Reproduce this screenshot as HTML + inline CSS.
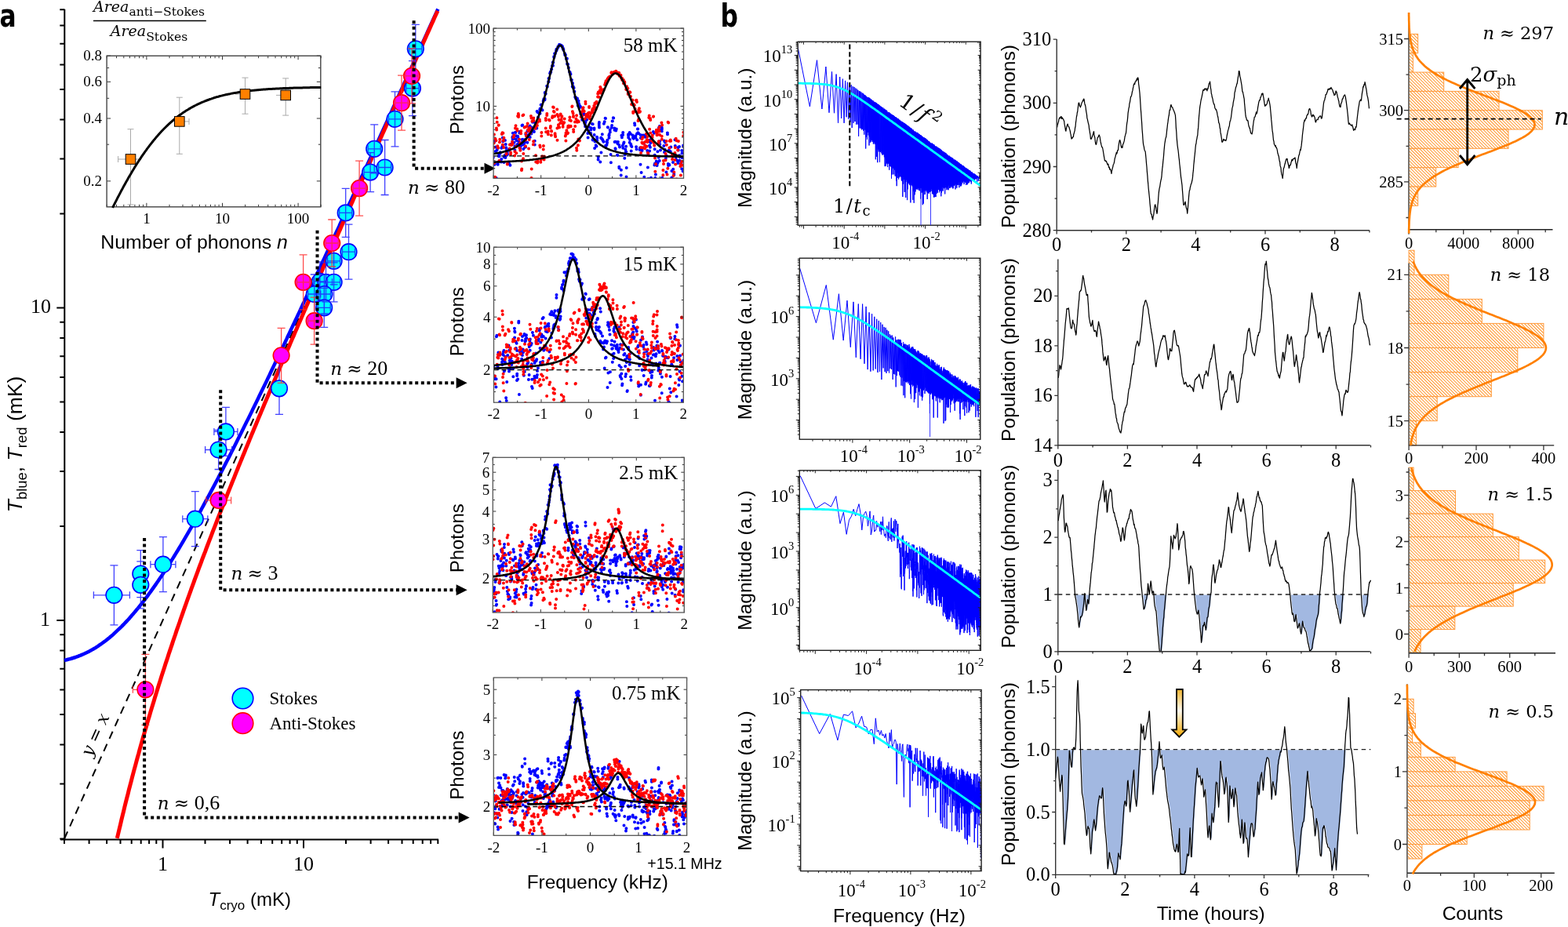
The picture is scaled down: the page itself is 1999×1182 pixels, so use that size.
<!DOCTYPE html><html><head><meta charset="utf-8"><style>html,body{margin:0;padding:0;background:#fff;overflow:hidden}svg{display:block}</style></head><body>
<svg width="1999" height="1182" viewBox="0 0 1999 1182">
<defs>
<pattern id="hatch" patternUnits="userSpaceOnUse" width="2.87" height="10" patternTransform="rotate(-45)"><rect width="2.87" height="10" fill="#fff"/><line x1="0.5" y1="0" x2="0.5" y2="10" stroke="#ff8c1a" stroke-width="0.95"/></pattern>
<linearGradient id="gold" x1="0" y1="0" x2="0" y2="1"><stop offset="0" stop-color="#f2b630"/><stop offset="0.45" stop-color="#fffaf0"/><stop offset="1" stop-color="#f2a800"/></linearGradient>
</defs>
<rect width="1999" height="1182" fill="#fff"/>
<line x1="82.3" y1="11.7" x2="82.3" y2="1071.4" stroke="#000" stroke-width="2" />
<line x1="77" y1="1070.4" x2="559" y2="1070.4" stroke="#000" stroke-width="2" />
<path d="M82 1070.4V1075.9M82.3 1069.5H76.3M113.6 1070.4V1075.9M82.3 999.4H76.3M136.1 1070.4V1075.9M82.3 949.6H76.3M153.5 1070.4V1075.9M82.3 911H76.3M167.7 1070.4V1075.9M82.3 879.4H76.3M179.7 1070.4V1075.9M82.3 852.7H76.3M190.1 1070.4V1075.9M82.3 829.6H76.3M199.3 1070.4V1075.9M82.3 809.2H76.3M207.5 1070.4V1081.4M82.3 791H72.3M261.5 1070.4V1075.9M82.3 671H76.3M293.1 1070.4V1075.9M82.3 600.9H76.3M315.6 1070.4V1075.9M82.3 551.1H76.3M333 1070.4V1075.9M82.3 512.5H76.3M347.2 1070.4V1075.9M82.3 480.9H76.3M359.2 1070.4V1075.9M82.3 454.2H76.3M369.6 1070.4V1075.9M82.3 431.1H76.3M378.8 1070.4V1075.9M82.3 410.7H76.3M387 1070.4V1081.4M82.3 392.5H72.3M441 1070.4V1075.9M82.3 272.5H76.3M472.6 1070.4V1075.9M82.3 202.4H76.3M495.1 1070.4V1075.9M82.3 152.6H76.3M512.5 1070.4V1075.9M82.3 114H76.3M526.7 1070.4V1075.9M82.3 82.4H76.3M538.7 1070.4V1075.9M82.3 55.7H76.3M549.1 1070.4V1075.9M82.3 32.6H76.3M558.3 1070.4V1075.9M82.3 12.2H76.3" stroke="#000" stroke-width="2" fill="none"/>
<text x="207.5" y="1109.7" style="font-family:'Liberation Serif',serif;font-size:26px;" text-anchor="middle" >1</text>
<text x="387" y="1109.7" style="font-family:'Liberation Serif',serif;font-size:26px;" text-anchor="middle" >10</text>
<text x="65" y="398.6" style="font-family:'Liberation Serif',serif;font-size:26px;" text-anchor="end" >10</text>
<text x="64" y="797.5" style="font-family:'Liberation Serif',serif;font-size:26px;" text-anchor="end" >1</text>
<polyline points="82,1069.5 526.7,82.4" fill="none" stroke="#000" stroke-width="2" stroke-linejoin="round" stroke-dasharray="10 7.5"/>
<polyline points="82,842 83.6,841.6 85.2,841.2 86.8,840.8 88.4,840.4 90,840 91.6,839.5 93.2,839 94.8,838.5 96.4,838 98,837.4 99.6,836.8 101.1,836.2 102.7,835.6 104.3,834.9 105.9,834.2 107.5,833.5 109.1,832.7 110.7,832 112.3,831.2 113.9,830.4 115.5,829.5 117.1,828.6 118.7,827.7 120.3,826.8 121.9,825.8 123.4,824.8 125,823.8 126.6,822.7 128.2,821.6 129.8,820.5 131.4,819.3 133,818.2 134.6,817 136.2,815.7 137.8,814.4 139.4,813.2 141,811.8 142.6,810.5 144.2,809.1 145.7,807.7 147.3,806.2 148.9,804.7 150.5,803.2 152.1,801.7 153.7,800.1 155.3,798.6 156.9,796.9 158.5,795.3 160.1,793.6 161.7,791.9 163.3,790.2 164.9,788.4 166.5,786.6 168,784.8 169.6,783 171.2,781.1 172.8,779.2 174.4,777.3 176,775.4 177.6,773.4 179.2,771.4 180.8,769.4 182.4,767.3 184,765.3 185.6,763.2 187.2,761.1 188.8,758.9 190.3,756.8 191.9,754.6 193.5,752.4 195.1,750.1 196.7,747.9 198.3,745.6 199.9,743.3 201.5,741 203.1,738.6 204.7,736.3 206.3,733.9 207.9,731.5 209.5,729.1 211.1,726.6 212.6,724.2 214.2,721.7 215.8,719.2 217.4,716.7 219,714.1 220.6,711.6 222.2,709 223.8,706.4 225.4,703.8 227,701.2 228.6,698.5 230.2,695.9 231.8,693.2 233.4,690.5 234.9,687.8 236.5,685.1 238.1,682.4 239.7,679.6 241.3,676.9 242.9,674.1 244.5,671.3 246.1,668.5 247.7,665.7 249.3,662.8 250.9,660 252.5,657.1 254.1,654.3 255.7,651.4 257.2,648.5 258.8,645.6 260.4,642.6 262,639.7 263.6,636.8 265.2,633.8 266.8,630.9 268.4,627.9 270,624.9 271.6,621.9 273.2,618.9 274.8,615.9 276.4,612.8 278,609.8 279.5,606.8 281.1,603.7 282.7,600.6 284.3,597.6 285.9,594.5 287.5,591.4 289.1,588.3 290.7,585.2 292.3,582.1 293.9,578.9 295.5,575.8 297.1,572.7 298.7,569.5 300.3,566.3 301.8,563.2 303.4,560 305,556.8 306.6,553.7 308.2,550.5 309.8,547.3 311.4,544.1 313,540.8 314.6,537.6 316.2,534.4 317.8,531.2 319.4,527.9 321,524.7 322.5,521.4 324.1,518.2 325.7,514.9 327.3,511.7 328.9,508.4 330.5,505.1 332.1,501.8 333.7,498.5 335.3,495.3 336.9,492 338.5,488.7 340.1,485.4 341.7,482 343.3,478.7 344.8,475.4 346.4,472.1 348,468.8 349.6,465.4 351.2,462.1 352.8,458.8 354.4,455.4 356,452.1 357.6,448.7 359.2,445.4 360.8,442 362.4,438.6 364,435.3 365.6,431.9 367.1,428.5 368.7,425.2 370.3,421.8 371.9,418.4 373.5,415 375.1,411.6 376.7,408.2 378.3,404.9 379.9,401.5 381.5,398.1 383.1,394.7 384.7,391.2 386.3,387.8 387.9,384.4 389.4,381 391,377.6 392.6,374.2 394.2,370.8 395.8,367.3 397.4,363.9 399,360.5 400.6,357.1 402.2,353.6 403.8,350.2 405.4,346.8 407,343.3 408.6,339.9 410.2,336.5 411.7,333 413.3,329.6 414.9,326.1 416.5,322.7 418.1,319.2 419.7,315.8 421.3,312.3 422.9,308.9 424.5,305.4 426.1,301.9 427.7,298.5 429.3,295 430.9,291.6 432.5,288.1 434,284.6 435.6,281.2 437.2,277.7 438.8,274.2 440.4,270.8 442,267.3 443.6,263.8 445.2,260.3 446.8,256.9 448.4,253.4 450,249.9 451.6,246.4 453.2,242.9 454.8,239.5 456.3,236 457.9,232.5 459.5,229 461.1,225.5 462.7,222 464.3,218.5 465.9,215.1 467.5,211.6 469.1,208.1 470.7,204.6 472.3,201.1 473.9,197.6 475.5,194.1 477.1,190.6 478.6,187.1 480.2,183.6 481.8,180.1 483.4,176.6 485,173.1 486.6,169.6 488.2,166.1 489.8,162.6 491.4,159.1 493,155.6 494.6,152.1 496.2,148.6 497.8,145.1 499.4,141.6 500.9,138.1 502.5,134.6 504.1,131.1 505.7,127.6 507.3,124.1 508.9,120.5 510.5,117 512.1,113.5 513.7,110 515.3,106.5 516.9,103 518.5,99.5 520.1,96 521.7,92.5 523.2,88.9 524.8,85.4 526.4,81.9 528,78.4 529.6,74.9 531.2,71.4 532.8,67.8 534.4,64.3 536,60.8 537.6,57.3 539.2,53.8 540.8,50.3 542.4,46.7 544,43.2 545.5,39.7 547.1,36.2 548.7,32.7 550.3,29.1 551.9,25.6 553.5,22.1 555.1,18.6 556.7,15.1 558.3,11.5" fill="none" stroke="#0000ff" stroke-width="4.5" stroke-linejoin="round" />
<polyline points="149.3,1068.9 150.7,1063 152.1,1057.2 153.5,1051.4 154.8,1045.6 156.2,1039.9 157.6,1034.3 158.9,1028.7 160.3,1023.2 161.7,1017.7 163.1,1012.3 164.4,1006.9 165.8,1001.6 167.2,996.3 168.5,991.1 169.9,985.9 171.3,980.7 172.7,975.6 174,970.6 175.4,965.5 176.8,960.6 178.1,955.6 179.5,950.7 180.9,945.8 182.2,941 183.6,936.2 185,931.4 186.4,926.7 187.7,922 189.1,917.3 190.5,912.7 191.8,908.1 193.2,903.5 194.6,899 196,894.5 197.3,890 198.7,885.5 200.1,881.1 201.4,876.7 202.8,872.3 204.2,867.9 205.5,863.6 206.9,859.3 208.3,855 209.7,850.8 211,846.6 212.4,842.4 213.8,838.2 215.1,834 216.5,829.9 217.9,825.7 219.3,821.6 220.6,817.6 222,813.5 223.4,809.5 224.7,805.4 226.1,801.4 227.5,797.5 228.9,793.5 230.2,789.5 231.6,785.6 233,781.7 234.3,777.8 235.7,773.9 237.1,770 238.4,766.2 239.8,762.3 241.2,758.5 242.6,754.7 243.9,750.9 245.3,747.1 246.7,743.4 248,739.6 249.4,735.9 250.8,732.2 252.2,728.4 253.5,724.7 254.9,721 256.3,717.4 257.6,713.7 259,710 260.4,706.4 261.8,702.8 263.1,699.2 264.5,695.5 265.9,691.9 267.2,688.4 268.6,684.8 270,681.2 271.3,677.6 272.7,674.1 274.1,670.6 275.5,667 276.8,663.5 278.2,660 279.6,656.5 280.9,653 282.3,649.5 283.7,646 285.1,642.5 286.4,639.1 287.8,635.6 289.2,632.2 290.5,628.7 291.9,625.3 293.3,621.9 294.7,618.4 296,615 297.4,611.6 298.8,608.2 300.1,604.8 301.5,601.4 302.9,598 304.2,594.7 305.6,591.3 307,587.9 308.4,584.6 309.7,581.2 311.1,577.9 312.5,574.5 313.8,571.2 315.2,567.9 316.6,564.5 318,561.2 319.3,557.9 320.7,554.6 322.1,551.3 323.4,548 324.8,544.7 326.2,541.4 327.6,538.1 328.9,534.8 330.3,531.5 331.7,528.3 333,525 334.4,521.7 335.8,518.5 337.1,515.2 338.5,511.9 339.9,508.7 341.3,505.4 342.6,502.2 344,499 345.4,495.7 346.7,492.5 348.1,489.3 349.5,486 350.9,482.8 352.2,479.6 353.6,476.4 355,473.2 356.3,469.9 357.7,466.7 359.1,463.5 360.5,460.3 361.8,457.1 363.2,453.9 364.6,450.7 365.9,447.5 367.3,444.4 368.7,441.2 370,438 371.4,434.8 372.8,431.6 374.2,428.5 375.5,425.3 376.9,422.1 378.3,418.9 379.6,415.8 381,412.6 382.4,409.4 383.8,406.3 385.1,403.1 386.5,400 387.9,396.8 389.2,393.7 390.6,390.5 392,387.4 393.4,384.2 394.7,381.1 396.1,377.9 397.5,374.8 398.8,371.6 400.2,368.5 401.6,365.4 402.9,362.2 404.3,359.1 405.7,356 407.1,352.8 408.4,349.7 409.8,346.6 411.2,343.5 412.5,340.3 413.9,337.2 415.3,334.1 416.7,331 418,327.8 419.4,324.7 420.8,321.6 422.1,318.5 423.5,315.4 424.9,312.3 426.3,309.2 427.6,306.1 429,302.9 430.4,299.8 431.7,296.7 433.1,293.6 434.5,290.5 435.8,287.4 437.2,284.3 438.6,281.2 440,278.1 441.3,275 442.7,271.9 444.1,268.8 445.4,265.7 446.8,262.6 448.2,259.5 449.6,256.4 450.9,253.3 452.3,250.3 453.7,247.2 455,244.1 456.4,241 457.8,237.9 459.2,234.8 460.5,231.7 461.9,228.6 463.3,225.6 464.6,222.5 466,219.4 467.4,216.3 468.7,213.2 470.1,210.1 471.5,207.1 472.9,204 474.2,200.9 475.6,197.8 477,194.7 478.3,191.7 479.7,188.6 481.1,185.5 482.5,182.4 483.8,179.4 485.2,176.3 486.6,173.2 487.9,170.1 489.3,167.1 490.7,164 492.1,160.9 493.4,157.8 494.8,154.8 496.2,151.7 497.5,148.6 498.9,145.6 500.3,142.5 501.6,139.4 503,136.3 504.4,133.3 505.8,130.2 507.1,127.1 508.5,124.1 509.9,121 511.2,117.9 512.6,114.9 514,111.8 515.4,108.8 516.7,105.7 518.1,102.6 519.5,99.6 520.8,96.5 522.2,93.4 523.6,90.4 525,87.3 526.3,84.2 527.7,81.2 529.1,78.1 530.4,75.1 531.8,72 533.2,68.9 534.5,65.9 535.9,62.8 537.3,59.8 538.7,56.7 540,53.6 541.4,50.6 542.8,47.5 544.1,44.5 545.5,41.4 546.9,38.4 548.3,35.3 549.6,32.2 551,29.2 552.4,26.1 553.7,23.1 555.1,20 556.5,17 557.9,13.9" fill="none" stroke="#ff0000" stroke-width="5" stroke-linejoin="round" />
<path d="M356 462.3V528.3M351 462.3H361M351 528.3H361M348 495.3H364M348 490.8V499.8M364 490.8V499.8M287.9 519.4V581.4M282.9 519.4H292.9M282.9 581.4H292.9M272.9 550.4H302.9M272.9 545.9V554.9M302.9 545.9V554.9M278.6 548.5V598.5M273.6 548.5H283.6M273.6 598.5H283.6M261.6 573.5H295.6M261.6 569V578M295.6 569V578M248.8 626.7V696.7M243.8 626.7H253.8M243.8 696.7H253.8M232.8 661.7H264.8M232.8 657.2V666.2M264.8 657.2V666.2M207.9 684.7V754.7M202.9 684.7H212.9M202.9 754.7H212.9M191.9 719.7H223.9M191.9 715.2V724.2M223.9 715.2V724.2M179.3 701.6V761.6M174.3 701.6H184.3M174.3 761.6H184.3M171.3 731.6H187.3M171.3 727.1V736.1M187.3 727.1V736.1M179.3 715.8V775.8M174.3 715.8H184.3M174.3 775.8H184.3M171.3 745.8H187.3M171.3 741.3V750.3M187.3 741.3V750.3M145.4 720.8V796.8M140.4 720.8H150.4M140.4 796.8H150.4M119.4 758.8H165.4M119.4 754.3V763.3M165.4 754.3V763.3" stroke="#2020ff" stroke-width="1.3" fill="none" opacity="0.85"/>
<circle cx="356" cy="495.3" r="10.3" fill="#00ffff" stroke="#0000ff" stroke-width="1.6"/>
<circle cx="287.9" cy="550.4" r="10.3" fill="#00ffff" stroke="#0000ff" stroke-width="1.6"/>
<circle cx="278.6" cy="573.5" r="10.3" fill="#00ffff" stroke="#0000ff" stroke-width="1.6"/>
<circle cx="248.8" cy="661.7" r="10.3" fill="#00ffff" stroke="#0000ff" stroke-width="1.6"/>
<circle cx="207.9" cy="719.7" r="10.3" fill="#00ffff" stroke="#0000ff" stroke-width="1.6"/>
<circle cx="179.3" cy="731.6" r="10.3" fill="#00ffff" stroke="#0000ff" stroke-width="1.6"/>
<circle cx="179.3" cy="745.8" r="10.3" fill="#00ffff" stroke="#0000ff" stroke-width="1.6"/>
<circle cx="145.4" cy="758.8" r="10.3" fill="#00ffff" stroke="#0000ff" stroke-width="1.6"/>
<path d="M358.6 418.3V488.3M353.6 418.3H363.6M353.6 488.3H363.6M350.6 453.3H366.6M350.6 448.8V457.8M366.6 448.8V457.8M278.6 629.9V645.9M273.6 629.9H283.6M273.6 645.9H283.6M262.6 637.9H294.6M262.6 633.4V642.4M294.6 633.4V642.4M185.4 834.3V924.3M180.4 834.3H190.4M180.4 924.3H190.4M169.4 879.3H188.4M169.4 874.8V883.8M188.4 874.8V883.8" stroke="#ff3030" stroke-width="1.3" fill="none" opacity="0.85"/>
<circle cx="358.6" cy="453.3" r="10.3" fill="#ff00ff" stroke="#ff0000" stroke-width="1.6"/>
<circle cx="278.6" cy="637.9" r="10.3" fill="#ff00ff" stroke="#ff0000" stroke-width="1.6"/>
<circle cx="185.4" cy="879.3" r="10.3" fill="#ff00ff" stroke="#ff0000" stroke-width="1.6"/>
<circle cx="529.8" cy="62.3" r="10.3" fill="#00ffff" stroke="#0000ff" stroke-width="1.6"/>
<circle cx="525.9" cy="112.6" r="10.3" fill="#00ffff" stroke="#0000ff" stroke-width="1.6"/>
<circle cx="503.5" cy="151.8" r="10.3" fill="#00ffff" stroke="#0000ff" stroke-width="1.6"/>
<circle cx="477.2" cy="189.8" r="10.3" fill="#00ffff" stroke="#0000ff" stroke-width="1.6"/>
<circle cx="472.1" cy="219.6" r="10.3" fill="#00ffff" stroke="#0000ff" stroke-width="1.6"/>
<circle cx="490.6" cy="213.5" r="10.3" fill="#00ffff" stroke="#0000ff" stroke-width="1.6"/>
<circle cx="440.7" cy="271.4" r="10.3" fill="#00ffff" stroke="#0000ff" stroke-width="1.6"/>
<circle cx="444.5" cy="321.2" r="10.3" fill="#00ffff" stroke="#0000ff" stroke-width="1.6"/>
<circle cx="425.6" cy="332.8" r="10.3" fill="#00ffff" stroke="#0000ff" stroke-width="1.6"/>
<circle cx="407.9" cy="358.8" r="10.3" fill="#00ffff" stroke="#0000ff" stroke-width="1.6"/>
<circle cx="415.5" cy="359.8" r="10.3" fill="#00ffff" stroke="#0000ff" stroke-width="1.6"/>
<circle cx="425.6" cy="359.8" r="10.3" fill="#00ffff" stroke="#0000ff" stroke-width="1.6"/>
<circle cx="400.8" cy="375" r="10.3" fill="#00ffff" stroke="#0000ff" stroke-width="1.6"/>
<circle cx="413.4" cy="375" r="10.3" fill="#00ffff" stroke="#0000ff" stroke-width="1.6"/>
<circle cx="413.2" cy="392.3" r="10.3" fill="#00ffff" stroke="#0000ff" stroke-width="1.6"/>
<path d="M529.8 31.3V93.3M524.8 31.3H534.8M524.8 93.3H534.8M521.8 62.3H537.8M521.8 57.8V66.8M537.8 57.8V66.8M525.9 77.6V147.6M520.9 77.6H530.9M520.9 147.6H530.9M517.9 112.6H533.9M517.9 108.1V117.1M533.9 108.1V117.1M503.5 116.8V186.8M498.5 116.8H508.5M498.5 186.8H508.5M495.5 151.8H511.5M495.5 147.3V156.3M511.5 147.3V156.3M477.2 158.8V220.8M472.2 158.8H482.2M472.2 220.8H482.2M469.2 189.8H485.2M469.2 185.3V194.3M485.2 185.3V194.3M472.1 194.6V244.6M467.1 194.6H477.1M467.1 244.6H477.1M464.1 219.6H480.1M464.1 215.1V224.1M480.1 215.1V224.1M490.6 178.5V248.5M485.6 178.5H495.6M485.6 248.5H495.6M482.6 213.5H498.6M482.6 209V218M498.6 209V218M440.7 240.4V302.4M435.7 240.4H445.7M435.7 302.4H445.7M432.7 271.4H448.7M432.7 266.9V275.9M448.7 266.9V275.9M444.5 286.2V356.2M439.5 286.2H449.5M439.5 356.2H449.5M436.5 321.2H452.5M436.5 316.7V325.7M452.5 316.7V325.7M425.6 302.8V362.8M420.6 302.8H430.6M420.6 362.8H430.6M417.6 332.8H433.6M417.6 328.3V337.3M433.6 328.3V337.3M407.9 333.8V383.8M402.9 333.8H412.9M402.9 383.8H412.9M399.9 358.8H415.9M399.9 354.3V363.3M415.9 354.3V363.3M415.5 334.8V384.8M410.5 334.8H420.5M410.5 384.8H420.5M407.5 359.8H423.5M407.5 355.3V364.3M423.5 355.3V364.3M425.6 334.8V384.8M420.6 334.8H430.6M420.6 384.8H430.6M417.6 359.8H433.6M417.6 355.3V364.3M433.6 355.3V364.3M400.8 350V400M395.8 350H405.8M395.8 400H405.8M392.8 375H408.8M392.8 370.5V379.5M408.8 370.5V379.5M413.4 350V400M408.4 350H418.4M408.4 400H418.4M405.4 375H421.4M405.4 370.5V379.5M421.4 370.5V379.5M413.2 367.3V417.3M408.2 367.3H418.2M408.2 417.3H418.2M405.2 392.3H421.2M405.2 387.8V396.8M421.2 387.8V396.8" stroke="#2020ff" stroke-width="1.3" fill="none" opacity="0.85"/>
<circle cx="525" cy="96.8" r="10.3" fill="#ff00ff" stroke="#ff0000" stroke-width="1.6"/>
<circle cx="512" cy="131.2" r="10.3" fill="#ff00ff" stroke="#ff0000" stroke-width="1.6"/>
<circle cx="458.1" cy="240.1" r="10.3" fill="#ff00ff" stroke="#ff0000" stroke-width="1.6"/>
<circle cx="423.2" cy="310" r="10.3" fill="#ff00ff" stroke="#ff0000" stroke-width="1.6"/>
<circle cx="386.6" cy="359.8" r="10.3" fill="#ff00ff" stroke="#ff0000" stroke-width="1.6"/>
<circle cx="400.6" cy="409.2" r="10.3" fill="#ff00ff" stroke="#ff0000" stroke-width="1.6"/>
<path d="M525 61.8V131.8M520 61.8H530M520 131.8H530M517 96.8H533M517 92.3V101.3M533 92.3V101.3M512 96.2V166.2M507 96.2H517M507 166.2H517M504 131.2H520M504 126.7V135.7M520 126.7V135.7M458.1 205.1V275.1M453.1 205.1H463.1M453.1 275.1H463.1M450.1 240.1H466.1M450.1 235.6V244.6M466.1 235.6V244.6M423.2 280V340M418.2 280H428.2M418.2 340H428.2M415.2 310H431.2M415.2 305.5V314.5M431.2 305.5V314.5M386.6 324.8V394.8M381.6 324.8H391.6M381.6 394.8H391.6M378.6 359.8H394.6M378.6 355.3V364.3M394.6 355.3V364.3M400.6 379.2V439.2M395.6 379.2H405.6M395.6 439.2H405.6M392.6 409.2H408.6M392.6 404.7V413.7M408.6 404.7V413.7" stroke="#ff3030" stroke-width="1.3" fill="none" opacity="0.85"/>
<polyline points="527.6,26.2 527.6,214.7 618.5,214.7" fill="none" stroke="#000" stroke-width="4" stroke-linejoin="round" stroke-dasharray="4 3.6" stroke-linejoin="miter"/>
<polygon points="617.5,207.7 631.5,214.7 617.5,221.7" fill="#000"/>
<polyline points="404.5,293.8 404.5,488.3 582.6,488.3" fill="none" stroke="#000" stroke-width="4" stroke-linejoin="round" stroke-dasharray="4 3.6" stroke-linejoin="miter"/>
<polygon points="581.6,481.3 595.6,488.3 581.6,495.3" fill="#000"/>
<polyline points="281.2,497.2 281.2,752.2 582.6,752.2" fill="none" stroke="#000" stroke-width="4" stroke-linejoin="round" stroke-dasharray="4 3.6" stroke-linejoin="miter"/>
<polygon points="581.6,745.2 595.6,752.2 581.6,759.2" fill="#000"/>
<polyline points="184.1,685.9 184.1,1042.6 585.6,1042.6" fill="none" stroke="#000" stroke-width="4" stroke-linejoin="round" stroke-dasharray="4 3.6" stroke-linejoin="miter"/>
<polygon points="584.6,1035.6 598.6,1042.6 584.6,1049.6" fill="#000"/>
<circle cx="309.5" cy="890.5" r="13.3" fill="#00ffff" stroke="#0000ff" stroke-width="1.6"/>
<circle cx="309.5" cy="922.2" r="13.3" fill="#ff00ff" stroke="#ff0000" stroke-width="1.6"/>
<text x="343.5" y="898.4" style="font-family:'Liberation Serif',serif;font-size:23px;" text-anchor="start" >Stokes</text>
<text x="343.5" y="929.7" style="font-family:'Liberation Serif',serif;font-size:23px;" text-anchor="start" >Anti-Stokes</text>
<text x="520" y="247.4" style="font-family:'DejaVu Serif',serif;font-size:23px;font-style:italic">n</text>
<text x="541" y="247.4" style="font-family:'DejaVu Serif',serif;font-size:23px">≈</text>
<text x="567" y="247.4" style="font-family:'Liberation Serif',serif;font-size:26px">80</text>
<text x="421.3" y="478" style="font-family:'DejaVu Serif',serif;font-size:23px;font-style:italic">n</text>
<text x="442.3" y="478" style="font-family:'DejaVu Serif',serif;font-size:23px">≈</text>
<text x="468.3" y="478" style="font-family:'Liberation Serif',serif;font-size:26px">20</text>
<text x="294.4" y="738.7" style="font-family:'DejaVu Serif',serif;font-size:23px;font-style:italic">n</text>
<text x="315.4" y="738.7" style="font-family:'DejaVu Serif',serif;font-size:23px">≈</text>
<text x="341.4" y="738.7" style="font-family:'Liberation Serif',serif;font-size:26px">3</text>
<text x="200.7" y="1031.7" style="font-family:'DejaVu Serif',serif;font-size:23px;font-style:italic">n</text>
<text x="221.7" y="1031.7" style="font-family:'DejaVu Serif',serif;font-size:23px">≈</text>
<text x="247.7" y="1031.7" style="font-family:'Liberation Serif',serif;font-size:26px">0,6</text>
<text transform="translate(128,940) rotate(-65.8)" style="font-family:'DejaVu Serif',serif;font-size:22px;font-style:italic" text-anchor="middle">y = x</text>
<text transform="translate(-0.5,33.8) scale(0.87,1)" style="font-family:'DejaVu Sans Condensed','DejaVu Sans',sans-serif;font-size:40px;font-weight:bold">a</text>
<text transform="translate(28,566.5) rotate(-90)" style="font-family:'Liberation Sans',sans-serif;font-size:26.5px" text-anchor="middle"><tspan font-style="italic">T</tspan><tspan font-size="18.5" dy="6">blue</tspan><tspan dy="-6">, </tspan><tspan font-style="italic">T</tspan><tspan font-size="18.5" dy="6">red</tspan><tspan dy="-6"> (mK)</tspan></text>
<text x="265.5" y="1154.5" style="font-family:'Liberation Sans',sans-serif;font-size:24px"><tspan font-style="italic">T</tspan><tspan font-size="17" dy="5">cryo</tspan><tspan dy="-5"> (mK)</tspan></text>
<path d="M136.4 263.8V260.8M136.4 71.2V74.2M148.5 263.8V260.8M148.5 71.2V74.2M157.8 263.8V260.8M157.8 71.2V74.2M165.5 263.8V260.8M165.5 71.2V74.2M171.9 263.8V260.8M171.9 71.2V74.2M177.5 263.8V260.8M177.5 71.2V74.2M182.5 263.8V260.8M182.5 71.2V74.2M186.9 263.8V258.8M186.9 71.2V76.2M216 263.8V260.8M216 71.2V74.2M233 263.8V260.8M233 71.2V74.2M245.1 263.8V260.8M245.1 71.2V74.2M254.4 263.8V260.8M254.4 71.2V74.2M262.1 263.8V260.8M262.1 71.2V74.2M268.5 263.8V260.8M268.5 71.2V74.2M274.1 263.8V260.8M274.1 71.2V74.2M279.1 263.8V260.8M279.1 71.2V74.2M283.5 263.8V258.8M283.5 71.2V76.2M312.6 263.8V260.8M312.6 71.2V74.2M329.6 263.8V260.8M329.6 71.2V74.2M341.7 263.8V260.8M341.7 71.2V74.2M351 263.8V260.8M351 71.2V74.2M358.7 263.8V260.8M358.7 71.2V74.2M365.1 263.8V260.8M365.1 71.2V74.2M370.7 263.8V260.8M370.7 71.2V74.2M375.7 263.8V260.8M375.7 71.2V74.2M380.1 263.8V258.8M380.1 71.2V76.2M409.2 263.8V260.8M409.2 71.2V74.2M136.1 230.9H141.1M408.8 230.9H403.8M136.1 184.2H139.1M408.8 184.2H405.8M136.1 151H141.1M408.8 151H403.8M136.1 125.3H139.1M408.8 125.3H405.8M136.1 104.3H141.1M408.8 104.3H403.8M136.1 86.6H139.1M408.8 86.6H405.8M136.1 71.2H141.1M408.8 71.2H403.8" stroke="#333" stroke-width="1" fill="none"/>
<rect x="136.1" y="71.2" width="272.7" height="192.6" fill="none" stroke="#444" stroke-width="1.4"/>
<text x="130" y="77.2" style="font-family:'Liberation Serif',serif;font-size:19px;" text-anchor="end" >0.8</text>
<text x="130" y="110.3" style="font-family:'Liberation Serif',serif;font-size:19px;" text-anchor="end" >0.6</text>
<text x="130" y="157" style="font-family:'Liberation Serif',serif;font-size:19px;" text-anchor="end" >0.4</text>
<text x="130" y="236.9" style="font-family:'Liberation Serif',serif;font-size:19px;" text-anchor="end" >0.2</text>
<text x="186.9" y="284.8" style="font-family:'Liberation Serif',serif;font-size:19px;" text-anchor="middle" >1</text>
<text x="283.5" y="284.8" style="font-family:'Liberation Serif',serif;font-size:19px;" text-anchor="middle" >10</text>
<text x="380.1" y="284.8" style="font-family:'Liberation Serif',serif;font-size:19px;" text-anchor="middle" >100</text>
<path d="M166.5 164.7V261M162.5 164.7H170.5M162.5 261H170.5M228.8 124.2V196.3M224.8 124.2H232.8M224.8 196.3H232.8M312.5 99.1V145.2M308.5 99.1H316.5M308.5 145.2H316.5M364.2 99.9V147.1M360.2 99.9H368.2M360.2 147.1H368.2M150.6 203H180M150.6 199V207M232 154.9H241M241 151V159M300 120H306M352 121.4H358" stroke="#aaa" stroke-width="1" fill="none"/>
<polyline points="143.6,264.9 144.9,262.2 146.2,259.6 147.6,256.9 148.9,254.3 150.2,251.7 151.6,249.1 152.9,246.6 154.2,244.1 155.6,241.6 156.9,239.1 158.3,236.6 159.6,234.2 160.9,231.8 162.3,229.4 163.6,227.1 164.9,224.8 166.3,222.5 167.6,220.2 168.9,218 170.3,215.8 171.6,213.6 172.9,211.5 174.3,209.3 175.6,207.3 176.9,205.2 178.3,203.2 179.6,201.1 180.9,199.2 182.3,197.2 183.6,195.3 184.9,193.4 186.3,191.6 187.6,189.7 189,187.9 190.3,186.1 191.6,184.4 193,182.7 194.3,181 195.6,179.3 197,177.7 198.3,176.1 199.6,174.5 201,173 202.3,171.5 203.6,170 205,168.5 206.3,167.1 207.6,165.7 209,164.3 210.3,163 211.6,161.7 213,160.4 214.3,159.1 215.6,157.9 217,156.6 218.3,155.5 219.6,154.3 221,153.2 222.3,152 223.7,150.9 225,149.9 226.3,148.8 227.7,147.8 229,146.8 230.3,145.9 231.7,144.9 233,144 234.3,143.1 235.7,142.2 237,141.3 238.3,140.5 239.7,139.7 241,138.9 242.3,138.1 243.7,137.3 245,136.6 246.3,135.9 247.7,135.1 249,134.5 250.3,133.8 251.7,133.1 253,132.5 254.4,131.9 255.7,131.3 257,130.7 258.4,130.1 259.7,129.6 261,129 262.4,128.5 263.7,128 265,127.5 266.4,127 267.7,126.5 269,126.1 270.4,125.6 271.7,125.2 273,124.7 274.4,124.3 275.7,123.9 277,123.5 278.4,123.2 279.7,122.8 281,122.4 282.4,122.1 283.7,121.8 285.1,121.4 286.4,121.1 287.7,120.8 289.1,120.5 290.4,120.2 291.7,119.9 293.1,119.7 294.4,119.4 295.7,119.1 297.1,118.9 298.4,118.6 299.7,118.4 301.1,118.2 302.4,118 303.7,117.7 305.1,117.5 306.4,117.3 307.7,117.1 309.1,116.9 310.4,116.7 311.7,116.6 313.1,116.4 314.4,116.2 315.7,116.1 317.1,115.9 318.4,115.7 319.8,115.6 321.1,115.4 322.4,115.3 323.8,115.2 325.1,115 326.4,114.9 327.8,114.8 329.1,114.7 330.4,114.5 331.8,114.4 333.1,114.3 334.4,114.2 335.8,114.1 337.1,114 338.4,113.9 339.8,113.8 341.1,113.7 342.4,113.6 343.8,113.5 345.1,113.5 346.4,113.4 347.8,113.3 349.1,113.2 350.5,113.2 351.8,113.1 353.1,113 354.5,112.9 355.8,112.9 357.1,112.8 358.5,112.8 359.8,112.7 361.1,112.6 362.5,112.6 363.8,112.5 365.1,112.5 366.5,112.4 367.8,112.4 369.1,112.3 370.5,112.3 371.8,112.2 373.1,112.2 374.5,112.1 375.8,112.1 377.1,112.1 378.5,112 379.8,112 381.2,112 382.5,111.9 383.8,111.9 385.2,111.9 386.5,111.8 387.8,111.8 389.2,111.8 390.5,111.7 391.8,111.7 393.2,111.7 394.5,111.7 395.8,111.6 397.2,111.6 398.5,111.6 399.8,111.6 401.2,111.5 402.5,111.5 403.8,111.5 405.2,111.5 406.5,111.4 407.8,111.4 409.2,111.4" fill="none" stroke="#000" stroke-width="3" stroke-linejoin="round" />
<rect x="160.2" y="196.7" width="12.6" height="12.6" fill="#ff8000" stroke="#000" stroke-width="1"/>
<rect x="222.5" y="148.6" width="12.6" height="12.6" fill="#ff8000" stroke="#000" stroke-width="1"/>
<rect x="306.2" y="113.7" width="12.6" height="12.6" fill="#ff8000" stroke="#000" stroke-width="1"/>
<rect x="357.9" y="115.1" width="12.6" height="12.6" fill="#ff8000" stroke="#000" stroke-width="1"/>
<text x="119" y="14.5" style="font-family:'DejaVu Serif',serif;font-size:19px"><tspan font-style="italic">Area</tspan><tspan font-size="15.6" dy="5.5">anti−Stokes</tspan></text>
<line x1="119" y1="26.5" x2="262.8" y2="26.5" stroke="#000" stroke-width="1.4" />
<text x="140.8" y="46" style="font-family:'DejaVu Serif',serif;font-size:19px"><tspan font-style="italic">Area</tspan><tspan font-size="15.6" dy="5.5">Stokes</tspan></text>
<text x="128.3" y="316.9" style="font-family:'Liberation Sans',sans-serif;font-size:24.8px">Number of phonons <tspan font-style="italic">n</tspan></text>
<clipPath id="spc0"><rect x="629.1" y="36.1" width="242.4" height="191.2"/></clipPath>
<path d="M628.8 200.7h0M628.7 201h0M630.1 180.9h0M630.1 180.1h0M630.6 208.2h0M630.7 209.7h0M631.7 187.5h0M631.7 193h0M632.6 227.1h0M633.7 191h0M633.4 191.7h0M634.6 208.1h0M634.7 209.7h0M635.9 199.3h0M636.5 198.2h0M636.5 199.2h0M636 196.6h0M637.7 195.6h0M637.8 194.3h0M638.9 206.6h0M639.2 203.1h0M639.3 188.7h0M640.4 186.7h0M640.9 175.5h0M641.2 180.2h0M640.4 187.7h0M640.8 186.3h0M642.5 207.1h0M642.6 200.2h0M644.7 184.1h0M643.9 178.9h0M643.7 197.7h0M644.4 201.1h0M645.5 192.1h0M645.2 188.2h0M646.2 197.8h0M646.4 195.1h0M647 196.7h0M646.7 195.1h0M648.8 190.3h0M649.2 191.8h0M649.2 208.7h0M650.4 210.8h0M651.3 183.9h0M651.9 184h0M653.6 174.2h0M653.8 169.8h0M653.6 177.6h0M653.3 175.3h0M655.6 181.8h0M655.1 175.9h0M656.4 191.4h0M656.3 186.2h0M657 168.7h0M657.3 169.1h0M658.2 173.2h0M657.4 177.4h0M658.8 179.2h0M659.5 184.2h0M660.1 173.8h0M660.3 175.1h0M661.4 180.4h0M660.6 183.4h0M662.3 169.4h0M662.7 167.8h0M662.9 187.6h0M663.2 188.9h0M664 186.1h0M665 182h0M665.5 160h0M666.1 159.6h0M665.5 178.1h0M666.1 177.7h0M666.4 184.6h0M667.3 189.9h0M668 183.4h0M668.3 182.7h0M669.2 177.9h0M668.9 180.6h0M670 187.6h0M669.2 187.7h0M670.9 173.1h0M670.3 171.3h0M672.3 181.8h0M672.8 174.4h0M672.6 172.6h0M672.3 167.6h0M674.7 173.4h0M674.5 172.1h0M675.7 175.1h0M675.1 170.7h0M674.8 161.9h0M675.5 160.6h0M677.8 162.5h0M676.9 163.2h0M677.8 163.9h0M677.8 164.6h0M677.4 170.4h0M678.4 167.5h0M680.5 155.8h0M679 155.8h0M680.4 167h0M680.9 168.1h0M681.7 179.8h0M681.7 184.5h0M682.8 160.7h0M682.7 160.8h0M682.9 163.5h0M684.3 163.6h0M685.4 142.9h0M684.6 142h0M686.1 143.5h0M686 143.6h0M686.1 149.6h0M685.9 149.7h0M688.5 144.7h0M687.5 144.8h0M688.6 138.6h0M688.2 139.8h0M689.6 133.7h0M690.1 133.6h0M690 139.4h0M690.6 139.9h0M690.9 139.9h0M691.5 140.4h0M692.9 127.8h0M692.6 129.1h0M693.4 126.6h0M693.3 126.2h0M694.6 126.1h0M694.5 127.2h0M694.9 119h0M694.7 118h0M695.7 119.4h0M695.5 120h0M697.2 109.7h0M697.8 110.6h0M697.6 110.1h0M697.7 110h0M699.5 104.3h0M699.2 104.1h0M699.5 100.1h0M700 100.1h0M701.1 93.6h0M701.6 93.2h0M701.7 91.7h0M702.3 91.8h0M703 88.2h0M703.2 88.3h0M703.9 83.9h0M705 83.7h0M704.8 79.6h0M705.3 79.7h0M706.4 73.1h0M706.2 73.1h0M706.6 72h0M706.2 72.2h0M707.9 68.3h0M707.1 68.3h0M709.4 64.7h0M709 64.6h0M710.1 62.8h0M709.4 62.8h0M711.4 60.6h0M711.3 60.6h0M711.8 59.4h0M711.4 59.4h0M713.1 57.3h0M712.8 57.3h0M714.1 57.3h0M712.9 57.3h0M715.2 57.9h0M715.7 57.9h0M716.3 58.6h0M716.3 58.6h0M717 59.3h0M716.8 59.3h0M717.6 62h0M718.1 62h0M718.4 63.8h0M718.4 63.7h0M720 68.3h0M720 68.3h0M720.2 70h0M720.9 70h0M721.9 75h0M722.2 75.1h0M722.9 74.7h0M722.4 74.7h0M723.7 81.8h0M723.1 81.5h0M723.9 82.1h0M724 81.9h0M724.8 86.5h0M724.8 86.3h0M726.1 91.8h0M726.7 92.3h0M727.2 94.5h0M727.5 94.5h0M728.2 101.9h0M728.9 102h0M730.7 110.3h0M729.7 110.6h0M730 106.1h0M729.9 106.7h0M731.6 112h0M731.3 112.2h0M732.1 117h0M732.4 116.8h0M733.2 123.8h0M733.5 123.7h0M734 125.6h0M734.3 124.7h0M735.6 125.9h0M736 125.5h0M736.8 134.8h0M737.2 135.1h0M736.6 127.9h0M737.6 128.7h0M738.1 132.2h0M737.9 132.3h0M739 134.8h0M738.2 133.7h0M739.7 136.8h0M740 135.9h0M740.8 144.2h0M740.3 145.3h0M742.1 152.8h0M742.5 152h0M743.1 145.2h0M742.6 145.2h0M744.7 145.5h0M744.2 146h0M745 155.8h0M745.4 157.4h0M746.1 159.6h0M746.1 161.2h0M746.5 156h0M746.8 152.7h0M748.2 146h0M747.7 146.9h0M748.1 152.7h0M748 152.7h0M749.3 169.9h0M749.6 175.5h0M750.6 161.5h0M751 161.9h0M750.3 166.7h0M750.2 169.2h0M753.7 163.3h0M753.3 165.5h0M753.2 170h0M753 170.8h0M755.7 158.3h0M755 157.9h0M755.6 177.9h0M755.7 178.6h0M757.6 171.9h0M756.8 177.2h0M757.5 163.4h0M757.5 165.1h0M758.1 188.9h0M758.5 180.6h0M759.7 185.2h0M760.4 186.6h0M760.8 178.4h0M761.4 175.9h0M761 174.8h0M761.2 179.2h0M762.7 200.3h0M762.6 203.5h0M763.9 156h0M763.7 158.1h0M763.8 160.6h0M764 162.5h0M766.4 194.5h0M765.3 206.5h0M766.1 176.1h0M766.3 175.6h0M767.8 171.2h0M767.3 177h0M768.1 178h0M767.7 177.4h0M769.4 180.7h0M768.8 179.6h0M770.7 155.2h0M769.9 157.8h0M772 151.1h0M771.6 150.8h0M772.1 185.8h0M772.4 187.8h0M773.4 180.8h0M773.5 184.8h0M774.1 182.1h0M774.3 178.8h0M775 162.4h0M774.8 162.3h0M776.3 172.8h0M776.5 175.7h0M776.6 171.2h0M776.6 172.5h0M777.8 168.5h0M777.7 165.8h0M778.6 196.9h0M778.9 207.3h0M780.1 160.1h0M779.6 162.8h0M780.6 154.5h0M780.9 154.5h0M782.2 150.5h0M781.8 150.3h0M783.3 163.4h0M783.5 165.7h0M783.6 181h0M784.6 180.7h0M784.4 189.3h0M784.7 189.9h0M785.8 164.6h0M785.3 166.4h0M787.5 197.9h0M786.9 197.7h0M787.3 182.9h0M787 181.2h0M787.9 181h0M789.3 184.9h0M789.4 214.3h0M789.3 212.8h0M790 187.4h0M790 187.4h0M791.9 216.7h0M791.7 223.5h0M792.9 175.2h0M792.4 172.8h0M794.1 171.9h0M794.2 169h0M794.3 188.8h0M793.8 185.7h0M795.5 181.6h0M795 182.9h0M796.3 201.7h0M796.7 197.3h0M797.4 190.7h0M797.6 194.2h0M798.3 193.6h0M798.1 186.7h0M798.7 213.9h0M798.5 225.4h0M801 171.5h0M801.2 175.6h0M801.1 171.3h0M801.1 173.1h0M802.7 181.8h0M803 178.1h0M803.9 170.8h0M802.7 169.1h0M804.3 184h0M804.5 185.4h0M804.7 192.6h0M805.4 186.9h0M806.9 175.4h0M806.6 172.5h0M808.6 175.3h0M807.7 176.7h0M809 157.3h0M809.3 159.6h0M810.3 175.4h0M810.4 173.2h0M811.5 190.2h0M811.1 187.3h0M812.2 178.3h0M812 170.5h0M812.9 164.4h0M813.2 164.6h0M814.1 170h0M813.3 169.2h0M815.6 190.9h0M815.9 188.6h0M816.8 176.1h0M816.4 171.9h0M816.5 209.8h0M817.6 220h0M818.6 192.1h0M818.8 189.7h0M819.2 172.5h0M819.2 173.1h0M820 182.5h0M820.9 182.7h0M821.3 225.7h0M821.7 174.5h0M821.1 172.4h0M823.1 174.7h0M823.4 173h0M825.7 193.3h0M825.2 192.1h0M826.5 227.9h0M825.9 213.4h0M826.4 196.3h0M828.1 192.4h0M828.9 187.8h0M828 185.8h0M828.7 178.5h0M829.3 179.2h0M829.4 182.3h0M828.9 181.1h0M830 226.8h0M832.9 168h0M833.9 169.7h0M834.7 197.7h0M834.7 190.3h0M834.4 210.5h0M835 208.4h0M835.3 227.1h0M835.9 222.4h0M837.8 208.9h0M836.8 205.5h0M838.6 207.5h0M837.6 211h0M839.6 200.7h0M838.4 193.3h0M839.9 162.9h0M840.9 160.9h0M841.1 180.2h0M841.3 184h0M840.7 205.1h0M842 191.5h0M842.8 166h0M843.8 162.8h0M843.9 164.6h0M843.8 167.3h0M843.9 227.6h0M844.2 226.7h0M846.3 186h0M846.9 179.5h0M847.6 190.7h0M847 193.9h0M847.8 180.5h0M847.8 181.4h0M849.4 198.3h0M848.8 202.1h0M849.4 219.6h0M850.9 169.5h0M851 171.3h0M852 211h0M851.8 209.1h0M852.8 191.4h0M852.4 193.1h0M853.1 209.7h0M853.3 210.6h0M855.3 187.6h0M854.8 193.3h0M856.4 218.1h0M858.2 215.8h0M858.2 228.4h0M856.3 226.6h0M858 207.1h0M859.2 221.1h0M859.2 222.9h0M860.8 186h0M860.5 178.2h0M860.5 196.5h0M861.8 202.8h0M863.8 205.2h0M864.3 208.1h0M864.4 187.9h0M864.8 191.5h0M866.1 198.3h0M866 187.1h0M866.5 199.9h0M866.2 204.4h0M868.5 207.4h0M869.2 215.3h0M869.5 195.4h0M869.3 192h0M870.6 218.2h0M869.8 201.3h0M871.5 187.1h0M871.1 185.6h0" stroke="#0000ff" stroke-width="4" stroke-linecap="round" fill="none" clip-path="url(#spc0)"/>
<path d="M629.3 188h0M629.9 207.9h0M629.6 182.4h0M629.9 171.5h0M631.2 225.8h0M631.5 176.9h0M632.4 179.3h0M633.1 165.6h0M632.9 163.5h0M633.7 155.8h0M633.4 150.3h0M634.3 186.3h0M635.1 188.6h0M635.7 159.7h0M635.8 159.6h0M636.6 205.5h0M636.4 204.9h0M637.3 177.7h0M636.9 181.3h0M640.5 169.3h0M639.8 170.9h0M641.7 179.1h0M640.9 184.5h0M641.8 179.6h0M641.4 169.7h0M642.2 187.9h0M642.4 175.8h0M645.7 196h0M645.4 196.5h0M646.8 209.6h0M646.9 208.8h0M649.9 184.4h0M649.8 189.4h0M651 196.8h0M651.1 194.5h0M653 180.8h0M653.4 183.2h0M651.9 184.9h0M652.4 184.7h0M655.5 172.5h0M654.5 175h0M656.1 198.4h0M656.4 193.2h0M657.5 160.2h0M656.9 163.6h0M658.3 195.2h0M657.8 186.9h0M659.4 166.6h0M659.3 164.4h0M661 149h0M661.1 146.8h0M660.1 148.1h0M660.8 144.9h0M662.1 177.7h0M662.4 188.8h0M662.9 182.2h0M663.3 191.7h0M664.3 167.1h0M664.1 170.2h0M664.9 217.1h0M665 217h0M665 205.4h0M665.2 215.4h0M667.3 146.4h0M666.4 147.2h0M667 202.2h0M667.3 195.9h0M668.6 162.5h0M669.4 162.1h0M670.4 169.8h0M670.9 173.5h0M670.1 178.4h0M670 186.5h0M672.6 157.6h0M671.9 161.1h0M673 165.3h0M673.4 166.4h0M674.7 178h0M674.1 189.4h0M675.2 163.5h0M675.8 163h0M676.1 169.7h0M675.1 166.8h0M677.4 150.6h0M676.9 148h0M677.7 215.4h0M677.5 227h0M678.9 154.3h0M678.4 154.7h0M680.1 180.2h0M679.8 184.3h0M680.2 150.6h0M680.4 153.7h0M682.5 163.7h0M681.4 162.5h0M683 198.2h0M683.2 206.6h0M683.4 161.4h0M683.7 159.1h0M684.9 159.9h0M685.2 156h0M685.6 205.2h0M685.2 207.4h0M688.1 154.4h0M687.8 152.5h0M688.7 187.4h0M688.3 185.6h0M689.7 203.6h0M689.3 206.7h0M690.3 173.6h0M690.4 169h0M691.2 199.2h0M690.9 200.7h0M692.7 190.4h0M692.9 186.1h0M693.9 199.4h0M693.6 203.5h0M695.7 163.6h0M696.1 168.2h0M695.9 153.3h0M695.8 150.9h0M697.3 144.9h0M697.2 146.9h0M698.8 171.3h0M698.7 170.5h0M698 168h0M698.7 167.6h0M700.6 153.5h0M700 152.7h0M701.9 161h0M701.7 162.9h0M702.8 172.5h0M702.7 172.6h0M703 166.9h0M703.1 167.5h0M704.4 148.3h0M704 150.1h0M705.1 136.5h0M705.8 137.1h0M705.9 141.9h0M706.6 142.8h0M707.2 148.1h0M706.4 148.5h0M708.1 174.3h0M707.8 172.4h0M707.6 170.3h0M707.6 171.7h0M710.3 146h0M710.2 139.5h0M710.4 163.5h0M710.5 178.7h0M712.1 161.3h0M711.9 159.2h0M712.5 152.7h0M711.8 148.7h0M713.1 162.6h0M714.2 157.1h0M714.3 146h0M714.7 145.5h0M715.7 153.8h0M715.6 152.3h0M716.4 148.3h0M716.2 149.1h0M718.2 156.2h0M718 157h0M717.6 161.7h0M717.8 158.6h0M719.7 151.4h0M719.2 156.3h0M720.8 173.6h0M721.4 179.5h0M721.5 169.6h0M721.4 171.4h0M722.4 168.6h0M722.4 166.3h0M723.5 170.2h0M724.1 169.5h0M724.1 162.5h0M725.4 160.6h0M725.5 162h0M724.3 160.7h0M726.2 153.2h0M726.4 149.4h0M727.7 161.3h0M727.6 160.7h0M727 153.3h0M727.9 153.9h0M729.3 136.1h0M729.5 135.6h0M730.6 144.6h0M729.9 142.2h0M731 148.9h0M731 148.1h0M731.1 165.3h0M731.2 167.9h0M733 155.6h0M733.2 161h0M734.4 151.4h0M735.1 147.2h0M735.3 191.7h0M735 188.8h0M735.9 154.1h0M735.9 155.8h0M737.3 177.5h0M736.9 185.3h0M737.8 155.3h0M737.1 154.2h0M738.9 179.5h0M738.9 179.3h0M740.7 148.9h0M740.7 148.9h0M741 145.1h0M741.4 142.7h0M741.8 149.2h0M742.2 147.9h0M743.1 139.8h0M743 138.1h0M743.6 137.2h0M744.2 141.3h0M744.6 141.5h0M744.7 142h0M746.4 129.7h0M746.5 132.2h0M747.4 149h0M745.7 151.6h0M747.6 146h0M746.9 146.9h0M749.9 144.3h0M749.7 148.5h0M750.6 149.4h0M749.6 148.4h0M751.1 136.1h0M751.1 137.1h0M750.7 147.9h0M751.2 143.6h0M752.6 147.7h0M751.9 151.2h0M753.3 144.4h0M754 144.2h0M755.7 142.7h0M755 141.6h0M755.1 140.2h0M755.7 138.4h0M755.9 140.5h0M756.1 140.3h0M757.3 135.1h0M757.8 136.3h0M758.3 133h0M758.4 131.4h0M759.8 137.8h0M759.6 139h0M761.2 131.7h0M760.5 129.8h0M762.2 119.5h0M762.6 119.2h0M763.5 123.7h0M762.1 123.4h0M763.8 117.4h0M762.8 117.6h0M764.8 115.8h0M764.9 115.2h0M765.6 111.8h0M765.3 111.1h0M766.3 118.7h0M765.3 118.4h0M767.2 114.6h0M767.5 115.1h0M767.7 114.6h0M769 115.3h0M769.3 114.5h0M769.5 114.2h0M769.3 114.4h0M769.8 114.3h0M771.1 108h0M772 107.6h0M771.8 105.7h0M772.1 105.6h0M772.5 103.3h0M773 103.3h0M774.1 104.1h0M773.9 104h0M774.5 100.6h0M775.2 100.7h0M776.7 98.8h0M775.6 99h0M776.8 98.6h0M776.9 98.2h0M778 97.5h0M777.1 97.7h0M779.3 92.9h0M779.3 92.7h0M780.2 92.5h0M779.6 92.3h0M781.4 94.5h0M781 94.3h0M781.8 92.8h0M782.3 92.9h0M782.8 91.9h0M783 91.9h0M784.2 91.8h0M784.1 92h0M785.1 90.8h0M785.6 90.9h0M785.7 91.7h0M785.6 92h0M787 94.1h0M787.2 94h0M789.3 93h0M788.4 92.8h0M788.3 94.6h0M788.4 94.8h0M789.7 96h0M789.6 96.1h0M789.6 96.8h0M790.2 96.7h0M791.5 95.9h0M791.3 96h0M793.1 99.7h0M792.1 99.4h0M793.6 101.4h0M793.2 101.9h0M794.5 101.9h0M794.9 102h0M795.5 106h0M795 106.2h0M796.2 106.7h0M796.3 106h0M796.3 104.7h0M796.3 104.5h0M798.7 114.2h0M798.2 113.9h0M798.6 110.4h0M799.1 110.3h0M799.5 113.7h0M800.4 112.8h0M800.8 118.7h0M800.7 119.9h0M801.8 118.1h0M801.8 118.9h0M802.7 117.3h0M803.4 117.7h0M804 123h0M803.3 123.5h0M805.1 133h0M805.4 133.2h0M806.6 127.8h0M806.1 127.5h0M807.2 142.6h0M807.2 144.1h0M807.4 132.6h0M807.8 134h0M808.6 134.6h0M808.8 133.9h0M809.9 141.9h0M809.6 138.8h0M811.9 129.9h0M811 128h0M811.4 127.7h0M811.3 128h0M813.6 142.9h0M814.1 143.2h0M813.5 153.9h0M814.2 152h0M814.3 140.2h0M814.9 138.3h0M815.6 142.7h0M816 142.3h0M817.1 194.9h0M817.2 188.1h0M818.4 181.7h0M818.5 177.2h0M819.3 188.3h0M819.1 182.7h0M820.3 182.2h0M819.5 175h0M822.2 189.2h0M822.2 185.6h0M822.9 180.8h0M822.8 185.9h0M825.4 174.2h0M824 170.8h0M824.7 178.1h0M824.5 186.7h0M826.1 178.8h0M825.5 181h0M825.9 195.1h0M826.3 195.6h0M827.3 150h0M827.7 147.4h0M828.1 164.7h0M829.2 169.6h0M829.2 153h0M829 150.9h0M830.6 179.4h0M831 174.7h0M831.6 174.9h0M831.8 172.4h0M833.3 182h0M832.7 180.6h0M833.1 148.6h0M832.9 148.8h0M834.2 185.5h0M835 201.6h0M836 209.2h0M835.3 218.7h0M836.3 168.2h0M836.9 165.8h0M837.8 167.5h0M837.7 170h0M837.4 171.9h0M837.5 172.3h0M839.8 180.2h0M839.3 183h0M839.4 165.1h0M840.7 167.5h0M841 172.1h0M840.6 161.9h0M844.1 159.4h0M843.4 156.4h0M843.8 177.7h0M843.7 173.8h0M845.9 204.9h0M845.4 217.1h0M845.3 223.3h0M846 208.9h0M848.5 204.3h0M848.5 196h0M849.8 184.7h0M849.6 179.9h0M850.5 222.4h0M851.3 214.8h0M852.2 156.6h0M851.6 155.8h0M853.4 188.5h0M853.8 179.8h0M854.8 178.6h0M855.2 179.8h0M855.2 228.9h0M856.8 198h0M857 203h0M858.2 199.4h0M857.6 199.3h0M858.6 224h0M859.3 219.6h0M861.1 209.5h0M860.5 204.1h0M860.4 195.1h0M860.9 188.2h0M862.6 179.3h0M861.7 176.8h0M862.6 228.6h0M864.9 180.1h0M864.1 191.6h0M867.4 212.1h0M867.7 209h0M867.9 223.4h0M869.3 205.7h0M870.6 210.8h0M871.2 173.3h0M871.4 168.8h0" stroke="#ff0000" stroke-width="4" stroke-linecap="round" fill="none" clip-path="url(#spc0)"/>
<polyline points="629.1,196.1 630.2,196 631.3,195.8 632.4,195.6 633.5,195.4 634.6,195.2 635.7,195 636.8,194.8 638,194.6 639.1,194.3 640.2,194.1 641.3,193.8 642.4,193.5 643.5,193.2 644.6,192.9 645.7,192.6 646.8,192.2 647.9,191.9 649,191.5 650.1,191.1 651.2,190.6 652.3,190.2 653.5,189.7 654.6,189.2 655.7,188.6 656.8,188.1 657.9,187.5 659,186.8 660.1,186.1 661.2,185.4 662.3,184.6 663.4,183.8 664.5,182.9 665.6,182 666.7,181 667.8,180 668.9,178.8 670.1,177.7 671.2,176.4 672.3,175.1 673.4,173.6 674.5,172.1 675.6,170.5 676.7,168.8 677.8,167 678.9,165 680,163 681.1,160.8 682.2,158.5 683.3,156.1 684.4,153.5 685.5,150.8 686.7,147.9 687.8,144.9 688.9,141.7 690,138.3 691.1,134.8 692.2,131.1 693.3,127.3 694.4,123.2 695.5,119.1 696.6,114.7 697.7,110.3 698.8,105.7 699.9,101.1 701,96.3 702.2,91.6 703.3,86.8 704.4,82.2 705.5,77.7 706.6,73.4 707.7,69.4 708.8,65.9 709.9,62.9 711,60.5 712.1,58.8 713.2,57.9 714.3,57.7 715.4,58.4 716.5,59.9 717.6,62.1 718.8,64.9 719.9,68.3 721,72.2 722.1,76.4 723.2,80.8 724.3,85.4 725.4,90.1 726.5,94.9 727.6,99.6 728.7,104.3 729.8,108.9 730.9,113.4 732,117.8 733.1,122 734.3,126.1 735.4,130 736.5,133.7 737.6,137.3 738.7,140.7 739.8,143.9 740.9,147 742,149.9 743.1,152.7 744.2,155.3 745.3,157.8 746.4,160.1 747.5,162.4 748.6,164.4 749.7,166.4 750.9,168.3 752,170 753.1,171.6 754.2,173.2 755.3,174.6 756.4,176 757.5,177.3 758.6,178.5 759.7,179.6 760.8,180.7 761.9,181.7 763,182.6 764.1,183.5 765.2,184.4 766.3,185.2 767.5,185.9 768.6,186.6 769.7,187.3 770.8,187.9 771.9,188.5 773,189 774.1,189.6 775.2,190 776.3,190.5 777.4,191 778.5,191.4 779.6,191.8 780.7,192.1 781.8,192.5 783,192.8 784.1,193.1 785.2,193.4 786.3,193.7 787.4,194 788.5,194.3 789.6,194.5 790.7,194.7 791.8,195 792.9,195.2 794,195.4 795.1,195.6 796.2,195.7 797.3,195.9 798.4,196.1 799.6,196.2 800.7,196.4 801.8,196.5 802.9,196.7 804,196.8 805.1,196.9 806.2,197 807.3,197.2 808.4,197.3 809.5,197.4 810.6,197.5 811.7,197.6 812.8,197.7 813.9,197.7 815.1,197.8 816.2,197.9 817.3,198 818.4,198.1 819.5,198.1 820.6,198.2 821.7,198.3 822.8,198.3 823.9,198.4 825,198.5 826.1,198.5 827.2,198.6 828.3,198.6 829.4,198.7 830.5,198.7 831.7,198.8 832.8,198.8 833.9,198.9 835,198.9 836.1,199 837.2,199 838.3,199 839.4,199.1 840.5,199.1 841.6,199.1 842.7,199.2 843.8,199.2 844.9,199.2 846,199.3 847.1,199.3 848.3,199.3 849.4,199.4 850.5,199.4 851.6,199.4 852.7,199.4 853.8,199.5 854.9,199.5 856,199.5 857.1,199.5 858.2,199.6 859.3,199.6 860.4,199.6 861.5,199.6 862.6,199.6 863.8,199.7 864.9,199.7 866,199.7 867.1,199.7 868.2,199.7 869.3,199.7 870.4,199.8 871.5,199.8" fill="none" stroke="#000" stroke-width="2.6" stroke-linejoin="round" clip-path="url(#spc0)"/>
<polyline points="629.1,206.6 630.2,206.6 631.3,206.6 632.4,206.5 633.5,206.5 634.6,206.4 635.7,206.4 636.8,206.4 638,206.3 639.1,206.3 640.2,206.2 641.3,206.2 642.4,206.2 643.5,206.1 644.6,206.1 645.7,206 646.8,206 647.9,205.9 649,205.9 650.1,205.8 651.2,205.8 652.3,205.7 653.5,205.6 654.6,205.6 655.7,205.5 656.8,205.5 657.9,205.4 659,205.3 660.1,205.2 661.2,205.2 662.3,205.1 663.4,205 664.5,204.9 665.6,204.8 666.7,204.8 667.8,204.7 668.9,204.6 670.1,204.5 671.2,204.4 672.3,204.3 673.4,204.2 674.5,204.1 675.6,203.9 676.7,203.8 677.8,203.7 678.9,203.6 680,203.4 681.1,203.3 682.2,203.2 683.3,203 684.4,202.8 685.5,202.7 686.7,202.5 687.8,202.3 688.9,202.2 690,202 691.1,201.8 692.2,201.6 693.3,201.4 694.4,201.1 695.5,200.9 696.6,200.7 697.7,200.4 698.8,200.2 699.9,199.9 701,199.6 702.2,199.3 703.3,199 704.4,198.7 705.5,198.4 706.6,198 707.7,197.7 708.8,197.3 709.9,196.9 711,196.5 712.1,196 713.2,195.6 714.3,195.1 715.4,194.6 716.5,194.1 717.6,193.6 718.8,193 719.9,192.4 721,191.8 722.1,191.1 723.2,190.4 724.3,189.7 725.4,189 726.5,188.2 727.6,187.4 728.7,186.6 729.8,185.7 730.9,184.7 732,183.8 733.1,182.7 734.3,181.7 735.4,180.5 736.5,179.4 737.6,178.2 738.7,176.9 739.8,175.6 740.9,174.2 742,172.7 743.1,171.2 744.2,169.6 745.3,168 746.4,166.3 747.5,164.5 748.6,162.7 749.7,160.7 750.9,158.8 752,156.7 753.1,154.6 754.2,152.4 755.3,150.1 756.4,147.8 757.5,145.4 758.6,142.9 759.7,140.4 760.8,137.8 761.9,135.2 763,132.5 764.1,129.8 765.2,127.1 766.3,124.3 767.5,121.6 768.6,118.9 769.7,116.2 770.8,113.6 771.9,111 773,108.5 774.1,106.1 775.2,103.9 776.3,101.8 777.4,99.9 778.5,98.2 779.6,96.7 780.7,95.5 781.8,94.6 783,93.9 784.1,93.5 785.2,93.5 786.3,93.7 787.4,94.2 788.5,95.1 789.6,96.2 790.7,97.5 791.8,99.1 792.9,101 794,103 795.1,105.2 796.2,107.5 797.3,109.9 798.4,112.5 799.6,115.1 800.7,117.8 801.8,120.5 802.9,123.2 804,126 805.1,128.7 806.2,131.4 807.3,134.1 808.4,136.7 809.5,139.3 810.6,141.9 811.7,144.3 812.8,146.8 813.9,149.1 815.1,151.4 816.2,153.7 817.3,155.8 818.4,157.9 819.5,159.9 820.6,161.9 821.7,163.7 822.8,165.5 823.9,167.3 825,169 826.1,170.6 827.2,172.1 828.3,173.6 829.4,175 830.5,176.3 831.7,177.6 832.8,178.9 833.9,180.1 835,181.2 836.1,182.3 837.2,183.3 838.3,184.3 839.4,185.3 840.5,186.2 841.6,187.1 842.7,187.9 843.8,188.7 844.9,189.4 846,190.2 847.1,190.8 848.3,191.5 849.4,192.1 850.5,192.7 851.6,193.3 852.7,193.9 853.8,194.4 854.9,194.9 856,195.4 857.1,195.8 858.2,196.3 859.3,196.7 860.4,197.1 861.5,197.5 862.6,197.9 863.8,198.2 864.9,198.6 866,198.9 867.1,199.2 868.2,199.5 869.3,199.8 870.4,200.1 871.5,200.3" fill="none" stroke="#000" stroke-width="2.6" stroke-linejoin="round" clip-path="url(#spc0)"/>
<line x1="629.1" y1="198.8" x2="871.5" y2="198.8" stroke="#000" stroke-width="1.3" stroke-dasharray="6 4"/>
<path d="M629.1 227.3V223.3M629.1 36.1V40.1M659.4 227.3V224.8M659.4 36.1V38.6M689.7 227.3V223.3M689.7 36.1V40.1M720 227.3V224.8M720 36.1V38.6M750.3 227.3V223.3M750.3 36.1V40.1M780.6 227.3V224.8M780.6 36.1V38.6M810.9 227.3V223.3M810.9 36.1V40.1M841.2 227.3V224.8M841.2 36.1V38.6M871.5 227.3V223.3M871.5 36.1V40.1M629.1 36.1H633.1M871.5 36.1H867.5M629.1 135.4H633.1M871.5 135.4H867.5M629.1 204.8H631.6M871.5 204.8H869M629.1 187.3H631.6M871.5 187.3H869M629.1 174.9H631.6M871.5 174.9H869M629.1 165.3H631.6M871.5 165.3H869M629.1 157.4H631.6M871.5 157.4H869M629.1 150.8H631.6M871.5 150.8H869M629.1 145H631.6M871.5 145H869M629.1 139.9H631.6M871.5 139.9H869M629.1 105.5H631.6M871.5 105.5H869M629.1 88H631.6M871.5 88H869M629.1 75.6H631.6M871.5 75.6H869M629.1 66H631.6M871.5 66H869M629.1 58.1H631.6M871.5 58.1H869M629.1 51.5H631.6M871.5 51.5H869M629.1 45.7H631.6M871.5 45.7H869M629.1 40.6H631.6M871.5 40.6H869" stroke="#333" stroke-width="1" fill="none"/>
<rect x="629.1" y="36.1" width="242.4" height="191.2" fill="none" stroke="#555" stroke-width="1.3"/>
<text x="625.1" y="42.6" style="font-family:'Liberation Serif',serif;font-size:19px;" text-anchor="end" >100</text>
<text x="625.1" y="141.9" style="font-family:'Liberation Serif',serif;font-size:19px;" text-anchor="end" >10</text>
<text x="629.1" y="248.5" style="font-family:'Liberation Serif',serif;font-size:19px;" text-anchor="middle" >-2</text>
<text x="689.7" y="248.5" style="font-family:'Liberation Serif',serif;font-size:19px;" text-anchor="middle" >-1</text>
<text x="750.3" y="248.5" style="font-family:'Liberation Serif',serif;font-size:19px;" text-anchor="middle" >0</text>
<text x="810.9" y="248.5" style="font-family:'Liberation Serif',serif;font-size:19px;" text-anchor="middle" >1</text>
<text x="871.5" y="248.5" style="font-family:'Liberation Serif',serif;font-size:19px;" text-anchor="middle" >2</text>
<text x="863.5" y="66.2" style="font-family:'Liberation Serif',serif;font-size:25px;" text-anchor="end" >58 mK</text>
<text transform="translate(590.5,127.2) rotate(-90)" style="font-family:'Liberation Sans',sans-serif;font-size:24px" text-anchor="middle">Photons</text>
<clipPath id="spc1"><rect x="629.5" y="315.2" width="241.8" height="198"/></clipPath>
<path d="M629.2 466.9h0M628.9 468.7h0M630.5 479.6h0M630.3 480h0M631.1 483.2h0M630.9 481.9h0M632.4 493.6h0M632.6 483.3h0M633.4 427.8h0M632.9 429.2h0M634.7 470.1h0M634.5 467.8h0M635.4 449.5h0M635.5 450.7h0M636.2 452.8h0M636.1 449.9h0M637.2 512.4h0M640.1 457.7h0M641.3 460.1h0M640 461.7h0M640.4 464.9h0M641.8 452.7h0M641 451.8h0M642.4 447.1h0M641.9 448.7h0M643 473.1h0M642.7 473.4h0M644.3 454.9h0M644 461.9h0M646.2 487h0M645.7 510.9h0M645.1 507.3h0M647.2 453.1h0M647.9 442.3h0M648.5 440.6h0M649.4 446.5h0M649 473.5h0M648.6 471.1h0M650 462.8h0M649.8 459.8h0M651 469.2h0M651.7 462.8h0M652.8 460.7h0M651.5 456.7h0M652.3 465.1h0M652.3 464.5h0M654.3 480.3h0M654.3 469.6h0M655.9 418.8h0M656.2 422.6h0M656.1 430.6h0M656.5 423.6h0M657.6 435.8h0M657.9 443.9h0M659.1 446.9h0M658.6 437.8h0M659.2 476.7h0M659.1 478.9h0M659 485h0M660.1 483.5h0M661.3 409.8h0M661.2 411.6h0M661.9 503h0M662.6 448h0M663.4 448.4h0M663.8 446.3h0M663.4 451.1h0M665.9 452.9h0M665.1 457.8h0M665.5 434h0M666 429h0M667 449.2h0M666.7 445.4h0M667.9 478.7h0M668.8 473.9h0M669.4 427.5h0M668.5 426.1h0M669.8 435h0M669.4 435.3h0M670.1 434.6h0M670 432.2h0M671.2 431h0M671 427.2h0M673 463.3h0M672.5 468.7h0M672.2 464h0M673.3 462h0M674.6 477.9h0M673.9 484h0M675.7 446.7h0M675.4 435h0M675.8 432.5h0M674.7 442.3h0M676.9 440.1h0M677.6 438.1h0M677.8 464.2h0M678.3 483.8h0M678.7 495h0M678 492.9h0M679.9 427.8h0M678.9 424.1h0M681.4 479.8h0M681.2 483h0M681.7 462.8h0M681.4 460.5h0M683.5 436.2h0M683.2 450.4h0M684.2 458.3h0M683.7 460.1h0M684.9 478h0M684.4 481.3h0M685.9 469.2h0M685 472.9h0M686.4 434h0M686.8 432.3h0M688.2 419.3h0M687.7 421.6h0M689.1 464.9h0M689 462.1h0M688.5 444.1h0M689.3 436.5h0M690.3 429.5h0M690.5 426.6h0M692 461.1h0M691.4 464.3h0M692.7 405.1h0M691.6 406.3h0M692.8 429h0M692.1 429.3h0M693.2 446.8h0M694 445.7h0M694.7 417.5h0M695.2 416.6h0M695.5 441.3h0M695.6 431.4h0M696.4 422.5h0M695.9 422.4h0M697.8 423.3h0M697.8 415.2h0M698.5 413.7h0M698.4 415.8h0M699.4 416.1h0M699.3 412.7h0M700.4 448.4h0M700.3 457.3h0M701.3 400.7h0M701.9 400h0M702.9 401.2h0M703.2 397.2h0M703.4 424.7h0M702.9 430.5h0M705.6 417.9h0M705.3 419.2h0M706 401.9h0M706 399.6h0M706.1 416.6h0M706.1 415.5h0M707.5 413.6h0M706.4 414.3h0M707.6 396.5h0M707.4 396.3h0M708.6 402.9h0M708.7 404.9h0M709.4 379.7h0M709.5 376.1h0M711.8 397.1h0M711.5 395.5h0M711.3 417.2h0M712.2 420.6h0M713.4 395.5h0M713.1 398.4h0M713.8 407h0M713.7 407.7h0M714.5 397h0M714.3 394h0M714.6 403.5h0M714.3 406.5h0M716 368h0M716.1 366.5h0M717.7 362.5h0M717 363.3h0M718.5 370.8h0M717.9 369h0M718.6 357.8h0M718.4 359h0M719.7 347.6h0M719.4 347.3h0M720.5 347.5h0M722.2 347.4h0M722.2 352.1h0M721.9 351.4h0M723.5 346.2h0M723.2 346h0M724.3 343h0M724.7 343h0M725 336.1h0M725.4 338.1h0M725.3 334.5h0M725.2 336.1h0M725.7 333.2h0M726.2 333.6h0M727 329.2h0M726.8 329.2h0M729.4 323.8h0M728.4 323.8h0M729.9 329.5h0M730 330.1h0M730.5 325.1h0M730.6 324.7h0M731 328.6h0M730.6 326.9h0M732.6 328.8h0M731.9 328.9h0M733.4 333.1h0M733.7 332.3h0M734.4 331h0M734 331.8h0M734.8 336.4h0M735.2 335.8h0M737.2 345h0M736.3 345.4h0M736.4 343.2h0M737.1 343.2h0M737.8 346.9h0M737.6 347.2h0M738.3 355.4h0M738.1 356.3h0M739.5 356.6h0M738.8 358.5h0M741 363.7h0M741.2 363.2h0M742 361.6h0M741.4 361.7h0M742.2 381.7h0M742.5 381.2h0M743.4 379.8h0M743.5 378.6h0M744.3 379.1h0M743.8 380.2h0M745 380.1h0M744.7 380.5h0M746.4 374.5h0M746.8 374.9h0M747.3 405.4h0M747.6 400.6h0M749.2 395.3h0M749.3 395h0M748.6 399.4h0M749.1 399.2h0M750.2 400.7h0M750.4 406.4h0M751.7 381.2h0M750.8 381.9h0M751.3 401.8h0M751.5 399.7h0M752.8 395h0M752.3 400.7h0M752.8 412.6h0M753.2 414.7h0M754 394.7h0M755.4 391.8h0M755.9 402.5h0M755.2 402.5h0M756.6 398.8h0M757.5 396.7h0M757.9 400.2h0M757.2 395.5h0M758.5 426.1h0M759 428.7h0M760.1 416.8h0M759.7 411.4h0M760.5 420.5h0M759.8 417.4h0M761.3 407.4h0M761.7 406.7h0M761.9 406.5h0M761.9 406.1h0M763 421.2h0M763.5 417.6h0M763.9 416.9h0M764.7 422.6h0M765.6 436.7h0M765.3 434.7h0M765.8 397.6h0M765.1 393.3h0M766.1 424.3h0M766.2 424.9h0M768 428.6h0M767.3 437h0M769.3 443.2h0M769.1 445.4h0M770 442.4h0M769.5 437.5h0M770.5 436h0M771.4 434.6h0M771.9 456.5h0M770.7 469.4h0M772.5 455.8h0M772.6 455.7h0M774 435.3h0M773.2 437.5h0M775.4 475.5h0M774.5 494h0M775.1 411.3h0M774.9 414.4h0M776.5 413.3h0M776.3 416.7h0M777.5 426.6h0M776.9 420.7h0M777.7 487.9h0M777.9 474.3h0M780 434.3h0M779.4 439.4h0M780.2 444.7h0M780.8 444.2h0M780.4 452.2h0M780.8 461.8h0M782.6 450.7h0M782.2 457h0M782.4 421.9h0M782.7 419.3h0M782.8 440.6h0M783.5 435.7h0M783.6 416.9h0M783.5 423.7h0M785.6 444.5h0M785.1 441.5h0M786.8 439.7h0M786.7 441.3h0M786.4 444.2h0M787.8 446.2h0M788.8 445.8h0M788.6 449.1h0M789.3 417.3h0M788.1 421.5h0M789.5 465.9h0M790.6 478.9h0M790.2 443.6h0M791.1 439.2h0M791.7 468.6h0M791 480.4h0M792.4 483.1h0M792.3 476.4h0M793.1 491.2h0M793.4 489.5h0M794.8 438.9h0M794.9 445.7h0M795.3 452.6h0M796.4 451h0M797.2 467.1h0M797 458.4h0M797.4 479.9h0M798 477h0M798.8 462h0M799.1 454.3h0M799.5 499.1h0M799.8 498.3h0M800.2 453.7h0M799.7 456.6h0M801.3 445.4h0M801.1 443h0M802.1 457.7h0M802.8 464.8h0M803.1 451.2h0M802.9 458.2h0M804.1 480.4h0M804.5 484.8h0M805.9 429.8h0M806 426.2h0M806.2 426.7h0M805.8 427.2h0M806.6 424.9h0M807.2 423.4h0M807.4 410.9h0M807.5 416.1h0M808.6 429.8h0M808.1 431.8h0M809.9 418.5h0M810.8 419.4h0M810.9 407.6h0M810.2 406.8h0M811.7 422.6h0M811.4 421.9h0M813.1 442.2h0M813.7 440.8h0M813.6 448.6h0M813.7 454.5h0M814.2 492.5h0M813.8 489.4h0M815.3 456.9h0M815.1 466.3h0M817 490.7h0M816.9 503.7h0M817.2 433.4h0M817 433.8h0M818.5 471.8h0M818.6 472.1h0M819.1 430.7h0M819 429.4h0M820.1 441.9h0M820.6 440h0M821.9 471.5h0M820.7 479.1h0M821.2 445.3h0M821.3 450h0M823.1 489.8h0M823.6 487.6h0M824.5 439.1h0M823.8 436.4h0M824.6 448.1h0M825.4 451.9h0M825.7 458.2h0M826 453.9h0M827.8 492h0M828.5 492.1h0M828.2 472.2h0M829.2 475h0M830.5 456.5h0M830.3 465.1h0M830.8 481.6h0M831 478.9h0M832.2 465.4h0M831.5 474.1h0M833.1 443h0M832.8 452.5h0M833.8 452.3h0M833.5 446.6h0M835 510.7h0M835.9 454.2h0M836.6 444.5h0M836.4 463.6h0M836.6 451.2h0M838.1 435.7h0M837.4 440.8h0M839.3 472.6h0M839.8 470.7h0M839.3 447.1h0M839.2 441.3h0M840.9 462.7h0M839.8 468.6h0M840.6 449.3h0M841.4 462.7h0M842.1 473.2h0M841.9 476.4h0M843.7 501.3h0M843.9 480.7h0M844 447h0M844.2 447.5h0M845.1 453.7h0M845.2 453.8h0M847.7 461.3h0M847.6 460.4h0M848.1 456.6h0M848.4 454.7h0M849.8 455.4h0M851.6 456.2h0M852.5 445.4h0M851.3 445.1h0M852.3 512.2h0M853.8 495.5h0M853.6 513.8h0M855 430.5h0M854.9 431.3h0M854.6 480.1h0M855.3 500.2h0M857 466.3h0M856.2 464.4h0M859.1 456.3h0M859 450.8h0M860.4 429.1h0M860.3 432.3h0M862.6 505.6h0M863.3 453.9h0M863.4 459h0M863.5 417h0M863 414.2h0M865.3 491h0M866.1 484.5h0M865.6 483.3h0M866.5 473.8h0M867.1 453.6h0M867 440.8h0M867.8 461.6h0M868.3 465.9h0M869.5 479.8h0M870.1 486.3h0M870.1 512.4h0M869.8 510.4h0M871.4 459.6h0M871.9 461.9h0" stroke="#0000ff" stroke-width="4" stroke-linecap="round" fill="none" clip-path="url(#spc1)"/>
<path d="M631 479.6h0M631.2 489.5h0M634.3 455.8h0M633.8 464.7h0M634.8 452.2h0M635.2 456.6h0M636.6 426.4h0M637.1 427.3h0M635.9 406.4h0M636.6 406.8h0M637.6 451.5h0M637.2 451.1h0M637.5 449.4h0M637.4 452.7h0M640.8 400.9h0M640.4 396.4h0M641 421h0M640.8 416.4h0M641.6 476.7h0M641 481.1h0M642.3 498.4h0M641.6 488.2h0M644.4 425.7h0M643.6 427.5h0M644.7 455.7h0M643.8 458.2h0M644.6 449h0M645.9 448.1h0M645.9 442.4h0M645.8 439.6h0M647.3 440.7h0M647.6 441.9h0M648.9 422.2h0M648 420.3h0M649.2 465.6h0M649.4 456h0M650.2 448.7h0M650.6 443.4h0M650.9 455.3h0M650.8 444.9h0M652.3 411.4h0M652.2 411.1h0M652.8 451.5h0M652.7 453.2h0M653.9 435.6h0M654.2 432.7h0M655.7 462.3h0M655 453.2h0M656.3 434.4h0M656.6 444.8h0M657.5 454.4h0M659 459.2h0M658 461.5h0M658.6 468.1h0M659.3 452.4h0M659.6 459.3h0M660.4 456.9h0M660.8 462.4h0M660.9 431.8h0M660.7 433.5h0M662.9 442.8h0M662.3 446.4h0M663.3 426.6h0M663.8 425.7h0M664.1 450.9h0M664.3 444.7h0M664.5 467.5h0M663.9 451.6h0M666.8 465.9h0M666.7 464.8h0M667.3 470.3h0M666.9 461.1h0M667.3 474.1h0M667.3 477.4h0M669.7 513.7h0M668.9 447.3h0M669 438.7h0M670.8 459.2h0M670.4 466.7h0M671.4 446h0M671.6 451.3h0M672.7 459.9h0M671.7 451.9h0M672.8 449h0M672.5 456.5h0M674.1 439.2h0M673.9 448.7h0M674.4 433h0M675.5 437.8h0M675.5 413.8h0M676.3 419.7h0M677 465.7h0M677.3 469h0M678.1 458.3h0M679.1 455.1h0M679.3 459.2h0M679.9 456.3h0M680.6 451.1h0M680.2 451.4h0M681.8 485.2h0M681.6 487.9h0M683.5 434.7h0M682.6 430.3h0M683.7 433.8h0M683.6 438h0M684.7 419h0M683.9 422.2h0M685.7 438.2h0M685.3 429.7h0M685.9 487.3h0M686.1 487.2h0M688.6 425.3h0M687.5 426.9h0M688.3 491.7h0M688.1 484h0M689.5 418.4h0M689.6 411.9h0M690.1 477.6h0M689.7 490.8h0M691.3 444.2h0M691 433.7h0M691.7 462.5h0M692.3 455.9h0M692.9 484.3h0M691.8 479.6h0M693.9 440.7h0M693.7 442.9h0M695.8 420.1h0M694.8 412.3h0M697.6 472.1h0M697 481.7h0M697.1 505.1h0M697.5 444.3h0M697.9 446.5h0M698.7 459.7h0M697.9 463h0M699.8 421.7h0M699.7 419.2h0M700.3 490.2h0M701.2 487.4h0M701.9 445.8h0M701.8 440.8h0M702.5 453.8h0M703.1 456.1h0M705 469.5h0M704 464.5h0M705.3 495.3h0M705.6 501.1h0M706.1 509.4h0M705.8 501.6h0M706.8 496.4h0M707 501.7h0M707.7 455.7h0M708 458.5h0M709.4 435.1h0M709.6 434.6h0M711 455.3h0M710.8 456h0M711.8 417.1h0M712.1 421.3h0M713.2 443.8h0M712.3 434.4h0M713.8 438.3h0M713.4 438.3h0M715 464.1h0M715.5 460.3h0M716.3 512.6h0M715.8 503.5h0M718.5 435.6h0M718 429.2h0M718.6 510.1h0M718.5 506h0M720.2 443.1h0M718.6 444.2h0M719.8 450.7h0M719.9 452.5h0M721.6 435.2h0M721.4 441.4h0M722.4 437.2h0M722.9 431.5h0M722.4 489h0M722.9 473.3h0M724 461.2h0M723 465.6h0M724.9 441.1h0M724.8 438.5h0M725.9 428.2h0M726.4 426h0M726.6 442.9h0M726 452.7h0M728.4 408.2h0M727.7 407.3h0M728.5 456.5h0M727.7 451.9h0M730.4 425.4h0M729.8 423.5h0M729.9 418.1h0M730.5 412.3h0M731.7 458.8h0M730.9 452h0M731.7 399.5h0M732.5 398.5h0M733.9 488.9h0M733.5 489.5h0M734.4 455.4h0M733.9 462h0M734.1 426.7h0M734.1 420.2h0M735.9 434.3h0M736.3 434.3h0M736.2 410.1h0M736.4 411.4h0M737.8 406.9h0M736.7 408.7h0M738.6 395.9h0M738.4 395.1h0M738.8 428h0M739.1 429.4h0M739.7 429h0M740.6 430.3h0M741.2 425.6h0M741.1 434.2h0M742.1 413.5h0M742.8 419.7h0M743.9 421.8h0M743.9 423.4h0M743.6 413.3h0M744.1 413.6h0M744.7 401h0M745.2 402.2h0M746.8 396.5h0M746.7 393.8h0M746.7 399.6h0M746.4 398.5h0M748.3 409.9h0M747.3 409.8h0M749.2 413.8h0M748.8 413h0M750.3 430.5h0M750.3 436.4h0M751.7 406.2h0M751.4 401.8h0M751.2 413.1h0M751.7 415.4h0M752.3 433.4h0M752.5 433.4h0M753.5 404.7h0M753.3 406.5h0M754.8 416.8h0M754.9 412.8h0M754.8 395.3h0M754.9 392.4h0M756.2 385.7h0M756.6 387.4h0M756.9 388.5h0M756.9 387.7h0M758.1 390.3h0M757.9 391h0M759 388.3h0M759.4 389.3h0M760.8 380h0M760.4 382.3h0M760.3 393h0M759.8 393.8h0M761.7 388.9h0M761.6 388.8h0M763.6 379.9h0M762.4 380.1h0M764.4 362.7h0M764.6 363.2h0M764.7 369.9h0M764 369.6h0M765.8 366h0M765.4 367.2h0M765.8 365.8h0M766.2 365.8h0M766.6 370h0M767.6 369.2h0M769.4 366.3h0M769.1 365.9h0M769.7 363.4h0M770.5 361.4h0M770.8 367.3h0M769.7 366.3h0M771.2 366h0M771.2 365.6h0M772.8 366.4h0M772.8 367.3h0M772.8 372.3h0M773 372.8h0M774.1 382.8h0M774.8 381.4h0M775.7 377.7h0M775.8 376.2h0M776.4 388.6h0M776.1 388.1h0M777.2 393.5h0M776.9 393.9h0M778.2 390.9h0M778.3 390.7h0M778.4 389.7h0M778 389.9h0M779 414.1h0M779 410.7h0M781.3 393.2h0M781.4 394.1h0M781.5 386.5h0M781.4 382.2h0M782.4 410.9h0M781.7 412h0M784.8 425.6h0M783.9 427.2h0M783.9 411.8h0M783.7 412.4h0M785.2 427.8h0M785.9 430.3h0M786.9 394.1h0M786.6 389.7h0M786.7 414.8h0M786.4 414.7h0M789 421.1h0M788.8 419.9h0M788.8 421h0M789.2 422.6h0M791.3 403.6h0M790.4 405.7h0M790.7 419.4h0M790.9 423.7h0M792 410.5h0M791.8 414.4h0M793.1 440.3h0M792.7 444.8h0M794.3 425.2h0M793.8 429.3h0M795.2 391.9h0M795.9 391.1h0M795.6 418h0M795.8 417.8h0M796.6 408.5h0M796.6 409.3h0M796.5 405.6h0M797.1 406h0M797.7 429.9h0M798.1 426.7h0M799.3 424.5h0M799.3 431.5h0M800.8 471.1h0M801.2 473h0M800.6 423.4h0M800.8 415h0M802.3 451.7h0M802.5 455.2h0M803 436.9h0M803.3 429.1h0M803.7 435.1h0M804.4 435.9h0M805.4 419.8h0M805.1 433.1h0M806.6 405.7h0M805.1 405.5h0M806.7 419.4h0M806.7 426.8h0M808.7 410.4h0M807.8 407.6h0M807.7 386h0M807.6 386.1h0M810.3 406.5h0M810.2 403.2h0M810.6 435.2h0M810.9 444.7h0M811.9 426.7h0M812.2 426.5h0M812.8 417.5h0M812.4 417.2h0M813.6 488.3h0M813.8 487.3h0M814.9 450.1h0M814.7 447.3h0M815.8 437.2h0M815.9 437.2h0M816.7 503h0M817.3 440.8h0M816.5 440.4h0M818.4 423.7h0M818.4 423h0M819.6 432h0M818.7 430.6h0M820.8 467.1h0M820.9 455h0M820.6 463h0M820.2 463.4h0M821.2 451.4h0M821.9 445.5h0M822.7 467.6h0M823.7 465.7h0M822.8 470.6h0M822.6 467.2h0M826.5 483.7h0M826.1 485.1h0M827.3 472.2h0M827.4 464.9h0M825.8 445.5h0M827 451h0M828.2 459.6h0M829 450.4h0M829.8 488.1h0M829.4 490.7h0M830.3 440.3h0M830.3 447.9h0M830.9 443.7h0M830.9 436.6h0M832.5 409.5h0M832.2 413h0M832.6 422.7h0M832.8 428h0M833.2 403.5h0M833.8 401.3h0M835 443.8h0M835.6 445.3h0M835.5 430.9h0M835.4 423.2h0M837.5 428.6h0M837.6 422.7h0M837.6 420.6h0M837.7 416h0M837.5 401.6h0M838 397.1h0M839.2 444.2h0M838.9 441.3h0M840.9 492.7h0M841.2 507.6h0M841.7 474.2h0M841.8 473h0M842.3 490h0M842.8 490.5h0M843.5 441.5h0M842.9 439.1h0M845.5 451.9h0M845.4 450.9h0M845.7 462.8h0M846.2 465.6h0M846.6 459.4h0M846.6 461.8h0M847.6 463.1h0M847.9 456.1h0M849.5 479.6h0M849.5 478.1h0M847.9 443.3h0M849.1 443.8h0M850 449.1h0M850.8 446.6h0M851.1 506.4h0M851.4 509.5h0M852.2 455.4h0M852.6 444.2h0M853.7 505.3h0M854.4 430.3h0M854.1 425.4h0M856.2 452.2h0M855.8 460.9h0M856.4 441.1h0M856.8 449h0M857.1 436.1h0M857.5 436.6h0M858.3 459.2h0M858.6 460.9h0M859.5 495.8h0M858.5 498.4h0M860 440h0M859.9 451.1h0M861 496.4h0M860.9 488.3h0M862 433.2h0M862.2 423.4h0M862.5 470.4h0M863 476.9h0M864 447.1h0M863.6 445.7h0M865 439.6h0M865.3 437.7h0M864.9 434.1h0M864.8 443.4h0M865.5 456.2h0M866.7 458.9h0M867 481.4h0M868 467.2h0M868.7 475.8h0M867.8 465.5h0M869.1 404.6h0M869.1 405.3h0M869.6 463.3h0M870.6 462.9h0M870.9 462.3h0M870.7 451.7h0" stroke="#ff0000" stroke-width="4" stroke-linecap="round" fill="none" clip-path="url(#spc1)"/>
<polyline points="629.5,465.9 630.5,465.8 631.4,465.7 632.4,465.6 633.4,465.5 634.3,465.4 635.3,465.3 636.3,465.2 637.2,465.1 638.2,465 639.2,464.9 640.1,464.8 641.1,464.6 642.1,464.5 643,464.4 644,464.2 645,464.1 645.9,464 646.9,463.8 647.9,463.7 648.8,463.5 649.8,463.4 650.8,463.2 651.7,463 652.7,462.8 653.7,462.7 654.6,462.5 655.6,462.3 656.6,462.1 657.5,461.8 658.5,461.6 659.4,461.4 660.4,461.2 661.4,460.9 662.3,460.7 663.3,460.4 664.3,460.1 665.2,459.8 666.2,459.5 667.2,459.2 668.1,458.9 669.1,458.6 670.1,458.2 671,457.9 672,457.5 673,457.1 673.9,456.7 674.9,456.2 675.9,455.8 676.8,455.3 677.8,454.8 678.8,454.3 679.7,453.7 680.7,453.2 681.7,452.6 682.6,452 683.6,451.3 684.6,450.6 685.5,449.9 686.5,449.1 687.5,448.3 688.4,447.5 689.4,446.6 690.4,445.6 691.3,444.6 692.3,443.6 693.3,442.5 694.2,441.3 695.2,440.1 696.2,438.8 697.1,437.4 698.1,435.9 699.1,434.4 700,432.7 701,431 702,429.1 702.9,427.1 703.9,425.1 704.9,422.8 705.8,420.5 706.8,418 707.8,415.3 708.7,412.5 709.7,409.5 710.7,406.4 711.6,403 712.6,399.5 713.6,395.8 714.5,391.8 715.5,387.7 716.4,383.5 717.4,379 718.4,374.5 719.3,369.8 720.3,365 721.3,360.2 722.2,355.5 723.2,350.9 724.2,346.5 725.1,342.5 726.1,338.8 727.1,335.8 728,333.4 729,331.7 730,330.8 730.9,330.8 731.9,331.7 732.9,333.4 733.8,335.8 734.8,338.9 735.8,342.5 736.7,346.6 737.7,350.9 738.7,355.5 739.6,360.3 740.6,365.1 741.6,369.8 742.5,374.5 743.5,379.1 744.5,383.5 745.4,387.8 746.4,391.9 747.4,395.8 748.3,399.5 749.3,403 750.3,406.4 751.2,409.5 752.2,412.5 753.2,415.3 754.1,418 755.1,420.5 756.1,422.9 757,425.1 758,427.2 759,429.1 759.9,431 760.9,432.7 761.9,434.4 762.8,435.9 763.8,437.4 764.8,438.8 765.7,440.1 766.7,441.3 767.7,442.5 768.6,443.6 769.6,444.7 770.5,445.6 771.5,446.6 772.5,447.5 773.4,448.3 774.4,449.1 775.4,449.9 776.3,450.6 777.3,451.3 778.3,452 779.2,452.6 780.2,453.2 781.2,453.8 782.1,454.3 783.1,454.8 784.1,455.3 785,455.8 786,456.2 787,456.7 787.9,457.1 788.9,457.5 789.9,457.9 790.8,458.2 791.8,458.6 792.8,458.9 793.7,459.2 794.7,459.5 795.7,459.8 796.6,460.1 797.6,460.4 798.6,460.7 799.5,460.9 800.5,461.2 801.5,461.4 802.4,461.6 803.4,461.8 804.4,462.1 805.3,462.3 806.3,462.5 807.3,462.7 808.2,462.8 809.2,463 810.2,463.2 811.1,463.4 812.1,463.5 813.1,463.7 814,463.8 815,464 816,464.1 816.9,464.2 817.9,464.4 818.9,464.5 819.8,464.6 820.8,464.8 821.8,464.9 822.7,465 823.7,465.1 824.7,465.2 825.6,465.3 826.6,465.4 827.5,465.5 828.5,465.6 829.5,465.7 830.4,465.8 831.4,465.9 832.4,466 833.3,466.1 834.3,466.1 835.3,466.2 836.2,466.3 837.2,466.4 838.2,466.4 839.1,466.5 840.1,466.6 841.1,466.7" fill="none" stroke="#000" stroke-width="2.6" stroke-linejoin="round" clip-path="url(#spc1)"/>
<polyline points="629.5,469.6 630.6,469.6 631.7,469.5 632.8,469.5 633.9,469.5 635,469.4 636.1,469.4 637.2,469.4 638.3,469.3 639.4,469.3 640.5,469.3 641.6,469.2 642.7,469.2 643.9,469.1 645,469.1 646.1,469.1 647.2,469 648.3,469 649.4,468.9 650.5,468.9 651.6,468.8 652.7,468.8 653.8,468.7 654.9,468.7 656,468.6 657.1,468.5 658.2,468.5 659.3,468.4 660.4,468.4 661.5,468.3 662.6,468.2 663.7,468.2 664.8,468.1 665.9,468 667,467.9 668.1,467.9 669.2,467.8 670.4,467.7 671.5,467.6 672.6,467.5 673.7,467.4 674.8,467.3 675.9,467.2 677,467.1 678.1,467 679.2,466.9 680.3,466.8 681.4,466.7 682.5,466.6 683.6,466.5 684.7,466.3 685.8,466.2 686.9,466.1 688,465.9 689.1,465.8 690.2,465.6 691.3,465.5 692.4,465.3 693.5,465.1 694.6,464.9 695.7,464.7 696.9,464.6 698,464.3 699.1,464.1 700.2,463.9 701.3,463.7 702.4,463.4 703.5,463.2 704.6,462.9 705.7,462.6 706.8,462.4 707.9,462.1 709,461.7 710.1,461.4 711.2,461.1 712.3,460.7 713.4,460.3 714.5,459.9 715.6,459.5 716.7,459 717.8,458.5 718.9,458 720,457.5 721.1,457 722.2,456.4 723.3,455.8 724.5,455.1 725.6,454.4 726.7,453.7 727.8,452.9 728.9,452.1 730,451.2 731.1,450.3 732.2,449.3 733.3,448.2 734.4,447.1 735.5,445.9 736.6,444.6 737.7,443.3 738.8,441.8 739.9,440.3 741,438.7 742.1,436.9 743.2,435.1 744.3,433.1 745.4,431 746.5,428.7 747.6,426.4 748.7,423.9 749.8,421.2 751,418.4 752.1,415.5 753.2,412.4 754.3,409.3 755.4,406 756.5,402.7 757.6,399.3 758.7,396 759.8,392.7 760.9,389.5 762,386.6 763.1,383.9 764.2,381.6 765.3,379.7 766.4,378.3 767.5,377.5 768.6,377.2 769.7,377.6 770.8,378.5 771.9,380 773,381.9 774.1,384.3 775.2,387 776.3,390 777.5,393.2 778.6,396.5 779.7,399.8 780.8,403.2 781.9,406.5 783,409.8 784.1,412.9 785.2,415.9 786.3,418.8 787.4,421.6 788.5,424.2 789.6,426.7 790.7,429.1 791.8,431.3 792.9,433.4 794,435.3 795.1,437.2 796.2,438.9 797.3,440.5 798.4,442.1 799.5,443.5 800.6,444.8 801.7,446.1 802.8,447.3 803.9,448.4 805.1,449.4 806.2,450.4 807.3,451.3 808.4,452.2 809.5,453 810.6,453.8 811.7,454.5 812.8,455.2 813.9,455.9 815,456.5 816.1,457.1 817.2,457.6 818.3,458.1 819.4,458.6 820.5,459.1 821.6,459.5 822.7,460 823.8,460.4 824.9,460.7 826,461.1 827.1,461.5 828.2,461.8 829.3,462.1 830.4,462.4 831.6,462.7 832.7,463 833.8,463.2 834.9,463.5 836,463.7 837.1,463.9 838.2,464.2 839.3,464.4 840.4,464.6 841.5,464.8 842.6,465 843.7,465.1 844.8,465.3 845.9,465.5 847,465.6 848.1,465.8 849.2,465.9 850.3,466.1 851.4,466.2 852.5,466.4 853.6,466.5 854.7,466.6 855.8,466.7 856.9,466.8 858.1,466.9 859.2,467.1 860.3,467.2 861.4,467.3 862.5,467.4 863.6,467.4 864.7,467.5 865.8,467.6 866.9,467.7 868,467.8 869.1,467.9 870.2,467.9 871.3,468" fill="none" stroke="#000" stroke-width="2.6" stroke-linejoin="round" clip-path="url(#spc1)"/>
<line x1="629.5" y1="471.6" x2="871.3" y2="471.6" stroke="#000" stroke-width="1.3" stroke-dasharray="6 4"/>
<path d="M629.5 513.2V509.2M629.5 315.2V319.2M659.7 513.2V510.7M659.7 315.2V317.7M690 513.2V509.2M690 315.2V319.2M720.2 513.2V510.7M720.2 315.2V317.7M750.4 513.2V509.2M750.4 315.2V319.2M780.6 513.2V510.7M780.6 315.2V317.7M810.8 513.2V509.2M810.8 315.2V319.2M841.1 513.2V510.7M841.1 315.2V317.7M871.3 513.2V509.2M871.3 315.2V319.2M629.5 315.2H633.5M871.3 315.2H867.3M629.5 336.9H633.5M871.3 336.9H867.3M629.5 364.8H633.5M871.3 364.8H867.3M629.5 404.2H633.5M871.3 404.2H867.3M629.5 471.6H633.5M871.3 471.6H867.3M629.5 499.6H632M871.3 499.6H868.8M629.5 432.2H632M871.3 432.2H868.8M629.5 382.5H632M871.3 382.5H868.8M629.5 349.8H632M871.3 349.8H868.8M629.5 325.4H632M871.3 325.4H868.8" stroke="#333" stroke-width="1" fill="none"/>
<rect x="629.5" y="315.2" width="241.8" height="198" fill="none" stroke="#555" stroke-width="1.3"/>
<text x="625.5" y="321.7" style="font-family:'Liberation Serif',serif;font-size:19px;" text-anchor="end" >10</text>
<text x="625.5" y="343.4" style="font-family:'Liberation Serif',serif;font-size:19px;" text-anchor="end" >8</text>
<text x="625.5" y="371.3" style="font-family:'Liberation Serif',serif;font-size:19px;" text-anchor="end" >6</text>
<text x="625.5" y="410.7" style="font-family:'Liberation Serif',serif;font-size:19px;" text-anchor="end" >4</text>
<text x="625.5" y="478.1" style="font-family:'Liberation Serif',serif;font-size:19px;" text-anchor="end" >2</text>
<text x="629.5" y="534.4" style="font-family:'Liberation Serif',serif;font-size:19px;" text-anchor="middle" >-2</text>
<text x="690" y="534.4" style="font-family:'Liberation Serif',serif;font-size:19px;" text-anchor="middle" >-1</text>
<text x="750.4" y="534.4" style="font-family:'Liberation Serif',serif;font-size:19px;" text-anchor="middle" >0</text>
<text x="810.8" y="534.4" style="font-family:'Liberation Serif',serif;font-size:19px;" text-anchor="middle" >1</text>
<text x="871.3" y="534.4" style="font-family:'Liberation Serif',serif;font-size:19px;" text-anchor="middle" >2</text>
<text x="863.3" y="345.1" style="font-family:'Liberation Serif',serif;font-size:25px;" text-anchor="end" >15 mK</text>
<text transform="translate(590.5,410.2) rotate(-90)" style="font-family:'Liberation Sans',sans-serif;font-size:24px" text-anchor="middle">Photons</text>
<clipPath id="spc2"><rect x="628.3" y="583.3" width="244" height="197.7"/></clipPath>
<path d="M629.2 753.2h0M628.6 762.4h0M629.9 751.2h0M629.6 753.2h0M629.8 754.9h0M630.3 748.9h0M630.6 780.3h0M631.8 739h0M631.5 741.9h0M632.4 757.1h0M632.5 766.1h0M633.1 770.8h0M632.7 771.7h0M634.8 712.5h0M633.5 706.9h0M635.3 709.3h0M635 709.7h0M636.4 724.2h0M635.7 721.7h0M636.2 730.9h0M637.1 728.1h0M637.3 741.4h0M637 743.8h0M638.4 715h0M637.8 721.7h0M639.4 703.2h0M639.1 701.2h0M640.4 720.1h0M639.7 722.6h0M641.4 722.1h0M641.4 727.3h0M641.2 710h0M641.6 710.1h0M642.9 711.4h0M642.1 717.4h0M643 707.3h0M643.1 705.7h0M642.8 697.9h0M643 693.9h0M645.7 714.8h0M645.3 721.4h0M645.3 734.1h0M645 734.1h0M646.8 754.1h0M646.3 749.1h0M648.2 764.3h0M647.4 757.4h0M648.6 759.9h0M648.4 758.6h0M649 706.9h0M648.6 705.4h0M650 763.2h0M650.2 761.6h0M651 741.5h0M651.5 740.4h0M651.1 736.2h0M652.1 736.5h0M652.2 735.8h0M652.4 737.9h0M653.5 713.4h0M654.2 714.5h0M655 703.8h0M654.5 700.5h0M656 721.6h0M655.6 727.4h0M656.7 756.5h0M656.4 761.2h0M656.8 710.6h0M657 712.3h0M658.5 751.5h0M658 754.7h0M658.5 759.2h0M658.5 761.5h0M659.6 738.6h0M659.5 730.7h0M660.1 735.1h0M660.9 722.7h0M661.2 718.3h0M660.8 721.7h0M662.8 722.2h0M662.5 726.4h0M662.4 714.4h0M662.3 724.2h0M663.6 708.2h0M663.3 707.4h0M664.3 714.7h0M664.6 720.4h0M665.3 691.3h0M665.7 696h0M666.6 720.2h0M665.3 726.2h0M667.2 732.7h0M667.5 731.1h0M667.5 756.7h0M668.1 757.7h0M668.3 716.6h0M668.8 721.4h0M670.7 704.3h0M670.3 705.1h0M670.1 751h0M670.2 755.1h0M670.9 747.1h0M671 747.6h0M672.4 707.2h0M673 707.3h0M672.7 711.3h0M672.7 711.5h0M673.7 699.7h0M674.7 695.6h0M674.3 702.9h0M674.3 709.4h0M676.1 714.8h0M675.6 715.7h0M676.2 701.2h0M676.8 697.3h0M677.5 760h0M677 763.6h0M677.1 771.6h0M677.6 769h0M678.2 729.9h0M678.6 731.5h0M678.8 751.2h0M679.5 748.9h0M680.7 732.4h0M681.4 729.4h0M682 724.6h0M681.8 715.5h0M681.7 689.1h0M682.7 684.4h0M683.3 751.2h0M683.5 745.7h0M684 693.4h0M683.9 696.1h0M684.4 706.8h0M684.3 708.8h0M685 695.9h0M685.7 688.2h0M686 720.1h0M685.8 725.9h0M686.8 692.5h0M687 696.2h0M687.5 681.5h0M688 682.6h0M688.6 681.9h0M688 679.1h0M689.9 686.7h0M690.4 683.7h0M691 705.1h0M690.9 709.4h0M690.6 689.4h0M690.9 693h0M693 677.9h0M692.7 676.5h0M693.4 680.1h0M693.5 685.4h0M693 690.3h0M693.9 692.2h0M695 662.4h0M695.8 659.2h0M696.1 659.4h0M695.3 658.7h0M697.6 652.5h0M697.2 652.1h0M697.2 674.8h0M696.4 674.1h0M698.2 655h0M698.2 655.3h0M698.6 643.7h0M699.3 644.3h0M700.3 637.6h0M699.7 640.6h0M701.9 626.3h0M701 624.3h0M700.7 633.6h0M700.6 632.6h0M702.7 618.8h0M701.5 618.3h0M703.8 619.5h0M703.4 620.8h0M704.8 610.9h0M704.6 610.6h0M705.5 606.9h0M705.8 607.1h0M706.5 603.3h0M706.6 604.7h0M708 598h0M707.9 598h0M707.2 593.4h0M707.4 593.3h0M707.9 593.7h0M708.4 593.9h0M709.6 596.4h0M710.2 597.6h0M710.8 592.8h0M709.6 593.5h0M710.2 596.2h0M710.6 596h0M711.8 602.1h0M712.4 602.1h0M712 601.7h0M711.9 600.9h0M712.6 607.9h0M713.7 608.6h0M713.9 618.5h0M714.1 619h0M714.2 614.4h0M714.9 615.6h0M716.1 637.1h0M716.2 635.6h0M716.1 631.1h0M716.1 632.3h0M719 642.7h0M718.3 641.2h0M719.5 654.3h0M719.1 657.7h0M719.4 654.4h0M720 656.4h0M719.9 667.9h0M720.2 669.4h0M721.4 671.4h0M720.8 672.2h0M722.2 676.2h0M722.9 678.8h0M722.8 675.1h0M722.6 672.7h0M723.9 676.7h0M724.2 679.2h0M724.5 698.8h0M724.4 701.8h0M726 667.8h0M725.7 669.5h0M725.4 683.1h0M725.9 686.5h0M726.4 669.4h0M727.3 669.8h0M726.9 675.1h0M726.8 672.5h0M729.1 666.6h0M728.6 672.3h0M729.8 677h0M729.6 679.5h0M730.3 703.1h0M730 701.5h0M730.9 707.2h0M731.1 707.6h0M732.4 702.8h0M731.3 708.1h0M733.5 690.6h0M732.6 695.8h0M734.6 694.5h0M734.7 692.6h0M733.9 698.2h0M733.6 697h0M735.9 679h0M735.5 676.3h0M736.1 671.6h0M735.5 670.8h0M736.9 700.7h0M736.7 702.8h0M738.1 713.3h0M737.5 711.2h0M739.3 693.6h0M739.2 689h0M739.2 724.3h0M739.5 719.1h0M740.5 718.3h0M740.5 718.2h0M741.2 756.9h0M741.5 753.6h0M742.9 709.2h0M742.2 710.9h0M743 721.9h0M742.7 722.7h0M744.1 747.6h0M744 748.7h0M744.9 706.1h0M745.1 703.9h0M746.5 727.3h0M746.1 732.5h0M746.6 670.6h0M746.4 666h0M746.5 697.7h0M746.2 696.5h0M748.5 728.3h0M748 736.6h0M748.8 700.8h0M748.6 704.6h0M749.3 714h0M749.4 713.8h0M751 686h0M751.2 693.3h0M750.9 708h0M751.3 715.2h0M753 710.7h0M753.2 718h0M753.5 717h0M752.5 719.3h0M754.3 710.7h0M754.2 709.4h0M754.8 711.3h0M754.7 711.9h0M755.2 741.2h0M755.3 744.9h0M755.7 739.9h0M757.1 740.8h0M757.8 726.6h0M757.4 724.9h0M758.8 752.7h0M758.7 747.2h0M759.6 717.5h0M759.6 718.1h0M759.7 720.9h0M759.4 725.8h0M760.8 699.6h0M761 709.7h0M762.6 764.4h0M762.2 760.4h0M762 736.3h0M762.4 737.9h0M763 739.6h0M763.2 736.5h0M763 748.5h0M763.6 749.1h0M765.9 726h0M765.4 718.8h0M766.8 717.1h0M766.3 717.3h0M766.4 711.6h0M766.1 714.1h0M766.8 730.4h0M766.9 727h0M769.3 713.2h0M769.3 719h0M769.2 755.1h0M768.7 752.6h0M769.9 725.9h0M770.3 724.7h0M770.8 741.8h0M770.9 747.8h0M771.4 783h0M773.8 755.8h0M772.7 757.7h0M773.9 757h0M773.8 760.4h0M775 756.7h0M775.2 759.3h0M775.7 743.6h0M775.5 741.5h0M776.2 754.7h0M776.2 766.7h0M776.9 727.9h0M777.5 727h0M778 734.1h0M778.4 730.4h0M778.1 714.5h0M778.1 718.8h0M779.3 700.4h0M779.6 699.4h0M780.7 714.4h0M781.5 716.2h0M781.1 743.2h0M781 741h0M782.4 676.5h0M781.6 674.2h0M782.5 696.9h0M782.7 696.8h0M783.8 714.7h0M784 708h0M783.5 711.9h0M784.7 707.5h0M785.4 721.1h0M785.3 718.3h0M786.2 711.7h0M786.6 715.7h0M786.9 756.3h0M786.4 753.2h0M787.1 712.6h0M787.4 710.4h0M788.5 734.6h0M788.4 743.6h0M789.6 737.7h0M788.5 732.6h0M790.2 708.2h0M790.3 709.8h0M791.5 712.3h0M791.7 713.4h0M793 743h0M792.7 743.5h0M793.2 734.6h0M793.2 730.3h0M793.7 736.2h0M793.6 735.3h0M794.5 697.9h0M794.7 698.5h0M795.4 736h0M794 731.3h0M795.8 710.2h0M796.1 705.6h0M797.7 721.6h0M797.7 719.9h0M798.2 734h0M797.8 731.5h0M798.3 739.7h0M798.6 742.3h0M798.9 767.3h0M799.3 773h0M800.8 749.8h0M800.2 747.7h0M801.1 718.2h0M801.3 719.3h0M802.3 717.7h0M802.1 710.2h0M803 733.8h0M803.8 730.6h0M803.5 718.3h0M803.8 717.1h0M803.8 727.4h0M803.8 740h0M806 710.2h0M805.9 719.6h0M806.9 782.7h0M805.7 781.3h0M806.6 716.6h0M806.9 714.2h0M807.9 762.2h0M808.1 771h0M808.7 726.7h0M809.7 735.5h0M809 698.1h0M809.6 692.1h0M810.8 724.1h0M811.4 725.4h0M810.7 714h0M811.7 705.4h0M812.6 736.1h0M812.7 740.8h0M813.1 707.5h0M812.7 710h0M813.7 694.5h0M813.5 686.6h0M814.2 709.2h0M814.7 712.3h0M815 721.2h0M815.7 722.6h0M817.3 764.3h0M816.7 760h0M819.2 713.3h0M818.6 710.8h0M818.3 705.9h0M817.7 709.7h0M818.6 736.1h0M819 743.9h0M820.1 719h0M819.8 712.9h0M821.1 711.2h0M820.9 713h0M821.4 687.4h0M821.1 682.9h0M822 696h0M822.2 696.5h0M823 677.8h0M823.4 676.2h0M824.3 683.7h0M823.5 686h0M825.2 706h0M825.2 708.6h0M827 743.6h0M826.2 750h0M826 705.8h0M827 702.2h0M827 725.8h0M826.7 728h0M828.6 702.1h0M828.2 705h0M830.2 721.4h0M829.4 727.4h0M830.5 771.5h0M831.1 770.5h0M830.5 738.9h0M831 742.7h0M832.2 781.8h0M831.7 780h0M833.4 753.9h0M832.8 743.3h0M833.8 720.8h0M833.1 723.7h0M833.7 755.9h0M833.6 756.4h0M834.7 747.5h0M834.9 755.4h0M835.9 715.1h0M836.4 718.8h0M836.9 721.3h0M837.4 724.2h0M837.4 729.4h0M837.7 728.2h0M837.9 713.6h0M838.4 709.9h0M839.6 771.8h0M838.7 765.7h0M839.4 707.8h0M839.7 711.6h0M840.9 733.7h0M841.2 734.2h0M842.2 738.5h0M841.8 724.4h0M843.5 742h0M843.9 748.5h0M843 744.7h0M844 739.3h0M845.4 745.8h0M845.2 751.8h0M846.3 720.9h0M845.8 718.8h0M848 741.9h0M847.3 739h0M848.2 731.2h0M849.5 732.6h0M849.3 709.5h0M849.3 710.1h0M850.4 764h0M851 748.8h0M850.9 726.1h0M851.4 725.1h0M852.7 781.5h0M853.2 705.5h0M852.9 699.5h0M854.9 730.8h0M854.2 725.7h0M854.7 722.2h0M855.2 729.2h0M856 722.9h0M856 729.1h0M856.1 741.5h0M856.7 756.4h0M856.9 727.4h0M856.1 736.5h0M858.5 727.3h0M858.1 724.8h0M858.6 730.9h0M858.5 732.6h0M859.7 736.7h0M860.2 731.6h0M861.2 751.6h0M860.6 758.8h0M861.6 709.2h0M861.5 719.2h0M862.4 704.5h0M861.5 714.3h0M863.1 732.6h0M863 725.7h0M864.5 708.3h0M863.9 714.8h0M864.6 742.2h0M864.5 736.6h0M865.1 716.9h0M865.6 732h0M866.7 723.1h0M867 728.2h0M866.9 697.2h0M866.6 700.1h0M867.9 700.2h0M868.4 697.8h0M868.1 711.2h0M868.8 707h0M870.6 721.7h0M870.2 724.5h0M871 738.7h0M870.8 742.4h0M871.2 752.2h0M871.2 754.5h0M871.6 719.9h0M870.9 721h0" stroke="#0000ff" stroke-width="4" stroke-linecap="round" fill="none" clip-path="url(#spc2)"/>
<path d="M629.4 673.8h0M628.5 675.9h0M629.1 709.1h0M628.5 713.2h0M630.3 687.7h0M629.2 695.4h0M630.6 761.6h0M630.4 757.2h0M632 782.1h0M632.4 755.6h0M631.7 756.4h0M633 738.4h0M633.7 731.9h0M633.8 778.2h0M636.3 743.1h0M635.6 755.5h0M636.3 778.4h0M637 741.7h0M637.1 739.2h0M637.4 693.5h0M636.8 690h0M640.1 726.2h0M639.2 712.4h0M640.1 700h0M640.5 702.3h0M640.4 725.3h0M639.6 712.1h0M640.6 704.6h0M641.2 708.4h0M641.9 743.6h0M641.8 749.8h0M642.3 772.9h0M644.8 707.5h0M645 718.9h0M646.2 741.8h0M646.2 727.8h0M647.5 682.4h0M646.6 685.4h0M648 694.3h0M647.9 693.6h0M648.5 752.3h0M648 760.7h0M650.5 727.3h0M649.8 717.1h0M650.8 712.2h0M650.7 704.5h0M651.3 731.2h0M652.4 723.8h0M650.6 740.9h0M651.4 735.2h0M653.6 728.8h0M652.5 728.5h0M653.9 766.6h0M653.9 781.3h0M655.8 752.2h0M655.5 741.8h0M656.4 769.4h0M655.9 766.3h0M657.9 728.3h0M657.6 721.8h0M658.1 718.4h0M658.4 722.4h0M658.5 735.8h0M658.5 733.8h0M659.2 742.4h0M660.1 736.4h0M660.7 741.5h0M660.6 738.7h0M661 758.6h0M662.1 764.1h0M661.4 728.7h0M661.4 736.7h0M662.3 696h0M663.4 712h0M663.6 701.4h0M664.2 696.4h0M664.8 748.5h0M664.6 740.2h0M665.8 716h0M665 717.8h0M666.2 743.5h0M666 739.5h0M666.6 693.8h0M666.6 693.7h0M668.6 729h0M668.7 721.7h0M669.4 737.8h0M669.6 736.3h0M670.2 761.2h0M670.2 758.6h0M671.1 729.4h0M670.7 734.7h0M671.8 719.3h0M673.4 721.1h0M674.4 727.6h0M674.9 726.5h0M675.8 750h0M675.7 724.7h0M676.7 703.3h0M676.8 707.5h0M677.5 686.2h0M677.3 682.1h0M677.1 674.9h0M677.9 672.5h0M678.6 728.8h0M679 737h0M679.8 732.9h0M680.5 740.8h0M680.2 706.7h0M680.2 711h0M681 668.9h0M681.2 669.3h0M682.9 669.9h0M682.4 676.2h0M682.8 727.5h0M682.8 736.3h0M684.8 738.6h0M684.1 738.5h0M684.7 758.2h0M685 753h0M684.4 721.2h0M685.4 724.7h0M685.8 752.2h0M686.1 756.1h0M687.8 677.4h0M687.5 678.5h0M688.1 727.3h0M688 730.3h0M689.1 709.2h0M689.3 707.7h0M689.5 737.8h0M689.6 751.6h0M690.6 743.7h0M690.3 736h0M692.4 765.2h0M691.9 755.2h0M692.6 738.3h0M692 736.2h0M693.4 762.8h0M693.9 764h0M694 718.3h0M694.5 709.9h0M696 726.1h0M696.9 724.1h0M695.3 738.3h0M696.1 741h0M697.4 722h0M697.6 734.6h0M698.9 706.3h0M699.3 706.6h0M701.3 770.3h0M701.1 769h0M701.5 749.3h0M701.2 738.3h0M703.2 745.2h0M702.7 734.1h0M703.4 714.5h0M703.8 716.7h0M703.7 754.1h0M704.1 749h0M705.1 744.3h0M705 740.8h0M705.8 709.6h0M706.1 701.5h0M706.8 697.8h0M706.6 697.4h0M708.1 666.3h0M708.7 664.2h0M708 771.3h0M708 775.5h0M709.2 764.1h0M709.7 753.3h0M710.6 719h0M710.9 730h0M711.3 705.2h0M711.7 704.2h0M711.3 740.2h0M711.3 745.5h0M713 705.4h0M712.8 703.8h0M714.2 726.5h0M713.9 739.6h0M714.2 707.5h0M714.1 710.6h0M714.6 752h0M714.5 753.2h0M716.3 710.6h0M715.3 732.5h0M716.4 727.3h0M716.5 726.8h0M717.4 720.9h0M717.1 710.3h0M717.7 720.8h0M717.9 721.8h0M720.5 701.8h0M719 699h0M720.8 735.5h0M721.2 734.3h0M719.9 698.4h0M720.8 691.6h0M722.5 726.2h0M721.4 728.1h0M723.1 759.6h0M723.7 752.2h0M723.8 721.4h0M723.8 711.8h0M724.6 689.3h0M724.4 688.3h0M725.2 716.6h0M725.3 720.9h0M727 753.8h0M726.8 753.3h0M726.9 743.6h0M727 731.3h0M727.6 732.6h0M727.7 728.3h0M728.1 717.9h0M728.3 717h0M729.1 704.5h0M728.7 710.6h0M730.8 693.8h0M730.4 687.6h0M732 678.3h0M731.4 678.9h0M731.8 711.2h0M732.7 706.2h0M733.4 703.8h0M733 702.5h0M733.9 739.6h0M734 750.5h0M735.2 700.2h0M735.5 701.2h0M735.4 720.3h0M735.1 731.2h0M736.6 694.7h0M737.2 703h0M737.5 730.5h0M737.2 725.7h0M738.4 716.2h0M737.6 714.2h0M739 716.5h0M738.9 715.5h0M739.6 729.1h0M739 735.5h0M740.2 698.9h0M739.9 698h0M740.3 724.6h0M740.2 707.5h0M742.8 754.2h0M741.6 745.8h0M743.5 736.7h0M743.4 745.5h0M743.2 749.7h0M743.4 752.6h0M745.7 772h0M744.5 776.5h0M746.5 711.7h0M746.4 704.8h0M746.7 717.9h0M746.6 717.1h0M747.9 726.3h0M747 730.8h0M749 724.3h0M749.2 722.1h0M748.9 743.4h0M748.6 744.8h0M749 708.8h0M749.9 707.5h0M750.5 741h0M750.4 731h0M751.4 689.5h0M751.1 693.4h0M753.2 712.3h0M752.4 708.1h0M753.4 682.4h0M753.6 685.5h0M753.2 734.2h0M753.1 726.4h0M754.3 695.3h0M754.8 695.6h0M755 720.8h0M755.8 721.5h0M756.5 747.9h0M756.2 741.3h0M757 709.7h0M757.7 707.9h0M758.4 668.7h0M758.6 667.2h0M759.3 732.5h0M758.7 735.9h0M760.1 689.5h0M759.5 684.2h0M760.3 701.6h0M759.7 702.9h0M761.9 676.3h0M761.3 680h0M763 703.9h0M762.3 704.5h0M763.1 686.1h0M763.4 685.3h0M764.4 685.9h0M764 690.6h0M765 703.9h0M764.7 704.1h0M766.2 702.9h0M765.4 705.3h0M767.2 696.1h0M766.9 697.2h0M767.5 723.6h0M767.9 718.4h0M768 702.6h0M768.3 709.3h0M770.2 699.2h0M770 691.9h0M770 690.8h0M770.8 686.8h0M771.3 681.1h0M771.6 679.7h0M772.4 702.4h0M771.9 698.7h0M773 710.5h0M773 710h0M773.1 686.2h0M773.9 685.2h0M774.3 692.3h0M774.7 695.5h0M775.6 664.8h0M776.5 663.2h0M776.3 694.3h0M776.1 697h0M777.5 685.2h0M777.6 684.9h0M777.2 684.9h0M778.1 681.7h0M779.5 688.9h0M778.9 687.9h0M779.3 668.6h0M780.5 671.6h0M780.1 684.9h0M780.6 681.7h0M781.3 685.5h0M782.2 683.6h0M782.5 696.3h0M781.7 697.1h0M782.4 675.5h0M783.7 676.5h0M784.5 668.6h0M784.4 667.4h0M784.1 662.1h0M784.9 662.7h0M785.4 677.7h0M786.1 675.2h0M785.7 677.1h0M786.1 675.8h0M788.2 674.9h0M788 673.7h0M788.5 650.8h0M788.4 649.5h0M789.2 652.8h0M788.9 653.9h0M789.9 675.8h0M790.2 675.2h0M790.1 672.9h0M789.6 671.3h0M791.3 672.2h0M790.3 671.6h0M791.2 666.1h0M792.1 667.6h0M792.8 691.6h0M792.8 696.6h0M793.9 687.9h0M793.8 688.4h0M794.6 690.8h0M795.6 692.6h0M795.9 706.1h0M796 705.7h0M796.3 708.6h0M796 707.4h0M796.8 706h0M796.9 706.1h0M798 696.2h0M797.8 700.6h0M798.3 706.2h0M798.9 701.5h0M799.8 685.7h0M800.4 686.8h0M800.9 719h0M800.6 718.4h0M801 689.1h0M801 688.2h0M802.4 703.7h0M801 706.3h0M803 681.2h0M803.3 693.5h0M803.6 685.4h0M803.4 679.4h0M804.5 700.6h0M805.5 699.7h0M805.7 711.2h0M805.5 720.3h0M806.6 762.9h0M806.4 767.8h0M807.8 767.6h0M807.1 776.3h0M808 687.6h0M808.2 690.9h0M810.1 710.1h0M809.8 719.7h0M810.8 714.6h0M811.3 720.5h0M811.2 730.6h0M812.5 722.4h0M812.7 695.2h0M812.9 699h0M813.9 684.8h0M813.3 678.2h0M814 705.1h0M813 712.3h0M814.6 759.5h0M814.4 755.7h0M816.9 737.6h0M817.2 736.7h0M816.6 717.3h0M816.4 715.6h0M817.1 711h0M817.3 702.4h0M818.1 717.2h0M818.4 718.8h0M819.2 720.4h0M819.5 727h0M819.8 700h0M819.4 693.8h0M820.9 755.6h0M820.4 770.3h0M821.9 695.5h0M821.4 698.3h0M822.1 726.8h0M822.6 723.5h0M823 685.7h0M823.2 681.1h0M823.6 698.3h0M823.8 694.4h0M824.7 749.9h0M824.9 746h0M825.4 690.5h0M824.9 703.1h0M826.9 774.6h0M826.6 768.5h0M827.1 750.6h0M827.7 752.4h0M828.5 719.2h0M828.1 708.9h0M829.5 745h0M830.3 742.7h0M830 716h0M829.7 719.8h0M833.5 743.8h0M834.2 739.3h0M833.9 721.6h0M834.1 726.2h0M835.7 751.8h0M835.9 756.2h0M836.1 743.9h0M836.2 743.4h0M836.6 782.8h0M838 723h0M837.7 718.1h0M838.1 734.5h0M838.6 732.5h0M840 737.4h0M839 750.7h0M840.9 703.3h0M840 696.4h0M841.6 744.6h0M842.1 746.3h0M842.8 713.1h0M842.6 710.1h0M842.3 720.4h0M842.4 720.1h0M843.3 713h0M844.1 721.5h0M843.5 714h0M843.5 714.9h0M844.6 677.2h0M844.8 669.6h0M846.1 717.3h0M846.6 719.1h0M847 713.1h0M848 718h0M847.9 701.1h0M848 702.2h0M849.2 739.9h0M848.7 746.5h0M849.9 773.1h0M849.3 756.2h0M850.8 731.3h0M849.9 732.7h0M851.5 716.5h0M851.9 717.2h0M851.6 732.9h0M852.3 729.9h0M853.1 691.8h0M853.3 692.4h0M853.6 717.4h0M854 716.1h0M856 687.7h0M854.6 692.7h0M854.6 745.7h0M854.8 750.4h0M855.6 695h0M855.4 702.6h0M857.6 696.2h0M856.4 703.9h0M858.2 719.7h0M857.8 712.9h0M859.3 716h0M860 718.8h0M859.5 745.8h0M859.3 748.7h0M860.9 750.7h0M860.9 760.5h0M861.6 711.5h0M861.1 717.8h0M862.1 782.9h0M863.2 765.9h0M863.7 776.4h0M864.2 731.4h0M864.5 735.3h0M865.8 768.3h0M864.7 757.9h0M866.5 764.6h0M865.7 755.1h0M867 725.8h0M866.9 730.4h0M867.2 758.5h0M867 753.8h0M868.4 726.2h0M868.7 720.7h0M869 709.1h0M868.7 704.5h0M869.1 743.9h0M869.8 745.1h0M870.8 760h0M871.2 768.7h0M870.9 783h0" stroke="#ff0000" stroke-width="4" stroke-linecap="round" fill="none" clip-path="url(#spc2)"/>
<polyline points="628.3,735 629.4,734.9 630.5,734.8 631.6,734.7 632.8,734.6 633.9,734.5 635,734.3 636.1,734.2 637.2,734.1 638.3,733.9 639.4,733.7 640.6,733.6 641.7,733.4 642.8,733.2 643.9,733 645,732.8 646.1,732.6 647.2,732.4 648.4,732.2 649.5,731.9 650.6,731.7 651.7,731.4 652.8,731.1 653.9,730.8 655,730.5 656.2,730.2 657.3,729.8 658.4,729.4 659.5,729 660.6,728.6 661.7,728.2 662.8,727.7 664,727.2 665.1,726.6 666.2,726 667.3,725.4 668.4,724.7 669.5,724 670.6,723.2 671.8,722.4 672.9,721.4 674,720.5 675.1,719.4 676.2,718.3 677.3,717 678.4,715.7 679.6,714.2 680.7,712.6 681.8,710.8 682.9,708.9 684,706.8 685.1,704.5 686.2,702 687.4,699.2 688.5,696.1 689.6,692.7 690.7,689 691.8,684.9 692.9,680.4 694,675.4 695.1,670 696.3,664 697.4,657.6 698.5,650.6 699.6,643.2 700.7,635.5 701.8,627.6 702.9,619.8 704.1,612.3 705.2,605.7 706.3,600.3 707.4,596.6 708.5,595 709.6,595.5 710.7,598.1 711.9,602.6 713,608.6 714.1,615.7 715.2,623.3 716.3,631.2 717.4,639.1 718.5,646.7 719.7,653.9 720.8,660.6 721.9,666.8 723,672.5 724.1,677.8 725.2,682.5 726.3,686.8 727.5,690.8 728.6,694.3 729.7,697.6 730.8,700.5 731.9,703.2 733,705.6 734.1,707.8 735.3,709.8 736.4,711.7 737.5,713.3 738.6,714.9 739.7,716.3 740.8,717.6 741.9,718.8 743.1,719.9 744.2,720.9 745.3,721.9 746.4,722.7 747.5,723.6 748.6,724.3 749.7,725 750.9,725.7 752,726.3 753.1,726.9 754.2,727.4 755.3,727.9 756.4,728.4 757.5,728.8 758.7,729.2 759.8,729.6 760.9,730 762,730.3 763.1,730.7 764.2,731 765.3,731.3 766.5,731.5 767.6,731.8 768.7,732.1 769.8,732.3 770.9,732.5 772,732.7 773.1,732.9 774.3,733.1 775.4,733.3 776.5,733.5 777.6,733.7 778.7,733.8 779.8,734 780.9,734.1 782.1,734.3 783.2,734.4 784.3,734.5 785.4,734.6 786.5,734.8 787.6,734.9 788.7,735 789.9,735.1 791,735.2 792.1,735.3 793.2,735.4 794.3,735.5 795.4,735.6 796.5,735.6 797.7,735.7 798.8,735.8 799.9,735.9 801,736 802.1,736 803.2,736.1 804.3,736.2 805.5,736.2 806.6,736.3 807.7,736.3 808.8,736.4 809.9,736.4 811,736.5 812.1,736.6 813.2,736.6 814.4,736.7 815.5,736.7 816.6,736.7 817.7,736.8 818.8,736.8 819.9,736.9 821,736.9 822.2,737 823.3,737 824.4,737 825.5,737.1 826.6,737.1 827.7,737.1 828.8,737.2 830,737.2 831.1,737.2 832.2,737.3 833.3,737.3 834.4,737.3 835.5,737.3 836.6,737.4 837.8,737.4 838.9,737.4 840,737.5 841.1,737.5 842.2,737.5 843.3,737.5 844.4,737.6 845.6,737.6 846.7,737.6 847.8,737.6 848.9,737.6 850,737.7 851.1,737.7 852.2,737.7 853.4,737.7 854.5,737.7 855.6,737.8 856.7,737.8 857.8,737.8 858.9,737.8 860,737.8 861.2,737.8 862.3,737.9 863.4,737.9 864.5,737.9 865.6,737.9 866.7,737.9 867.8,737.9 869,737.9 870.1,738 871.2,738 872.3,738" fill="none" stroke="#000" stroke-width="2.6" stroke-linejoin="round" clip-path="url(#spc2)"/>
<polyline points="704.5,739.1 705.3,739 706.1,739 706.8,739 707.6,738.9 708.4,738.9 709.1,738.8 709.9,738.8 710.7,738.7 711.4,738.6 712.2,738.6 713,738.5 713.7,738.5 714.5,738.4 715.3,738.3 716,738.3 716.8,738.2 717.6,738.1 718.3,738.1 719.1,738 719.9,737.9 720.6,737.8 721.4,737.8 722.2,737.7 722.9,737.6 723.7,737.5 724.5,737.4 725.2,737.3 726,737.2 726.8,737.1 727.5,737 728.3,736.9 729.1,736.8 729.8,736.6 730.6,736.5 731.4,736.4 732.1,736.2 732.9,736.1 733.7,736 734.4,735.8 735.2,735.7 736,735.5 736.7,735.3 737.5,735.1 738.3,735 739,734.8 739.8,734.6 740.6,734.3 741.3,734.1 742.1,733.9 742.8,733.7 743.6,733.4 744.4,733.1 745.1,732.9 745.9,732.6 746.7,732.3 747.4,731.9 748.2,731.6 749,731.3 749.7,730.9 750.5,730.5 751.3,730.1 752,729.7 752.8,729.2 753.6,728.7 754.3,728.2 755.1,727.7 755.9,727.1 756.6,726.5 757.4,725.9 758.2,725.2 758.9,724.5 759.7,723.8 760.5,723 761.2,722.2 762,721.3 762.8,720.3 763.5,719.3 764.3,718.3 765.1,717.2 765.8,716 766.6,714.7 767.4,713.4 768.1,712 768.9,710.5 769.7,708.9 770.4,707.3 771.2,705.6 772,703.8 772.7,701.9 773.5,699.9 774.3,697.9 775,695.8 775.8,693.6 776.6,691.4 777.3,689.3 778.1,687.1 778.9,685 779.6,682.9 780.4,681 781.1,679.2 781.9,677.6 782.7,676.3 783.4,675.2 784.2,674.4 785,673.9 785.7,673.8 786.5,674 787.3,674.5 788,675.3 788.8,676.5 789.6,677.9 790.3,679.5 791.1,681.3 791.9,683.3 792.6,685.3 793.4,687.5 794.2,689.6 794.9,691.8 795.7,694 796.5,696.1 797.2,698.2 798,700.2 798.8,702.2 799.5,704.1 800.3,705.9 801.1,707.6 801.8,709.2 802.6,710.8 803.4,712.2 804.1,713.6 804.9,714.9 805.7,716.2 806.4,717.4 807.2,718.5 808,719.5 808.7,720.5 809.5,721.4 810.3,722.3 811,723.1 811.8,723.9 812.6,724.7 813.3,725.3 814.1,726 814.9,726.6 815.6,727.2 816.4,727.8 817.1,728.3 817.9,728.8 818.7,729.3 819.4,729.7 820.2,730.2 821,730.6 821.7,731 822.5,731.3 823.3,731.7 824,732 824.8,732.3 825.6,732.6 826.3,732.9 827.1,733.2 827.9,733.4 828.6,733.7 829.4,733.9 830.2,734.2 830.9,734.4 831.7,734.6 832.5,734.8 833.2,735 834,735.2 834.8,735.3 835.5,735.5 836.3,735.7 837.1,735.8 837.8,736 838.6,736.1 839.4,736.3 840.1,736.4 840.9,736.5 841.7,736.7 842.4,736.8 843.2,736.9 844,737 844.7,737.1 845.5,737.2 846.3,737.3 847,737.4 847.8,737.5 848.6,737.6 849.3,737.7 850.1,737.8 850.9,737.9 851.6,737.9 852.4,738 853.2,738.1 853.9,738.2 854.7,738.2 855.4,738.3 856.2,738.4 857,738.4 857.7,738.5 858.5,738.5 859.3,738.6 860,738.7 860.8,738.7 861.6,738.8 862.3,738.8 863.1,738.9 863.9,738.9 864.6,739 865.4,739 866.2,739.1 866.9,739.1 867.7,739.1 868.5,739.2 869.2,739.2 870,739.3 870.8,739.3 871.5,739.3 872.3,739.4" fill="none" stroke="#000" stroke-width="2.6" stroke-linejoin="round" clip-path="url(#spc2)"/>
<line x1="628.3" y1="739.6" x2="872.3" y2="739.6" stroke="#000" stroke-width="1.3" stroke-dasharray="6 4"/>
<path d="M628.3 781V777M628.3 583.3V587.3M658.8 781V778.5M658.8 583.3V585.8M689.3 781V777M689.3 583.3V587.3M719.8 781V778.5M719.8 583.3V585.8M750.3 781V777M750.3 583.3V587.3M780.8 781V778.5M780.8 583.3V585.8M811.3 781V777M811.3 583.3V587.3M841.8 781V778.5M841.8 583.3V585.8M872.3 781V777M872.3 583.3V587.3M628.3 583.3H632.3M872.3 583.3H868.3M628.3 602.2H632.3M872.3 602.2H868.3M628.3 624.6H632.3M872.3 624.6H868.3M628.3 652H632.3M872.3 652H868.3M628.3 687.3H632.3M872.3 687.3H868.3M628.3 737.1H632.3M872.3 737.1H868.3M628.3 772.4H630.8M872.3 772.4H869.8M628.3 709.7H630.8M872.3 709.7H869.8M628.3 668.4H630.8M872.3 668.4H869.8M628.3 637.5H630.8M872.3 637.5H869.8M628.3 612.9H630.8M872.3 612.9H869.8M628.3 592.4H630.8M872.3 592.4H869.8" stroke="#333" stroke-width="1" fill="none"/>
<rect x="628.3" y="583.3" width="244" height="197.7" fill="none" stroke="#555" stroke-width="1.3"/>
<text x="624.3" y="589.8" style="font-family:'Liberation Serif',serif;font-size:19px;" text-anchor="end" >7</text>
<text x="624.3" y="608.7" style="font-family:'Liberation Serif',serif;font-size:19px;" text-anchor="end" >6</text>
<text x="624.3" y="631.1" style="font-family:'Liberation Serif',serif;font-size:19px;" text-anchor="end" >5</text>
<text x="624.3" y="658.5" style="font-family:'Liberation Serif',serif;font-size:19px;" text-anchor="end" >4</text>
<text x="624.3" y="693.8" style="font-family:'Liberation Serif',serif;font-size:19px;" text-anchor="end" >3</text>
<text x="624.3" y="743.6" style="font-family:'Liberation Serif',serif;font-size:19px;" text-anchor="end" >2</text>
<text x="628.3" y="802.2" style="font-family:'Liberation Serif',serif;font-size:19px;" text-anchor="middle" >-2</text>
<text x="689.3" y="802.2" style="font-family:'Liberation Serif',serif;font-size:19px;" text-anchor="middle" >-1</text>
<text x="750.3" y="802.2" style="font-family:'Liberation Serif',serif;font-size:19px;" text-anchor="middle" >0</text>
<text x="811.3" y="802.2" style="font-family:'Liberation Serif',serif;font-size:19px;" text-anchor="middle" >1</text>
<text x="872.3" y="802.2" style="font-family:'Liberation Serif',serif;font-size:19px;" text-anchor="middle" >2</text>
<text x="864.3" y="611.2" style="font-family:'Liberation Serif',serif;font-size:25px;" text-anchor="end" >2.5 mK</text>
<text transform="translate(590.5,686.3) rotate(-90)" style="font-family:'Liberation Sans',sans-serif;font-size:24px" text-anchor="middle">Photons</text>
<clipPath id="spc3"><rect x="629.3" y="864" width="246.3" height="201.3"/></clipPath>
<path d="M628.9 1013.4h0M628.6 1013.6h0M630.1 1036.3h0M630.1 1030.4h0M631.3 1031.2h0M632.3 1027.7h0M631.2 1050.6h0M630.9 1050h0M631.6 1021.4h0M632.2 1017.5h0M634.2 1042.6h0M634 1038.1h0M634.6 1054.4h0M635 1057.5h0M634.4 991.9h0M635.2 991.8h0M636 998.5h0M636 1003.9h0M636.6 1031.8h0M636.7 1031.6h0M637.2 1001.6h0M638.3 992.1h0M638.5 1004.6h0M638.7 1014.1h0M640.4 1027.7h0M639.2 1021.3h0M640.1 1008.1h0M640.1 1008h0M640.4 1020.2h0M640.6 1025.9h0M641.2 1008h0M642 1015.2h0M642.6 988.1h0M644.2 992.2h0M643.9 1019.5h0M644.4 1018.5h0M644.8 988.5h0M644.7 989.8h0M646.6 1006.7h0M646.8 1006.1h0M646.7 1026.6h0M647 1018.2h0M646.7 1006.9h0M647 1010h0M647.9 1012.9h0M647.7 1019.6h0M649.5 1010.4h0M649 1016.8h0M650.5 1047h0M650.7 1028.4h0M650.6 1014.8h0M650.1 1020.4h0M652 1013.7h0M651.5 1007.2h0M653.1 1009.2h0M652.9 1018h0M652.6 1043.7h0M652.4 1035.9h0M653.9 1001.8h0M654.7 1000.6h0M654.5 1012.7h0M654.9 1011h0M655.2 1048.1h0M655.4 1052h0M656.2 996.2h0M655.7 991h0M657.6 1024.3h0M658 1024h0M657.1 1021.1h0M657.4 1021.5h0M658.6 1014.6h0M658.9 1009.4h0M660.2 1061.7h0M660.9 993.6h0M660.3 991.8h0M660.6 1062.6h0M660.2 1064.1h0M662.4 998.9h0M662.9 996.3h0M662.8 988.9h0M663.2 988.5h0M664.4 1022.6h0M663.8 1018.4h0M666.6 1016.7h0M665.4 1012.9h0M665.8 977.7h0M665.7 976.9h0M666.6 1026.3h0M666.5 1034h0M667.1 1011h0M667.3 1002.6h0M667.2 999.6h0M667.1 998.3h0M669.2 973.8h0M669.1 967.5h0M669.9 1011.4h0M670.1 1012.4h0M670 1021.7h0M669.9 1028.3h0M670.9 1012.1h0M671.1 1010.5h0M671.3 1035.2h0M671.6 1038.9h0M673.5 1024.3h0M672.2 1029.5h0M673.4 1010.3h0M674.6 1010.8h0M675.2 984.4h0M675 980.8h0M675.6 993.1h0M675.7 995.9h0M677 984.1h0M676.8 986.3h0M677.4 1015.1h0M677.4 1016.5h0M677.9 1008.2h0M678.1 1008.2h0M678.2 1012.7h0M678.6 1005.1h0M678.2 1047.4h0M678.9 1063.5h0M680.1 982.4h0M680.1 983.5h0M681.5 987.9h0M681.9 986.5h0M682.8 982.6h0M681.8 984.6h0M681.7 1022.7h0M682.3 1014.2h0M684.1 997.5h0M683.8 989.3h0M685.4 980.3h0M684.5 980.7h0M685.3 989.3h0M685.7 990.9h0M686.1 1001.8h0M685.7 1004.5h0M687 998.8h0M686.9 995.9h0M687.5 998h0M687.8 1003.8h0M688.5 998.1h0M688.6 1000.5h0M689.3 1007.6h0M688.7 1006.1h0M690.7 982.9h0M691.1 986h0M691.6 999.5h0M691.6 1004.2h0M691.2 1001.8h0M691.9 998.6h0M692.4 1009.4h0M692.8 1017.9h0M693.5 1002.4h0M693.7 996.4h0M694.4 1013.6h0M695.2 1013.7h0M694.6 1015.3h0M695.1 1011.1h0M697.2 1000.6h0M696.4 1005.4h0M696.4 1031.6h0M697 1028.5h0M697.9 1029.6h0M697.5 1025.6h0M698.5 967.7h0M698.6 970.5h0M700.5 1027.7h0M699.7 1022.9h0M700.1 987.4h0M699.7 980.2h0M700.6 1019.7h0M700.8 1020.9h0M701.5 1004.1h0M700.9 1005.8h0M702.5 973.8h0M703 972.9h0M703.4 1008.9h0M703.8 998.5h0M704.5 1012.5h0M704.1 1014.8h0M704.7 1002.5h0M705 1002.4h0M704.9 1026.4h0M705.3 1022.6h0M707.2 973.1h0M707.3 977.7h0M707.2 1008.2h0M708 1003h0M708.9 996.2h0M709 994.9h0M708.9 1029.9h0M709.3 1028.4h0M710.4 994.7h0M710.1 990.4h0M711.6 987.6h0M712.2 986.9h0M712.1 966.1h0M712 968.9h0M713 975.9h0M713.1 974.8h0M712.8 981.7h0M712.6 985.2h0M714.5 990h0M714.1 991.2h0M714.8 971.7h0M714.9 970.9h0M715.2 998.7h0M715.5 1000.5h0M716.7 978h0M717.4 979.2h0M717 987.9h0M716.2 985h0M718 987.4h0M718.4 982.9h0M719.9 968.7h0M719.2 969.6h0M719.6 966.7h0M720 963h0M721.4 952.4h0M721.3 953.1h0M720.5 963h0M721.5 961.9h0M722.2 952.9h0M722.5 952.7h0M724 946.1h0M723.4 948h0M723.3 947.6h0M722.8 948h0M724.7 955h0M724.1 951.5h0M725.6 947.1h0M725.5 944.9h0M727.2 939.6h0M726.9 941.8h0M726.9 951.8h0M727.1 953.3h0M728.8 930.4h0M728.4 930.8h0M729 926.6h0M729.3 926.3h0M728.7 928.1h0M729.3 928.9h0M731.3 911.4h0M731.3 911.6h0M731 910.8h0M731.5 910.3h0M733.6 895.9h0M732.9 895.8h0M734.3 892.8h0M733.8 892h0M734.9 893.5h0M735 894h0M734.7 883.2h0M735.4 883h0M735.8 883.9h0M735.6 884.8h0M736.4 886.9h0M735.6 886.8h0M736.8 884.1h0M737.8 887.1h0M737 881.6h0M737.7 882.2h0M738.9 892.8h0M739.1 893.3h0M739.4 893.2h0M739 893.4h0M739.8 898.8h0M739.8 897.4h0M741.2 903.8h0M741.2 903.4h0M741.6 902.8h0M742.1 902.8h0M743 917.7h0M742.9 915.9h0M743.5 922.3h0M743.7 922.5h0M744.9 932.4h0M744.9 932.1h0M744.8 923.6h0M744.9 920.9h0M746.9 940h0M746 940.5h0M746.6 935.2h0M747.3 936.7h0M749.1 957.1h0M748.6 953.3h0M749.9 962.7h0M749.6 966h0M748.5 959.5h0M748.1 958.8h0M750.6 964.1h0M750.1 967.4h0M751.3 967.5h0M750.8 970.2h0M753.2 987.1h0M752.5 990.5h0M752.6 1006.3h0M752.7 1005.1h0M754.7 1006.3h0M753.8 1006.8h0M754.3 977.8h0M754.6 978.4h0M755.9 1005.4h0M755.8 1001.6h0M755.7 991.7h0M755.7 997.5h0M757.7 984.6h0M757.2 984h0M756.7 995.9h0M757.2 995.3h0M757.8 989.6h0M757.8 989.9h0M759.3 999.4h0M759.7 1005.3h0M760.3 990.8h0M760.8 990.2h0M761.3 1013.6h0M760.5 1012h0M762.2 979.7h0M762.7 983.4h0M763.1 1001.2h0M763.1 1009.4h0M765 1004.9h0M764.1 999.6h0M764.4 1028.5h0M764.3 1033.8h0M765.3 1002.9h0M765.4 1001.9h0M766.9 1022.6h0M766.1 1020h0M766.3 1019.9h0M766.6 1017.4h0M768.1 980.2h0M768.7 984h0M768.8 991.3h0M767.9 986.5h0M769.7 1012.2h0M769.4 1007.2h0M771.3 1018.5h0M770.5 1015.7h0M770.3 980.1h0M770.7 978.5h0M771.5 1004.7h0M771.7 1008h0M772.9 1030.1h0M773.1 1031.6h0M773.5 1017.7h0M774.2 1016h0M774.2 1040.7h0M773.6 1037.6h0M775.3 1017h0M774.8 1020.5h0M775.8 976.8h0M775.3 979.7h0M776.5 1018.6h0M777.4 1011.3h0M778.8 1031.3h0M778 1027.6h0M778.7 989.9h0M777.8 992.7h0M778.9 1023.7h0M778.6 1025.3h0M779 990.9h0M779.2 987.6h0M780.8 1005.7h0M780.9 1005.7h0M781.6 1037.8h0M781.9 1038h0M782 1010.1h0M781.4 1012.7h0M783.8 1040.4h0M783.6 1032.9h0M783.8 1018.5h0M782.9 1016.3h0M785.3 1046.2h0M785 1040.1h0M784.7 1039.3h0M784.5 1042.1h0M787.4 990.9h0M787.4 993.5h0M789.4 1039.9h0M788.9 1038.6h0M789.9 1002.4h0M788.9 1004.2h0M789.9 976h0M789.6 970.9h0M790.6 1003.4h0M790.7 1000.8h0M792.5 1024.7h0M791.1 1023.1h0M791.8 1020.7h0M791.9 1026.3h0M793.2 1029.1h0M792.4 1032.9h0M794.3 1021.4h0M794.2 1027.7h0M795.7 1005.8h0M795.5 1004.5h0M795.3 1024.3h0M796.3 1022.1h0M796.3 1041.1h0M795.5 1052.5h0M798.4 1056.3h0M798 1059.6h0M800.5 1027.6h0M801.5 1028.6h0M800.9 1042h0M800.7 1044.5h0M801.6 1003.5h0M801.9 992.1h0M801.8 1005.9h0M802 1005.7h0M802.4 1042.9h0M803 1041.4h0M803.9 1008.5h0M804.3 1006h0M804.7 1027.3h0M805 1022.7h0M806.6 1002.7h0M806.4 1003.9h0M806.7 1039.4h0M807.1 1041.8h0M808.5 1020.5h0M808.6 1019.9h0M809.4 1029.4h0M809.3 1027h0M809 1048.3h0M810.3 1056.4h0M810.7 1042.2h0M810.4 1043.1h0M810.9 1000.2h0M811.3 1000.5h0M813.4 1049.3h0M813.2 1055.9h0M814.2 1004.6h0M812.7 1009.4h0M814.5 1000.2h0M814.8 1002.6h0M815 1023.7h0M815.1 1028.6h0M815.8 1019.2h0M816.1 1014.3h0M817.5 1049.5h0M816.9 1045h0M818.5 1033.2h0M818.5 1034.5h0M819.1 1015h0M819.1 1006h0M820.5 1047.8h0M819.7 1035.3h0M820.4 1034.8h0M820.9 1029.2h0M821.5 1063.2h0M821.6 1055.1h0M823 997.5h0M822.5 995.8h0M823.4 1030.9h0M823.4 1026.8h0M824.2 1035.6h0M823.8 1029.6h0M825.1 1066.3h0M824.3 1062.8h0M825.3 1037.3h0M825.3 1046.3h0M827 1066.7h0M826.7 1043.7h0M826.4 1045.3h0M828.2 1065.7h0M827.6 1064.7h0M828.3 1034.4h0M828.5 1038.1h0M829.8 1015.2h0M829.6 1021.7h0M830.7 1009.4h0M830.9 1004.4h0M831 1021h0M830.9 1028.5h0M830.9 996.8h0M830.8 994.6h0M833.2 1034.6h0M833.9 1032.2h0M833.8 1031.3h0M833.3 1034.6h0M834.1 1065.7h0M835 1009.2h0M835.2 1014.2h0M836.5 1027.4h0M835.9 1031h0M835.9 1024.2h0M835.3 1027.2h0M837.7 1056.8h0M838.4 1058.1h0M839.4 980.4h0M839.5 979h0M839.3 1019.4h0M839 1009h0M839.7 1017h0M839.6 1010.5h0M840.6 1001.9h0M840.8 1007h0M841.1 1007h0M841.3 1010.8h0M843 998.5h0M843.1 997.5h0M843.3 1033.4h0M842.6 1036.5h0M845 1038.9h0M845.3 1038.4h0M845 1018h0M845.6 1023.3h0M847.8 1060.6h0M847.1 1063h0M847.4 1049.1h0M847.8 1053.8h0M848.7 1062.4h0M848.8 1057.4h0M848.4 1054.7h0M849.2 1058.3h0M849.2 1024.5h0M849.4 1024.8h0M850.5 1013.5h0M851.4 1013.4h0M852.6 1031.7h0M852.3 1030.2h0M853.8 1013.8h0M854.3 1014.7h0M854.9 1020.6h0M854.7 1026.2h0M855.3 1005.1h0M854.7 1003.6h0M855.7 1033.5h0M855.5 1026.4h0M856.9 1001.4h0M856.6 996.5h0M857.1 1029.7h0M857.7 1026.4h0M858.1 1059.9h0M857.8 1062.5h0M859 1051.4h0M859.9 1047h0M859.4 1046.5h0M859.4 1045.3h0M861.4 1034.9h0M861.1 1033.7h0M861.4 1048.3h0M860.9 1051.6h0M862.8 1060.3h0M862.8 1059.7h0M862.7 1021.9h0M861.7 1028.4h0M863.6 1018h0M863.9 1011.3h0M864.9 1051h0M864.7 1052.5h0M866.3 1065.1h0M865.8 1058.5h0M866.6 1008.7h0M866.2 1007.5h0M868.8 1020.8h0M868.8 1021.4h0M870 1037.4h0M869.7 1041.4h0M869.9 1040.5h0M870 1035.7h0M870 1018.6h0M870.9 1020.2h0M871.3 1045.3h0M872 1050.5h0M872.8 1042.2h0M873.6 1038.9h0M874.3 1025.2h0M873.8 1024.2h0M874.5 1034.9h0M874.9 1037.9h0M875.7 1027.1h0M875.7 1024.2h0" stroke="#0000ff" stroke-width="4" stroke-linecap="round" fill="none" clip-path="url(#spc3)"/>
<path d="M629.4 1008.2h0M628.5 1009.3h0M630 1038h0M630 1037.3h0M630.1 1017.2h0M630 1020.7h0M631 1043.4h0M632.1 1042.2h0M632.6 1019.1h0M632.3 1014.7h0M633.4 1028.3h0M633.1 1025.8h0M633.3 1037h0M633.5 1037.5h0M634.6 1017.6h0M634 1015.8h0M635.9 1018.2h0M635.7 1023.1h0M637.1 1039.5h0M636.1 1037h0M637.9 1022.7h0M637.5 1027.8h0M638 1044.9h0M638 1055h0M638.7 1030.7h0M639.5 1033.5h0M640.3 1024h0M640.6 1021.6h0M640.8 1009.6h0M640.7 1012.9h0M641.7 1021.9h0M642.1 1022.2h0M642.8 1026.4h0M641.9 1023.1h0M642 1017.4h0M643.3 1013.1h0M643 1017.1h0M643.6 1009.5h0M645.3 1029h0M644.5 1029.6h0M645.4 1014.7h0M645.9 1012.4h0M646.7 1010.1h0M647.3 1006.4h0M647.7 997h0M648.2 992h0M648.2 1009.5h0M648.8 1007.8h0M649 1033.1h0M650 1035.8h0M650.4 1017.1h0M650 1016.2h0M651.6 1023.5h0M651.8 1019.6h0M651.5 1019.9h0M651.8 1019h0M653.8 1028h0M653.3 1031.6h0M653.8 1015h0M653.5 1016.6h0M653.7 1023.6h0M653.4 1030.6h0M655.3 1024.3h0M655 1028.7h0M655.6 1036.4h0M656.6 1036.5h0M656.7 1048.3h0M656.3 1051.2h0M656.8 1049.4h0M657.1 1051.5h0M658.1 1034.8h0M658 1028.4h0M659.9 1028.3h0M659.5 1030.7h0M660.2 1010.6h0M660.7 1016.2h0M660.3 1025.5h0M660.2 1021.4h0M660.5 1008.8h0M660.3 1007.2h0M662.1 1024.9h0M662.5 1027.2h0M663.6 1023h0M663.5 1019h0M663.3 1052.4h0M663.8 1052.1h0M664.8 1016.3h0M664.6 1017h0M666 1055.3h0M665.6 1053.6h0M666.3 1048.8h0M666.5 1051.4h0M667 1058.4h0M667.4 1056.3h0M668.6 1043.3h0M668.7 1042.6h0M668.8 1038h0M669 1041.9h0M669 1037.6h0M669.3 1041.7h0M669.7 1022.2h0M670.2 1020.1h0M671.3 1009.6h0M670.7 1010.8h0M673.1 1032.5h0M673.4 1036.2h0M673.1 1003.3h0M672.7 1000.7h0M674.1 1029.7h0M674.1 1029.7h0M675.1 1031.3h0M674.4 1030.4h0M675.6 1015.1h0M675.3 1015.8h0M676.3 1058.4h0M675 1062.1h0M677.2 1047.8h0M678 1040.6h0M678.7 1015.6h0M678.3 1013.9h0M677.9 1048.6h0M678 1050.8h0M679.4 1050.6h0M678.8 1047.7h0M680.8 1059.2h0M680.5 1055.7h0M681.4 1041.8h0M680.5 1038.1h0M681.2 1017.8h0M682.6 1017.5h0M683.3 1024.1h0M683.1 1025.1h0M685 996.5h0M684.3 997.4h0M685.5 1016.1h0M685.1 1015.5h0M684.1 1023.7h0M684.6 1019.6h0M685.8 1038.9h0M685.8 1041.3h0M687 1050.8h0M686.9 1049.4h0M687.6 1029.8h0M688 1029.3h0M688.9 1014.5h0M688.2 1016.4h0M689.1 1045.9h0M688.9 1047.9h0M690 1017.5h0M689.4 1023.8h0M691.2 1059.9h0M690.7 1055.7h0M691.5 1032.9h0M692.2 1029.1h0M693.2 1039h0M692.8 1039h0M693.6 1063.4h0M693.3 1063.6h0M694.4 1033.3h0M694.3 1036.8h0M695 1009.6h0M694.6 1005.6h0M696.3 1036.9h0M696 1034.3h0M697.2 1004.6h0M696.7 1001.7h0M697 1015.9h0M697.8 1015.8h0M697.8 1003.1h0M697.9 1005.5h0M698.3 1014h0M700.2 1017.2h0M698.9 1016.4h0M699.8 1016.6h0M701.9 1022.2h0M702.3 1024.7h0M701.9 1030.3h0M701.3 1029h0M702.4 1007.5h0M702.4 1006.2h0M703.2 1024.9h0M703.4 1027h0M704.8 1006h0M704 1002h0M705.4 1007.3h0M704.7 1002.3h0M705.5 1002.6h0M705.5 999.4h0M706.5 1009.1h0M706.2 1014.5h0M707.1 1027.6h0M706.6 1034.9h0M707.9 1029.1h0M707.7 1028.4h0M708.9 1037.2h0M709.1 1038.3h0M710.9 1020.5h0M710.8 1023.2h0M710.5 1018.8h0M710.3 1021.7h0M711.2 1038.6h0M712.5 1036.5h0M712.9 1022.3h0M713 1022h0M714.3 1021.4h0M714.8 1020.3h0M712.8 1014.8h0M713.5 1014h0M715.1 1032.8h0M716.1 1030.4h0M716.6 1025.1h0M716.6 1025.1h0M717.1 1019.3h0M716.8 1013.4h0M717.4 1015.7h0M717.2 1016.2h0M718.7 1023.4h0M719.3 1021.5h0M720.3 1031.6h0M720.2 1028.7h0M720.9 1030.4h0M721 1028.8h0M721.6 1018.6h0M722.3 1017.3h0M722.5 1025.2h0M722.4 1027.1h0M723.3 1001.5h0M723.3 1004h0M724.7 1018.2h0M723.9 1022.3h0M724.2 1015.7h0M724 1012.4h0M725.2 1027.9h0M726.1 1029.9h0M726.5 1003h0M725.3 1001.4h0M726.4 1013h0M726.9 1014.4h0M728.5 1023.8h0M729 1026.3h0M729.4 1010.9h0M729.2 1008.8h0M730.3 1017.6h0M729.7 1020.7h0M730.8 1018.2h0M730.6 1017.3h0M732 1014.6h0M731.9 1014.3h0M731.5 1039.6h0M732.2 1041.5h0M732.7 992.9h0M733.1 990.3h0M734.3 996.7h0M734.2 995h0M735.3 1030.3h0M736.2 1032.8h0M735.2 1013.5h0M735 1013.4h0M735.8 1011.2h0M736.2 1009.4h0M737 1034.1h0M736.5 1029.7h0M737.8 1011.9h0M737.9 1008.8h0M738.6 1012.1h0M738.5 1009.2h0M739.4 990.7h0M738.9 993.3h0M740.7 1013.6h0M741 1011.8h0M742 995.4h0M741.3 991.7h0M743 1012.8h0M742.9 1012.5h0M743 1006.9h0M743.7 1002.4h0M743.4 1023.3h0M743.9 1023.2h0M744.5 1006.9h0M744.9 1004.6h0M745.3 988.5h0M745.6 986.1h0M745.9 991.9h0M746.2 989.4h0M746.5 1012.7h0M746.8 1013.6h0M747.9 997.1h0M748.3 995.2h0M749.4 1015.7h0M748.6 1017.8h0M749.8 998h0M749.8 999.6h0M750.1 997.7h0M750.3 992.8h0M750.3 1000.2h0M751 998.6h0M751.4 1003.9h0M752.7 1001h0M752 983.9h0M753.3 982.6h0M753.4 1037.8h0M754.3 1038h0M754.7 1013.1h0M754.8 1013.2h0M755.1 1015.6h0M754.2 1012.9h0M755.8 1004.2h0M756.5 1004.8h0M756.6 1015.2h0M756.6 1013h0M758.1 1026.2h0M758.8 1024.2h0M759.1 1017.2h0M759.1 1014.9h0M759.8 1030.2h0M760 1028.6h0M760.4 1020h0M760.5 1019h0M762.2 1007.5h0M762.6 1006.4h0M763 996.2h0M763.3 993.7h0M762.1 994.5h0M762 991.5h0M763.6 998.2h0M763 997.2h0M763.4 994h0M763.6 993.9h0M765.4 999.5h0M764.9 998.2h0M766 1001.1h0M766.1 999.2h0M766.9 1004.8h0M766.9 1000.2h0M768.2 992.7h0M767.3 993.4h0M767.9 1003h0M767.5 1004.3h0M769.3 999.5h0M769.4 999.3h0M770.3 1001.7h0M770.2 1000.4h0M771.2 1023.6h0M771 1022.4h0M771.2 988.3h0M772.4 993.4h0M771.1 998.6h0M772 999.1h0M773.5 1003.8h0M773.9 999.7h0M774.7 989.8h0M774.7 991.2h0M774.8 991.6h0M776 993.6h0M775 988.1h0M776 988.6h0M776.4 975.2h0M777 974.8h0M777.2 983h0M777.7 984.2h0M777.6 987.4h0M778.4 987.5h0M779.4 981.4h0M779.2 979h0M779.2 985.4h0M779.7 984.4h0M780.4 988.3h0M781.1 986.2h0M782 981.1h0M781.4 982.7h0M783 982.1h0M783.6 982.4h0M783.6 971.7h0M783.1 968.9h0M784.2 973.8h0M783.9 974.6h0M784.9 968.7h0M785.8 968.2h0M784.8 977.1h0M785.2 976.9h0M786.6 970h0M787.2 969.6h0M786.5 971.2h0M785.7 972.4h0M788.1 984.9h0M788.1 984.7h0M788.5 978.8h0M788.4 980.5h0M788.7 975h0M789.1 974.2h0M791.4 977.3h0M791.7 976.5h0M791.1 985.9h0M791.2 986.3h0M792.3 979.2h0M792.5 979.1h0M793.2 983.7h0M792.8 985.7h0M793.1 980.1h0M793.8 980.9h0M793.9 986.8h0M795.1 988.3h0M795.6 992.1h0M795 990.5h0M796.4 984.8h0M796.4 985.2h0M797.1 987.5h0M797.7 987.7h0M797.1 987.6h0M797.6 990h0M798.4 990.4h0M799.2 990.1h0M799.9 985.2h0M800 986h0M800.5 982.4h0M800.5 982.6h0M801.2 981.1h0M801.8 984.5h0M802.2 985.9h0M803.4 986.7h0M802.4 994.3h0M803.1 995.2h0M803.8 998.3h0M803.8 997.8h0M805.1 997.2h0M805.2 999.3h0M806.6 1008.8h0M806.1 1010.8h0M806 1013.7h0M806.8 1016.5h0M807.7 1000.3h0M807 1004h0M807.4 1002.7h0M807.8 1000.3h0M808.6 998.9h0M808.8 999.3h0M810.3 1006.6h0M810.2 1003.9h0M810.5 999h0M810.9 999h0M810.7 1003.7h0M811.3 1003.4h0M812.3 1000.7h0M811.8 997.3h0M813.2 1017.6h0M813 1020.3h0M812.6 1012.3h0M813.9 1010.7h0M814.7 1010.8h0M814.9 1009h0M815.9 1013.6h0M815.1 1015.7h0M816.3 1014.6h0M816.1 1016.9h0M817.4 1006.4h0M817.2 1007.6h0M818.4 1011.6h0M817.8 1012.1h0M818.4 1013.8h0M819.1 1013.7h0M820 1002.2h0M819.6 1002h0M820.1 1012.9h0M819.9 1013.8h0M821.4 1015.5h0M821.7 1010.8h0M822.2 1021.3h0M822.3 1022.7h0M824.9 1008.3h0M823.7 1011.2h0M823.7 1021.1h0M823.2 1019.2h0M824.8 1029.2h0M824.3 1026.5h0M825.9 1041.5h0M825.9 1039h0M825.9 1033.9h0M826.2 1033.3h0M827.3 1016.4h0M827.1 1013.8h0M827.6 1025.2h0M827.8 1026.8h0M828.3 1021.2h0M828.6 1017.4h0M829.9 1020.8h0M829.4 1022.4h0M829.8 1009.3h0M830 1010.4h0M831.4 1028.3h0M831.6 1027.7h0M833 1016.2h0M832.1 1014.5h0M833.1 1017.5h0M833 1016.4h0M832.6 996h0M833.3 994.6h0M834.7 1025.6h0M834.2 1024.2h0M835.2 994.6h0M834.7 995.5h0M836.2 1020.9h0M835.5 1020.8h0M837.1 1027.9h0M837.2 1029.2h0M838 1029.9h0M837.8 1027.2h0M838.4 1053.1h0M838.4 1051.3h0M839.8 1020.6h0M838.8 1024.9h0M840.3 1021.4h0M840.4 1020.3h0M842.2 1034.6h0M841.7 1038.5h0M841.1 1039.3h0M841.4 1037.9h0M842.2 1017.8h0M843.1 1017.3h0M844.1 1013.3h0M842.9 1011.9h0M844 1034.4h0M843.5 1031.3h0M845.4 1016.3h0M845.4 1018.9h0M845.5 1037.5h0M845.6 1038.6h0M846.1 1043.8h0M845.8 1051.2h0M847.8 1031.7h0M847 1030.2h0M848.3 1031.5h0M849.1 1033.5h0M849.9 1060.4h0M850.4 1030h0M850.2 1031.8h0M850.9 1014.6h0M849.3 1014.6h0M850.4 1023.7h0M851.2 1021.1h0M852.5 1017.2h0M852.2 1016.7h0M853.3 998.4h0M852.7 999h0M854.2 1019.9h0M854 1020.5h0M854 1017.2h0M853.9 1017.3h0M855.2 1028.6h0M855.7 1026.1h0M855.3 1022.4h0M856.1 1023.7h0M856.9 1008.9h0M857.6 1010.1h0M857.7 1023.1h0M857.1 1021.2h0M857.6 1017.2h0M858.3 1017.2h0M860.7 1017.7h0M860.8 1015.3h0M861.2 1036.3h0M860.6 1031.6h0M861.3 1047.9h0M862.2 1043.3h0M862.6 1037h0M862.9 1035.6h0M862.6 1052.6h0M863 1053.6h0M864.3 1023.6h0M863.5 1022.8h0M864.8 992.3h0M864.2 990.2h0M867.2 1019.1h0M866.4 1014h0M866.7 1038.1h0M866.9 1039.2h0M866.6 1033.7h0M866.5 1032.9h0M868.1 1008.6h0M868.4 1012.1h0M869.6 1008.6h0M870 1010.2h0M869.5 1014.3h0M869.6 1014h0M871.1 1012.2h0M870.8 1014.5h0M871.5 1029h0M871.1 1028h0M872.2 1034.1h0M872.1 1030.7h0M872.2 1004.3h0M872 1002.4h0M874.4 1040h0M874.5 1038.5h0M874.5 1025.5h0M874.5 1028h0M876.1 1022.5h0M876 1032.6h0" stroke="#ff0000" stroke-width="4" stroke-linecap="round" fill="none" clip-path="url(#spc3)"/>
<polyline points="635.5,1023.5 636.6,1023.5 637.7,1023.4 638.7,1023.4 639.8,1023.4 640.9,1023.3 642,1023.3 643.1,1023.2 644.2,1023.2 645.3,1023.1 646.4,1023.1 647.5,1023 648.6,1023 649.7,1022.9 650.8,1022.8 651.9,1022.8 653,1022.7 654.1,1022.7 655.2,1022.6 656.3,1022.5 657.4,1022.4 658.5,1022.4 659.6,1022.3 660.7,1022.2 661.8,1022.1 662.9,1022 664,1021.9 665.1,1021.8 666.2,1021.7 667.3,1021.6 668.4,1021.5 669.5,1021.4 670.5,1021.2 671.6,1021.1 672.7,1021 673.8,1020.8 674.9,1020.7 676,1020.5 677.1,1020.3 678.2,1020.1 679.3,1019.9 680.4,1019.7 681.5,1019.5 682.6,1019.3 683.7,1019.1 684.8,1018.8 685.9,1018.5 687,1018.3 688.1,1018 689.2,1017.6 690.3,1017.3 691.4,1016.9 692.5,1016.5 693.6,1016.1 694.7,1015.7 695.8,1015.2 696.9,1014.7 698,1014.1 699.1,1013.5 700.2,1012.8 701.2,1012.1 702.3,1011.4 703.4,1010.5 704.5,1009.6 705.6,1008.6 706.7,1007.5 707.8,1006.4 708.9,1005.1 710,1003.6 711.1,1002.1 712.2,1000.3 713.3,998.4 714.4,996.3 715.5,993.9 716.6,991.2 717.7,988.3 718.8,985 719.9,981.3 721,977.2 722.1,972.6 723.2,967.4 724.3,961.7 725.4,955.4 726.5,948.5 727.6,940.9 728.7,932.9 729.8,924.5 730.9,916 732,907.9 733,900.6 734.1,894.7 735.2,890.8 736.3,889.3 737.4,890.3 738.5,893.8 739.6,899.4 740.7,906.5 741.8,914.5 742.9,922.9 744,931.4 745.1,939.5 746.2,947.1 747.3,954.2 748.4,960.6 749.5,966.4 750.6,971.7 751.7,976.4 752.8,980.6 753.9,984.3 755,987.7 756.1,990.7 757.2,993.4 758.3,995.8 759.4,998 760.5,1000 761.6,1001.8 762.7,1003.4 763.8,1004.8 764.8,1006.1 765.9,1007.3 767,1008.4 768.1,1009.4 769.2,1010.4 770.3,1011.2 771.4,1012 772.5,1012.7 773.6,1013.4 774.7,1014 775.8,1014.6 776.9,1015.1 778,1015.6 779.1,1016 780.2,1016.5 781.3,1016.9 782.4,1017.2 783.5,1017.6 784.6,1017.9 785.7,1018.2 786.8,1018.5 787.9,1018.8 789,1019 790.1,1019.3 791.2,1019.5 792.3,1019.7 793.4,1019.9 794.5,1020.1 795.6,1020.3 796.6,1020.5 797.7,1020.6 798.8,1020.8 799.9,1020.9 801,1021.1 802.1,1021.2 803.2,1021.3 804.3,1021.5 805.4,1021.6 806.5,1021.7 807.6,1021.8 808.7,1021.9 809.8,1022 810.9,1022.1 812,1022.2 813.1,1022.3 814.2,1022.3 815.3,1022.4 816.4,1022.5 817.5,1022.6 818.6,1022.6 819.7,1022.7 820.8,1022.8 821.9,1022.8 823,1022.9 824.1,1023 825.2,1023 826.3,1023.1 827.4,1023.1 828.4,1023.2 829.5,1023.2 830.6,1023.3 831.7,1023.3 832.8,1023.4 833.9,1023.4 835,1023.4 836.1,1023.5 837.2,1023.5 838.3,1023.6 839.4,1023.6 840.5,1023.6 841.6,1023.7 842.7,1023.7 843.8,1023.7 844.9,1023.8 846,1023.8 847.1,1023.8 848.2,1023.8 849.3,1023.9 850.4,1023.9 851.5,1023.9 852.6,1023.9 853.7,1024 854.8,1024 855.9,1024 857,1024 858.1,1024.1 859.2,1024.1 860.2,1024.1 861.3,1024.1 862.4,1024.1 863.5,1024.2 864.6,1024.2 865.7,1024.2 866.8,1024.2 867.9,1024.2 869,1024.3 870.1,1024.3 871.2,1024.3 872.3,1024.3 873.4,1024.3 874.5,1024.3 875.6,1024.3" fill="none" stroke="#000" stroke-width="2.6" stroke-linejoin="round" clip-path="url(#spc3)"/>
<polyline points="672.4,1025.5 673.3,1025.4 674.3,1025.4 675.2,1025.4 676.1,1025.4 677,1025.4 678,1025.4 678.9,1025.4 679.8,1025.4 680.8,1025.4 681.7,1025.3 682.6,1025.3 683.5,1025.3 684.5,1025.3 685.4,1025.3 686.3,1025.3 687.2,1025.3 688.2,1025.3 689.1,1025.2 690,1025.2 691,1025.2 691.9,1025.2 692.8,1025.2 693.7,1025.2 694.7,1025.1 695.6,1025.1 696.5,1025.1 697.5,1025.1 698.4,1025.1 699.3,1025 700.2,1025 701.2,1025 702.1,1025 703,1024.9 703.9,1024.9 704.9,1024.9 705.8,1024.9 706.7,1024.8 707.7,1024.8 708.6,1024.8 709.5,1024.8 710.4,1024.7 711.4,1024.7 712.3,1024.7 713.2,1024.6 714.2,1024.6 715.1,1024.6 716,1024.5 716.9,1024.5 717.9,1024.4 718.8,1024.4 719.7,1024.4 720.7,1024.3 721.6,1024.3 722.5,1024.2 723.4,1024.2 724.4,1024.1 725.3,1024.1 726.2,1024 727.1,1023.9 728.1,1023.9 729,1023.8 729.9,1023.7 730.9,1023.7 731.8,1023.6 732.7,1023.5 733.6,1023.4 734.6,1023.3 735.5,1023.3 736.4,1023.2 737.4,1023.1 738.3,1023 739.2,1022.9 740.1,1022.7 741.1,1022.6 742,1022.5 742.9,1022.4 743.8,1022.2 744.8,1022.1 745.7,1021.9 746.6,1021.7 747.6,1021.6 748.5,1021.4 749.4,1021.2 750.3,1021 751.3,1020.7 752.2,1020.5 753.1,1020.2 754.1,1020 755,1019.7 755.9,1019.4 756.8,1019 757.8,1018.7 758.7,1018.3 759.6,1017.9 760.5,1017.4 761.5,1017 762.4,1016.5 763.3,1015.9 764.3,1015.3 765.2,1014.7 766.1,1014 767,1013.3 768,1012.5 768.9,1011.6 769.8,1010.7 770.8,1009.7 771.7,1008.6 772.6,1007.4 773.5,1006.2 774.5,1004.9 775.4,1003.5 776.3,1002 777.2,1000.5 778.2,998.8 779.1,997.2 780,995.5 781,993.8 781.9,992.2 782.8,990.6 783.7,989.2 784.7,988 785.6,987 786.5,986.3 787.5,985.8 788.4,985.8 789.3,986 790.2,986.6 791.2,987.4 792.1,988.5 793,989.9 793.9,991.4 794.9,993 795.8,994.6 796.7,996.3 797.7,998 798.6,999.6 799.5,1001.2 800.4,1002.7 801.4,1004.2 802.3,1005.5 803.2,1006.8 804.2,1008 805.1,1009.1 806,1010.2 806.9,1011.1 807.9,1012 808.8,1012.8 809.7,1013.6 810.7,1014.3 811.6,1015 812.5,1015.6 813.4,1016.2 814.4,1016.7 815.3,1017.2 816.2,1017.6 817.1,1018.1 818.1,1018.5 819,1018.8 819.9,1019.2 820.9,1019.5 821.8,1019.8 822.7,1020.1 823.6,1020.4 824.6,1020.6 825.5,1020.8 826.4,1021.1 827.4,1021.3 828.3,1021.5 829.2,1021.6 830.1,1021.8 831.1,1022 832,1022.1 832.9,1022.3 833.8,1022.4 834.8,1022.5 835.7,1022.7 836.6,1022.8 837.6,1022.9 838.5,1023 839.4,1023.1 840.3,1023.2 841.3,1023.3 842.2,1023.4 843.1,1023.5 844.1,1023.6 845,1023.6 845.9,1023.7 846.8,1023.8 847.8,1023.8 848.7,1023.9 849.6,1024 850.5,1024 851.5,1024.1 852.4,1024.1 853.3,1024.2 854.3,1024.2 855.2,1024.3 856.1,1024.3 857,1024.4 858,1024.4 858.9,1024.5 859.8,1024.5 860.8,1024.5 861.7,1024.6 862.6,1024.6 863.5,1024.6 864.5,1024.7 865.4,1024.7 866.3,1024.7 867.2,1024.8 868.2,1024.8 869.1,1024.8 870,1024.9 871,1024.9 871.9,1024.9 872.8,1024.9 873.7,1025 874.7,1025 875.6,1025" fill="none" stroke="#000" stroke-width="2.6" stroke-linejoin="round" clip-path="url(#spc3)"/>
<line x1="629.3" y1="1028.5" x2="875.6" y2="1028.5" stroke="#000" stroke-width="1.3" stroke-dasharray="6 4"/>
<path d="M629.3 1065.3V1061.3M629.3 864V868M660.1 1065.3V1062.8M660.1 864V866.5M690.9 1065.3V1061.3M690.9 864V868M721.7 1065.3V1062.8M721.7 864V866.5M752.5 1065.3V1061.3M752.5 864V868M783.2 1065.3V1062.8M783.2 864V866.5M814 1065.3V1061.3M814 864V868M844.8 1065.3V1062.8M844.8 864V866.5M875.6 1065.3V1061.3M875.6 864V868M629.3 879.2H633.3M875.6 879.2H871.6M629.3 915.6H633.3M875.6 915.6H871.6M629.3 962.4H633.3M875.6 962.4H871.6M629.3 1028.5H633.3M875.6 1028.5H871.6M629.3 1050.3H631.8M875.6 1050.3H873.1M629.3 992.1H631.8M875.6 992.1H873.1M629.3 937.3H631.8M875.6 937.3H873.1M629.3 896.4H631.8M875.6 896.4H873.1" stroke="#333" stroke-width="1" fill="none"/>
<rect x="629.3" y="864" width="246.3" height="201.3" fill="none" stroke="#555" stroke-width="1.3"/>
<text x="625.3" y="885.7" style="font-family:'Liberation Serif',serif;font-size:19px;" text-anchor="end" >5</text>
<text x="625.3" y="922.1" style="font-family:'Liberation Serif',serif;font-size:19px;" text-anchor="end" >4</text>
<text x="625.3" y="968.9" style="font-family:'Liberation Serif',serif;font-size:19px;" text-anchor="end" >3</text>
<text x="625.3" y="1035" style="font-family:'Liberation Serif',serif;font-size:19px;" text-anchor="end" >2</text>
<text x="629.3" y="1086.5" style="font-family:'Liberation Serif',serif;font-size:19px;" text-anchor="middle" >-2</text>
<text x="690.9" y="1086.5" style="font-family:'Liberation Serif',serif;font-size:19px;" text-anchor="middle" >-1</text>
<text x="752.5" y="1086.5" style="font-family:'Liberation Serif',serif;font-size:19px;" text-anchor="middle" >0</text>
<text x="814" y="1086.5" style="font-family:'Liberation Serif',serif;font-size:19px;" text-anchor="middle" >1</text>
<text x="875.6" y="1086.5" style="font-family:'Liberation Serif',serif;font-size:19px;" text-anchor="middle" >2</text>
<text x="867.6" y="891.9" style="font-family:'Liberation Serif',serif;font-size:25px;" text-anchor="end" >0.75 mK</text>
<text transform="translate(590.5,975.7) rotate(-90)" style="font-family:'Liberation Sans',sans-serif;font-size:24px" text-anchor="middle">Photons</text>
<text x="825.3" y="1107.7" style="font-family:'Liberation Sans',sans-serif;font-size:19.6px;" text-anchor="start" >+15.1 MHz</text>
<text x="761.8" y="1133" style="font-family:'Liberation Sans',sans-serif;font-size:24.4px;" text-anchor="middle" >Frequency (kHz)</text>
<clipPath id="fftc0"><rect x="1017.2" y="53.2" width="232.9" height="234"/></clipPath>
<path d="M1016.8 58.5 1032.4 135.9 1041.5 76.7 1047.9 139 1052.9 85 1057 143.7 1060.5 91.4 1063.5 144.2 1066.1 94.6 1068.5 156.8 1070.7 98 1072.6 151 1074.4 100.6 1076.1 156.9 1077.6 102.9 1079.1 149.3 1080.4 104.8 1081.7 151.8 1082.9 106.3 1084.1 155.6 1085.2 108.2 1086.2 163 1087.2 110.2 1088.2 156.9 1089.1 110.9 1090 155 1090.8 112.5 1091.6 158.7 1092.4 113.5 1093.2 158.6 1093.9 114.8 1094.6 173.8 1095.3 116.2 1096 163.4 1096.6 116.5 1097.3 163.7 1097.9 117.4 1098.5 165.4 1099.1 118.7 1099.6 164.6 1100.2 118.8 1100.7 166.6 1101.3 120.3 1101.8 171.7 1102.3 121.2 1102.8 165.7 1103.3 121.6 1103.7 189.5 1104.2 122.6 1104.6 175 1105.1 123.5 1105.5 177.6 1106 124.1 1106.4 168.7 1106.8 124 1107.2 172.5 1107.6 124.4 1108 185.5 1108.4 124.8 1108.7 174.3 1109.1 125.4 1109.5 181.7 1109.8 126.1 1110.2 180.6 1110.5 127.2 1110.9 177.8 1111.2 126.8 1111.6 178.8 1111.9 128.2 1112.2 181 1112.5 128.1 1112.8 179.8 1113.1 128.4 1113.4 183.6 1113.8 129.3 1114 182.4 1114.3 130.6 1114.6 180.9 1114.9 129.9 1115.2 183.7 1115.5 130.8 1115.8 183.9 1116 130.3 1116.3 203.3 1116.6 131.5 1116.8 186 1117.1 131.2 1117.3 189.2 1117.6 131.5 1117.8 199.9 1118.1 132.3 1118.3 184.8 1118.6 133.4 1118.8 207.2 1119.1 132.8 1119.3 189.4 1119.5 132.9 1119.8 190.9 1120 133.2 1120.2 193.4 1120.4 133.9 1120.7 190.7 1121.1 134.1 1121.5 206.6 1121.9 134.9 1122.4 194 1122.8 135.5 1123.2 193 1123.5 136.2 1123.9 195.5 1124.3 136.6 1124.7 197.5 1125 137.5 1125.4 197.2 1125.8 137.3 1126.1 197.3 1126.4 138.9 1126.8 196.7 1127.1 138.6 1127.4 200.3 1127.8 138.9 1128.1 212.1 1128.4 139.9 1128.7 202.7 1129 139.9 1129.3 211.7 1129.6 140.6 1129.9 203.4 1130.2 140.7 1130.5 207.6 1130.8 141.4 1131 209.2 1131.3 143 1131.6 213.1 1131.9 142.8 1132.1 208.8 1132.4 143.3 1132.6 208.2 1132.9 143.9 1133.2 208.2 1133.4 143.1 1133.7 216.7 1133.9 144.3 1134.1 209.2 1134.4 143.8 1134.6 211.8 1134.9 144.4 1135.1 208.8 1135.3 145 1135.5 212.4 1135.8 145.1 1136 210.6 1136.2 145.8 1136.5 227.7 1136.9 146.2 1137.2 212.3 1137.5 146.6 1137.8 222.5 1138.1 146.6 1138.4 214 1138.7 147.1 1139 215.1 1139.3 147.2 1139.6 222.3 1139.9 148.3 1140.1 216.7 1140.4 148.3 1140.7 215.4 1141 149.4 1141.2 224.5 1141.5 149 1141.8 219 1142 150.2 1142.3 224.7 1142.5 149.5 1142.8 230.9 1143 150 1143.2 237.2 1143.5 150.3 1143.7 220.5 1144 151.3 1144.2 226.9 1144.4 151.2 1144.7 220.2 1144.9 153.3 1145.1 220.5 1145.3 151.4 1145.6 228.6 1145.9 152.4 1146.2 222.9 1146.5 154.3 1146.7 226.3 1147 152.8 1147.3 220.1 1147.6 153.7 1147.8 225 1148.1 154.4 1148.3 224.3 1148.6 154.7 1148.8 225.6 1149.1 154.7 1149.3 229.5 1149.6 156 1149.8 230.8 1150.1 155.6 1150.3 230.4 1150.5 155.4 1150.8 251 1151 156.6 1151.2 225.8 1151.4 156.3 1151.7 234.6 1151.9 156.3 1152.2 225.9 1152.4 156.9 1152.7 229.1 1153 157 1153.2 244.9 1153.5 157.7 1153.7 232.7 1154 157.8 1154.2 229.1 1154.5 158.5 1154.7 252 1155 158.8 1155.2 229.5 1155.4 158.8 1155.7 229.2 1155.9 159.4 1156.1 232 1156.3 159.8 1156.6 255.1 1156.8 160 1157.1 241.4 1157.3 160.2 1157.6 232.9 1157.8 160.6 1158.1 233.5 1158.3 161.2 1158.6 232.4 1158.8 162.1 1159.1 234.6 1159.3 161.8 1159.5 235.6 1159.8 161.9 1160 233.1 1160.2 163.2 1160.4 236.4 1160.7 163.5 1160.9 258.4 1161.1 163.4 1161.4 232.4 1161.6 164.6 1161.9 236.1 1162.1 163.7 1162.4 234.6 1162.6 164.3 1162.9 236.5 1163.1 165.4 1163.3 237.7 1163.5 165.9 1163.8 254.9 1164 165.9 1164.2 238 1164.4 165.6 1164.7 243.9 1164.9 166.9 1165.2 258.8 1165.4 167.4 1165.7 239.8 1165.9 168.1 1166.1 248.4 1166.4 168.5 1166.6 244 1166.8 167.5 1167 244.5 1167.3 168.3 1167.5 241.2 1167.8 168.8 1168 241 1168.2 168.9 1168.5 239.3 1168.7 169.9 1168.9 241.5 1169.2 168.9 1169.4 239.4 1169.6 169.5 1169.8 241.5 1170.1 169.5 1170.3 239.9 1170.5 170 1170.8 240.1 1171 170.5 1171.2 242.4 1171.5 171.1 1171.7 241.1 1171.9 170.9 1172.2 243 1172.4 171.5 1172.6 242.2 1172.9 172.1 1173.1 243.6 1173.3 172 1173.6 253.5 1173.8 173.2 1174 241.6 1174.2 172.4 1174.5 241.9 1174.7 173.6 1174.9 245.9 1175.2 173.6 1175.4 244.6 1175.6 174.2 1175.9 245.2 1176.1 174 1176.3 261.2 1176.5 174.4 1176.8 244.7 1177 175.1 1177.2 259.7 1177.5 175.7 1177.7 244.2 1177.9 175.8 1178.1 243 1178.3 175.5 1178.6 242.9 1178.8 175.9 1179 248.1 1179.3 176 1179.5 247.4 1179.7 176.7 1179.9 241.6 1180.2 176.7 1180.4 243.1 1180.6 177.9 1180.9 243 1181.1 178 1181.3 244.5 1181.5 177.7 1181.8 245.3 1182 178.1 1182.2 254 1182.4 179.3 1182.7 243.6 1182.9 179.2 1183.1 246.1 1183.4 180.3 1183.6 246.3 1183.8 180.6 1184 238.9 1184.3 181.3 1184.5 246.7 1184.7 180.2 1184.9 243.3 1185.2 181.2 1185.4 244.9 1185.6 181.8 1185.8 240.2 1186.1 182.2 1186.3 244.4 1186.5 182.3 1186.7 244 1187 182.7 1187.2 241.6 1187.4 182.9 1187.7 240.9 1187.9 182.9 1188.1 244.1 1188.3 182.7 1188.6 247.2 1188.8 182.9 1189 243.9 1189.2 184.2 1189.5 247.7 1189.7 183.9 1189.9 243.2 1190.1 184.1 1190.4 251.5 1190.6 184.2 1190.8 249 1191 184.7 1191.3 251.4 1191.5 185.7 1191.7 245.8 1191.9 186 1192.2 243.5 1192.4 187.2 1192.6 250.8 1192.8 186.6 1193.1 251.1 1193.3 186.7 1193.5 241.2 1193.7 187.2 1194 247 1194.2 186.8 1194.4 242.4 1194.6 187.3 1194.9 244.7 1195.1 187.9 1195.3 245.8 1195.5 188.6 1195.7 239.9 1196 188.2 1196.2 240.8 1196.4 188.9 1196.6 242 1196.9 189 1197.1 242.2 1197.3 189.1 1197.5 245.4 1197.8 189.4 1198 236.9 1198.2 189.8 1198.4 242.4 1198.7 190.5 1198.9 243.7 1199.1 190.4 1199.3 240.2 1199.6 191.1 1199.8 250.3 1200 192.5 1200.2 245.9 1200.4 191.4 1200.7 241.6 1200.9 192.1 1201.1 239.2 1201.3 192.8 1201.6 238.1 1201.8 193.3 1202 243.6 1202.2 194 1202.5 243.2 1202.7 193 1202.9 240.4 1203.1 194.3 1203.3 238.7 1203.6 193.8 1203.8 239.2 1204 194.4 1204.2 239.5 1204.5 194.9 1204.7 247.4 1204.9 194.7 1205.1 239.4 1205.3 195 1205.6 235.8 1205.8 195.7 1206 238.6 1206.2 195.6 1206.5 239.6 1206.7 197 1206.9 242.2 1207.1 197.1 1207.3 236.9 1207.6 196.8 1207.8 239.4 1208 197.5 1208.2 241.5 1208.5 198.1 1208.7 238.3 1208.9 198.9 1209.1 242.3 1209.3 198.7 1209.6 236.1 1209.8 199.2 1210 236.4 1210.2 198.6 1210.5 239.8 1210.7 199.7 1210.9 238.6 1211.1 200.4 1211.3 236.1 1211.6 199.8 1211.8 239.6 1212 200.6 1212.2 236.4 1212.5 200.4 1212.7 238.1 1212.9 200.8 1213.1 237.4 1213.3 201.3 1213.6 231.4 1213.8 202.5 1214 239.2 1214.2 201.6 1214.4 237.3 1214.7 201.7 1214.9 240.5 1215.1 202.6 1215.3 239.5 1215.6 204.2 1215.8 236.3 1216 204 1216.2 236.7 1216.4 203.6 1216.7 232.9 1216.9 203.5 1217.1 236.3 1217.3 204.3 1217.6 235.8 1217.8 203.9 1218 241.4 1218.2 204.8 1218.4 233.7 1218.7 204.7 1218.9 234.7 1219.1 205.5 1219.3 235.9 1219.5 206 1219.8 239.7 1220 205.6 1220.2 235 1220.4 205.8 1220.6 235.8 1220.9 206.5 1221.1 234.3 1221.3 207.1 1221.5 235.7 1221.8 206.9 1222 232.5 1222.2 207.1 1222.4 231.8 1222.6 207.6 1222.9 239.2 1223.1 208 1223.3 235.9 1223.5 209 1223.7 229 1224 208.9 1224.2 235.7 1224.4 209 1224.6 237.4 1224.9 209 1225.1 235.9 1225.3 210.3 1225.5 237.2 1225.7 209.9 1226 235.3 1226.2 211.5 1226.4 231.3 1226.6 210.7 1226.9 230.4 1227.1 211.2 1227.3 233.1 1227.5 211.5 1227.7 231.4 1228 211.8 1228.2 231.2 1228.4 211.6 1228.6 229.9 1228.8 211.9 1229.1 235.1 1229.3 212.8 1229.5 230.1 1229.7 213.4 1229.9 231.8 1230.2 213.4 1230.4 232.7 1230.6 214.1 1230.8 230.4 1231 214.1 1231.3 231.1 1231.5 214.8 1231.7 236 1231.9 214.2 1232.2 235.2 1232.4 215.1 1232.6 229.7 1232.8 216.3 1233 231.4 1233.3 215.9 1233.5 235.3 1233.7 215.5 1233.9 230.6 1234.1 215.8 1234.4 232.9 1234.6 216.5 1234.8 233.5 1235 218.3 1235.2 229.7 1235.5 217.1 1235.7 232.5 1235.9 217.6 1236.1 230.5 1236.3 217.3 1236.6 225.6 1236.8 217.7 1237 230.6 1237.2 218.3 1237.4 231.5 1237.7 219.6 1237.9 222.9 1238.1 219.2 1238.3 234.5 1238.6 219.9 1238.8 223.7 1239 219.8 1239.2 229.5 1239.4 219.6 1239.7 224.3 1239.9 220.8 1240.1 230.2 1240.3 220.9 1240.5 230.4 1240.8 221.6 1241 225.9 1241.2 221.6 1241.4 226.5 1241.6 221.5 1241.9 229.1 1242.1 221.4 1242.3 230.6 1242.5 222.2 1242.7 228.8 1243 222.3 1243.2 228.3 1243.4 222.7 1243.6 227.9 1243.8 222.8 1244.1 228.4 1244.3 223.3 1244.5 224.3 1244.7 224.5 1244.9 227.5 1245.2 223.9 1245.4 226.9 1245.6 224.9 1245.8 231.7 1246 224.4 1246.3 227.2 1246.5 224.8 1246.7 224.6 1246.9 225.4 1247.2 226.2 1247.4 226.7 1247.6 230.7 1247.8 225.7 1248 227.2 1248.3 225.9 1248.5 227.2 1248.7 226.5 1248.9 223.7 1249.1 227.2 1249.4 227.6 1249.6 227 1249.8 226.5 1250 227.9" stroke="#0000ff" stroke-width="1" fill="none" stroke-linejoin="round" clip-path="url(#fftc0)"/>
<polyline points="1017.2,106.2 1019.2,106.2 1021.1,106.2 1023.1,106.3 1025,106.3 1027,106.3 1028.9,106.3 1030.9,106.4 1032.9,106.4 1034.8,106.5 1036.8,106.6 1038.7,106.6 1040.7,106.7 1042.6,106.8 1044.6,107 1046.6,107.1 1048.5,107.3 1050.5,107.5 1052.4,107.7 1054.4,108 1056.3,108.3 1058.3,108.7 1060.3,109.1 1062.2,109.5 1064.2,110.1 1066.1,110.6 1068.1,111.3 1070,112 1072,112.7 1074,113.5 1075.9,114.4 1077.9,115.3 1079.8,116.3 1081.8,117.4 1083.7,118.5 1085.7,119.6 1087.7,120.7 1089.6,121.9 1091.6,123.2 1093.5,124.4 1095.5,125.7 1097.4,127 1099.4,128.3 1101.4,129.7 1103.3,131 1105.3,132.4 1107.2,133.7 1109.2,135.1 1111.1,136.5 1113.1,137.9 1115.1,139.2 1117,140.6 1119,142 1120.9,143.4 1122.9,144.8 1124.8,146.2 1126.8,147.6 1128.8,149.1 1130.7,150.5 1132.7,151.9 1134.6,153.3 1136.6,154.7 1138.5,156.1 1140.5,157.5 1142.5,158.9 1144.4,160.3 1146.4,161.8 1148.3,163.2 1150.3,164.6 1152.2,166 1154.2,167.4 1156.2,168.8 1158.1,170.3 1160.1,171.7 1162,173.1 1164,174.5 1165.9,175.9 1167.9,177.3 1169.9,178.7 1171.8,180.2 1173.8,181.6 1175.7,183 1177.7,184.4 1179.6,185.8 1181.6,187.2 1183.6,188.7 1185.5,190.1 1187.5,191.5 1189.4,192.9 1191.4,194.3 1193.3,195.7 1195.3,197.1 1197.3,198.6 1199.2,200 1201.2,201.4 1203.1,202.8 1205.1,204.2 1207,205.6 1209,207.1 1211,208.5 1212.9,209.9 1214.9,211.3 1216.8,212.7 1218.8,214.1 1220.7,215.6 1222.7,217 1224.7,218.4 1226.6,219.8 1228.6,221.2 1230.5,222.6 1232.5,224 1234.4,225.5 1236.4,226.9 1238.4,228.3 1240.3,229.7 1242.3,231.1 1244.2,232.5 1246.2,234 1248.1,235.4 1250.1,236.8" fill="none" stroke="#00ffff" stroke-width="2.8" stroke-linejoin="round" clip-path="url(#fftc0)"/>
<path d="M1014.7 286.1H1017.2M1250.1 286.1H1248.1M1014.7 283.7H1017.2M1250.1 283.7H1248.1M1014.7 281.9H1017.2M1250.1 281.9H1248.1M1014.7 280.4H1017.2M1250.1 280.4H1248.1M1014.7 279.2H1017.2M1250.1 279.2H1248.1M1014.7 278.1H1017.2M1250.1 278.1H1248.1M1014.7 277.2H1017.2M1250.1 277.2H1248.1M1012.7 276.3H1017.2M1246.6 276.3H1250.1M1014.7 270.7H1017.2M1250.1 270.7H1248.1M1014.7 267.4H1017.2M1250.1 267.4H1248.1M1014.7 265H1017.2M1250.1 265H1248.1M1014.7 263.2H1017.2M1250.1 263.2H1248.1M1014.7 261.7H1017.2M1250.1 261.7H1248.1M1014.7 260.5H1017.2M1250.1 260.5H1248.1M1014.7 259.4H1017.2M1250.1 259.4H1248.1M1014.7 258.5H1017.2M1250.1 258.5H1248.1M1012.7 257.6H1017.2M1246.6 257.6H1250.1M1014.7 252H1017.2M1250.1 252H1248.1M1014.7 248.7H1017.2M1250.1 248.7H1248.1M1014.7 246.3H1017.2M1250.1 246.3H1248.1M1014.7 244.5H1017.2M1250.1 244.5H1248.1M1014.7 243H1017.2M1250.1 243H1248.1M1014.7 241.8H1017.2M1250.1 241.8H1248.1M1014.7 240.7H1017.2M1250.1 240.7H1248.1M1014.7 239.8H1017.2M1250.1 239.8H1248.1M1012.7 238.9H1017.2M1246.6 238.9H1250.1M1014.7 233.3H1017.2M1250.1 233.3H1248.1M1014.7 230H1017.2M1250.1 230H1248.1M1014.7 227.6H1017.2M1250.1 227.6H1248.1M1014.7 225.8H1017.2M1250.1 225.8H1248.1M1014.7 224.3H1017.2M1250.1 224.3H1248.1M1014.7 223.1H1017.2M1250.1 223.1H1248.1M1014.7 222H1017.2M1250.1 222H1248.1M1014.7 221.1H1017.2M1250.1 221.1H1248.1M1012.7 220.2H1017.2M1246.6 220.2H1250.1M1014.7 214.6H1017.2M1250.1 214.6H1248.1M1014.7 211.3H1017.2M1250.1 211.3H1248.1M1014.7 208.9H1017.2M1250.1 208.9H1248.1M1014.7 207.1H1017.2M1250.1 207.1H1248.1M1014.7 205.6H1017.2M1250.1 205.6H1248.1M1014.7 204.4H1017.2M1250.1 204.4H1248.1M1014.7 203.3H1017.2M1250.1 203.3H1248.1M1014.7 202.4H1017.2M1250.1 202.4H1248.1M1012.7 201.5H1017.2M1246.6 201.5H1250.1M1014.7 195.9H1017.2M1250.1 195.9H1248.1M1014.7 192.6H1017.2M1250.1 192.6H1248.1M1014.7 190.2H1017.2M1250.1 190.2H1248.1M1014.7 188.4H1017.2M1250.1 188.4H1248.1M1014.7 186.9H1017.2M1250.1 186.9H1248.1M1014.7 185.7H1017.2M1250.1 185.7H1248.1M1014.7 184.6H1017.2M1250.1 184.6H1248.1M1014.7 183.7H1017.2M1250.1 183.7H1248.1M1012.7 182.8H1017.2M1246.6 182.8H1250.1M1014.7 177.2H1017.2M1250.1 177.2H1248.1M1014.7 173.9H1017.2M1250.1 173.9H1248.1M1014.7 171.5H1017.2M1250.1 171.5H1248.1M1014.7 169.7H1017.2M1250.1 169.7H1248.1M1014.7 168.2H1017.2M1250.1 168.2H1248.1M1014.7 167H1017.2M1250.1 167H1248.1M1014.7 165.9H1017.2M1250.1 165.9H1248.1M1014.7 165H1017.2M1250.1 165H1248.1M1012.7 164.1H1017.2M1246.6 164.1H1250.1M1014.7 158.5H1017.2M1250.1 158.5H1248.1M1014.7 155.2H1017.2M1250.1 155.2H1248.1M1014.7 152.8H1017.2M1250.1 152.8H1248.1M1014.7 151H1017.2M1250.1 151H1248.1M1014.7 149.5H1017.2M1250.1 149.5H1248.1M1014.7 148.3H1017.2M1250.1 148.3H1248.1M1014.7 147.2H1017.2M1250.1 147.2H1248.1M1014.7 146.3H1017.2M1250.1 146.3H1248.1M1012.7 145.4H1017.2M1246.6 145.4H1250.1M1014.7 139.8H1017.2M1250.1 139.8H1248.1M1014.7 136.5H1017.2M1250.1 136.5H1248.1M1014.7 134.1H1017.2M1250.1 134.1H1248.1M1014.7 132.3H1017.2M1250.1 132.3H1248.1M1014.7 130.8H1017.2M1250.1 130.8H1248.1M1014.7 129.6H1017.2M1250.1 129.6H1248.1M1014.7 128.5H1017.2M1250.1 128.5H1248.1M1014.7 127.6H1017.2M1250.1 127.6H1248.1M1012.7 126.7H1017.2M1246.6 126.7H1250.1M1014.7 121.1H1017.2M1250.1 121.1H1248.1M1014.7 117.8H1017.2M1250.1 117.8H1248.1M1014.7 115.4H1017.2M1250.1 115.4H1248.1M1014.7 113.6H1017.2M1250.1 113.6H1248.1M1014.7 112.1H1017.2M1250.1 112.1H1248.1M1014.7 110.9H1017.2M1250.1 110.9H1248.1M1014.7 109.8H1017.2M1250.1 109.8H1248.1M1014.7 108.9H1017.2M1250.1 108.9H1248.1M1012.7 108H1017.2M1246.6 108H1250.1M1014.7 102.4H1017.2M1250.1 102.4H1248.1M1014.7 99.1H1017.2M1250.1 99.1H1248.1M1014.7 96.7H1017.2M1250.1 96.7H1248.1M1014.7 94.9H1017.2M1250.1 94.9H1248.1M1014.7 93.4H1017.2M1250.1 93.4H1248.1M1014.7 92.2H1017.2M1250.1 92.2H1248.1M1014.7 91.1H1017.2M1250.1 91.1H1248.1M1014.7 90.2H1017.2M1250.1 90.2H1248.1M1012.7 89.3H1017.2M1246.6 89.3H1250.1M1014.7 83.7H1017.2M1250.1 83.7H1248.1M1014.7 80.4H1017.2M1250.1 80.4H1248.1M1014.7 78H1017.2M1250.1 78H1248.1M1014.7 76.2H1017.2M1250.1 76.2H1248.1M1014.7 74.7H1017.2M1250.1 74.7H1248.1M1014.7 73.5H1017.2M1250.1 73.5H1248.1M1014.7 72.4H1017.2M1250.1 72.4H1248.1M1014.7 71.5H1017.2M1250.1 71.5H1248.1M1012.7 70.6H1017.2M1246.6 70.6H1250.1M1014.7 65H1017.2M1250.1 65H1248.1M1014.7 61.7H1017.2M1250.1 61.7H1248.1M1014.7 59.3H1017.2M1250.1 59.3H1248.1M1014.7 57.5H1017.2M1250.1 57.5H1248.1M1014.7 56H1017.2M1250.1 56H1248.1M1014.7 54.8H1017.2M1250.1 54.8H1248.1M1014.7 53.7H1017.2M1250.1 53.7H1248.1M1019.5 287.2V289.7M1019.5 53.2V55.2M1022.1 287.2V289.7M1022.1 53.2V55.2M1024.5 291.7V287.2M1024.5 53.2V56.7M1040.1 287.2V289.7M1040.1 53.2V55.2M1049.2 287.2V289.7M1049.2 53.2V55.2M1055.6 287.2V289.7M1055.6 53.2V55.2M1060.6 287.2V289.7M1060.6 53.2V55.2M1064.7 287.2V289.7M1064.7 53.2V55.2M1068.2 287.2V289.7M1068.2 53.2V55.2M1071.2 287.2V289.7M1071.2 53.2V55.2M1073.8 287.2V289.7M1073.8 53.2V55.2M1076.2 291.7V287.2M1076.2 53.2V56.7M1091.8 287.2V289.7M1091.8 53.2V55.2M1100.9 287.2V289.7M1100.9 53.2V55.2M1107.3 287.2V289.7M1107.3 53.2V55.2M1112.3 287.2V289.7M1112.3 53.2V55.2M1116.4 287.2V289.7M1116.4 53.2V55.2M1119.9 287.2V289.7M1119.9 53.2V55.2M1122.9 287.2V289.7M1122.9 53.2V55.2M1125.5 287.2V289.7M1125.5 53.2V55.2M1127.9 291.7V287.2M1127.9 53.2V56.7M1143.5 287.2V289.7M1143.5 53.2V55.2M1152.6 287.2V289.7M1152.6 53.2V55.2M1159 287.2V289.7M1159 53.2V55.2M1164 287.2V289.7M1164 53.2V55.2M1168.1 287.2V289.7M1168.1 53.2V55.2M1171.6 287.2V289.7M1171.6 53.2V55.2M1174.6 287.2V289.7M1174.6 53.2V55.2M1177.2 287.2V289.7M1177.2 53.2V55.2M1179.6 291.7V287.2M1179.6 53.2V56.7M1195.2 287.2V289.7M1195.2 53.2V55.2M1204.3 287.2V289.7M1204.3 53.2V55.2M1210.7 287.2V289.7M1210.7 53.2V55.2M1215.7 287.2V289.7M1215.7 53.2V55.2M1219.8 287.2V289.7M1219.8 53.2V55.2M1223.3 287.2V289.7M1223.3 53.2V55.2M1226.3 287.2V289.7M1226.3 53.2V55.2M1228.9 287.2V289.7M1228.9 53.2V55.2M1231.3 291.7V287.2M1231.3 53.2V56.7M1246.9 287.2V289.7M1246.9 53.2V55.2" stroke="#222" stroke-width="1" fill="none"/>
<rect x="1017.2" y="53.2" width="232.9" height="234" fill="none" stroke="#222" stroke-width="1.4"/>
<text x="1010.2" y="79.4" style="font-family:'Liberation Serif',serif;font-size:23px" text-anchor="end">10<tspan font-size="14.5" dy="-11">13</tspan></text>
<text x="1010.2" y="135.5" style="font-family:'Liberation Serif',serif;font-size:23px" text-anchor="end">10<tspan font-size="14.5" dy="-11">10</tspan></text>
<text x="1010.2" y="191.6" style="font-family:'Liberation Serif',serif;font-size:23px" text-anchor="end">10<tspan font-size="14.5" dy="-11">7</tspan></text>
<text x="1010.2" y="247.7" style="font-family:'Liberation Serif',serif;font-size:23px" text-anchor="end">10<tspan font-size="14.5" dy="-11">4</tspan></text>
<text x="1077.7" y="316.5" style="font-family:'Liberation Serif',serif;font-size:23px" text-anchor="middle">10<tspan font-size="14.5" dy="-11">-4</tspan></text>
<text x="1181.1" y="316.5" style="font-family:'Liberation Serif',serif;font-size:23px" text-anchor="middle">10<tspan font-size="14.5" dy="-11">-2</tspan></text>
<text transform="translate(958,175.7) rotate(-90)" style="font-family:'Liberation Sans',sans-serif;font-size:24.5px" text-anchor="middle">Magnitude (a.u.)</text>
<clipPath id="fftc1"><rect x="1019.3" y="329.2" width="230.5" height="231"/></clipPath>
<path d="M1018.5 338.2 1040.4 411.7 1053.3 363.5 1062.3 433.2 1069.4 374.7 1075.2 434.1 1080 383.2 1084.3 442.7 1088 384.9 1091.3 455.8 1094.3 387.5 1097.1 457.8 1099.6 387.6 1102 463.8 1104.1 390.9 1106.2 471.1 1108.1 398.3 1109.9 473.7 1111.6 400.2 1113.2 472.4 1114.8 403.8 1116.2 470.5 1117.7 406.8 1119 474.9 1120.3 408.9 1121.5 473.8 1122.7 411 1123.9 484 1125 413.7 1126.1 469.4 1127.1 416.9 1128.1 474.1 1129.1 417.8 1130 475.8 1130.9 420.7 1131.8 473.2 1132.7 422.3 1133.5 475.5 1134.3 426.2 1135.1 470.1 1135.9 427.7 1136.7 471 1137.4 427.6 1138.2 483.9 1138.9 430.4 1139.6 476.8 1140.2 436.2 1140.9 477.5 1141.6 429.4 1142.2 493.4 1142.8 433.5 1143.4 479.1 1144 433.3 1144.6 473.2 1145.2 432.6 1145.8 473.9 1146.3 433.1 1146.9 478.5 1147.4 432.9 1148 480.7 1148.5 433.7 1149 491.6 1149.5 437.3 1150 481.6 1150.5 441.6 1151 492.2 1151.5 436.3 1151.9 504.2 1152.4 439.3 1152.8 485.9 1153.3 438.3 1153.7 507.3 1154.2 438.9 1154.6 486.8 1155 442.3 1155.4 487.7 1155.9 439.5 1156.3 486.4 1156.7 440.2 1157.1 487.1 1157.5 440.6 1157.8 488.9 1158.2 442.6 1158.6 486.5 1159 439 1159.4 490.9 1159.7 441.7 1160.1 491.1 1160.4 445.3 1160.8 502.2 1161.1 444.2 1161.5 508.5 1161.8 443.5 1162.2 485.4 1162.5 442.3 1162.8 490.5 1163.2 446.3 1163.5 492.7 1163.8 442.1 1164.1 486.5 1164.4 444 1164.7 491.5 1165.1 446.1 1165.4 513.1 1165.7 445.1 1166 491 1166.3 448.1 1166.6 508.8 1166.8 445.3 1167.1 487.9 1167.4 447.5 1167.7 501.2 1168 452.6 1168.3 488.8 1168.5 449.7 1168.8 494.6 1169.1 448.3 1169.4 489.5 1169.6 451.3 1169.9 491.2 1170.1 446.9 1170.4 519.8 1170.7 449.1 1170.9 496.1 1171.2 447.7 1171.4 499.4 1171.7 449 1171.9 494.6 1172.2 451 1172.4 504.3 1172.7 453.1 1172.9 492.7 1173.1 450.3 1173.4 494.8 1173.6 450.2 1173.8 495.7 1174.1 451.4 1174.3 505.5 1174.5 451.9 1174.8 492 1175 460.3 1175.2 497.7 1175.4 451.1 1175.6 510.7 1176.1 452.1 1176.5 506.3 1176.9 453.9 1177.4 497.6 1177.8 452.9 1178.2 496.5 1178.6 453.1 1179 502 1179.4 454.6 1179.8 494.4 1180.1 456.6 1180.5 498.3 1180.9 453.1 1181.3 498.7 1181.6 453.1 1182 497 1182.3 457.5 1182.7 500.2 1183.1 455.6 1183.4 500.5 1183.7 456.2 1184.1 501.8 1184.4 455.7 1184.7 501.1 1185.1 457.9 1185.4 527.1 1185.7 459.8 1186 501.3 1186.3 465.9 1186.7 502.8 1187 461.4 1187.3 501.3 1187.6 457.9 1187.9 500.3 1188.2 459.5 1188.5 508.5 1188.8 459.4 1189 509.4 1189.3 459.8 1189.6 507.9 1189.9 460.4 1190.2 532.6 1190.5 459.7 1190.7 505.5 1191 462.1 1191.3 501 1191.5 462.3 1191.8 504.6 1192.1 462.1 1192.3 504.5 1192.6 465.2 1192.8 505.3 1193.1 469.1 1193.3 511.4 1193.6 467 1193.8 505.3 1194.1 465.9 1194.3 507.2 1194.6 463.8 1194.8 504.5 1195.1 466.4 1195.3 532.5 1195.5 467.3 1195.8 505.1 1196 465.6 1196.2 503.5 1196.4 467.9 1196.7 506.4 1196.9 467.6 1197.1 508.2 1197.3 465.3 1197.6 507.7 1197.9 470.2 1198.2 513.3 1198.5 471.1 1198.9 508.1 1199.2 468.2 1199.5 508.3 1199.8 471.5 1200.1 508.1 1200.4 467.8 1200.7 510.3 1201 472.6 1201.3 509.9 1201.6 475.3 1201.9 508 1202.2 473 1202.4 509.8 1202.7 470.5 1203 539.8 1203.3 468.4 1203.5 507.8 1203.8 475.1 1204.1 507 1204.4 470.6 1204.6 505.5 1204.9 474.2 1205.1 536.8 1205.4 471.4 1205.7 535.9 1205.9 472.6 1206.2 515.6 1206.4 472.2 1206.7 509.8 1206.9 477.1 1207.1 519.4 1207.4 472.5 1207.6 507.5 1207.9 472.1 1208.1 509.8 1208.3 474.1 1208.6 519.9 1208.8 473 1209 506.4 1209.3 475.5 1209.5 519.3 1209.7 473.4 1209.9 505 1210.2 477.1 1210.4 508.9 1210.7 477.2 1211 505.6 1211.2 475.1 1211.5 526 1211.8 479.6 1212.1 515.9 1212.4 477.2 1212.6 510.2 1212.9 481 1213.2 509.3 1213.4 481.1 1213.7 511.6 1214 477.5 1214.2 510.2 1214.5 482.1 1214.7 509.4 1215 479.6 1215.3 502.8 1215.5 482.1 1215.8 507.8 1216 479.5 1216.2 514.3 1216.5 482.6 1216.7 507.2 1217 481.4 1217.2 523.7 1217.4 478.9 1217.7 511.9 1217.9 479.6 1218.1 513.2 1218.4 480.5 1218.6 511.5 1218.8 483.3 1219 511.6 1219.3 481.4 1219.5 511.2 1219.8 481.9 1220 510.2 1220.3 484.6 1220.6 508.4 1220.8 482.7 1221.1 512.1 1221.3 480.8 1221.6 511.1 1221.9 483.5 1222.1 512.3 1222.4 485 1222.6 508.4 1222.9 487.5 1223.1 505.9 1223.3 487.1 1223.6 527.3 1223.8 483.3 1224.1 534.9 1224.3 484 1224.5 507.5 1224.8 489.4 1225 508.8 1225.2 485.9 1225.5 513.7 1225.7 487.6 1225.9 504.6 1226.1 490.7 1226.4 509.5 1226.6 485.5 1226.8 512.6 1227.1 487.6 1227.4 506.6 1227.6 488 1227.9 522.1 1228.1 488.2 1228.4 511.6 1228.6 490.7 1228.9 510.1 1229.1 491.5 1229.3 511.3 1229.6 488.6 1229.8 530.1 1230.1 487.2 1230.3 517.9 1230.5 486.3 1230.8 510.9 1231 486.3 1231.2 511.4 1231.4 488.1 1231.7 512.2 1231.9 493 1232.1 519.6 1232.3 492.1 1232.6 526.7 1232.8 488.1 1233.1 510.3 1233.3 493.7 1233.6 510 1233.8 491.9 1234.1 512.6 1234.3 491.7 1234.6 512.8 1234.8 491.3 1235 526.1 1235.3 492.4 1235.5 508.3 1235.7 494.9 1236 512.3 1236.2 490.7 1236.4 523.5 1236.6 491 1236.9 513.2 1237.1 493.2 1237.3 515.2 1237.6 490.2 1237.8 512.3 1238.1 493.4 1238.3 518.7 1238.6 495.5 1238.8 509.8 1239 496.3 1239.3 513.6 1239.5 493.2 1239.7 516.4 1240 492.3 1240.2 508.7 1240.4 495.2 1240.6 515.8 1240.9 493.9 1241.1 511.2 1241.3 493.8 1241.6 518.1 1241.8 493.4 1242 508.1 1242.3 494 1242.5 512.8 1242.8 495.6 1243 513.8 1243.2 496.3 1243.5 512.4 1243.7 495.1 1243.9 531.8 1244.2 494.4 1244.4 511.6 1244.6 494.7 1244.8 513.8 1245 495.2 1245.3 513.2 1245.5 502.4 1245.8 509 1246 496 1246.2 524 1246.5 499.8 1246.7 506.7 1246.9 495.1 1247.2 531.9 1247.4 495.7 1247.6 517.3 1247.8 497.6 1248.1 510.8 1248.3 500.5 1248.5 509.4 1248.8 499 1249 511.9 1249.2 501.4 1249.5 514.3 1249.7 498.3" stroke="#0000ff" stroke-width="1" fill="none" stroke-linejoin="round" clip-path="url(#fftc1)"/>
<polyline points="1019.3,391.7 1021.2,391.8 1023.2,391.8 1025.1,391.9 1027,391.9 1029,392 1030.9,392 1032.9,392.1 1034.8,392.2 1036.7,392.3 1038.7,392.4 1040.6,392.5 1042.5,392.6 1044.5,392.8 1046.4,392.9 1048.4,393.1 1050.3,393.3 1052.2,393.5 1054.2,393.8 1056.1,394 1058,394.3 1060,394.7 1061.9,395 1063.9,395.4 1065.8,395.9 1067.7,396.3 1069.7,396.8 1071.6,397.4 1073.5,398 1075.5,398.6 1077.4,399.3 1079.3,400 1081.3,400.7 1083.2,401.5 1085.2,402.4 1087.1,403.3 1089,404.2 1091,405.1 1092.9,406.1 1094.8,407.2 1096.8,408.2 1098.7,409.3 1100.7,410.5 1102.6,411.6 1104.5,412.8 1106.5,414 1108.4,415.2 1110.3,416.4 1112.3,417.7 1114.2,419 1116.1,420.2 1118.1,421.5 1120,422.8 1122,424.2 1123.9,425.5 1125.8,426.8 1127.8,428.2 1129.7,429.5 1131.6,430.9 1133.6,432.2 1135.5,433.6 1137.5,435 1139.4,436.4 1141.3,437.7 1143.3,439.1 1145.2,440.5 1147.1,441.9 1149.1,443.3 1151,444.7 1153,446.1 1154.9,447.5 1156.8,448.8 1158.8,450.2 1160.7,451.6 1162.6,453 1164.6,454.4 1166.5,455.8 1168.4,457.2 1170.4,458.6 1172.3,460 1174.3,461.4 1176.2,462.8 1178.1,464.2 1180.1,465.6 1182,467 1183.9,468.5 1185.9,469.9 1187.8,471.3 1189.8,472.7 1191.7,474.1 1193.6,475.5 1195.6,476.9 1197.5,478.3 1199.4,479.7 1201.4,481.1 1203.3,482.5 1205.2,483.9 1207.2,485.3 1209.1,486.7 1211.1,488.1 1213,489.5 1214.9,490.9 1216.9,492.3 1218.8,493.7 1220.7,495.1 1222.7,496.5 1224.6,497.9 1226.6,499.3 1228.5,500.8 1230.4,502.2 1232.4,503.6 1234.3,505 1236.2,506.4 1238.2,507.8 1240.1,509.2 1242.1,510.6 1244,512 1245.9,513.4 1247.9,514.8 1249.8,516.2" fill="none" stroke="#00ffff" stroke-width="2.8" stroke-linejoin="round" clip-path="url(#fftc1)"/>
<path d="M1016.8 554.1H1019.3M1249.8 554.1H1247.8M1016.8 549.4H1019.3M1249.8 549.4H1247.8M1016.8 546.1H1019.3M1249.8 546.1H1247.8M1016.8 543.5H1019.3M1249.8 543.5H1247.8M1016.8 541.5H1019.3M1249.8 541.5H1247.8M1016.8 539.7H1019.3M1249.8 539.7H1247.8M1016.8 538.2H1019.3M1249.8 538.2H1247.8M1016.8 536.8H1019.3M1249.8 536.8H1247.8M1014.8 535.6H1019.3M1246.3 535.6H1249.8M1016.8 527.7H1019.3M1249.8 527.7H1247.8M1016.8 523H1019.3M1249.8 523H1247.8M1016.8 519.7H1019.3M1249.8 519.7H1247.8M1016.8 517.1H1019.3M1249.8 517.1H1247.8M1016.8 515.1H1019.3M1249.8 515.1H1247.8M1016.8 513.3H1019.3M1249.8 513.3H1247.8M1016.8 511.8H1019.3M1249.8 511.8H1247.8M1016.8 510.4H1019.3M1249.8 510.4H1247.8M1014.8 509.2H1019.3M1246.3 509.2H1249.8M1016.8 501.3H1019.3M1249.8 501.3H1247.8M1016.8 496.6H1019.3M1249.8 496.6H1247.8M1016.8 493.3H1019.3M1249.8 493.3H1247.8M1016.8 490.7H1019.3M1249.8 490.7H1247.8M1016.8 488.7H1019.3M1249.8 488.7H1247.8M1016.8 486.9H1019.3M1249.8 486.9H1247.8M1016.8 485.4H1019.3M1249.8 485.4H1247.8M1016.8 484H1019.3M1249.8 484H1247.8M1014.8 482.8H1019.3M1246.3 482.8H1249.8M1016.8 474.9H1019.3M1249.8 474.9H1247.8M1016.8 470.2H1019.3M1249.8 470.2H1247.8M1016.8 466.9H1019.3M1249.8 466.9H1247.8M1016.8 464.3H1019.3M1249.8 464.3H1247.8M1016.8 462.3H1019.3M1249.8 462.3H1247.8M1016.8 460.5H1019.3M1249.8 460.5H1247.8M1016.8 459H1019.3M1249.8 459H1247.8M1016.8 457.6H1019.3M1249.8 457.6H1247.8M1014.8 456.4H1019.3M1246.3 456.4H1249.8M1016.8 448.5H1019.3M1249.8 448.5H1247.8M1016.8 443.8H1019.3M1249.8 443.8H1247.8M1016.8 440.5H1019.3M1249.8 440.5H1247.8M1016.8 437.9H1019.3M1249.8 437.9H1247.8M1016.8 435.9H1019.3M1249.8 435.9H1247.8M1016.8 434.1H1019.3M1249.8 434.1H1247.8M1016.8 432.6H1019.3M1249.8 432.6H1247.8M1016.8 431.2H1019.3M1249.8 431.2H1247.8M1014.8 430H1019.3M1246.3 430H1249.8M1016.8 422.1H1019.3M1249.8 422.1H1247.8M1016.8 417.4H1019.3M1249.8 417.4H1247.8M1016.8 414.1H1019.3M1249.8 414.1H1247.8M1016.8 411.5H1019.3M1249.8 411.5H1247.8M1016.8 409.5H1019.3M1249.8 409.5H1247.8M1016.8 407.7H1019.3M1249.8 407.7H1247.8M1016.8 406.2H1019.3M1249.8 406.2H1247.8M1016.8 404.8H1019.3M1249.8 404.8H1247.8M1014.8 403.6H1019.3M1246.3 403.6H1249.8M1016.8 395.7H1019.3M1249.8 395.7H1247.8M1016.8 391H1019.3M1249.8 391H1247.8M1016.8 387.7H1019.3M1249.8 387.7H1247.8M1016.8 385.1H1019.3M1249.8 385.1H1247.8M1016.8 383.1H1019.3M1249.8 383.1H1247.8M1016.8 381.3H1019.3M1249.8 381.3H1247.8M1016.8 379.8H1019.3M1249.8 379.8H1247.8M1016.8 378.4H1019.3M1249.8 378.4H1247.8M1014.8 377.2H1019.3M1246.3 377.2H1249.8M1016.8 369.3H1019.3M1249.8 369.3H1247.8M1016.8 364.6H1019.3M1249.8 364.6H1247.8M1016.8 361.3H1019.3M1249.8 361.3H1247.8M1016.8 358.7H1019.3M1249.8 358.7H1247.8M1016.8 356.7H1019.3M1249.8 356.7H1247.8M1016.8 354.9H1019.3M1249.8 354.9H1247.8M1016.8 353.4H1019.3M1249.8 353.4H1247.8M1016.8 352H1019.3M1249.8 352H1247.8M1014.8 350.8H1019.3M1246.3 350.8H1249.8M1016.8 342.9H1019.3M1249.8 342.9H1247.8M1016.8 338.2H1019.3M1249.8 338.2H1247.8M1016.8 334.9H1019.3M1249.8 334.9H1247.8M1016.8 332.3H1019.3M1249.8 332.3H1247.8M1016.8 330.3H1019.3M1249.8 330.3H1247.8M1036 560.2V562.7M1036 329.2V331.2M1048.8 560.2V562.7M1048.8 329.2V331.2M1057.9 560.2V562.7M1057.9 329.2V331.2M1065 560.2V562.7M1065 329.2V331.2M1070.7 560.2V562.7M1070.7 329.2V331.2M1075.6 560.2V562.7M1075.6 329.2V331.2M1079.8 560.2V562.7M1079.8 329.2V331.2M1083.6 560.2V562.7M1083.6 329.2V331.2M1086.9 564.7V560.2M1086.9 329.2V332.7M1108.8 560.2V562.7M1108.8 329.2V331.2M1121.6 560.2V562.7M1121.6 329.2V331.2M1130.7 560.2V562.7M1130.7 329.2V331.2M1137.8 560.2V562.7M1137.8 329.2V331.2M1143.5 560.2V562.7M1143.5 329.2V331.2M1148.4 560.2V562.7M1148.4 329.2V331.2M1152.6 560.2V562.7M1152.6 329.2V331.2M1156.4 560.2V562.7M1156.4 329.2V331.2M1159.7 564.7V560.2M1159.7 329.2V332.7M1181.6 560.2V562.7M1181.6 329.2V331.2M1194.4 560.2V562.7M1194.4 329.2V331.2M1203.5 560.2V562.7M1203.5 329.2V331.2M1210.6 560.2V562.7M1210.6 329.2V331.2M1216.3 560.2V562.7M1216.3 329.2V331.2M1221.2 560.2V562.7M1221.2 329.2V331.2M1225.4 560.2V562.7M1225.4 329.2V331.2M1229.2 560.2V562.7M1229.2 329.2V331.2M1232.5 564.7V560.2M1232.5 329.2V332.7" stroke="#222" stroke-width="1" fill="none"/>
<rect x="1019.3" y="329.2" width="230.5" height="231" fill="none" stroke="#222" stroke-width="1.4"/>
<text x="1012.3" y="412.4" style="font-family:'Liberation Serif',serif;font-size:23px" text-anchor="end">10<tspan font-size="14.5" dy="-11">6</tspan></text>
<text x="1012.3" y="491.6" style="font-family:'Liberation Serif',serif;font-size:23px" text-anchor="end">10<tspan font-size="14.5" dy="-11">3</tspan></text>
<text x="1088.4" y="589.4" style="font-family:'Liberation Serif',serif;font-size:23px" text-anchor="middle">10<tspan font-size="14.5" dy="-11">-4</tspan></text>
<text x="1161.2" y="589.4" style="font-family:'Liberation Serif',serif;font-size:23px" text-anchor="middle">10<tspan font-size="14.5" dy="-11">-3</tspan></text>
<text x="1234" y="589.4" style="font-family:'Liberation Serif',serif;font-size:23px" text-anchor="middle">10<tspan font-size="14.5" dy="-11">-2</tspan></text>
<text transform="translate(958,446) rotate(-90)" style="font-family:'Liberation Sans',sans-serif;font-size:24.5px" text-anchor="middle">Magnitude (a.u.)</text>
<clipPath id="fftc2"><rect x="1019.3" y="599.8" width="231" height="229.5"/></clipPath>
<path d="M1020.2 606.7 1039.9 648.5 1051.4 640.9 1059.5 646.1 1065.8 632.7 1071 667.6 1075.4 653.1 1079.2 681.3 1082.5 663.1 1085.5 658.2 1088.2 649.2 1090.7 657.7 1092.9 649.4 1095 642.6 1097 654.3 1098.8 675.8 1100.6 658.1 1102.2 654.5 1103.7 652 1105.2 657.7 1106.5 671 1107.9 661.8 1109.1 651.8 1110.3 682 1111.5 677.1 1112.6 664 1113.7 657.1 1114.7 678.1 1115.7 676.1 1116.7 676.2 1117.6 664.3 1118.5 672.2 1119.4 667.9 1120.2 671.1 1121 672.5 1121.8 677.7 1122.6 665.1 1123.4 681.5 1124.1 665.1 1124.8 676.1 1125.5 658.8 1126.2 673.8 1126.9 677.3 1127.5 683.6 1128.2 681 1128.8 681.1 1129.4 685.6 1130 674.7 1130.6 670.5 1131.1 670.8 1131.7 684.2 1132.3 689.9 1132.8 674.3 1133.3 665.4 1133.9 685.6 1134.4 684.3 1134.9 687.8 1135.4 684.4 1135.8 665.8 1136.3 660.4 1136.8 690.8 1137.2 682.8 1137.7 674.2 1138.1 680.1 1138.6 673 1139 685.5 1139.4 664.4 1139.9 689.5 1140.3 679.6 1140.7 685.4 1141.1 662 1141.5 677.7 1141.9 671.2 1142.3 668.1 1142.6 663.9 1143 665.1 1143.4 677.9 1143.8 673 1144.1 699.1 1144.5 680.5 1144.8 667.9 1145.2 690.3 1145.5 686.9 1145.9 692.9 1146.2 697.1 1146.5 699.8 1146.9 704.6 1147.2 693.1 1147.5 735.6 1147.8 704.8 1148.1 731.9 1148.4 715 1148.7 698.1 1149 749.6 1149.3 751.3 1149.6 722.8 1149.9 707.2 1150.2 684.1 1150.5 709.7 1150.8 708.9 1151.1 682.6 1151.4 687.5 1151.6 734.8 1151.9 713.5 1152.2 692.5 1152.5 710 1152.7 691.5 1153 752.7 1153.2 711.2 1153.5 731.5 1153.8 721.7 1154 704.8 1154.3 702.5 1154.5 724.4 1154.8 708.9 1155 722 1155.3 691.2 1155.5 711.1 1155.7 690.1 1156 704.2 1156.2 719.9 1156.4 704.8 1156.7 710 1156.9 709.7 1157.1 707.3 1157.4 724.9 1157.6 704.9 1157.8 707.2 1158 712.8 1158.2 719.4 1158.5 707.1 1158.7 691.7 1158.9 714.1 1159.1 722.2 1159.3 738.2 1159.5 732.6 1159.7 715.3 1159.9 699.6 1160.1 710.7 1160.3 714.8 1160.5 711.5 1160.7 700.6 1160.9 701.6 1161.1 705.4 1161.3 723.2 1161.5 716.8 1161.7 714.3 1161.9 727.4 1162.1 698.4 1162.3 710.5 1162.5 722.9 1162.7 718.3 1162.9 737.1 1163 694.1 1163.2 705.9 1163.4 718 1163.6 753.7 1163.8 712.1 1164 760.6 1164.1 751 1164.3 719.9 1164.5 703.1 1164.7 733.3 1164.8 694.4 1165 719.9 1165.2 726.4 1165.3 750.4 1165.5 695.1 1165.7 726.4 1165.9 711.8 1166 704.7 1166.2 717.6 1166.3 715.9 1166.5 718.4 1166.7 724.9 1166.8 734.2 1167 728.1 1167.2 724.8 1167.3 737 1167.5 710 1167.6 700 1167.8 712.6 1167.9 717 1168.1 735.1 1168.3 698.2 1168.4 752.6 1168.6 704.2 1168.7 708.8 1168.9 761.4 1169 759.3 1169.2 699.1 1169.3 698.2 1169.5 720.4 1169.6 725.8 1169.7 722.6 1169.9 719.3 1170 718.8 1170.2 717.6 1170.3 734.5 1170.5 717.8 1170.6 722.7 1170.7 743.2 1170.9 735.6 1171 745 1171.2 746.5 1171.3 729.3 1171.4 738.7 1171.6 758.5 1171.7 763 1171.8 732.5 1172 749.6 1172.1 729.1 1172.2 729.9 1172.4 718.8 1172.5 696.7 1172.6 727.2 1172.8 710.8 1172.9 698.9 1173 732.5 1173.2 724.2 1173.3 720.9 1173.4 709.8 1173.5 708.8 1173.7 701.8 1173.8 716.5 1173.9 748.5 1174.1 756.4 1174.2 735.6 1174.3 710.9 1174.4 729 1174.5 729.4 1174.7 725 1174.8 705.8 1174.9 718.8 1175 759.8 1175.2 700.9 1175.3 698.2 1175.4 706.8 1175.5 713.3 1175.6 726 1175.8 700.5 1175.9 714 1176 720.5 1176.1 705.9 1176.2 698.7 1176.3 717 1176.4 714.3 1176.6 732.3 1176.7 731.3 1176.8 725.2 1176.9 746 1177 735.4 1177.1 726.4 1177.2 720.8 1177.4 741.4 1177.5 758.1 1177.6 754.9 1177.7 726.4 1177.8 707.5 1177.9 699.6 1178 752.4 1178.1 731.5 1178.2 736.2 1178.3 749.3 1178.4 728.5 1178.5 723.3 1178.7 716.3 1178.8 722.7 1178.9 724.4 1179 710 1179.1 701.3 1179.2 740.3 1179.3 725.1 1179.4 709.4 1179.5 727.4 1179.6 728.8 1179.7 708.4 1179.8 739.8 1179.9 728.8 1180 703.1 1180.1 717.4 1180.2 750.2 1180.3 742.9 1180.4 736.1 1180.5 737 1180.6 748.7 1180.7 721.1 1180.8 733.1 1180.9 741.3 1181 720.5 1181.1 736.5 1181.2 737.1 1181.3 732 1181.4 726.2 1181.5 742.3 1181.6 716.6 1181.7 703.9 1181.8 742 1181.9 769.1 1182 729.7 1182.1 703.3 1182.1 727.4 1182.2 729.8 1182.3 723.7 1182.4 731.2 1182.5 728.1 1182.6 714.3 1182.7 732.9 1182.8 755.9 1182.9 732.7 1183 744.2 1183.1 739.8 1183.2 741.2 1183.3 711.8 1183.3 708.1 1183.4 718.2 1183.5 733.1 1183.6 721.2 1183.7 713.9 1183.8 722.7 1183.9 724 1184 760.4 1184.1 725.3 1184.1 740.9 1184.2 745.9 1184.3 743.6 1184.4 765.2 1184.5 744.1 1184.6 735 1184.7 765.3 1184.7 750.2 1184.8 729.1 1184.9 732.1 1185 725 1185.1 747.7 1185.2 765.9 1185.3 717 1185.3 732.6 1185.4 723.9 1185.5 742.5 1185.6 727.5 1185.7 725.2 1185.8 705.8 1185.8 746.4 1185.9 750.6 1186 741.1 1186.1 761.7 1186.2 768.7 1186.3 718.4 1186.3 733.3 1186.4 722.9 1186.5 769.8 1186.6 706 1186.7 719.1 1186.7 761 1186.8 706 1186.9 723.9 1187 706.7 1187.1 736.1 1187.1 734.8 1187.2 706.2 1187.3 723.4 1187.4 755.3 1187.4 752.9 1187.5 733.4 1187.6 732.2 1187.7 706.3 1187.8 705.2 1187.8 722.6 1187.9 728.8 1188 771.6 1188.1 739.9 1188.1 731.9 1188.2 725.3 1188.3 754.8 1188.4 754.8 1188.4 738.4 1188.5 728.3 1188.6 708.2 1188.7 731.5 1188.7 732.4 1188.8 743.2 1188.9 748.2 1189 726 1189 725.9 1189.1 714.4 1189.2 733.6 1189.3 728.6 1189.3 726.8 1189.4 761.4 1189.5 743.7 1189.5 771 1189.6 732 1189.7 721 1189.8 731.5 1189.8 741.1 1189.9 737 1190 716.7 1190 741.4 1190.1 721.6 1190.2 718.7 1190.3 735.2 1190.3 731.1 1190.4 706.9 1190.5 706.7 1190.5 723.8 1190.6 727.8 1190.7 711.5 1190.7 749.2 1190.8 746.6 1190.9 732.4 1191 712.4 1191 745.8 1191.1 724.8 1191.2 709.4 1191.2 726.3 1191.3 718 1191.4 734.7 1191.4 745.5 1191.5 740.2 1191.6 752 1191.6 733 1191.7 709.6 1191.8 722.4 1191.8 714.5 1191.9 734.9 1192 717.7 1192 727.9 1192.1 741.1 1192.2 746.7 1192.2 730.2 1192.3 719.2 1192.4 749.2 1192.4 765.3 1192.5 746.6 1192.6 708.9 1192.6 747 1192.7 715.3 1192.8 731.7 1192.8 724.3 1192.9 720.3 1193 759.3 1193 730.3 1193.1 748.3 1193.1 744.2 1193.2 741.1 1193.3 756.6 1193.3 728.7 1193.4 758.7 1193.5 733.2 1193.5 736.8 1193.6 743.4 1193.6 728.9 1193.7 772.4 1193.8 736.8 1193.8 755.2 1193.9 750.5 1194 747.5 1194 741.9 1194.1 743.3 1194.1 710.9 1194.2 725 1194.3 749.1 1194.3 759 1194.4 773 1194.4 723 1194.5 714.9 1194.6 711.1 1194.6 727.5 1194.7 728 1194.8 713.7 1194.8 730.1 1194.9 738.1 1194.9 709.7 1195 736.7 1195.1 737.8 1195.1 726.4 1195.2 723.2 1195.2 719.9 1195.3 707.6 1195.3 715.9 1195.4 745 1195.5 736.9 1195.5 738.4 1195.6 741.1 1195.6 750.1 1195.7 727.1 1195.8 710.5 1195.8 723.9 1195.9 735.4 1195.9 719.8 1196 711.7 1196 744.8 1196.1 759.7 1196.2 717.5 1196.2 731.2 1196.3 739.7 1196.3 750.1 1196.4 742.3 1196.4 717.3 1196.5 721.2 1196.6 736 1196.6 765.1 1196.7 734.1 1196.7 732.8 1196.8 714.1 1196.8 718.2 1196.9 728.4 1197 742 1197 752.9 1197.1 754.7 1197.1 739.8 1197.2 720.1 1197.2 758 1197.3 726.9 1197.3 738.1 1197.4 739.8 1197.5 737 1197.5 726 1197.6 733.1 1197.6 733.9 1197.7 722.8 1197.7 773.4 1197.8 748.2 1197.8 755.4 1197.9 731.4 1197.9 769.4 1198 753.9 1198 711.6 1198.1 729.3 1198.2 768 1198.2 712.2 1198.3 720 1198.3 715.8 1198.4 723.3 1198.4 711.5 1198.5 742.1 1198.5 740.9 1198.6 753.2 1198.6 742.3 1198.7 734.2 1198.7 752.3 1198.8 738.5 1198.8 764.8 1198.9 744.3 1198.9 766.7 1199 759.6 1199 732.4 1199.1 743.7 1199.2 721.9 1199.2 725.1 1199.3 731.5 1199.3 752.4 1199.4 737.5 1199.4 736.5 1199.5 769 1199.5 737.9 1199.6 738.2 1199.6 749.6 1199.7 753.1 1199.7 742.3 1199.8 743.7 1199.8 758.9 1199.9 737.2 1199.9 725.5 1200 748.6 1200 729.2 1200.1 710.7 1200.1 734.6 1200.2 717.9 1200.2 712 1200.3 726.6 1200.3 726.3 1200.4 758 1200.4 773.7 1200.5 749.7 1200.5 732.9 1200.6 731.7 1200.6 730.9 1200.7 727.8 1200.7 739.8 1200.8 748.4 1200.8 742.2 1200.9 736.3 1200.9 743.8 1200.9 732 1201 727 1201 722.4 1201.1 730.9 1201.1 747.5 1201.2 757.7 1201.2 734.4 1201.3 759.1 1201.3 745.5 1201.4 737.2 1201.4 747.5 1201.5 740.2 1201.5 749.4 1201.6 749.9 1201.6 733.2 1201.7 761.1 1201.7 743.2 1201.8 743.9 1201.8 746.6 1201.9 748.4 1201.9 729.8 1201.9 751.8 1202 721 1202 733.6 1202.1 729.1 1202.1 732.4 1202.2 753.4 1202.2 746.6 1202.3 749.6 1202.3 784.5 1202.4 774.1 1202.4 779.2 1202.5 753.9 1202.5 785.4 1202.5 750.4 1202.6 737.9 1202.6 714.6 1202.7 756.6 1202.7 729.9 1202.8 781 1202.8 741.9 1202.9 758.5 1202.9 760.7 1203 771.6 1203 763 1203 738.9 1203.1 764.8 1203.1 765 1203.2 755.5 1203.2 718.4 1203.3 716.1 1203.3 712.9 1203.4 712 1203.4 751.2 1203.4 736.4 1203.5 741.4 1203.5 732 1203.6 747.6 1203.6 746.8 1203.7 756.5 1203.7 731.9 1203.8 780.3 1203.8 749.9 1203.8 735.9 1203.9 727.3 1203.9 724 1204 747.8 1204 747.7 1204.1 714.5 1204.1 715.5 1204.1 730.8 1204.2 718.2 1204.2 738.8 1204.3 746.8 1204.3 773.6 1204.4 743 1204.4 744.6 1204.4 714 1204.5 715.9 1204.5 755.8 1204.6 731.6 1204.6 740.4 1204.7 729.1 1204.7 782.5 1204.7 753.5 1204.8 749 1204.8 750.1 1204.9 715.5 1204.9 755 1205 746.8 1205 742.1 1205 761.9 1205.1 745.6 1205.1 777.6 1205.2 729.1 1205.2 763.6 1205.3 748.5 1205.3 719.6 1205.3 715.7 1205.4 739.3 1205.4 738.4 1205.5 740.7 1205.5 768.8 1205.5 751.4 1205.6 745.1 1205.6 727.9 1205.7 736.3 1205.7 730.6 1205.7 746.3 1205.8 723.7 1205.8 755.2 1205.9 753 1205.9 786.6 1205.9 714.6 1206 737.8 1206 748.7 1206.1 754.6 1206.1 745.5 1206.2 731.1 1206.2 756.2 1206.2 766.4 1206.3 748.9 1206.3 738 1206.4 725.4 1206.4 735.8 1206.4 742.7 1206.5 734.2 1206.5 738.6 1206.6 759.5 1206.6 777.9 1206.6 789.9 1206.7 768.6 1206.7 741.2 1206.7 741.2 1206.8 749.8 1206.8 741.5 1206.9 755.3 1206.9 747.5 1206.9 767.9 1207 734.6 1207 759.8 1207.1 732.5 1207.1 758.4 1207.1 747.7 1207.2 735 1207.2 728.6 1207.3 759.3 1207.3 762.4 1207.3 732.6 1207.4 775 1207.4 732.9 1207.4 717.1 1207.5 748.8 1207.5 771.7 1207.6 777.3 1207.6 777.1 1207.6 789 1207.7 729.5 1207.7 743.1 1207.8 718.4 1207.8 716.3 1207.8 727.1 1207.9 735.4 1207.9 723.6 1207.9 735.2 1208 759.9 1208 728.8 1208.1 750.1 1208.1 757.3 1208.1 741 1208.2 728.1 1208.2 716.2 1208.2 743.5 1208.3 756.9 1208.3 770.6 1208.4 771.4 1208.4 792.7 1208.4 737.6 1208.5 744.2 1208.5 722 1208.5 765 1208.6 740.5 1208.6 742.5 1208.7 731 1208.7 745 1208.7 775.4 1208.8 763.7 1208.8 753 1208.8 734.5 1208.9 771.9 1208.9 751.5 1208.9 736.4 1209 770.7 1209 723.4 1209.1 741.5 1209.1 753.7 1209.1 768.3 1209.2 727.3 1209.2 728.4 1209.2 743 1209.3 725.1 1209.3 788.6 1209.3 747.9 1209.4 723.6 1209.4 733.1 1209.5 730.2 1209.5 748.7 1209.5 732.9 1209.6 737.2 1209.6 731.3 1209.6 771.4 1209.7 731.8 1209.7 742.7 1209.7 760.1 1209.8 716.6 1209.8 721.8 1209.8 748.8 1209.9 738.8 1209.9 738 1210 758 1210 764.6 1210 733.8 1210.1 737.2 1210.1 762 1210.1 777.6 1210.2 740.4 1210.3 735.9 1210.3 790.1 1210.4 733.2 1210.5 759 1210.5 758.4 1210.6 730.4 1210.7 747.2 1210.8 718 1210.8 753.1 1210.9 740.9 1211 758.2 1211 735.1 1211.1 746.7 1211.2 742.5 1211.2 769.7 1211.3 736.3 1211.4 742.9 1211.4 732.6 1211.5 755.4 1211.6 729.1 1211.6 786.4 1211.7 754.7 1211.8 763.1 1211.8 749.4 1211.9 728 1212 779.3 1212 758.5 1212.1 758.2 1212.2 734.4 1212.2 764.2 1212.3 770.3 1212.3 719.1 1212.4 715.7 1212.5 751.2 1212.5 732.9 1212.6 777.8 1212.7 770.7 1212.7 774.8 1212.8 757.6 1212.9 764.4 1212.9 731.5 1213 733 1213.1 753 1213.1 726.9 1213.2 768.7 1213.2 741.5 1213.3 780.8 1213.4 770.3 1213.4 744.4 1213.5 761 1213.6 720.5 1213.6 739.2 1213.7 745 1213.7 752.7 1213.8 769.9 1213.9 793.1 1213.9 728.6 1214 724.4 1214 743.3 1214.1 745.6 1214.2 738.9 1214.2 782.9 1214.3 724.8 1214.3 750.6 1214.4 719.5 1214.5 732 1214.5 734.9 1214.6 742.8 1214.6 742.8 1214.7 777.1 1214.8 777 1214.8 776.5 1214.9 716.7 1214.9 745.2 1215 758.7 1215.1 737.9 1215.1 736.6 1215.2 751.1 1215.2 757.4 1215.3 752.1 1215.4 784.4 1215.4 748 1215.5 769.8 1215.5 736.2 1215.6 758.7 1215.6 767.3 1215.7 754.9 1215.8 770.3 1215.8 787.9 1215.9 747.9 1215.9 753.3 1216 740 1216 758.7 1216.1 761.1 1216.2 751.1 1216.2 716.9 1216.3 748 1216.3 739.1 1216.4 748 1216.4 742.4 1216.5 746 1216.6 729.7 1216.6 766.8 1216.7 753.5 1216.7 733.8 1216.8 749.8 1216.8 747.8 1216.9 789.2 1216.9 767.2 1217 764.5 1217.1 740.2 1217.1 728 1217.2 777.1 1217.2 774.1 1217.3 759.9 1217.3 741.2 1217.4 720 1217.4 733.9 1217.5 732.8 1217.5 741.7 1217.6 718.6 1217.6 760.6 1217.7 728.1 1217.8 731.4 1217.8 741.8 1217.9 739.8 1217.9 769.4 1218 743.7 1218 760.9 1218.1 738 1218.1 754 1218.2 747.1 1218.2 762.8 1218.3 794.4 1218.3 734.5 1218.4 756.1 1218.4 765.3 1218.5 733.2 1218.5 775.5 1218.6 734.5 1218.7 749.9 1218.7 772.5 1218.8 781.8 1218.8 767.2 1218.9 752.7 1218.9 764.8 1219 802.6 1219 752.9 1219.1 767 1219.1 751.7 1219.2 749.4 1219.2 789.3 1219.3 736.2 1219.3 759.3 1219.4 727.4 1219.4 724 1219.5 745.2 1219.5 745.8 1219.6 743.6 1219.6 754.2 1219.7 732.1 1219.7 753.6 1219.8 756.6 1219.8 722.4 1219.9 745.5 1219.9 798.5 1220 757.1 1220 764.3 1220.1 747.4 1220.1 750.4 1220.2 743.4 1220.2 762.2 1220.3 750.4 1220.3 757.3 1220.4 730.2 1220.4 777.9 1220.5 736.2 1220.5 726.8 1220.6 749.1 1220.6 755.6 1220.7 774 1220.7 781.1 1220.8 751.7 1220.8 735.7 1220.8 727.3 1220.9 731.4 1220.9 768.9 1221 784.7 1221 802.5 1221.1 769.8 1221.1 735.9 1221.2 762.7 1221.2 740.3 1221.3 744.7 1221.3 786 1221.4 757.7 1221.4 782.7 1221.5 774.2 1221.5 756.6 1221.6 770.8 1221.6 721.9 1221.7 754 1221.7 754.3 1221.7 723.8 1221.8 724.2 1221.8 721.8 1221.9 745.3 1221.9 768.8 1222 725.1 1222 722 1222.1 734.3 1222.1 745.4 1222.2 755.6 1222.2 762.8 1222.3 733.7 1222.3 750.9 1222.3 759 1222.4 773.9 1222.4 761.1 1222.5 760.9 1222.5 746.3 1222.6 747.9 1222.6 728.1 1222.7 754.7 1222.7 760.7 1222.7 737.5 1222.8 789.5 1222.8 748.9 1222.9 780.3 1222.9 743.9 1223 765 1223 755.7 1223.1 753.8 1223.1 751.2 1223.1 790.3 1223.2 758.2 1223.2 796 1223.3 740.6 1223.3 741 1223.4 769.3 1223.4 723.5 1223.5 742.5 1223.5 737.4 1223.5 767.2 1223.6 771.8 1223.6 782.6 1223.7 767.6 1223.7 747.3 1223.8 722.5 1223.8 719.6 1223.8 809.4 1223.9 746.6 1223.9 746.8 1224 741.8 1224 723.5 1224.1 728 1224.1 724.8 1224.1 722.3 1224.2 737.6 1224.2 753.6 1224.3 740.5 1224.3 751.5 1224.4 739.8 1224.4 726.4 1224.4 731.7 1224.5 730.5 1224.5 735.7 1224.6 794.4 1224.6 806.3 1224.7 766.7 1224.7 759.8 1224.7 723.8 1224.8 776.2 1224.8 751.2 1224.9 743.4 1224.9 751.8 1224.9 776.9 1225 728.9 1225 789.1 1225.1 733.9 1225.1 759 1225.2 735 1225.2 760.6 1225.2 746.8 1225.3 799.4 1225.3 719.9 1225.4 760.8 1225.4 746.2 1225.4 728.7 1225.5 754.8 1225.5 736.1 1225.6 725 1225.6 741.3 1225.6 755.3 1225.7 763.8 1225.7 740.4 1225.8 745.1 1225.8 801.7 1225.8 746.5 1225.9 788.3 1225.9 752.9 1226 773.9 1226 743.6 1226 801.7 1226.1 727.1 1226.1 724.4 1226.2 795.7 1226.2 761.7 1226.2 787.5 1226.3 771.2 1226.3 754.4 1226.4 740.7 1226.4 766.2 1226.4 751.4 1226.5 755.5 1226.5 752 1226.6 763.3 1226.6 799 1226.6 728.2 1226.7 738.6 1226.7 774 1226.8 788.8 1226.8 752.6 1226.8 760.9 1226.9 794.1 1226.9 737.5 1227 745 1227 754.8 1227 801.5 1227.1 728 1227.1 743.4 1227.1 784.5 1227.2 747.9 1227.2 740.6 1227.3 723.8 1227.3 735.1 1227.3 796 1227.4 760.9 1227.4 738.2 1227.5 739.3 1227.5 766.3 1227.5 763.7 1227.6 757.3 1227.6 761.3 1227.6 740 1227.7 799 1227.7 763.1 1227.8 741.2 1227.8 744.5 1227.8 750 1227.9 776.9 1227.9 788.2 1227.9 768.9 1228 761.3 1228 753.1 1228.1 737.4 1228.1 754.3 1228.1 772.1 1228.2 799.4 1228.2 794.2 1228.2 757.9 1228.3 760.7 1228.3 766.1 1228.3 757.9 1228.4 740.9 1228.4 753.2 1228.5 741.1 1228.5 750.8 1228.5 757.9 1228.6 773.8 1228.6 764.7 1228.6 793.9 1228.7 759.4 1228.7 791.4 1228.8 779.7 1228.8 766.3 1228.8 750.9 1228.9 764.3 1228.9 765.4 1228.9 754 1229 775.1 1229 807.1 1229 738.2 1229.1 747.6 1229.1 771.5 1229.1 755.6 1229.2 765.1 1229.2 732.3 1229.3 731.1 1229.3 776.2 1229.3 733.3 1229.4 778.7 1229.4 748 1229.4 764.8 1229.5 743.5 1229.5 749.6 1229.5 748.1 1229.6 761.2 1229.6 768.2 1229.6 738.5 1229.7 738.3 1229.7 784.5 1229.8 749.4 1229.8 737.8 1229.8 768.7 1229.9 749.6 1229.9 804.5 1230 760.2 1230 737.4 1230.1 751 1230.2 734.6 1230.2 749.5 1230.3 734.1 1230.3 734.7 1230.4 766.1 1230.4 762 1230.5 754.9 1230.5 803.5 1230.6 750.3 1230.6 762.4 1230.7 762.8 1230.7 747.6 1230.8 786.9 1230.8 751.5 1230.9 791.3 1230.9 753.7 1231 780.5 1231 750 1231.1 729.2 1231.1 755.6 1231.2 754.3 1231.2 749.2 1231.3 769.8 1231.3 779.4 1231.4 754.4 1231.4 757.7 1231.5 761.5 1231.5 754.8 1231.6 726.5 1231.6 796.3 1231.7 773.8 1231.7 734.7 1231.8 749.7 1231.8 776.6 1231.9 757.2 1231.9 764.9 1232 735.4 1232 737.7 1232.1 761.9 1232.1 760.9 1232.2 786.2 1232.2 777.1 1232.2 764.2 1232.3 740.8 1232.3 760.3 1232.4 737.8 1232.4 729.3 1232.5 727.6 1232.5 729.8 1232.6 764.2 1232.6 741.6 1232.7 765.4 1232.7 748.8 1232.8 774 1232.8 788.7 1232.9 763.5 1232.9 774.7 1233 743.5 1233 798.6 1233.1 807.1 1233.1 777.8 1233.1 753.8 1233.2 729.4 1233.2 778.6 1233.3 771.7 1233.3 738 1233.4 767.1 1233.4 787.3 1233.5 765 1233.5 747.4 1233.6 768.1 1233.6 794.3 1233.7 763.9 1233.7 803 1233.7 766.9 1233.8 776.9 1233.8 746.7 1233.9 760 1233.9 766.9 1234 792 1234 760.5 1234.1 768.1 1234.1 761.4 1234.2 794.4 1234.2 727.2 1234.2 759.5 1234.3 766.1 1234.3 788.8 1234.4 739 1234.4 769 1234.5 794.2 1234.5 753.9 1234.6 744.9 1234.6 751.3 1234.6 777.2 1234.7 750.7 1234.7 729.2 1234.8 735.5 1234.8 747.3 1234.9 763 1234.9 747.7 1235 766.5 1235 773 1235 760.2 1235.1 777.9 1235.1 750.6 1235.2 783.2 1235.2 749 1235.3 766.1 1235.3 763.2 1235.3 767.8 1235.4 758.6 1235.4 747.9 1235.5 753.6 1235.5 783.3 1235.6 761.1 1235.6 790.3 1235.6 762.8 1235.7 766.1 1235.7 730.8 1235.8 763.9 1235.8 739.1 1235.9 763.9 1235.9 805.7 1235.9 740.2 1236 782.4 1236 794.6 1236.1 747.5 1236.1 785.3 1236.2 761.5 1236.2 748.4 1236.2 768.5 1236.3 766.9 1236.3 780.2 1236.4 809.9 1236.4 774 1236.4 746.8 1236.5 730.3 1236.5 746.5 1236.6 806.9 1236.6 760.9 1236.7 760.7 1236.7 740.5 1236.7 743.7 1236.8 759.4 1236.8 786.6 1236.9 749.3 1236.9 795.7 1236.9 782.7 1237 781.8 1237 737.4 1237.1 763.6 1237.1 761.3 1237.1 763.7 1237.2 751.7 1237.2 754.7 1237.3 743.3 1237.3 735.1 1237.3 751.5 1237.4 755.3 1237.4 747.5 1237.5 783.8 1237.5 749.2 1237.5 794 1237.6 751.3 1237.6 748.2 1237.7 789.2 1237.7 784.9 1237.7 754.6 1237.8 736.6 1237.8 730.3 1237.9 792.8 1237.9 758.2 1237.9 773.8 1238 735.5 1238 771.3 1238.1 754.2 1238.1 763.5 1238.1 757.9 1238.2 736.4 1238.2 763.7 1238.3 749.6 1238.3 748.5 1238.3 740.9 1238.4 751.1 1238.4 761.3 1238.5 757.6 1238.5 742.6 1238.5 774.6 1238.6 745.9 1238.6 730.2 1238.6 742.6 1238.7 778 1238.7 770.3 1238.8 751.9 1238.8 796.9 1238.8 764.4 1238.9 748.3 1238.9 795.5 1239 761.5 1239 790.1 1239 749.2 1239.1 765 1239.1 731.5 1239.1 771.1 1239.2 798.8 1239.2 756.7 1239.3 775 1239.3 738.1 1239.3 774.6 1239.4 791.7 1239.4 781.5 1239.4 759.5 1239.5 770.2 1239.5 753.8 1239.6 774.3 1239.6 799.7 1239.6 760.4 1239.7 775.1 1239.7 735.9 1239.7 775 1239.8 781.3 1239.8 754.4 1239.8 736 1239.9 737.4 1239.9 744.6 1240 763.6 1240 766.8 1240 767.2 1240.1 760.6 1240.1 769.7 1240.1 782.4 1240.2 738.3 1240.2 756.8 1240.3 766.7 1240.3 762.9 1240.3 781.9 1240.4 764.6 1240.4 766.3 1240.4 772.3 1240.5 779.4 1240.5 768.4 1240.5 751 1240.6 787.2 1240.6 773.9 1240.6 745.2 1240.7 739.1 1240.7 749.3 1240.8 732.8 1240.8 763.5 1240.8 790.8 1240.9 797.3 1240.9 781.9 1240.9 772.4 1241 768.2 1241 766 1241 756.1 1241.1 791.7 1241.1 789.8 1241.1 752.3 1241.2 766.5 1241.2 763 1241.2 758.4 1241.3 790.6 1241.3 802.2 1241.4 776.7 1241.4 766.5 1241.5 777.1 1241.5 791.2 1241.6 748.6 1241.6 755.6 1241.7 752 1241.7 739.5 1241.7 745.5 1241.8 773.2 1241.8 745.1 1241.9 752.5 1241.9 750.2 1242 742.8 1242 759.3 1242.1 758 1242.1 779.2 1242.2 786 1242.2 806.1 1242.2 762.7 1242.3 764.1 1242.3 764.6 1242.4 764.1 1242.4 773.7 1242.5 736.8 1242.5 762 1242.6 779.7 1242.6 790.6 1242.7 762.3 1242.7 762.6 1242.7 767.2 1242.8 772.1 1242.8 745.2 1242.9 752 1242.9 787.2 1243 764.3 1243 757 1243 767.1 1243.1 790.6 1243.1 749.5 1243.2 751.1 1243.2 748.2 1243.3 752.2 1243.3 765.5 1243.4 760.2 1243.4 778.4 1243.4 780.7 1243.5 774.8 1243.5 751.4 1243.6 786.5 1243.6 732.1 1243.7 744.5 1243.7 750.2 1243.7 758 1243.8 734.7 1243.8 760.9 1243.9 778.1 1243.9 772.8 1244 776.1 1244 764.7 1244 741.2 1244.1 772.4 1244.1 761.7 1244.2 768.5 1244.2 759.9 1244.3 739.1 1244.3 764.9 1244.3 774.2 1244.4 750.1 1244.4 757.7 1244.5 794.1 1244.5 751.7 1244.5 762.1 1244.6 763.7 1244.6 784.1 1244.7 770.1 1244.7 778.5 1244.8 778.2 1244.8 775.2 1244.8 745.7 1244.9 752.4 1244.9 747.2 1245 760.4 1245 756.1 1245 792.7 1245.1 741.6 1245.1 800.4 1245.2 795.1 1245.2 796.7 1245.2 771.5 1245.3 757.3 1245.3 757.9 1245.4 749.3 1245.4 802.7 1245.4 759.1 1245.5 764.8 1245.5 777.3 1245.6 782.9 1245.6 788.3 1245.6 768.2 1245.7 763.9 1245.7 770.5 1245.8 779 1245.8 775.9 1245.8 746.4 1245.9 771 1245.9 769.7 1246 766.3 1246 736.4 1246 770.5 1246.1 782 1246.1 789.4 1246.2 782.9 1246.2 788.7 1246.2 785.6 1246.3 811.7 1246.3 760.4 1246.4 747.1 1246.4 742.3 1246.4 801.6 1246.5 768.8 1246.5 759.2 1246.6 776.1 1246.6 772.5 1246.6 790.8 1246.7 750.5 1246.7 759.7 1246.7 775.6 1246.8 758.5 1246.8 770.6 1246.9 739.8 1246.9 794 1246.9 795.7 1247 753.8 1247 755.7 1247.1 776.8 1247.1 776.9 1247.1 763.3 1247.2 758 1247.2 800.2 1247.2 761.2 1247.3 744 1247.3 782.3 1247.4 742.2 1247.4 749.4 1247.4 794.5 1247.5 765.2 1247.5 757.8 1247.5 781 1247.6 765.4 1247.6 789.2 1247.7 787.3 1247.7 772.3 1247.7 751.2 1247.8 773.2 1247.8 734.7 1247.8 759.1 1247.9 750.7 1247.9 765.8 1248 770.4 1248 795.6 1248 795.6 1248.1 773.7 1248.1 810.6 1248.1 758.1 1248.2 754.9 1248.2 776.7 1248.2 760.8 1248.3 741.2 1248.3 746.8 1248.4 772.9 1248.4 746.9 1248.4 760.2 1248.5 754.5 1248.5 810.3 1248.5 738.6 1248.6 774.5 1248.6 780.1 1248.6 791.4 1248.7 762.1 1248.7 752 1248.8 776.7 1248.8 773.5 1248.8 776.9 1248.9 781.8 1248.9 773.4 1248.9 782.6 1249 786 1249 768.6 1249 742 1249.1 783.8 1249.1 766.9 1249.1 759.2 1249.2 758.3 1249.2 746.7 1249.2 746.9 1249.3 763.5 1249.3 749.1 1249.4 799.7 1249.4 755.4 1249.4 788.7 1249.5 771.1 1249.5 745.9 1249.5 770.5 1249.6 769.1 1249.6 737.6 1249.7 774.9 1249.7 799.5 1249.8 778.7 1249.8 747 1249.9 766 1249.9 788.1 1249.9 764.1 1250 794.1 1250 757.3 1250.1 764.9 1250.1 802.4 1250.2 738.3 1250.2 764.4 1250.2 759.1 1250.3 789.3" stroke="#0000ff" stroke-width="1" fill="none" stroke-linejoin="round" clip-path="url(#fftc2)"/>
<polyline points="1019.3,649.2 1021.2,649.2 1023.2,649.2 1025.1,649.2 1027.1,649.2 1029,649.2 1030.9,649.2 1032.9,649.2 1034.8,649.2 1036.8,649.3 1038.7,649.3 1040.7,649.3 1042.6,649.4 1044.5,649.4 1046.5,649.4 1048.4,649.5 1050.4,649.5 1052.3,649.6 1054.2,649.7 1056.2,649.7 1058.1,649.8 1060.1,649.9 1062,650 1063.9,650.2 1065.9,650.3 1067.8,650.5 1069.8,650.7 1071.7,650.9 1073.7,651.1 1075.6,651.4 1077.5,651.7 1079.5,652 1081.4,652.4 1083.4,652.8 1085.3,653.2 1087.2,653.7 1089.2,654.3 1091.1,654.8 1093.1,655.5 1095,656.1 1096.9,656.9 1098.9,657.6 1100.8,658.5 1102.8,659.3 1104.7,660.2 1106.7,661.2 1108.6,662.2 1110.5,663.2 1112.5,664.3 1114.4,665.4 1116.4,666.5 1118.3,667.7 1120.2,668.9 1122.2,670.1 1124.1,671.4 1126.1,672.6 1128,673.9 1129.9,675.2 1131.9,676.5 1133.8,677.9 1135.8,679.2 1137.7,680.5 1139.7,681.9 1141.6,683.3 1143.5,684.6 1145.5,686 1147.4,687.4 1149.4,688.8 1151.3,690.2 1153.2,691.6 1155.2,693 1157.1,694.4 1159.1,695.8 1161,697.2 1162.9,698.6 1164.9,700 1166.8,701.4 1168.8,702.8 1170.7,704.2 1172.7,705.7 1174.6,707.1 1176.5,708.5 1178.5,709.9 1180.4,711.3 1182.4,712.7 1184.3,714.2 1186.2,715.6 1188.2,717 1190.1,718.4 1192.1,719.8 1194,721.3 1195.9,722.7 1197.9,724.1 1199.8,725.5 1201.8,726.9 1203.7,728.4 1205.7,729.8 1207.6,731.2 1209.5,732.6 1211.5,734 1213.4,735.5 1215.4,736.9 1217.3,738.3 1219.2,739.7 1221.2,741.1 1223.1,742.6 1225.1,744 1227,745.4 1228.9,746.8 1230.9,748.2 1232.8,749.7 1234.8,751.1 1236.7,752.5 1238.7,753.9 1240.6,755.3 1242.5,756.8 1244.5,758.2 1246.4,759.6 1248.4,761 1250.3,762.5" fill="none" stroke="#00ffff" stroke-width="2.8" stroke-linejoin="round" clip-path="url(#fftc2)"/>
<path d="M1016.8 827.8H1019.3M1250.3 827.8H1248.3M1016.8 826.2H1019.3M1250.3 826.2H1248.3M1016.8 824.8H1019.3M1250.3 824.8H1248.3M1016.8 823.6H1019.3M1250.3 823.6H1248.3M1014.8 822.5H1019.3M1246.8 822.5H1250.3M1016.8 815.3H1019.3M1250.3 815.3H1248.3M1016.8 811.1H1019.3M1250.3 811.1H1248.3M1016.8 808.1H1019.3M1250.3 808.1H1248.3M1016.8 805.8H1019.3M1250.3 805.8H1248.3M1016.8 803.9H1019.3M1250.3 803.9H1248.3M1016.8 802.3H1019.3M1250.3 802.3H1248.3M1016.8 800.9H1019.3M1250.3 800.9H1248.3M1016.8 799.7H1019.3M1250.3 799.7H1248.3M1014.8 798.6H1019.3M1246.8 798.6H1250.3M1016.8 791.4H1019.3M1250.3 791.4H1248.3M1016.8 787.2H1019.3M1250.3 787.2H1248.3M1016.8 784.2H1019.3M1250.3 784.2H1248.3M1016.8 781.9H1019.3M1250.3 781.9H1248.3M1016.8 780H1019.3M1250.3 780H1248.3M1016.8 778.4H1019.3M1250.3 778.4H1248.3M1016.8 777H1019.3M1250.3 777H1248.3M1016.8 775.8H1019.3M1250.3 775.8H1248.3M1014.8 774.7H1019.3M1246.8 774.7H1250.3M1016.8 767.5H1019.3M1250.3 767.5H1248.3M1016.8 763.3H1019.3M1250.3 763.3H1248.3M1016.8 760.3H1019.3M1250.3 760.3H1248.3M1016.8 758H1019.3M1250.3 758H1248.3M1016.8 756.1H1019.3M1250.3 756.1H1248.3M1016.8 754.5H1019.3M1250.3 754.5H1248.3M1016.8 753.1H1019.3M1250.3 753.1H1248.3M1016.8 751.9H1019.3M1250.3 751.9H1248.3M1014.8 750.8H1019.3M1246.8 750.8H1250.3M1016.8 743.6H1019.3M1250.3 743.6H1248.3M1016.8 739.4H1019.3M1250.3 739.4H1248.3M1016.8 736.4H1019.3M1250.3 736.4H1248.3M1016.8 734.1H1019.3M1250.3 734.1H1248.3M1016.8 732.2H1019.3M1250.3 732.2H1248.3M1016.8 730.6H1019.3M1250.3 730.6H1248.3M1016.8 729.2H1019.3M1250.3 729.2H1248.3M1016.8 728H1019.3M1250.3 728H1248.3M1014.8 726.9H1019.3M1246.8 726.9H1250.3M1016.8 719.7H1019.3M1250.3 719.7H1248.3M1016.8 715.5H1019.3M1250.3 715.5H1248.3M1016.8 712.5H1019.3M1250.3 712.5H1248.3M1016.8 710.2H1019.3M1250.3 710.2H1248.3M1016.8 708.3H1019.3M1250.3 708.3H1248.3M1016.8 706.7H1019.3M1250.3 706.7H1248.3M1016.8 705.3H1019.3M1250.3 705.3H1248.3M1016.8 704.1H1019.3M1250.3 704.1H1248.3M1014.8 703H1019.3M1246.8 703H1250.3M1016.8 695.8H1019.3M1250.3 695.8H1248.3M1016.8 691.6H1019.3M1250.3 691.6H1248.3M1016.8 688.6H1019.3M1250.3 688.6H1248.3M1016.8 686.3H1019.3M1250.3 686.3H1248.3M1016.8 684.4H1019.3M1250.3 684.4H1248.3M1016.8 682.8H1019.3M1250.3 682.8H1248.3M1016.8 681.4H1019.3M1250.3 681.4H1248.3M1016.8 680.2H1019.3M1250.3 680.2H1248.3M1014.8 679.1H1019.3M1246.8 679.1H1250.3M1016.8 671.9H1019.3M1250.3 671.9H1248.3M1016.8 667.7H1019.3M1250.3 667.7H1248.3M1016.8 664.7H1019.3M1250.3 664.7H1248.3M1016.8 662.4H1019.3M1250.3 662.4H1248.3M1016.8 660.5H1019.3M1250.3 660.5H1248.3M1016.8 658.9H1019.3M1250.3 658.9H1248.3M1016.8 657.5H1019.3M1250.3 657.5H1248.3M1016.8 656.3H1019.3M1250.3 656.3H1248.3M1014.8 655.2H1019.3M1246.8 655.2H1250.3M1016.8 648H1019.3M1250.3 648H1248.3M1016.8 643.8H1019.3M1250.3 643.8H1248.3M1016.8 640.8H1019.3M1250.3 640.8H1248.3M1016.8 638.5H1019.3M1250.3 638.5H1248.3M1016.8 636.6H1019.3M1250.3 636.6H1248.3M1016.8 635H1019.3M1250.3 635H1248.3M1016.8 633.6H1019.3M1250.3 633.6H1248.3M1016.8 632.4H1019.3M1250.3 632.4H1248.3M1014.8 631.3H1019.3M1246.8 631.3H1250.3M1016.8 624.1H1019.3M1250.3 624.1H1248.3M1016.8 619.9H1019.3M1250.3 619.9H1248.3M1016.8 616.9H1019.3M1250.3 616.9H1248.3M1016.8 614.6H1019.3M1250.3 614.6H1248.3M1016.8 612.7H1019.3M1250.3 612.7H1248.3M1016.8 611.1H1019.3M1250.3 611.1H1248.3M1016.8 609.7H1019.3M1250.3 609.7H1248.3M1016.8 608.5H1019.3M1250.3 608.5H1248.3M1014.8 607.4H1019.3M1246.8 607.4H1250.3M1016.8 600.2H1019.3M1250.3 600.2H1248.3M1019.6 829.3V831.8M1019.6 599.8V601.8M1024.8 829.3V831.8M1024.8 599.8V601.8M1029.2 829.3V831.8M1029.2 599.8V601.8M1033 829.3V831.8M1033 599.8V601.8M1036.3 829.3V831.8M1036.3 599.8V601.8M1039.3 833.8V829.3M1039.3 599.8V603.3M1059 829.3V831.8M1059 599.8V601.8M1070.5 829.3V831.8M1070.5 599.8V601.8M1078.6 829.3V831.8M1078.6 599.8V601.8M1084.9 829.3V831.8M1084.9 599.8V601.8M1090.1 829.3V831.8M1090.1 599.8V601.8M1094.5 829.3V831.8M1094.5 599.8V601.8M1098.3 829.3V831.8M1098.3 599.8V601.8M1101.6 829.3V831.8M1101.6 599.8V601.8M1104.6 833.8V829.3M1104.6 599.8V603.3M1124.3 829.3V831.8M1124.3 599.8V601.8M1135.8 829.3V831.8M1135.8 599.8V601.8M1143.9 829.3V831.8M1143.9 599.8V601.8M1150.2 829.3V831.8M1150.2 599.8V601.8M1155.4 829.3V831.8M1155.4 599.8V601.8M1159.8 829.3V831.8M1159.8 599.8V601.8M1163.6 829.3V831.8M1163.6 599.8V601.8M1166.9 829.3V831.8M1166.9 599.8V601.8M1169.9 833.8V829.3M1169.9 599.8V603.3M1189.6 829.3V831.8M1189.6 599.8V601.8M1201.1 829.3V831.8M1201.1 599.8V601.8M1209.2 829.3V831.8M1209.2 599.8V601.8M1215.5 829.3V831.8M1215.5 599.8V601.8M1220.7 829.3V831.8M1220.7 599.8V601.8M1225.1 829.3V831.8M1225.1 599.8V601.8M1228.9 829.3V831.8M1228.9 599.8V601.8M1232.2 829.3V831.8M1232.2 599.8V601.8M1235.2 833.8V829.3M1235.2 599.8V603.3" stroke="#222" stroke-width="1" fill="none"/>
<rect x="1019.3" y="599.8" width="231" height="229.5" fill="none" stroke="#222" stroke-width="1.4"/>
<text x="1012.3" y="640.1" style="font-family:'Liberation Serif',serif;font-size:23px" text-anchor="end">10<tspan font-size="14.5" dy="-11">6</tspan></text>
<text x="1012.3" y="711.8" style="font-family:'Liberation Serif',serif;font-size:23px" text-anchor="end">10<tspan font-size="14.5" dy="-11">3</tspan></text>
<text x="1012.3" y="783.5" style="font-family:'Liberation Serif',serif;font-size:23px" text-anchor="end">10<tspan font-size="14.5" dy="-11">0</tspan></text>
<text x="1106.1" y="860" style="font-family:'Liberation Serif',serif;font-size:23px" text-anchor="middle">10<tspan font-size="14.5" dy="-11">-4</tspan></text>
<text x="1236.7" y="860" style="font-family:'Liberation Serif',serif;font-size:23px" text-anchor="middle">10<tspan font-size="14.5" dy="-11">-2</tspan></text>
<text transform="translate(958,714.5) rotate(-90)" style="font-family:'Liberation Sans',sans-serif;font-size:24.5px" text-anchor="middle">Magnitude (a.u.)</text>
<clipPath id="fftc3"><rect x="1020.7" y="879.6" width="230.4" height="231"/></clipPath>
<path d="M1021.6 886.9 1044.7 935.6 1058.3 910.3 1067.9 943.9 1075.4 911.1 1081.5 912.5 1086.6 906.8 1091.1 928.1 1095 922 1098.6 913.1 1101.7 926.3 1104.7 927.1 1107.3 936 1109.8 930.3 1112.1 930.5 1114.3 948.7 1116.3 915.8 1118.2 933.2 1120 931 1121.7 937.3 1123.4 931.4 1124.9 938.1 1126.4 936.3 1127.8 941.1 1129.2 935.5 1130.5 944.7 1131.8 948.5 1133 953.9 1134.2 934.3 1135.3 945.3 1136.4 930.5 1137.5 954.8 1138.5 949.4 1139.5 948.3 1140.4 943.5 1141.4 943.2 1142.3 946.3 1143.2 1000.1 1144.1 948.5 1144.9 956.5 1145.7 961 1146.5 957.3 1147.3 947.9 1148.1 955.6 1148.9 960.9 1149.6 970.5 1150.3 950 1151 948.8 1151.7 981 1152.4 1016.4 1153 975.1 1153.7 964.4 1154.3 962 1154.9 964.3 1155.6 962.7 1156.2 951.8 1156.8 949 1157.3 957.9 1157.9 954.4 1158.5 973.1 1159 949.7 1159.6 951.1 1160.1 1029.3 1160.6 950 1161.1 951.5 1161.7 972.1 1162.2 958.8 1162.7 957.1 1163.1 995.7 1163.6 985.6 1164.1 970.5 1164.6 986.4 1165 980.2 1165.5 969.4 1165.9 961.7 1166.4 971.7 1166.8 984.1 1167.2 953.8 1167.7 961.2 1168.1 968.8 1168.5 967.4 1168.9 971.7 1169.3 953.9 1169.7 966.7 1170.1 1001.6 1170.5 984.2 1170.9 969.9 1171.3 979.4 1171.7 984.1 1172 976.1 1172.4 983.1 1172.8 977 1173.1 957.1 1173.5 978.4 1173.8 1001.6 1174.2 968.6 1174.5 980.9 1174.9 970.2 1175.2 973.1 1175.6 980.7 1175.9 990 1176.2 980.2 1176.5 1014.7 1176.9 973.4 1177.2 990.3 1177.5 985.5 1177.8 958.6 1178.1 984.2 1178.4 996.4 1178.7 988.1 1179 981.9 1179.3 962.5 1179.6 993.2 1179.9 987.4 1180.2 979.1 1180.5 1014.5 1180.8 988.8 1181.1 1003.9 1181.4 1004.7 1181.7 987.3 1181.9 1005 1182.2 979.3 1182.5 965.8 1182.7 965.9 1183 1005.2 1183.3 966.5 1183.5 1041.7 1183.8 988.2 1184.1 983.1 1184.3 967.5 1184.6 978.6 1184.8 988.1 1185.1 975.2 1185.3 982.1 1185.6 977.2 1185.8 963.9 1186.1 991.4 1186.3 1005.5 1186.6 972.9 1186.8 995.1 1187 980.7 1187.3 985.7 1187.5 998.3 1187.7 995.8 1188 992.7 1188.2 993.8 1188.4 978.4 1188.7 989.4 1188.9 995.3 1189.1 991.6 1189.3 996.3 1189.6 965.5 1189.8 977.2 1190 964.1 1190.2 975.3 1190.4 1016.5 1190.6 977.2 1190.9 990.7 1191.1 982.7 1191.3 996.4 1191.5 996.6 1191.7 1005.7 1191.9 991.1 1192.1 983.6 1192.3 1001.1 1192.5 986.6 1192.7 1036.2 1192.9 978.9 1193.1 988.8 1193.3 991.3 1193.5 977.5 1193.7 990.2 1193.9 981.2 1194.1 1005.1 1194.3 989.9 1194.5 980.9 1194.6 990.6 1194.8 998.1 1195 981.8 1195.2 982.3 1195.4 993.3 1195.6 978 1195.8 968.9 1195.9 1003.8 1196.1 982.2 1196.3 987.3 1196.5 991.6 1196.7 982.8 1196.8 967.4 1197 969.7 1197.2 976.5 1197.4 993.5 1197.5 979 1197.7 971.7 1197.9 967.3 1198.1 987.1 1198.2 965.6 1198.4 978.8 1198.6 975.8 1198.7 972.8 1198.9 1046.2 1199.1 989.4 1199.2 977.3 1199.4 997.6 1199.6 1017.5 1199.7 1050.1 1199.9 987.3 1200 981.3 1200.2 970.6 1200.4 987.4 1200.5 985.5 1200.7 986.9 1200.8 989.5 1201 991.5 1201.2 988.6 1201.3 996.9 1201.5 990.2 1201.6 1025.8 1201.8 999 1201.9 1054.7 1202.1 981.8 1202.2 992.8 1202.4 978.6 1202.5 1000.8 1202.7 986.5 1202.8 983.2 1203 999.5 1203.1 995.7 1203.3 1005.6 1203.4 986.3 1203.6 1002.3 1203.7 980.4 1203.8 992.6 1204 1008.2 1204.1 1042.4 1204.3 1019.2 1204.4 981.7 1204.6 1056.1 1204.7 989.6 1204.8 1023.5 1205 1004.9 1205.1 1005.1 1205.2 1005.9 1205.4 1019.6 1205.5 988.5 1205.7 990.1 1205.8 1023.3 1205.9 1014.6 1206.1 990.9 1206.2 981.1 1206.3 996.9 1206.5 980.3 1206.6 979 1206.7 985.7 1206.9 995.1 1207 994.3 1207.1 1056.7 1207.3 987.1 1207.4 1004.6 1207.5 998.3 1207.6 1012.4 1207.8 995.1 1207.9 976.3 1208 1000.6 1208.1 997.2 1208.3 996.7 1208.4 994.9 1208.5 995.5 1208.6 972.2 1208.8 980.9 1208.9 1027 1209 993.8 1209.1 989 1209.3 1002.8 1209.4 991.3 1209.5 995.6 1209.6 987.5 1209.7 998 1209.9 981.7 1210 978.8 1210.1 977.5 1210.2 1003.1 1210.3 995.9 1210.5 1001.4 1210.6 994 1210.7 1002.5 1210.8 1015.9 1210.9 1004.9 1211 997.4 1211.2 1004.3 1211.3 987.1 1211.4 995.3 1211.5 990.5 1211.6 1036.1 1211.7 993.1 1211.8 1011.8 1212 986.1 1212.1 994.2 1212.2 979.6 1212.3 982.6 1212.4 984.1 1212.5 1004.1 1212.6 1006 1212.7 980.8 1212.8 1001.1 1213 979.6 1213.1 980.4 1213.2 981.9 1213.3 1013.3 1213.4 1002.6 1213.5 1059.8 1213.6 976.9 1213.7 988 1213.8 999.8 1213.9 1004.9 1214 1035.8 1214.1 1020.5 1214.2 1024.5 1214.3 989.1 1214.5 998.3 1214.6 984.4 1214.7 1007.3 1214.8 998.9 1214.9 989.4 1215 996.9 1215.1 985.9 1215.2 992.6 1215.3 986.5 1215.4 1018.1 1215.5 1000.2 1215.6 1013.7 1215.7 1001.6 1215.8 1019.3 1215.9 1003.9 1216 1027.9 1216.1 1003.6 1216.2 984 1216.3 1006.5 1216.4 998.4 1216.5 988.6 1216.6 1017.1 1216.7 1006.6 1216.8 1020.9 1216.9 1016.3 1217 997.3 1217.1 988.5 1217.2 992.9 1217.3 992.2 1217.4 992.4 1217.4 990.9 1217.5 989.1 1217.6 986.8 1217.7 995.9 1217.8 997.7 1217.9 998.2 1218 1052.5 1218.1 1008.9 1218.2 992.9 1218.3 1000.1 1218.4 1012.1 1218.5 1020.9 1218.6 1020.8 1218.7 1017.1 1218.8 1015.6 1218.9 1031 1218.9 1025.5 1219 1011.8 1219.1 997.9 1219.2 980.2 1219.3 1009.7 1219.4 998.7 1219.5 1012 1219.6 1001.9 1219.7 1021.6 1219.8 1008 1219.8 997.3 1219.9 1060.2 1220 990.8 1220.1 999.6 1220.2 999.1 1220.3 1006.8 1220.4 1013.2 1220.5 1027.8 1220.5 1012.2 1220.6 1019.1 1220.7 1041.4 1220.8 1058.2 1220.9 1015.5 1221 1012.4 1221.1 1008.8 1221.2 994.1 1221.2 1015.4 1221.3 1036.6 1221.4 1002.6 1221.5 1021.4 1221.6 1033.6 1221.7 994.5 1221.7 1006.1 1221.8 1008.3 1221.9 1006.9 1222 1017.1 1222.1 995 1222.2 998.6 1222.2 1010.8 1222.3 1002.3 1222.4 999.8 1222.5 1008.9 1222.6 1012.8 1222.7 1042.9 1222.7 1004 1222.8 1013.7 1222.9 1061.1 1223 1012.7 1223.1 997.9 1223.1 992.4 1223.2 981.6 1223.3 997.7 1223.4 986 1223.5 997.5 1223.5 984 1223.6 990.2 1223.7 1001.5 1223.8 1030.1 1223.9 1005.8 1223.9 991.4 1224 1004.1 1224.1 1007.6 1224.2 999.2 1224.3 1007.4 1224.3 1012.7 1224.4 1008.4 1224.5 1022.8 1224.6 1023.7 1224.6 1023.6 1224.7 992.4 1224.8 1002.6 1224.9 1013 1224.9 1002.7 1225 1018.3 1225.1 988 1225.2 999.4 1225.3 1005.1 1225.3 1028.6 1225.4 1014.9 1225.5 997.6 1225.6 1003.5 1225.6 1012.5 1225.7 1043.3 1225.8 1028.9 1225.9 1058.2 1225.9 980.1 1226 997.3 1226.1 996.4 1226.1 1014.1 1226.2 991.4 1226.3 1032.9 1226.4 1026.3 1226.4 1013.6 1226.5 1032.3 1226.6 1036.6 1226.7 1020.3 1226.7 985.5 1226.8 997.7 1226.9 982.2 1226.9 1003 1227 985.7 1227.1 1005.3 1227.2 1025.7 1227.2 1010.9 1227.3 994.8 1227.4 992.7 1227.4 1004.2 1227.5 1024.6 1227.6 1009.5 1227.7 1028.2 1227.7 990.6 1227.8 981.6 1227.9 986.6 1227.9 998.5 1228 1027.1 1228.1 1014.5 1228.2 1001.8 1228.2 1010.3 1228.3 1037.4 1228.4 991.8 1228.4 1011.4 1228.5 987.6 1228.6 1005.2 1228.6 988.6 1228.7 1005.3 1228.8 983.9 1228.8 995.4 1228.9 1018.5 1229 997.4 1229 1004.8 1229.1 988.4 1229.2 1005.5 1229.2 1011.3 1229.3 1024.5 1229.4 1054.7 1229.4 992.4 1229.5 1008.8 1229.6 1030.3 1229.6 1010.4 1229.7 1010.9 1229.8 992.6 1229.8 1004.5 1229.9 997.9 1230 1002.3 1230 1035 1230.1 989.2 1230.2 993 1230.2 1069.6 1230.3 1017.8 1230.4 1023.4 1230.4 1067.7 1230.5 1038.3 1230.6 1002.6 1230.6 994.5 1230.7 995.1 1230.8 1024.8 1230.8 1001.8 1230.9 1010.8 1230.9 1024.1 1231 1000.4 1231.1 1010.5 1231.1 1004.7 1231.2 1013.9 1231.3 1003.1 1231.3 1026.6 1231.4 1037.4 1231.5 1016.9 1231.5 996.2 1231.6 1001.4 1231.6 1027.8 1231.7 995.9 1231.8 1006.9 1231.8 1006.6 1231.9 999.4 1231.9 995.1 1232 986.5 1232.1 1002.9 1232.1 1030.5 1232.2 998.6 1232.3 1071.3 1232.3 987.6 1232.4 1022.5 1232.4 1010.8 1232.5 1018.2 1232.6 987.1 1232.6 996.6 1232.7 1045.2 1232.7 995.1 1232.8 1005 1232.9 992.3 1232.9 989.4 1233 1027 1233 1001.2 1233.1 992.7 1233.2 1021.3 1233.2 994.8 1233.3 984 1233.3 1006.4 1233.4 996.4 1233.5 996.4 1233.5 1076.5 1233.6 983.7 1233.6 1028.6 1233.7 1028.1 1233.8 1042.4 1233.8 1006.2 1233.9 1033.4 1233.9 997 1234 996.1 1234 1001.5 1234.1 1001.6 1234.2 1029 1234.2 1012.9 1234.3 987.7 1234.3 1004.1 1234.4 1005.3 1234.5 1019.1 1234.5 1006.7 1234.6 998.4 1234.6 1018.8 1234.7 1034.6 1234.7 1020.9 1234.8 999.3 1234.9 1001.9 1234.9 1065.3 1235 1013.7 1235 1015.4 1235.1 1024.2 1235.1 1014 1235.2 1024.4 1235.2 1009.4 1235.3 1040.5 1235.4 1030.4 1235.4 1033.9 1235.5 996.5 1235.5 988.9 1235.6 1031.7 1235.6 992 1235.7 991.4 1235.8 995.1 1235.8 994.8 1235.9 990 1235.9 1051.4 1236 997.6 1236 995.7 1236.1 1019.2 1236.1 1006.4 1236.2 997.9 1236.2 1011.6 1236.3 990.3 1236.4 1010.3 1236.4 1024.3 1236.5 1066.7 1236.5 1008.5 1236.6 1031.5 1236.6 1032.9 1236.7 1006.2 1236.7 1011.7 1236.8 1037.5 1236.8 1019.6 1236.9 1015.1 1236.9 1023.3 1237 1009.1 1237.1 998.8 1237.1 1029 1237.2 1008.2 1237.2 998.1 1237.3 1010.9 1237.3 1002.4 1237.4 986.3 1237.4 986.9 1237.5 1019 1237.5 1000.2 1237.6 1027.3 1237.6 1030.6 1237.7 1009.8 1237.7 1002.1 1237.8 1010.4 1237.8 993.4 1237.9 1025.3 1237.9 1008.5 1238 993.5 1238 1008.6 1238.1 1025.4 1238.1 1036 1238.2 1020.9 1238.3 993.1 1238.3 1018.2 1238.4 1017.3 1238.4 1013.1 1238.5 1004.3 1238.5 1002.6 1238.6 1008.2 1238.6 997.7 1238.7 1008.6 1238.7 1007 1238.8 1003.7 1238.8 1007 1238.9 1009.7 1238.9 1019.3 1239 1015.4 1239 1022.5 1239.1 1027.7 1239.1 1022 1239.2 1005.5 1239.3 1014.8 1239.4 1001.3 1239.5 1009 1239.6 1008.8 1239.7 1000.4 1239.8 1004.2 1239.9 1031.6 1240 1027.6 1240.1 1020.1 1240.2 1008.1 1240.3 1019.6 1240.4 1020.8 1240.5 997.5 1240.6 1018.3 1240.7 1034.8 1240.8 1017.7 1240.9 1020.7 1241 994 1241.1 1001.3 1241.1 995 1241.2 1025.8 1241.3 1014.9 1241.4 1009.2 1241.5 1005.4 1241.6 986.6 1241.7 1014.7 1241.8 1016.6 1241.9 1007.3 1242 1017 1242.1 1028.7 1242.2 1074.1 1242.3 1069.7 1242.4 1002.4 1242.4 1007.1 1242.5 996.2 1242.6 1029.9 1242.7 1023.2 1242.8 997.7 1242.9 987.1 1243 1000.8 1243.1 1006.2 1243.2 1022.3 1243.2 1035.6 1243.3 1056 1243.4 1028.6 1243.5 1010.9 1243.6 1021.2 1243.7 1012.4 1243.8 1039.9 1243.9 1008.8 1243.9 1014.2 1244 1003.7 1244.1 1024 1244.2 1019.7 1244.3 999.4 1244.4 1001.3 1244.5 1005.1 1244.5 998 1244.6 1051.1 1244.7 987.7 1244.8 1013.2 1244.9 1011.9 1245 1029.8 1245.1 1027.6 1245.1 1004.8 1245.2 1008 1245.3 1004.4 1245.4 1014.2 1245.5 1005.4 1245.6 1006.2 1245.6 1036.3 1245.7 1035.9 1245.8 1014.1 1245.9 1004.4 1246 1011.5 1246 1006.3 1246.1 1014 1246.2 986.4 1246.3 994 1246.4 1036.1 1246.4 1081 1246.5 1025.3 1246.6 1015.6 1246.7 1006.8 1246.8 999.1 1246.8 1022.4 1246.9 1021.5 1247 1020.7 1247.1 1006.2 1247.2 1003.9 1247.2 997.1 1247.3 1003 1247.4 1009.8 1247.5 1020.2 1247.6 1028.7 1247.6 997.8 1247.7 1041.1 1247.8 996.6 1247.9 1017.7 1247.9 1017.9 1248 997.3 1248.1 1023.1 1248.2 1010.6 1248.2 990.2 1248.3 1052.4 1248.4 1002.5 1248.5 1008.3 1248.5 1012.8 1248.6 991 1248.7 1018.7 1248.8 1028.5 1248.8 1017 1248.9 1020.6 1249 992.9 1249.1 1002 1249.1 1006.8 1249.2 1037.2 1249.3 1012.5 1249.4 1027.9 1249.4 1022.4 1249.5 1003.5 1249.6 1028 1249.7 1020.5 1249.7 1004.6 1249.8 1034 1249.9 1017.3 1249.9 1024.2 1250 1018 1250.1 1005.2 1250.2 1008.4 1250.2 1037 1250.3 1016.7 1250.4 1012.2 1250.5 1010 1250.5 1019 1250.6 1007.9 1250.7 1013.1 1250.7 1038 1250.8 1019.6 1250.9 1012.9 1250.9 1024.9 1251 1055.7 1251.1 1094.4 1251.2 989.1" stroke="#0000ff" stroke-width="1" fill="none" stroke-linejoin="round" clip-path="url(#fftc3)"/>
<polyline points="1020.7,908.9 1022.6,909 1024.6,909 1026.5,909.1 1028.4,909.2 1030.4,909.3 1032.3,909.4 1034.3,909.5 1036.2,909.6 1038.1,909.8 1040.1,909.9 1042,910.1 1043.9,910.3 1045.9,910.5 1047.8,910.7 1049.7,911 1051.7,911.2 1053.6,911.5 1055.6,911.9 1057.5,912.2 1059.4,912.6 1061.4,913 1063.3,913.5 1065.2,914 1067.2,914.5 1069.1,915.1 1071,915.7 1073,916.3 1074.9,917 1076.8,917.8 1078.8,918.5 1080.7,919.3 1082.7,920.2 1084.6,921 1086.5,921.9 1088.5,922.9 1090.4,923.9 1092.3,924.9 1094.3,925.9 1096.2,927 1098.1,928.1 1100.1,929.2 1102,930.3 1104,931.5 1105.9,932.6 1107.8,933.8 1109.8,935 1111.7,936.2 1113.6,937.5 1115.6,938.7 1117.5,940 1119.4,941.3 1121.4,942.5 1123.3,943.8 1125.3,945.1 1127.2,946.4 1129.1,947.7 1131.1,949 1133,950.3 1134.9,951.6 1136.9,953 1138.8,954.3 1140.7,955.6 1142.7,956.9 1144.6,958.3 1146.5,959.6 1148.5,960.9 1150.4,962.3 1152.4,963.6 1154.3,965 1156.2,966.3 1158.2,967.7 1160.1,969 1162,970.3 1164,971.7 1165.9,973 1167.8,974.4 1169.8,975.7 1171.7,977.1 1173.7,978.4 1175.6,979.8 1177.5,981.1 1179.5,982.5 1181.4,983.8 1183.3,985.2 1185.3,986.5 1187.2,987.9 1189.1,989.2 1191.1,990.6 1193,991.9 1195,993.3 1196.9,994.6 1198.8,996 1200.8,997.3 1202.7,998.7 1204.6,1000.1 1206.6,1001.4 1208.5,1002.8 1210.4,1004.1 1212.4,1005.5 1214.3,1006.8 1216.2,1008.2 1218.2,1009.5 1220.1,1010.9 1222.1,1012.2 1224,1013.6 1225.9,1014.9 1227.9,1016.3 1229.8,1017.6 1231.7,1019 1233.7,1020.3 1235.6,1021.7 1237.5,1023 1239.5,1024.4 1241.4,1025.8 1243.4,1027.1 1245.3,1028.5 1247.2,1029.8 1249.2,1031.2 1251.1,1032.5" fill="none" stroke="#00ffff" stroke-width="2.8" stroke-linejoin="round" clip-path="url(#fftc3)"/>
<path d="M1018.2 1109H1020.7M1251.1 1109H1249.1M1018.2 1107.4H1020.7M1251.1 1107.4H1249.1M1018.2 1106H1020.7M1251.1 1106H1249.1M1016.2 1104.8H1020.7M1247.6 1104.8H1251.1M1018.2 1096.7H1020.7M1251.1 1096.7H1249.1M1018.2 1092H1020.7M1251.1 1092H1249.1M1018.2 1088.6H1020.7M1251.1 1088.6H1249.1M1018.2 1086H1020.7M1251.1 1086H1249.1M1018.2 1083.9H1020.7M1251.1 1083.9H1249.1M1018.2 1082.1H1020.7M1251.1 1082.1H1249.1M1018.2 1080.5H1020.7M1251.1 1080.5H1249.1M1018.2 1079.1H1020.7M1251.1 1079.1H1249.1M1016.2 1077.9H1020.7M1247.6 1077.9H1251.1M1018.2 1069.8H1020.7M1251.1 1069.8H1249.1M1018.2 1065.1H1020.7M1251.1 1065.1H1249.1M1018.2 1061.7H1020.7M1251.1 1061.7H1249.1M1018.2 1059.1H1020.7M1251.1 1059.1H1249.1M1018.2 1057H1020.7M1251.1 1057H1249.1M1018.2 1055.2H1020.7M1251.1 1055.2H1249.1M1018.2 1053.6H1020.7M1251.1 1053.6H1249.1M1018.2 1052.2H1020.7M1251.1 1052.2H1249.1M1016.2 1051H1020.7M1247.6 1051H1251.1M1018.2 1042.9H1020.7M1251.1 1042.9H1249.1M1018.2 1038.2H1020.7M1251.1 1038.2H1249.1M1018.2 1034.8H1020.7M1251.1 1034.8H1249.1M1018.2 1032.2H1020.7M1251.1 1032.2H1249.1M1018.2 1030.1H1020.7M1251.1 1030.1H1249.1M1018.2 1028.3H1020.7M1251.1 1028.3H1249.1M1018.2 1026.7H1020.7M1251.1 1026.7H1249.1M1018.2 1025.3H1020.7M1251.1 1025.3H1249.1M1016.2 1024.1H1020.7M1247.6 1024.1H1251.1M1018.2 1016H1020.7M1251.1 1016H1249.1M1018.2 1011.3H1020.7M1251.1 1011.3H1249.1M1018.2 1007.9H1020.7M1251.1 1007.9H1249.1M1018.2 1005.3H1020.7M1251.1 1005.3H1249.1M1018.2 1003.2H1020.7M1251.1 1003.2H1249.1M1018.2 1001.4H1020.7M1251.1 1001.4H1249.1M1018.2 999.8H1020.7M1251.1 999.8H1249.1M1018.2 998.4H1020.7M1251.1 998.4H1249.1M1016.2 997.2H1020.7M1247.6 997.2H1251.1M1018.2 989.1H1020.7M1251.1 989.1H1249.1M1018.2 984.4H1020.7M1251.1 984.4H1249.1M1018.2 981H1020.7M1251.1 981H1249.1M1018.2 978.4H1020.7M1251.1 978.4H1249.1M1018.2 976.3H1020.7M1251.1 976.3H1249.1M1018.2 974.5H1020.7M1251.1 974.5H1249.1M1018.2 972.9H1020.7M1251.1 972.9H1249.1M1018.2 971.5H1020.7M1251.1 971.5H1249.1M1016.2 970.3H1020.7M1247.6 970.3H1251.1M1018.2 962.2H1020.7M1251.1 962.2H1249.1M1018.2 957.5H1020.7M1251.1 957.5H1249.1M1018.2 954.1H1020.7M1251.1 954.1H1249.1M1018.2 951.5H1020.7M1251.1 951.5H1249.1M1018.2 949.4H1020.7M1251.1 949.4H1249.1M1018.2 947.6H1020.7M1251.1 947.6H1249.1M1018.2 946H1020.7M1251.1 946H1249.1M1018.2 944.6H1020.7M1251.1 944.6H1249.1M1016.2 943.4H1020.7M1247.6 943.4H1251.1M1018.2 935.3H1020.7M1251.1 935.3H1249.1M1018.2 930.6H1020.7M1251.1 930.6H1249.1M1018.2 927.2H1020.7M1251.1 927.2H1249.1M1018.2 924.6H1020.7M1251.1 924.6H1249.1M1018.2 922.5H1020.7M1251.1 922.5H1249.1M1018.2 920.7H1020.7M1251.1 920.7H1249.1M1018.2 919.1H1020.7M1251.1 919.1H1249.1M1018.2 917.7H1020.7M1251.1 917.7H1249.1M1016.2 916.5H1020.7M1247.6 916.5H1251.1M1018.2 908.4H1020.7M1251.1 908.4H1249.1M1018.2 903.7H1020.7M1251.1 903.7H1249.1M1018.2 900.3H1020.7M1251.1 900.3H1249.1M1018.2 897.7H1020.7M1251.1 897.7H1249.1M1018.2 895.6H1020.7M1251.1 895.6H1249.1M1018.2 893.8H1020.7M1251.1 893.8H1249.1M1018.2 892.2H1020.7M1251.1 892.2H1249.1M1018.2 890.8H1020.7M1251.1 890.8H1249.1M1016.2 889.6H1020.7M1247.6 889.6H1251.1M1018.2 881.5H1020.7M1251.1 881.5H1249.1M1030.1 1110.6V1113.1M1030.1 879.6V881.6M1043.6 1110.6V1113.1M1043.6 879.6V881.6M1053.3 1110.6V1113.1M1053.3 879.6V881.6M1060.7 1110.6V1113.1M1060.7 879.6V881.6M1066.8 1110.6V1113.1M1066.8 879.6V881.6M1072 1110.6V1113.1M1072 879.6V881.6M1076.4 1110.6V1113.1M1076.4 879.6V881.6M1080.4 1110.6V1113.1M1080.4 879.6V881.6M1083.9 1115.1V1110.6M1083.9 879.6V883.1M1107.1 1110.6V1113.1M1107.1 879.6V881.6M1120.6 1110.6V1113.1M1120.6 879.6V881.6M1130.3 1110.6V1113.1M1130.3 879.6V881.6M1137.7 1110.6V1113.1M1137.7 879.6V881.6M1143.8 1110.6V1113.1M1143.8 879.6V881.6M1149 1110.6V1113.1M1149 879.6V881.6M1153.4 1110.6V1113.1M1153.4 879.6V881.6M1157.4 1110.6V1113.1M1157.4 879.6V881.6M1160.9 1115.1V1110.6M1160.9 879.6V883.1M1184.1 1110.6V1113.1M1184.1 879.6V881.6M1197.6 1110.6V1113.1M1197.6 879.6V881.6M1207.3 1110.6V1113.1M1207.3 879.6V881.6M1214.7 1110.6V1113.1M1214.7 879.6V881.6M1220.8 1110.6V1113.1M1220.8 879.6V881.6M1226 1110.6V1113.1M1226 879.6V881.6M1230.4 1110.6V1113.1M1230.4 879.6V881.6M1234.4 1110.6V1113.1M1234.4 879.6V881.6M1237.9 1115.1V1110.6M1237.9 879.6V883.1" stroke="#222" stroke-width="1" fill="none"/>
<rect x="1020.7" y="879.6" width="230.4" height="231" fill="none" stroke="#222" stroke-width="1.4"/>
<text x="1013.7" y="898.4" style="font-family:'Liberation Serif',serif;font-size:23px" text-anchor="end">10<tspan font-size="14.5" dy="-11">5</tspan></text>
<text x="1013.7" y="979.1" style="font-family:'Liberation Serif',serif;font-size:23px" text-anchor="end">10<tspan font-size="14.5" dy="-11">2</tspan></text>
<text x="1013.7" y="1059.8" style="font-family:'Liberation Serif',serif;font-size:23px" text-anchor="end">10<tspan font-size="14.5" dy="-11">-1</tspan></text>
<text x="1085.4" y="1143.3" style="font-family:'Liberation Serif',serif;font-size:23px" text-anchor="middle">10<tspan font-size="14.5" dy="-11">-4</tspan></text>
<text x="1162.4" y="1143.3" style="font-family:'Liberation Serif',serif;font-size:23px" text-anchor="middle">10<tspan font-size="14.5" dy="-11">-3</tspan></text>
<text x="1239.4" y="1143.3" style="font-family:'Liberation Serif',serif;font-size:23px" text-anchor="middle">10<tspan font-size="14.5" dy="-11">-2</tspan></text>
<text transform="translate(958,995.5) rotate(-90)" style="font-family:'Liberation Sans',sans-serif;font-size:24.5px" text-anchor="middle">Magnitude (a.u.)</text>
<path d="M1174 240V287M1186.5 244V287M1185.6 515V557" stroke="#3a3aff" stroke-width="1" fill="none"/>
<line x1="1083.3" y1="56.5" x2="1083.3" y2="237.3" stroke="#000" stroke-width="2" stroke-dasharray="6.3 3.4"/>
<text x="1062" y="271.4" style="font-family:'DejaVu Serif',serif;font-size:24px;letter-spacing:1.5px">1/<tspan font-style="italic">t</tspan><tspan font-size="18" dy="4">c</tspan></text>
<text transform="translate(1168,150) rotate(35.9)" style="font-family:'DejaVu Serif',serif;font-size:27px;letter-spacing:2px" text-anchor="middle">1/<tspan font-style="italic">f</tspan><tspan font-size="18" dy="-11" dx="2">2</tspan></text>
<text transform="translate(918.5,33.6) scale(0.87,1)" style="font-family:'DejaVu Sans Condensed','DejaVu Sans',sans-serif;font-size:40px;font-weight:bold">b</text>
<text x="1146.5" y="1176" style="font-family:'Liberation Sans',sans-serif;font-size:24.5px" text-anchor="middle">Frequency (Hz)</text>
<polyline points="1347.7,162.5 1348.1,159.6 1348.6,158.1 1349,156.6 1349.5,155.1 1349.9,152.4 1350.4,151 1350.8,150 1351.3,150.5 1351.7,150.8 1352.2,149.5 1352.6,148.5 1353.1,148.8 1353.5,151.3 1354,151.2 1354.4,150 1354.9,151.5 1355.3,151.6 1355.8,152.5 1356.2,153.4 1356.7,154.8 1357.1,158.5 1357.6,161 1358,163.2 1358.5,166.6 1358.9,167.2 1359.4,163.6 1359.8,162.4 1360.3,160.2 1360.7,158.9 1361.2,158.2 1361.6,160 1362.1,161.1 1362.5,161.8 1363,162 1363.4,164.1 1363.9,165.6 1364.3,167.2 1364.8,170.4 1365.2,171.5 1365.7,175.2 1366.1,177.1 1366.6,175.7 1367,176.3 1367.5,174.8 1367.9,174.9 1368.4,174.4 1368.8,171.2 1369.3,170 1369.7,168 1370.2,166.8 1370.6,163 1371.1,161 1371.5,156.2 1372,153 1372.4,149 1372.9,147.2 1373.3,143.7 1373.8,142 1374.2,137.8 1374.7,134.5 1375.1,131.3 1375.6,131.1 1376,132.6 1376.5,135.2 1376.9,135.4 1377.4,136.8 1377.8,135.4 1378.3,134.5 1378.7,132.5 1379.2,131.1 1379.6,130.2 1380.1,129.5 1380.5,128 1381,128.6 1381.4,126.4 1381.9,126.2 1382.3,128.1 1382.8,131.9 1383.2,133.3 1383.7,134.7 1384.1,136.8 1384.6,141.1 1385,143.4 1385.5,146.1 1385.9,150.7 1386.4,152.1 1386.8,154.3 1387.3,156.5 1387.7,158 1388.2,160.1 1388.6,164.2 1389.1,166.6 1389.5,169.3 1390,172.2 1390.4,176.9 1390.9,177.4 1391.3,177.1 1391.8,175.7 1392.2,174.7 1392.7,173.6 1393.1,172.1 1393.6,171 1394,169 1394.5,167.7 1394.9,171.9 1395.4,174.1 1395.8,175.2 1396.3,180.4 1396.7,182.9 1397.2,184.4 1397.6,183.8 1398.1,181.6 1398.5,179.1 1399,177.2 1399.4,175.2 1399.9,174.8 1400.3,174.7 1400.8,172.7 1401.2,172 1401.7,173.3 1402.1,174 1402.6,177.6 1403,180.2 1403.5,182.5 1403.9,184.4 1404.4,186.1 1404.8,187.6 1405.3,187.8 1405.7,189 1406.2,191.5 1406.6,194 1407.1,197.1 1407.5,199.6 1408,202.3 1408.4,204.8 1408.9,204.7 1409.3,204.8 1409.8,205.8 1410.2,205.3 1410.7,206.1 1411.1,207.7 1411.6,208.5 1412,210 1412.5,209.6 1412.9,209.2 1413.4,212.7 1413.8,213.7 1414.3,213.1 1414.7,215.8 1415.2,216.2 1415.6,215.6 1416.1,217.5 1416.5,218.7 1417,221.3 1417.4,218 1417.9,216.2 1418.3,214.4 1418.8,212.6 1419.2,210.3 1419.7,209.3 1420.1,208.4 1420.6,206.5 1421,203.4 1421.5,201.1 1421.9,200.2 1422.4,197.9 1422.8,196.6 1423.3,194.5 1423.7,196.1 1424.2,194.7 1424.6,191.9 1425.1,191.9 1425.5,191.3 1426,186.2 1426.4,183.9 1426.9,181.1 1427.3,179 1427.8,178.6 1428.2,180.3 1428.7,182.3 1429.1,185.7 1429.6,188.2 1430,188.1 1430.5,186.8 1430.9,188.4 1431.4,185 1431.8,183.6 1432.3,182.9 1432.7,181.4 1433.2,179.9 1433.6,177.4 1434.1,174.2 1434.5,172.9 1435,170.8 1435.4,170.1 1435.9,165.8 1436.3,160.5 1436.8,156.5 1437.2,154.6 1437.7,149.6 1438.1,144.1 1438.6,141.1 1439,138.1 1439.5,136.5 1439.9,132.3 1440.4,130.6 1440.8,128.3 1441.3,124.8 1441.7,123.1 1442.2,122.9 1442.6,121.5 1443.1,119.1 1443.5,116.7 1444,115.4 1444.4,112.7 1444.9,110.7 1445.3,108.2 1445.8,107.4 1446.2,106.3 1446.7,107.5 1447.1,104.6 1447.6,104.2 1448,103.8 1448.5,102.3 1448.9,102.9 1449.4,100 1449.8,101 1450.3,101.6 1450.7,98.9 1451.2,100.6 1451.6,106.8 1452.1,110.4 1452.5,113.9 1453,118.5 1453.4,123.9 1453.9,131.7 1454.3,138.5 1454.8,144.6 1455.2,150.9 1455.7,157.8 1456.1,165.3 1456.6,171.1 1457,177.5 1457.5,183.2 1457.9,185.3 1458.4,187.2 1458.8,190.1 1459.3,191.7 1459.7,192.5 1460.2,193.5 1460.6,197.6 1461.1,202.8 1461.5,208 1462,213.3 1462.4,219 1462.9,224.4 1463.3,230.1 1463.8,235.2 1464.2,240.5 1464.7,245.1 1465.1,249 1465.6,254 1466,259.5 1466.5,264 1466.9,269.7 1467.4,272.9 1467.8,273 1468.3,273.4 1468.7,277 1469.2,278.1 1469.6,280 1470.1,276.2 1470.5,275.2 1471,271.8 1471.4,267.9 1471.9,264.4 1472.3,261.6 1472.8,260.8 1473.2,262.9 1473.7,264.5 1474.1,268.5 1474.6,270.1 1475,272.3 1475.5,269.6 1475.9,261.8 1476.4,257.8 1476.8,251.7 1477.3,245.8 1477.7,242.7 1478.2,239.6 1478.6,238.5 1479.1,235.1 1479.5,232.3 1480,229.9 1480.4,228.3 1480.9,225.7 1481.3,220.3 1481.8,214.8 1482.2,212.2 1482.7,206.4 1483.1,203.2 1483.6,197.6 1484,192 1484.5,186.9 1484.9,182.8 1485.4,180.1 1485.8,177.1 1486.3,175.6 1486.7,174.5 1487.2,170.6 1487.6,166.2 1488.1,162.4 1488.5,158.5 1489,155.4 1489.4,151.9 1489.9,148.6 1490.3,147.3 1490.8,142.4 1491.2,140.2 1491.7,140.3 1492.1,137.5 1492.6,134.4 1493,133.5 1493.5,135.7 1493.9,136.2 1494.4,136.8 1494.8,136.8 1495.3,138.7 1495.7,139.5 1496.2,140.6 1496.6,141.4 1497.1,142.9 1497.5,143.7 1498,145.5 1498.4,146.6 1498.9,153.9 1499.3,162.5 1499.8,168.2 1500.2,175.6 1500.7,181.4 1501.1,185.6 1501.6,189.2 1502,191.5 1502.5,196 1502.9,200.3 1503.4,203.8 1503.8,209 1504.3,213 1504.7,217 1505.2,222.4 1505.6,226.1 1506.1,229.2 1506.5,232.5 1507,236.3 1507.4,242.1 1507.9,248.3 1508.3,254.8 1508.8,260.7 1509.2,261.5 1509.7,260.9 1510.1,259.9 1510.6,258.2 1511,257.1 1511.5,260.4 1511.9,262.7 1512.4,265.4 1512.8,266 1513.3,268 1513.7,272.2 1514.2,267.3 1514.6,262.9 1515.1,257.2 1515.5,251.4 1516,246.3 1516.4,242.8 1516.9,242.1 1517.3,239.1 1517.8,237.5 1518.2,235.5 1518.7,234.2 1519.1,233.4 1519.6,231 1520,229.5 1520.5,225.9 1520.9,220.8 1521.4,217.2 1521.8,210.5 1522.3,206.1 1522.7,201.4 1523.2,197.2 1523.6,193.2 1524.1,187.7 1524.5,184.4 1525,182.8 1525.4,178.9 1525.9,176.8 1526.3,174.1 1526.8,172.5 1527.2,166.4 1527.7,162.4 1528.1,155.2 1528.6,148 1529,144.4 1529.5,138.3 1529.9,135.2 1530.4,132.7 1530.8,129.5 1531.3,127 1531.7,125.4 1532.2,123.3 1532.6,121.2 1533.1,118.8 1533.5,116.1 1534,114.5 1534.4,115.2 1534.9,115.4 1535.3,113.7 1535.8,113 1536.2,113.9 1536.7,113.5 1537.1,113.9 1537.6,112.9 1538,113.9 1538.5,114.6 1538.9,115.8 1539.4,113 1539.8,113.5 1540.3,111.6 1540.7,110 1541.2,107.1 1541.6,106.1 1542.1,106.6 1542.5,104 1543,107.8 1543.4,112 1543.9,114.7 1544.3,119.3 1544.8,120.6 1545.2,123.5 1545.7,125 1546.1,126.5 1546.6,129.7 1547,130.9 1547.5,132.9 1547.9,132.7 1548.4,134.5 1548.8,137.4 1549.3,138.6 1549.7,138.8 1550.2,140.2 1550.6,139.8 1551.1,141.7 1551.5,143 1552,146.2 1552.4,148 1552.9,150 1553.3,152.8 1553.8,156.6 1554.2,156.9 1554.7,159 1555.1,162.6 1555.6,164.3 1556,168.9 1556.5,171 1556.9,173.7 1557.4,176.8 1557.8,181 1558.3,181.3 1558.7,180.5 1559.2,179.7 1559.6,177.7 1560.1,177.3 1560.5,178.8 1561,178.4 1561.4,178.6 1561.9,179.1 1562.3,178.6 1562.8,179.5 1563.2,178.1 1563.7,176.4 1564.1,173.3 1564.6,171 1565,169.1 1565.5,166.5 1565.9,165.4 1566.4,163.6 1566.8,161.7 1567.3,160.7 1567.7,156.8 1568.2,154.4 1568.6,154 1569.1,151.5 1569.5,149.4 1570,145.5 1570.4,142.2 1570.9,137.9 1571.3,136.6 1571.8,134.6 1572.2,130.9 1572.7,128.5 1573.1,126.5 1573.6,123.8 1574,118.1 1574.5,116.8 1574.9,114.3 1575.4,111.8 1575.8,110.7 1576.3,109.6 1576.7,107.1 1577.2,106.7 1577.6,103.9 1578.1,100.1 1578.5,97.8 1579,95.8 1579.4,90.6 1579.9,90.6 1580.3,92.7 1580.8,97.8 1581.2,99 1581.7,101.1 1582.1,103.5 1582.6,106.4 1583,108.6 1583.5,113.3 1583.9,116.9 1584.4,117.1 1584.8,119.2 1585.3,121.3 1585.7,123.8 1586.2,126.1 1586.6,131.9 1587.1,137.2 1587.5,142 1588,147.2 1588.4,149.5 1588.9,150.4 1589.3,152.7 1589.8,153.2 1590.2,153.8 1590.7,153.3 1591.1,154.7 1591.6,158.5 1592,160.5 1592.5,161.9 1592.9,163.2 1593.4,163.3 1593.8,165.9 1594.3,168 1594.7,169.9 1595.2,170 1595.6,170.7 1596.1,170.8 1596.5,168.9 1597,166.1 1597.4,160.8 1597.9,157.5 1598.3,154.2 1598.8,152.3 1599.2,149.3 1599.7,149.2 1600.1,149 1600.6,146.4 1601,145.6 1601.5,142.8 1601.9,145.1 1602.4,144.4 1602.8,142.4 1603.3,139.4 1603.7,136.3 1604.2,134 1604.6,131.2 1605.1,129.3 1605.5,128.3 1606,127.4 1606.4,127.5 1606.9,124.2 1607.3,124.1 1607.8,122.7 1608.2,121.3 1608.7,119.3 1609.1,120.6 1609.6,119 1610,119.1 1610.5,122.7 1610.9,124.3 1611.4,127.6 1611.8,130.3 1612.3,133.6 1612.7,135.4 1613.2,133.8 1613.6,134.6 1614.1,133.8 1614.5,133.7 1615,132.5 1615.4,131.7 1615.9,128.8 1616.3,128.1 1616.8,127.6 1617.2,125.2 1617.7,128 1618.1,128.7 1618.6,131.5 1619,133.6 1619.5,137.7 1619.9,142.2 1620.4,147.5 1620.8,152.9 1621.3,157.4 1621.7,162.8 1622.2,167.7 1622.6,169.4 1623.1,174.8 1623.5,178.7 1624,180.3 1624.4,183.7 1624.9,184.7 1625.3,185.4 1625.8,186.6 1626.2,185.3 1626.7,187.8 1627.1,187.8 1627.6,189 1628,190 1628.5,192.5 1628.9,195.3 1629.4,196.6 1629.8,198.4 1630.3,199.3 1630.7,202.3 1631.2,205.3 1631.6,206.3 1632.1,211.4 1632.5,212.4 1633,214.2 1633.4,219 1633.9,222.5 1634.3,223.1 1634.8,225.3 1635.2,227.4 1635.7,222.3 1636.1,216.8 1636.6,214 1637,213.9 1637.5,211.6 1637.9,209.7 1638.4,208.3 1638.8,206.2 1639.3,204.5 1639.7,202.8 1640.2,203.7 1640.6,202.3 1641.1,202.5 1641.5,206.1 1642,207.8 1642.4,209.5 1642.9,211.6 1643.3,214.3 1643.8,213.5 1644.2,210.6 1644.7,210.3 1645.1,210.6 1645.6,209.2 1646,207 1646.5,205.8 1646.9,203.6 1647.4,203.4 1647.8,204.8 1648.3,203.6 1648.7,202.5 1649.2,202.2 1649.6,202.3 1650.1,202.1 1650.5,201.6 1651,200.9 1651.4,204.2 1651.9,207.7 1652.3,208.7 1652.8,210.8 1653.2,214.5 1653.7,210 1654.1,207.5 1654.6,205.1 1655,202.9 1655.5,200.1 1655.9,198 1656.4,197.4 1656.8,194.9 1657.3,192.7 1657.7,190.7 1658.2,191.4 1658.6,188.4 1659.1,185.9 1659.5,181.9 1660,177.7 1660.4,172.5 1660.9,168.3 1661.3,165.1 1661.8,161 1662.2,156.7 1662.7,155.1 1663.1,153 1663.6,154.2 1664,152.8 1664.5,151.1 1664.9,150.9 1665.4,150.9 1665.8,148.1 1666.3,147 1666.7,146 1667.2,146.1 1667.6,145.4 1668.1,143.4 1668.5,140.9 1669,139.1 1669.4,138.7 1669.9,138.7 1670.3,140.2 1670.8,141.1 1671.2,144.6 1671.7,146.9 1672.1,147.9 1672.6,149 1673,148.4 1673.5,146.7 1673.9,146.1 1674.4,147.8 1674.8,147.2 1675.3,147.7 1675.7,148.8 1676.2,149.8 1676.6,152.4 1677.1,155.5 1677.5,155.9 1678,153.8 1678.4,153.4 1678.9,152.5 1679.3,152.3 1679.8,152.4 1680.2,152.6 1680.7,150.7 1681.1,149.5 1681.6,149.3 1682,149 1682.5,148.2 1682.9,148.1 1683.4,147.9 1683.8,148.1 1684.3,150.4 1684.7,151.1 1685.2,150.7 1685.6,147.7 1686.1,143.1 1686.5,140.7 1687,136.1 1687.4,132.2 1687.9,129.7 1688.3,128.1 1688.8,127.5 1689.2,124.8 1689.7,124 1690.1,120.5 1690.6,120.6 1691,120.2 1691.5,118.8 1691.9,117.3 1692.4,116.8 1692.8,114.3 1693.3,113.4 1693.7,113.8 1694.2,114.4 1694.6,113.6 1695.1,112.7 1695.5,113.2 1696,113.7 1696.4,112.7 1696.9,111.4 1697.3,112.7 1697.8,112.9 1698.2,113.9 1698.7,114.4 1699.1,115.5 1699.6,117.5 1700,118.4 1700.5,119.2 1700.9,121.5 1701.4,121 1701.8,120.5 1702.3,120.7 1702.7,117.9 1703.2,116 1703.6,117.1 1704.1,117.7 1704.5,119.9 1705,122 1705.4,124.2 1705.9,125.2 1706.3,127.5 1706.8,128.9 1707.2,131.9 1707.7,134.5 1708.1,136.2 1708.6,136 1709,136.6 1709.5,132.3 1709.9,131.7 1710.4,130.5 1710.8,129.2 1711.3,126.2 1711.7,126.3 1712.2,125.3 1712.6,123.7 1713.1,122.5 1713.5,121.9 1714,121.7 1714.4,120.9 1714.9,122.1 1715.3,123.4 1715.8,126.8 1716.2,129.2 1716.7,133.2 1717.1,136.4 1717.6,140.2 1718,144 1718.5,148.7 1718.9,154.1 1719.4,158.1 1719.8,158.3 1720.3,157.1 1720.7,157.7 1721.2,158.6 1721.6,158.9 1722.1,159.2 1722.5,160.1 1723,160 1723.4,159.4 1723.9,159.1 1724.3,161.5 1724.8,162 1725.2,164.3 1725.7,166.3 1726.1,165 1726.6,165 1727,164.4 1727.5,165.6 1727.9,164.3 1728.4,161.6 1728.8,162.4 1729.3,160.4 1729.7,155.7 1730.2,151.2 1730.6,147.7 1731.1,143.6 1731.5,140.3 1732,136.9 1732.4,134.9 1732.9,131.7 1733.3,129.2 1733.8,128.6 1734.2,127.5 1734.7,127.1 1735.1,128.6 1735.6,126.7 1736,123 1736.5,118.9 1736.9,117 1737.4,113.9 1737.8,110.5 1738.3,110.9 1738.7,108.6 1739.2,107.5 1739.6,108 1740.1,104.5 1740.5,106.7 1741,109.4 1741.4,111.6 1741.9,113.8 1742.3,116.8 1742.8,120.7 1743.2,122.6 1743.7,124.2 1744.1,126.7 1744.6,129.7 1745,134.2 1745.5,138.4" fill="none" stroke="#000" stroke-width="1.25" stroke-linejoin="round" />
<path d="M1347.2 50.1V293.7H1745.9" stroke="#333" stroke-width="1.4" fill="none"/>
<path d="M1347.2 293.7V298.4M1391.5 293.7V296.5M1435.8 293.7V298.4M1480.1 293.7V296.5M1524.4 293.7V298.4M1568.7 293.7V296.5M1613 293.7V298.4M1657.3 293.7V296.5M1701.6 293.7V298.4M1745.9 293.7V296.5M1347.2 50.1H1342.7M1347.2 131.3H1342.7M1347.2 212.5H1342.7M1347.2 293.7H1342.7M1347.2 90.7H1344.6M1347.2 171.9H1344.6M1347.2 253.1H1344.6" stroke="#333" stroke-width="1.3" fill="none"/>
<text x="1340.2" y="58.1" style="font-family:'Liberation Serif',serif;font-size:24.5px;" text-anchor="end" >310</text>
<text x="1340.2" y="139.3" style="font-family:'Liberation Serif',serif;font-size:24.5px;" text-anchor="end" >300</text>
<text x="1340.2" y="220.5" style="font-family:'Liberation Serif',serif;font-size:24.5px;" text-anchor="end" >290</text>
<text x="1340.2" y="301.7" style="font-family:'Liberation Serif',serif;font-size:24.5px;" text-anchor="end" >280</text>
<text x="1347.2" y="320" style="font-family:'Liberation Serif',serif;font-size:24.5px;" text-anchor="middle" >0</text>
<text x="1435.8" y="320" style="font-family:'Liberation Serif',serif;font-size:24.5px;" text-anchor="middle" >2</text>
<text x="1524.4" y="320" style="font-family:'Liberation Serif',serif;font-size:24.5px;" text-anchor="middle" >4</text>
<text x="1613" y="320" style="font-family:'Liberation Serif',serif;font-size:24.5px;" text-anchor="middle" >6</text>
<text x="1701.6" y="320" style="font-family:'Liberation Serif',serif;font-size:24.5px;" text-anchor="middle" >8</text>
<text transform="translate(1294,173.9) rotate(-90)" style="font-family:'Liberation Sans',sans-serif;font-size:24.6px" text-anchor="middle">Population (phonons)</text>
<polyline points="1349.2,481.9 1349.7,478.4 1350.1,473.2 1350.6,469.6 1351,465.6 1351.5,467.6 1351.9,467.2 1352.4,471 1352.8,469.8 1353.3,466.1 1353.7,464.2 1354.2,460 1354.6,458.1 1355.1,452.8 1355.5,445.6 1356,440.3 1356.4,434 1356.9,429.6 1357.3,424 1357.8,418 1358.2,412.4 1358.7,408 1359.1,404.4 1359.6,398.5 1360,393.7 1360.5,393.3 1360.9,394 1361.4,393.6 1361.8,393.8 1362.3,392.7 1362.7,396.3 1363.2,400.9 1363.6,404.8 1364.1,409.9 1364.5,412.8 1365,417 1365.4,418.7 1365.9,418.8 1366.3,418.9 1366.8,416.1 1367.2,411.2 1367.7,408.1 1368.1,411.7 1368.6,411.9 1369,413 1369.5,413.6 1369.9,417 1370.4,420.3 1370.8,422.5 1371.3,424.3 1371.7,427.1 1372.2,424.4 1372.6,416.7 1373.1,412.9 1373.5,406.2 1374,400.6 1374.4,395.1 1374.9,390.3 1375.3,385.2 1375.8,380.9 1376.2,373.6 1376.7,371.5 1377.1,371.4 1377.6,370.2 1378,370.7 1378.5,368.9 1378.9,365.4 1379.4,362.1 1379.8,358.4 1380.3,353.7 1380.7,351.4 1381.2,354.4 1381.6,354.8 1382.1,358.9 1382.5,362 1383,364.3 1383.4,366.2 1383.9,368.9 1384.3,371.6 1384.8,373.9 1385.2,376.4 1385.7,376.6 1386.1,375.6 1386.6,375.4 1387,383.2 1387.5,389.3 1387.9,396.8 1388.4,404.1 1388.8,406.9 1389.3,408.8 1389.7,411.8 1390.2,412.6 1390.6,415.5 1391.1,416.1 1391.5,414.9 1392,413.3 1392.4,410.7 1392.9,408.4 1393.3,413.8 1393.8,416.6 1394.2,419.2 1394.7,421.1 1395.1,422.7 1395.6,422.5 1396,421.5 1396.5,421.6 1396.9,421.8 1397.4,423.7 1397.8,427.6 1398.3,429.4 1398.7,425.8 1399.2,420.2 1399.6,417 1400.1,413.9 1400.5,410 1401,412.1 1401.4,414.5 1401.9,416 1402.3,419.2 1402.8,420.1 1403.2,423.4 1403.7,427 1404.1,429 1404.6,432.6 1405,438.4 1405.5,442.8 1405.9,448.9 1406.4,452.8 1406.8,457.2 1407.3,460 1407.7,458.4 1408.2,458.3 1408.6,455.2 1409.1,454.8 1409.5,456.8 1410,460 1410.4,463.7 1410.9,465.7 1411.3,461.5 1411.8,457.4 1412.2,455.1 1412.7,453.5 1413.1,458.6 1413.6,463.6 1414,467.3 1414.5,470.6 1414.9,475.2 1415.4,480.2 1415.8,483.6 1416.3,488.7 1416.7,492.1 1417.2,496 1417.6,499.2 1418.1,503.5 1418.5,508.5 1419,510.1 1419.4,511.4 1419.9,512.5 1420.3,515.3 1420.8,515.2 1421.2,518.3 1421.7,522.9 1422.1,526.9 1422.6,528.9 1423,532.8 1423.5,533.6 1423.9,537.4 1424.4,539.2 1424.8,539.7 1425.3,540.7 1425.7,543.4 1426.2,545.5 1426.6,547 1427.1,548.1 1427.5,549.8 1428,551.1 1428.4,550.5 1428.9,552.1 1429.3,550.1 1429.8,547.6 1430.2,542.7 1430.7,540.2 1431.1,537.3 1431.6,536.7 1432,532.6 1432.5,529.9 1432.9,527.2 1433.4,525 1433.8,525.6 1434.3,522.4 1434.7,520.4 1435.2,519.6 1435.6,519.2 1436.1,516.8 1436.5,516.8 1437,514.6 1437.4,510.3 1437.9,506.4 1438.3,502.3 1438.8,499 1439.2,495.9 1439.7,495.3 1440.1,493.8 1440.6,490.1 1441,487.7 1441.5,483.8 1441.9,480.9 1442.4,477.8 1442.8,473.9 1443.3,469.8 1443.7,466.4 1444.2,464.9 1444.6,463.8 1445.1,464.8 1445.5,461.6 1446,457.6 1446.4,453.9 1446.9,450 1447.3,445.9 1447.8,442.6 1448.2,440.5 1448.7,439.1 1449.1,438 1449.6,435.9 1450,434.9 1450.5,435.6 1450.9,436.9 1451.4,439.2 1451.8,441 1452.3,438.9 1452.7,437.6 1453.2,435.7 1453.6,432 1454.1,426.3 1454.5,423.6 1455,419.5 1455.4,416.6 1455.9,411.1 1456.3,406.1 1456.8,401.1 1457.2,396.7 1457.7,391 1458.1,390.1 1458.6,388.7 1459,388 1459.5,385.1 1459.9,383.7 1460.4,383.6 1460.8,382.7 1461.3,384.9 1461.7,385.4 1462.2,387.1 1462.6,389.1 1463.1,391.1 1463.5,392.6 1464,394.6 1464.4,399.3 1464.9,401.3 1465.3,404.4 1465.8,408.2 1466.2,411.7 1466.7,414.4 1467.1,417.9 1467.6,420.1 1468,423.5 1468.5,425.5 1468.9,428.1 1469.4,432 1469.8,434.1 1470.3,437.5 1470.7,440.1 1471.2,445.6 1471.6,450.7 1472.1,453.2 1472.5,458.3 1473,462.2 1473.4,466.8 1473.9,467.8 1474.3,463.7 1474.8,461.4 1475.2,457.6 1475.7,457 1476.1,454.3 1476.6,451.2 1477,449.4 1477.5,447.4 1477.9,445.7 1478.4,443.9 1478.8,441.7 1479.3,439.9 1479.7,437.1 1480.2,435.4 1480.6,433.9 1481.1,433.2 1481.5,431.6 1482,432.1 1482.4,429.4 1482.9,427.6 1483.3,428.1 1483.8,428.7 1484.2,429.6 1484.7,429 1485.1,427.7 1485.6,429.9 1486,433.2 1486.5,435 1486.9,437.9 1487.4,441.3 1487.8,446.7 1488.3,451 1488.7,454.9 1489.2,458.2 1489.6,458.7 1490.1,455.3 1490.5,453.5 1491,451 1491.4,445 1491.9,444.5 1492.3,446.7 1492.8,447.4 1493.2,446.7 1493.7,447.8 1494.1,445.3 1494.6,440 1495,436.1 1495.5,431.5 1495.9,425.2 1496.4,422.4 1496.8,421.6 1497.3,421.1 1497.7,423.1 1498.2,426.4 1498.6,428.6 1499.1,432.4 1499.5,434.4 1500,438 1500.4,440.1 1500.9,440.6 1501.3,441 1501.8,440.3 1502.2,440.8 1502.7,442.4 1503.1,445.1 1503.6,448.2 1504,450.5 1504.5,453.5 1504.9,456.6 1505.4,462.2 1505.8,467 1506.3,471.4 1506.7,476.2 1507.2,479.4 1507.6,481 1508.1,482.4 1508.5,484.4 1509,487.7 1509.4,489.7 1509.9,489.9 1510.3,488.3 1510.8,489 1511.2,487.4 1511.7,487.4 1512.1,488.2 1512.6,490.2 1513,491.9 1513.5,492.3 1513.9,492.9 1514.4,492.2 1514.8,493 1515.3,492.5 1515.7,492.3 1516.2,491.6 1516.6,490.9 1517.1,491 1517.5,492.3 1518,493.4 1518.4,493.2 1518.9,493.7 1519.3,493.9 1519.8,494.7 1520.2,494.4 1520.7,496.9 1521.1,497.9 1521.6,499.4 1522,494.9 1522.5,491.9 1522.9,487.9 1523.4,485.4 1523.8,483.5 1524.3,483.7 1524.7,482.7 1525.2,482.8 1525.6,481.5 1526.1,481.8 1526.5,480.7 1527,480 1527.4,480 1527.9,479.8 1528.3,478 1528.8,477.1 1529.2,478.8 1529.7,481.2 1530.1,481.8 1530.6,483.9 1531,486.9 1531.5,489.7 1531.9,490.8 1532.4,492.4 1532.8,493.6 1533.3,495.6 1533.7,491.4 1534.2,488.7 1534.6,486.6 1535.1,481.7 1535.5,478 1536,477.6 1536.4,477.7 1536.9,477.2 1537.3,473.9 1537.8,472.8 1538.2,474.3 1538.7,475.1 1539.1,476.7 1539.6,477.6 1540,479.6 1540.5,475.3 1540.9,472 1541.4,468.8 1541.8,466.5 1542.3,462 1542.7,461.5 1543.2,459.4 1543.6,457.3 1544.1,457.9 1544.5,456.2 1545,454.4 1545.4,451 1545.9,448.6 1546.3,445.7 1546.8,443.4 1547.2,440.1 1547.7,439.1 1548.1,441.9 1548.6,448.4 1549,451.9 1549.5,457.2 1549.9,461.4 1550.4,465.1 1550.8,469.7 1551.3,472.4 1551.7,474.8 1552.2,479.2 1552.6,483.6 1553.1,484.9 1553.5,491.1 1554,496.1 1554.4,498.4 1554.9,503.7 1555.3,509.2 1555.8,511.3 1556.2,514.9 1556.7,518.4 1557.1,522.6 1557.6,520.3 1558,516.4 1558.5,513.1 1558.9,510.7 1559.4,507.5 1559.8,505.8 1560.3,505.8 1560.7,502.6 1561.2,502.3 1561.6,500.9 1562.1,499.7 1562.5,499.5 1563,498.7 1563.4,500 1563.9,498.3 1564.3,497 1564.8,495.9 1565.2,491.1 1565.7,484.1 1566.1,480.7 1566.6,478.4 1567,476.4 1567.5,475.8 1567.9,474.1 1568.4,473.6 1568.8,473.3 1569.3,475.7 1569.7,479.8 1570.2,483.8 1570.6,484.6 1571.1,481.3 1571.5,478.4 1572,477.4 1572.4,478.9 1572.9,483.8 1573.3,486.1 1573.8,487.7 1574.2,491.7 1574.7,495.1 1575.1,498.2 1575.6,502.1 1576,505.7 1576.5,509.6 1576.9,512.9 1577.4,513.3 1577.8,513 1578.3,512.4 1578.7,512 1579.2,509.3 1579.6,504.1 1580.1,499.9 1580.5,496.1 1581,490 1581.4,485.8 1581.9,482.3 1582.3,482.2 1582.8,479.4 1583.2,476.6 1583.7,476 1584.1,472.3 1584.6,466.2 1585,461.6 1585.5,454.5 1585.9,451.6 1586.4,450.9 1586.8,450.9 1587.3,448.6 1587.7,447.3 1588.2,447.2 1588.6,444.3 1589.1,439.6 1589.5,434.4 1590,430.1 1590.4,425.5 1590.9,423.1 1591.3,421 1591.8,421.7 1592.2,418.9 1592.7,418.7 1593.1,422.1 1593.6,424.3 1594,428.8 1594.5,432.8 1594.9,435.9 1595.4,438.3 1595.8,441.9 1596.3,444 1596.7,447.8 1597.2,449.1 1597.6,450 1598.1,451.1 1598.5,451.9 1599,451.4 1599.4,453.6 1599.9,450.7 1600.3,449.2 1600.8,445.3 1601.2,441.4 1601.7,439 1602.1,436.6 1602.6,433.8 1603,431.1 1603.5,427.8 1603.9,427.2 1604.4,427.8 1604.8,424.3 1605.3,423.6 1605.7,424.2 1606.2,421.6 1606.6,417.7 1607.1,411.8 1607.5,408.3 1608,405.4 1608.4,400 1608.9,393.1 1609.3,385.3 1609.8,379.5 1610.2,371.5 1610.7,365 1611.1,358.5 1611.6,354.3 1612,347 1612.5,340.8 1612.9,336.7 1613.4,337.7 1613.8,336.3 1614.3,333.1 1614.7,336.6 1615.2,343.6 1615.6,346.3 1616.1,352.6 1616.5,355.5 1617,357.5 1617.4,361.9 1617.9,363.8 1618.3,365.8 1618.8,366.6 1619.2,368.7 1619.7,372.8 1620.1,374.7 1620.6,376.5 1621,381.8 1621.5,385.1 1621.9,392.9 1622.4,398 1622.8,404.1 1623.3,410.5 1623.7,415.5 1624.2,425.8 1624.6,432.5 1625.1,440.3 1625.5,449.4 1626,454.4 1626.4,458.9 1626.9,462.6 1627.3,466.9 1627.8,470.6 1628.2,473.7 1628.7,474.2 1629.1,476.1 1629.6,476.6 1630,479.5 1630.5,478.5 1630.9,481.4 1631.4,482.1 1631.8,479.5 1632.3,476.6 1632.7,475 1633.2,473.2 1633.6,467.6 1634.1,461.5 1634.5,457.3 1635,453.1 1635.4,449.3 1635.9,449.4 1636.3,454.3 1636.8,457.1 1637.2,460.2 1637.7,456.8 1638.1,452.4 1638.6,449.1 1639,448.2 1639.5,442.8 1639.9,438 1640.4,433.1 1640.8,431.9 1641.3,427.7 1641.7,426.3 1642.2,432.7 1642.6,436.4 1643.1,437.6 1643.5,439.4 1644,438.4 1644.4,436.4 1644.9,432.5 1645.3,432.3 1645.8,430.6 1646.2,429 1646.7,431 1647.1,434.2 1647.6,439.1 1648,443.1 1648.5,447.2 1648.9,451.8 1649.4,457.4 1649.8,463.4 1650.3,467.4 1650.7,464.9 1651.2,462.5 1651.6,460.4 1652.1,456.2 1652.5,452.5 1653,454.7 1653.4,459.4 1653.9,461.1 1654.3,465.6 1654.8,469 1655.2,474.1 1655.7,478.3 1656.1,484.4 1656.6,487.8 1657,483.4 1657.5,480.4 1657.9,476.3 1658.4,472 1658.8,468.4 1659.3,467.4 1659.7,464.1 1660.2,462.3 1660.6,460.3 1661.1,458.7 1661.5,456.3 1662,456.1 1662.4,448.6 1662.9,444.9 1663.3,439.8 1663.8,435.8 1664.2,428.7 1664.7,429.7 1665.1,427.1 1665.6,427.5 1666,426.8 1666.5,425.5 1666.9,423.9 1667.4,422.7 1667.8,420.1 1668.3,415.1 1668.7,409.4 1669.2,404.7 1669.6,402.4 1670.1,398.2 1670.5,393.2 1671,387.9 1671.4,383.2 1671.9,378.5 1672.3,373.4 1672.8,375.5 1673.2,378.9 1673.7,382.1 1674.1,386.7 1674.6,389.5 1675,391.4 1675.5,394.1 1675.9,394.4 1676.4,396.6 1676.8,399.2 1677.3,401 1677.7,405.1 1678.2,411.2 1678.6,415 1679.1,420 1679.5,423.2 1680,425 1680.4,428.8 1680.9,431 1681.3,428.9 1681.8,425.5 1682.2,424 1682.7,423.8 1683.1,427.8 1683.6,429 1684,430.6 1684.5,433.3 1684.9,436.5 1685.4,439.1 1685.8,442.5 1686.3,445.6 1686.7,449.4 1687.2,448.9 1687.6,445.7 1688.1,442.2 1688.5,440.1 1689,436.4 1689.4,435.8 1689.9,433.7 1690.3,431.6 1690.8,427.4 1691.2,429.1 1691.7,427.3 1692.1,425.8 1692.6,423.4 1693,422.3 1693.5,422.9 1693.9,419 1694.4,418.2 1694.8,416.9 1695.3,418 1695.7,421.3 1696.2,423.5 1696.6,427.9 1697.1,429.8 1697.5,435.4 1698,438.9 1698.4,442.3 1698.9,445.8 1699.3,452.3 1699.8,458 1700.2,461.7 1700.7,468.2 1701.1,472 1701.6,475.7 1702,479.2 1702.5,483.3 1702.9,485.3 1703.4,487.9 1703.8,490.3 1704.3,491.5 1704.7,493.5 1705.2,496 1705.6,496.8 1706.1,497.3 1706.5,499.2 1707,499.7 1707.4,504 1707.9,508.3 1708.3,511.8 1708.8,517.5 1709.2,521.8 1709.7,524.5 1710.1,524.5 1710.6,527.9 1711,530 1711.5,524.8 1711.9,520.2 1712.4,515.8 1712.8,511.2 1713.3,507.6 1713.7,505 1714.2,502.8 1714.6,501.9 1715.1,502.4 1715.5,499.4 1716,497.4 1716.4,497.6 1716.9,498.9 1717.3,500.3 1717.8,499.3 1718.2,500.2 1718.7,499.1 1719.1,494.9 1719.6,490.1 1720,486.4 1720.5,481.7 1720.9,476.1 1721.4,473.9 1721.8,466.7 1722.3,461.6 1722.7,459 1723.2,454.2 1723.6,449.1 1724.1,442.6 1724.5,436.3 1725,428.7 1725.4,421.6 1725.9,415.5 1726.3,414.1 1726.8,412.8 1727.2,413.1 1727.7,411.4 1728.1,410.2 1728.6,407.9 1729,405.4 1729.5,399.4 1729.9,396.6 1730.4,393 1730.8,388 1731.3,384.2 1731.7,382.2 1732.2,378.3 1732.6,374.8 1733.1,372.7 1733.5,374.2 1734,377.1 1734.4,381.4 1734.9,382 1735.3,385.4 1735.8,388.4 1736.2,393.5 1736.7,397.9 1737.1,400.7 1737.6,403.8 1738,407.4 1738.5,408 1738.9,411.1 1739.4,411.7 1739.8,412.9 1740.3,413 1740.7,413.5 1741.2,414.9 1741.6,415.5 1742.1,417.6 1742.5,418.7 1743,421.3 1743.4,423.5 1743.9,426.8 1744.3,429 1744.8,430.5 1745.2,432.1 1745.7,435.4 1746.1,438.5 1746.6,440.4" fill="none" stroke="#000" stroke-width="1.25" stroke-linejoin="round" />
<path d="M1348.8 330.5V567.8H1746.8" stroke="#333" stroke-width="1.4" fill="none"/>
<path d="M1348.8 567.8V572.5M1393.1 567.8V570.6M1437.4 567.8V572.5M1481.7 567.8V570.6M1526 567.8V572.5M1570.3 567.8V570.6M1614.6 567.8V572.5M1658.9 567.8V570.6M1703.2 567.8V572.5M1747.5 567.8V570.6M1348.8 377.4H1344.3M1348.8 440.9H1344.3M1348.8 504.3H1344.3M1348.8 567.8H1344.3M1348.8 345.7H1346.2M1348.8 409.1H1346.2M1348.8 472.6H1346.2M1348.8 536.1H1346.2" stroke="#333" stroke-width="1.3" fill="none"/>
<text x="1341.8" y="385.4" style="font-family:'Liberation Serif',serif;font-size:24.5px;" text-anchor="end" >20</text>
<text x="1341.8" y="448.9" style="font-family:'Liberation Serif',serif;font-size:24.5px;" text-anchor="end" >18</text>
<text x="1341.8" y="512.3" style="font-family:'Liberation Serif',serif;font-size:24.5px;" text-anchor="end" >16</text>
<text x="1341.8" y="575.8" style="font-family:'Liberation Serif',serif;font-size:24.5px;" text-anchor="end" >14</text>
<text x="1348.8" y="594.9" style="font-family:'Liberation Serif',serif;font-size:24.5px;" text-anchor="middle" >0</text>
<text x="1437.4" y="594.9" style="font-family:'Liberation Serif',serif;font-size:24.5px;" text-anchor="middle" >2</text>
<text x="1526" y="594.9" style="font-family:'Liberation Serif',serif;font-size:24.5px;" text-anchor="middle" >4</text>
<text x="1614.6" y="594.9" style="font-family:'Liberation Serif',serif;font-size:24.5px;" text-anchor="middle" >6</text>
<text x="1703.2" y="594.9" style="font-family:'Liberation Serif',serif;font-size:24.5px;" text-anchor="middle" >8</text>
<text transform="translate(1294,446) rotate(-90)" style="font-family:'Liberation Sans',sans-serif;font-size:24.6px" text-anchor="middle">Population (phonons)</text>
<clipPath id="trf2"><rect x="1348.8" y="758.6" width="398" height="72.8"/></clipPath>
<path d="M1350.4 664.1 1350.9 659.5 1351.3 656.9 1351.8 655 1352.2 651.2 1352.7 648.8 1353.1 646.3 1353.6 643.8 1354 641.5 1354.5 636.8 1354.9 635.3 1355.4 634 1355.8 631.8 1356.3 630.8 1356.7 632.6 1357.2 646.4 1357.6 660.3 1358.1 667.7 1358.5 675.7 1359 678.5 1359.4 675.9 1359.9 670.5 1360.3 667.1 1360.8 667.1 1361.2 669.5 1361.7 670.8 1362.1 671.2 1362.6 676.1 1363 678.5 1363.5 681 1363.9 683.5 1364.4 685.4 1364.8 685.6 1365.3 685.4 1365.7 690 1366.2 695.7 1366.6 701.5 1367.1 705.3 1367.5 711.1 1368 715.3 1368.4 721.2 1368.9 725.1 1369.3 730 1369.8 733.8 1370.2 738.6 1370.7 744.2 1371.1 749.8 1371.6 757.9 1372 761 1372.5 763.2 1372.9 765 1373.4 769.2 1373.8 771.4 1374.3 774.9 1374.7 779.2 1375.2 783.6 1375.6 789.3 1376.1 793.3 1376.5 797.9 1377 800 1377.4 795.7 1377.9 792.1 1378.3 790.1 1378.8 786.3 1379.2 787.2 1379.7 786.1 1380.1 785.8 1380.6 784.8 1381 782.6 1381.5 780.7 1381.9 776.7 1382.4 773.5 1382.8 769.8 1383.3 763.2 1383.7 758.8 1384.2 756.5 1384.6 763.2 1385.1 770 1385.5 772.9 1386 778.4 1386.4 776.7 1386.9 771.9 1387.3 768.9 1387.8 764.5 1388.2 766.2 1388.7 768.3 1389.1 770 1389.6 763.1 1390 756.7 1390.5 751.3 1390.9 746.6 1391.4 742.4 1391.8 737 1392.3 730.7 1392.7 728.4 1393.2 724.3 1393.6 718.4 1394.1 717 1394.5 712.2 1395 707.5 1395.4 703.1 1395.9 698.4 1396.3 693.3 1396.8 688.1 1397.2 682.8 1397.7 679.3 1398.1 675.4 1398.6 673.1 1399 667.8 1399.5 663.1 1399.9 658.8 1400.4 655.6 1400.8 651.6 1401.3 647.8 1401.7 643.5 1402.2 639.5 1402.6 638.1 1403.1 637.5 1403.5 635.6 1404 633.4 1404.4 629.9 1404.9 627.1 1405.3 625.4 1405.8 623.1 1406.2 621 1406.7 618 1407.1 616.3 1407.6 612.8 1408 619.4 1408.5 626.5 1408.9 634.4 1409.4 640 1409.8 635.1 1410.3 631.4 1410.7 626.8 1411.2 625.1 1411.6 634.5 1412.1 643.9 1412.5 653.2 1413 652.3 1413.4 645.6 1413.9 638.9 1414.3 635.7 1414.8 632.3 1415.2 629.7 1415.7 627.4 1416.1 626.2 1416.6 623.5 1417 624.4 1417.5 626.6 1417.9 625 1418.4 629.3 1418.8 634.9 1419.3 640.3 1419.7 646.7 1420.2 648.8 1420.6 651.5 1421.1 653.8 1421.5 653.3 1422 654.8 1422.4 658 1422.9 659.5 1423.3 660.7 1423.8 663.7 1424.2 663.4 1424.7 665.8 1425.1 668 1425.6 669.6 1426 672.2 1426.5 672.3 1426.9 675 1427.4 676.4 1427.8 679.6 1428.3 681.6 1428.7 682.2 1429.2 684.5 1429.6 688 1430.1 690.4 1430.5 688.9 1431 685.4 1431.4 680.7 1431.9 678 1432.3 672.8 1432.8 673.7 1433.2 676.7 1433.7 680.6 1434.1 685.5 1434.6 689 1435 686.3 1435.5 681.9 1435.9 676.8 1436.4 672.6 1436.8 671.3 1437.3 670.1 1437.7 667.4 1438.2 667.1 1438.6 664.8 1439.1 663.8 1439.5 662 1440 661.2 1440.4 661.3 1440.9 656.9 1441.3 655.3 1441.8 655.1 1442.2 651.3 1442.7 649.5 1443.1 650.1 1443.6 651.6 1444 651.3 1444.5 653.6 1444.9 657 1445.4 661.7 1445.8 663.3 1446.3 665.6 1446.7 669.1 1447.2 668.2 1447.6 671.1 1448.1 673.7 1448.5 673.9 1449 674.9 1449.4 677.2 1449.9 679.9 1450.3 681.4 1450.8 685.8 1451.2 687.1 1451.7 689.1 1452.1 692.9 1452.6 694.3 1453 697.7 1453.5 706.8 1453.9 713.8 1454.4 721.9 1454.8 727.4 1455.3 732.6 1455.7 740.3 1456.2 747.1 1456.6 750.4 1457.1 755.3 1457.5 760.2 1458 764.2 1458.4 768.2 1458.9 773 1459.3 776.9 1459.8 776.4 1460.2 775.4 1460.7 773.5 1461.1 771.1 1461.6 769.3 1462 765 1462.5 764.9 1462.9 763.4 1463.4 760.2 1463.8 757.7 1464.3 751 1464.7 744.2 1465.2 747.2 1465.6 751.6 1466.1 755.5 1466.5 758 1467 753.6 1467.4 749.4 1467.9 744.6 1468.3 740.8 1468.8 743.9 1469.2 748.4 1469.7 753.7 1470.1 756.5 1470.6 755.9 1471 754.1 1471.5 753.9 1471.9 754.8 1472.4 761.9 1472.8 768.3 1473.3 772.6 1473.7 773.9 1474.2 776.6 1474.6 778.1 1475.1 779.1 1475.5 783.2 1476 790 1476.4 796.3 1476.9 801.7 1477.3 807.6 1477.8 811.8 1478.2 817.1 1478.7 821.8 1479.1 827.2 1479.6 830.8 1480 830.4 1480.5 830.4 1480.9 830.8 1481.4 830.8 1481.8 825 1482.3 820 1482.7 813.1 1483.2 808.3 1483.6 800.5 1484.1 795.3 1484.5 789.9 1485 786.8 1485.4 779.1 1485.9 775.3 1486.3 770.6 1486.8 764.8 1487.2 760 1487.7 757.1 1488.1 751.8 1488.6 747.2 1489 744.5 1489.5 740.9 1489.9 736 1490.4 733.3 1490.8 730.4 1491.3 727.1 1491.7 724.8 1492.2 722.7 1492.6 717 1493.1 707.3 1493.5 696.5 1494 683.7 1494.4 686.8 1494.9 690.7 1495.3 692.8 1495.8 696.5 1496.2 699.9 1496.7 693.3 1497.1 688.9 1497.6 682.3 1498 683.6 1498.5 684.6 1498.9 685.6 1499.4 686.8 1499.8 685.2 1500.3 684.7 1500.7 680.8 1501.2 678 1501.6 673.5 1502.1 667.7 1502.5 670.1 1503 678.5 1503.4 691.2 1503.9 701.1 1504.3 698.9 1504.8 695.8 1505.2 692.9 1505.7 688.1 1506.1 688.3 1506.6 687.2 1507 686.1 1507.5 685.1 1507.9 685.2 1508.4 683.6 1508.8 682.9 1509.3 681.4 1509.7 677.8 1510.2 677.4 1510.6 678.9 1511.1 682.4 1511.5 686.2 1512 690.2 1512.4 698.1 1512.9 701.3 1513.3 706.3 1513.8 709.9 1514.2 715.4 1514.7 720.8 1515.1 722.5 1515.6 726.9 1516 730.6 1516.5 736.8 1516.9 744.5 1517.4 742.4 1517.8 734.5 1518.3 725.9 1518.7 722.6 1519.2 721.5 1519.6 723.5 1520.1 723.8 1520.5 724.7 1521 725.7 1521.4 728.2 1521.9 732 1522.3 738.2 1522.8 744.8 1523.2 751 1523.7 756.8 1524.1 761 1524.6 765.2 1525 769.5 1525.5 773 1525.9 776.3 1526.4 779.4 1526.8 780.3 1527.3 782.7 1527.7 783.2 1528.2 781.8 1528.6 779.8 1529.1 778.1 1529.5 781.4 1530 785 1530.4 789.3 1530.9 795.2 1531.3 801.7 1531.8 805.8 1532.2 811.1 1532.7 819.3 1533.1 817.5 1533.6 812.1 1534 806.6 1534.5 800.8 1534.9 797.7 1535.4 798.2 1535.8 796.9 1536.3 795.9 1536.7 793.5 1537.2 796.3 1537.6 798.4 1538.1 800.6 1538.5 803.4 1539 800.3 1539.4 795.5 1539.9 791.3 1540.3 787.4 1540.8 787.1 1541.2 786 1541.7 780.3 1542.1 776.5 1542.6 774.5 1543 772.4 1543.5 767.6 1543.9 762.1 1544.4 758.3 1544.8 757.2 1545.3 755 1545.7 742.9 1546.2 736.7 1546.6 733.8 1547.1 730.8 1547.5 724.8 1548 720 1548.4 720 1548.9 726.4 1549.3 732.4 1549.8 741.4 1550.2 743.3 1550.7 740.4 1551.1 737.9 1551.6 734 1552 731.7 1552.5 730 1552.9 727.7 1553.4 726.5 1553.8 726.2 1554.3 722 1554.7 720.6 1555.2 717.7 1555.6 713.8 1556.1 715.5 1556.5 716.3 1557 720 1557.4 723.2 1557.9 723.5 1558.3 721.1 1558.8 717.7 1559.2 716.5 1559.7 712.9 1560.1 710.5 1560.6 708.5 1561 704.9 1561.5 702 1561.9 701.1 1562.4 695.7 1562.8 690.7 1563.3 686.9 1563.7 680.4 1564.2 675.1 1564.6 669.8 1565.1 664.8 1565.5 662.7 1566 659.1 1566.4 656.2 1566.9 650.8 1567.3 646.7 1567.8 647.4 1568.2 653.3 1568.7 657.8 1569.1 659.4 1569.6 662.8 1570 668.2 1570.5 671.9 1570.9 675.7 1571.4 679.5 1571.8 675.7 1572.3 670.5 1572.7 664.6 1573.2 660.5 1573.6 656.4 1574.1 651.7 1574.5 650.6 1575 650 1575.4 648.5 1575.9 646.2 1576.3 644.3 1576.8 643.5 1577.2 640.4 1577.7 638.8 1578.1 636.9 1578.6 632.9 1579 628.1 1579.5 633.6 1579.9 636.8 1580.4 640.1 1580.8 644.7 1581.3 646.7 1581.7 648.2 1582.2 650.3 1582.6 650.1 1583.1 652.3 1583.5 651.5 1584 648.5 1584.4 645.9 1584.9 643.9 1585.3 642.4 1585.8 639 1586.2 635.8 1586.7 637.6 1587.1 643 1587.6 646.8 1588 649.1 1588.5 653.9 1588.9 655.7 1589.4 659.5 1589.8 662.3 1590.3 667.2 1590.7 672.9 1591.2 678.4 1591.6 683.6 1592.1 686.8 1592.5 690.8 1593 695.2 1593.4 699.2 1593.9 703.3 1594.3 701.6 1594.8 698 1595.2 691.8 1595.7 689.6 1596.1 685.2 1596.6 679.7 1597 674.1 1597.5 668.9 1597.9 663.3 1598.4 658.9 1598.8 657.8 1599.3 654 1599.7 652.8 1600.2 651.1 1600.6 647.9 1601.1 647 1601.5 645.2 1602 642.1 1602.4 640.9 1602.9 636.7 1603.3 633.3 1603.8 633.1 1604.2 630.4 1604.7 628.4 1605.1 626.4 1605.6 629.8 1606 632.2 1606.5 634.8 1606.9 634.2 1607.4 636.6 1607.8 638.4 1608.3 639.3 1608.7 640 1609.2 639.9 1609.6 642.3 1610.1 643.4 1610.5 644.8 1611 654.8 1611.4 663 1611.9 671.2 1612.3 678 1612.8 680.4 1613.2 682.7 1613.7 686.1 1614.1 690.7 1614.6 692.9 1615 694.7 1615.5 695.7 1615.9 698.7 1616.4 701.3 1616.8 704.8 1617.3 707.1 1617.7 709.7 1618.2 713 1618.6 715.4 1619.1 719 1619.5 719.1 1620 722 1620.4 721 1620.9 717.6 1621.3 713.4 1621.8 710.7 1622.2 707.9 1622.7 707.1 1623.1 707.7 1623.6 705.7 1624 705 1624.5 703.2 1624.9 702 1625.4 700.2 1625.8 699.6 1626.3 697.8 1626.7 694.8 1627.2 691.9 1627.6 689.1 1628.1 692.8 1628.5 695.5 1629 699.7 1629.4 702.6 1629.9 706.3 1630.3 708.5 1630.8 712.4 1631.2 714.8 1631.7 715.4 1632.1 718.1 1632.6 720 1633 720.8 1633.5 722.8 1633.9 723 1634.4 724.9 1634.8 723.5 1635.3 723.9 1635.7 723 1636.2 725.2 1636.6 727.3 1637.1 727.7 1637.5 731.6 1638 732.4 1638.4 734.6 1638.9 735.7 1639.3 738.3 1639.8 739.7 1640.2 741.3 1640.7 740.9 1641.1 740.7 1641.6 741.6 1642 743.4 1642.5 742.9 1642.9 743.2 1643.4 742.9 1643.8 743.9 1644.3 745.3 1644.7 748.3 1645.2 752.3 1645.6 755.7 1646.1 759.7 1646.5 764.8 1647 769.4 1647.4 773.1 1647.9 777.3 1648.3 781.2 1648.8 783.5 1649.2 781.8 1649.7 782.5 1650.1 784.2 1650.6 787.7 1651 791.7 1651.5 792.7 1651.9 792.1 1652.4 789.6 1652.8 786.2 1653.3 783.6 1653.7 787.4 1654.2 790.8 1654.6 793.9 1655.1 797.6 1655.5 801 1656 800.5 1656.4 798.5 1656.9 797.8 1657.3 795.5 1657.8 794.8 1658.2 797.1 1658.7 800.8 1659.1 804.9 1659.6 806.8 1660 808.4 1660.5 804.4 1660.9 799.6 1661.4 796 1661.8 792.1 1662.3 795.1 1662.7 797.6 1663.2 799.8 1663.6 800.4 1664.1 800.9 1664.5 800.8 1665 803.1 1665.4 804.4 1665.9 804.8 1666.3 805.5 1666.8 808 1667.2 810.7 1667.7 813 1668.1 816.1 1668.6 819 1669 820.8 1669.5 822.2 1669.9 824.8 1670.4 826.4 1670.8 829.6 1671.3 829.7 1671.7 830.3 1672.2 828.8 1672.6 828.6 1673.1 828.2 1673.5 827.1 1674 826.9 1674.4 822.6 1674.9 819 1675.3 816.6 1675.8 814.2 1676.2 812.7 1676.7 809.9 1677.1 806.7 1677.6 802.6 1678 800.9 1678.5 798.6 1678.9 795 1679.4 791.3 1679.8 789.5 1680.3 787.8 1680.7 786.6 1681.2 784.4 1681.6 783.4 1682.1 779.1 1682.5 772.4 1683 768 1683.4 760.1 1683.9 754.4 1684.3 752 1684.8 746.7 1685.2 743.1 1685.7 735.5 1686.1 733.2 1686.6 728.2 1687 723.7 1687.5 719.1 1687.9 709.6 1688.4 703.4 1688.8 697.5 1689.3 696 1689.7 690.8 1690.2 689.7 1690.6 686 1691.1 686.1 1691.5 685.1 1692 686.5 1692.4 686.1 1692.9 684 1693.3 684.1 1693.8 681.2 1694.2 679.2 1694.7 678.4 1695.1 679.8 1695.6 681.4 1696 684.7 1696.5 687.2 1696.9 690.8 1697.4 693 1697.8 698 1698.3 702.3 1698.7 705.5 1699.2 709.9 1699.6 715.2 1700.1 719.5 1700.5 724.2 1701 732.5 1701.4 738.5 1701.9 745.4 1702.3 753 1702.8 757.3 1703.2 762.3 1703.7 766.6 1704.1 769.7 1704.6 770.9 1705 772.3 1705.5 775.6 1705.9 775.8 1706.4 776.3 1706.8 779.2 1707.3 783 1707.7 784.2 1708.2 787 1708.6 788.7 1709.1 790.2 1709.5 793.2 1710 795.2 1710.4 792.3 1710.9 787.8 1711.3 782.2 1711.8 778.6 1712.2 769.7 1712.7 764.6 1713.1 757.8 1713.6 751.7 1714 744.4 1714.5 735.4 1714.9 729.7 1715.4 726.5 1715.8 721.5 1716.3 715.9 1716.7 711.7 1717.2 707.9 1717.6 704.3 1718.1 698.6 1718.5 694.4 1719 689.6 1719.4 686.5 1719.9 684.2 1720.3 683.1 1720.8 680.3 1721.2 675.7 1721.7 670 1722.1 664.8 1722.6 658.8 1723 650.9 1723.5 641.1 1723.9 632.1 1724.4 624.6 1724.8 620.9 1725.3 614.5 1725.7 610.4 1726.2 610.6 1726.6 613.7 1727.1 615 1727.5 617.3 1728 621.9 1728.4 626.2 1728.9 630.2 1729.3 637.1 1729.8 648.2 1730.2 661 1730.7 672.6 1731.1 677.2 1731.6 681.8 1732 684.7 1732.5 687.4 1732.9 689.4 1733.4 693.8 1733.8 695.4 1734.3 697.4 1734.7 702.3 1735.2 715.9 1735.6 729.3 1736.1 743.8 1736.5 757.8 1737 763.8 1737.4 770.8 1737.9 776.9 1738.3 779.7 1738.8 782.1 1739.2 783 1739.7 784.4 1740.1 786.5 1740.6 784 1741 783.3 1741.5 780 1741.9 777.7 1742.4 775.8 1742.8 773.4 1743.3 773 1743.7 771.2 1744.2 768.6 1744.6 762.1 1745.1 757.9 1745.5 753.4 1746 749.2 1746.4 746.7 1746.9 742.6 1747.3 743.3 1747.8 741.4 1748.2 741.2 1748.7 739.7 L1748.7 758 L1350.4 758Z" fill="#a2b8e1" clip-path="url(#trf2)"/>
<line x1="1348.8" y1="758" x2="1748.8" y2="758" stroke="#222" stroke-width="1.3" stroke-dasharray="5.5 4.5"/>
<polyline points="1349.2,664.1 1349.7,659.5 1350.1,656.9 1350.6,655 1351,651.2 1351.5,648.8 1351.9,646.3 1352.4,643.8 1352.8,641.5 1353.3,636.8 1353.7,635.3 1354.2,634 1354.6,631.8 1355.1,630.8 1355.5,632.6 1356,646.4 1356.4,660.3 1356.9,667.7 1357.3,675.7 1357.8,678.5 1358.2,675.9 1358.7,670.5 1359.1,667.1 1359.6,667.1 1360,669.5 1360.5,670.8 1360.9,671.2 1361.4,676.1 1361.8,678.5 1362.3,681 1362.7,683.5 1363.2,685.4 1363.6,685.6 1364.1,685.4 1364.5,690 1365,695.7 1365.4,701.5 1365.9,705.3 1366.3,711.1 1366.8,715.3 1367.2,721.2 1367.7,725.1 1368.1,730 1368.6,733.8 1369,738.6 1369.5,744.2 1369.9,749.8 1370.4,757.9 1370.8,761 1371.3,763.2 1371.7,765 1372.2,769.2 1372.6,771.4 1373.1,774.9 1373.5,779.2 1374,783.6 1374.4,789.3 1374.9,793.3 1375.3,797.9 1375.8,800 1376.2,795.7 1376.7,792.1 1377.1,790.1 1377.6,786.3 1378,787.2 1378.5,786.1 1378.9,785.8 1379.4,784.8 1379.8,782.6 1380.3,780.7 1380.7,776.7 1381.2,773.5 1381.6,769.8 1382.1,763.2 1382.5,758.8 1383,756.5 1383.4,763.2 1383.9,770 1384.3,772.9 1384.8,778.4 1385.2,776.7 1385.7,771.9 1386.1,768.9 1386.6,764.5 1387,766.2 1387.5,768.3 1387.9,770 1388.4,763.1 1388.8,756.7 1389.3,751.3 1389.7,746.6 1390.2,742.4 1390.6,737 1391.1,730.7 1391.5,728.4 1392,724.3 1392.4,718.4 1392.9,717 1393.3,712.2 1393.8,707.5 1394.2,703.1 1394.7,698.4 1395.1,693.3 1395.6,688.1 1396,682.8 1396.5,679.3 1396.9,675.4 1397.4,673.1 1397.8,667.8 1398.3,663.1 1398.7,658.8 1399.2,655.6 1399.6,651.6 1400.1,647.8 1400.5,643.5 1401,639.5 1401.4,638.1 1401.9,637.5 1402.3,635.6 1402.8,633.4 1403.2,629.9 1403.7,627.1 1404.1,625.4 1404.6,623.1 1405,621 1405.5,618 1405.9,616.3 1406.4,612.8 1406.8,619.4 1407.3,626.5 1407.7,634.4 1408.2,640 1408.6,635.1 1409.1,631.4 1409.5,626.8 1410,625.1 1410.4,634.5 1410.9,643.9 1411.3,653.2 1411.8,652.3 1412.2,645.6 1412.7,638.9 1413.1,635.7 1413.6,632.3 1414,629.7 1414.5,627.4 1414.9,626.2 1415.4,623.5 1415.8,624.4 1416.3,626.6 1416.7,625 1417.2,629.3 1417.6,634.9 1418.1,640.3 1418.5,646.7 1419,648.8 1419.4,651.5 1419.9,653.8 1420.3,653.3 1420.8,654.8 1421.2,658 1421.7,659.5 1422.1,660.7 1422.6,663.7 1423,663.4 1423.5,665.8 1423.9,668 1424.4,669.6 1424.8,672.2 1425.3,672.3 1425.7,675 1426.2,676.4 1426.6,679.6 1427.1,681.6 1427.5,682.2 1428,684.5 1428.4,688 1428.9,690.4 1429.3,688.9 1429.8,685.4 1430.2,680.7 1430.7,678 1431.1,672.8 1431.6,673.7 1432,676.7 1432.5,680.6 1432.9,685.5 1433.4,689 1433.8,686.3 1434.3,681.9 1434.7,676.8 1435.2,672.6 1435.6,671.3 1436.1,670.1 1436.5,667.4 1437,667.1 1437.4,664.8 1437.9,663.8 1438.3,662 1438.8,661.2 1439.2,661.3 1439.7,656.9 1440.1,655.3 1440.6,655.1 1441,651.3 1441.5,649.5 1441.9,650.1 1442.4,651.6 1442.8,651.3 1443.3,653.6 1443.7,657 1444.2,661.7 1444.6,663.3 1445.1,665.6 1445.5,669.1 1446,668.2 1446.4,671.1 1446.9,673.7 1447.3,673.9 1447.8,674.9 1448.2,677.2 1448.7,679.9 1449.1,681.4 1449.6,685.8 1450,687.1 1450.5,689.1 1450.9,692.9 1451.4,694.3 1451.8,697.7 1452.3,706.8 1452.7,713.8 1453.2,721.9 1453.6,727.4 1454.1,732.6 1454.5,740.3 1455,747.1 1455.4,750.4 1455.9,755.3 1456.3,760.2 1456.8,764.2 1457.2,768.2 1457.7,773 1458.1,776.9 1458.6,776.4 1459,775.4 1459.5,773.5 1459.9,771.1 1460.4,769.3 1460.8,765 1461.3,764.9 1461.7,763.4 1462.2,760.2 1462.6,757.7 1463.1,751 1463.5,744.2 1464,747.2 1464.4,751.6 1464.9,755.5 1465.3,758 1465.8,753.6 1466.2,749.4 1466.7,744.6 1467.1,740.8 1467.6,743.9 1468,748.4 1468.5,753.7 1468.9,756.5 1469.4,755.9 1469.8,754.1 1470.3,753.9 1470.7,754.8 1471.2,761.9 1471.6,768.3 1472.1,772.6 1472.5,773.9 1473,776.6 1473.4,778.1 1473.9,779.1 1474.3,783.2 1474.8,790 1475.2,796.3 1475.7,801.7 1476.1,807.6 1476.6,811.8 1477,817.1 1477.5,821.8 1477.9,827.2 1478.4,830.8 1478.8,830.4 1479.3,830.4 1479.7,830.8 1480.2,830.8 1480.6,825 1481.1,820 1481.5,813.1 1482,808.3 1482.4,800.5 1482.9,795.3 1483.3,789.9 1483.8,786.8 1484.2,779.1 1484.7,775.3 1485.1,770.6 1485.6,764.8 1486,760 1486.5,757.1 1486.9,751.8 1487.4,747.2 1487.8,744.5 1488.3,740.9 1488.7,736 1489.2,733.3 1489.6,730.4 1490.1,727.1 1490.5,724.8 1491,722.7 1491.4,717 1491.9,707.3 1492.3,696.5 1492.8,683.7 1493.2,686.8 1493.7,690.7 1494.1,692.8 1494.6,696.5 1495,699.9 1495.5,693.3 1495.9,688.9 1496.4,682.3 1496.8,683.6 1497.3,684.6 1497.7,685.6 1498.2,686.8 1498.6,685.2 1499.1,684.7 1499.5,680.8 1500,678 1500.4,673.5 1500.9,667.7 1501.3,670.1 1501.8,678.5 1502.2,691.2 1502.7,701.1 1503.1,698.9 1503.6,695.8 1504,692.9 1504.5,688.1 1504.9,688.3 1505.4,687.2 1505.8,686.1 1506.3,685.1 1506.7,685.2 1507.2,683.6 1507.6,682.9 1508.1,681.4 1508.5,677.8 1509,677.4 1509.4,678.9 1509.9,682.4 1510.3,686.2 1510.8,690.2 1511.2,698.1 1511.7,701.3 1512.1,706.3 1512.6,709.9 1513,715.4 1513.5,720.8 1513.9,722.5 1514.4,726.9 1514.8,730.6 1515.3,736.8 1515.7,744.5 1516.2,742.4 1516.6,734.5 1517.1,725.9 1517.5,722.6 1518,721.5 1518.4,723.5 1518.9,723.8 1519.3,724.7 1519.8,725.7 1520.2,728.2 1520.7,732 1521.1,738.2 1521.6,744.8 1522,751 1522.5,756.8 1522.9,761 1523.4,765.2 1523.8,769.5 1524.3,773 1524.7,776.3 1525.2,779.4 1525.6,780.3 1526.1,782.7 1526.5,783.2 1527,781.8 1527.4,779.8 1527.9,778.1 1528.3,781.4 1528.8,785 1529.2,789.3 1529.7,795.2 1530.1,801.7 1530.6,805.8 1531,811.1 1531.5,819.3 1531.9,817.5 1532.4,812.1 1532.8,806.6 1533.3,800.8 1533.7,797.7 1534.2,798.2 1534.6,796.9 1535.1,795.9 1535.5,793.5 1536,796.3 1536.4,798.4 1536.9,800.6 1537.3,803.4 1537.8,800.3 1538.2,795.5 1538.7,791.3 1539.1,787.4 1539.6,787.1 1540,786 1540.5,780.3 1540.9,776.5 1541.4,774.5 1541.8,772.4 1542.3,767.6 1542.7,762.1 1543.2,758.3 1543.6,757.2 1544.1,755 1544.5,742.9 1545,736.7 1545.4,733.8 1545.9,730.8 1546.3,724.8 1546.8,720 1547.2,720 1547.7,726.4 1548.1,732.4 1548.6,741.4 1549,743.3 1549.5,740.4 1549.9,737.9 1550.4,734 1550.8,731.7 1551.3,730 1551.7,727.7 1552.2,726.5 1552.6,726.2 1553.1,722 1553.5,720.6 1554,717.7 1554.4,713.8 1554.9,715.5 1555.3,716.3 1555.8,720 1556.2,723.2 1556.7,723.5 1557.1,721.1 1557.6,717.7 1558,716.5 1558.5,712.9 1558.9,710.5 1559.4,708.5 1559.8,704.9 1560.3,702 1560.7,701.1 1561.2,695.7 1561.6,690.7 1562.1,686.9 1562.5,680.4 1563,675.1 1563.4,669.8 1563.9,664.8 1564.3,662.7 1564.8,659.1 1565.2,656.2 1565.7,650.8 1566.1,646.7 1566.6,647.4 1567,653.3 1567.5,657.8 1567.9,659.4 1568.4,662.8 1568.8,668.2 1569.3,671.9 1569.7,675.7 1570.2,679.5 1570.6,675.7 1571.1,670.5 1571.5,664.6 1572,660.5 1572.4,656.4 1572.9,651.7 1573.3,650.6 1573.8,650 1574.2,648.5 1574.7,646.2 1575.1,644.3 1575.6,643.5 1576,640.4 1576.5,638.8 1576.9,636.9 1577.4,632.9 1577.8,628.1 1578.3,633.6 1578.7,636.8 1579.2,640.1 1579.6,644.7 1580.1,646.7 1580.5,648.2 1581,650.3 1581.4,650.1 1581.9,652.3 1582.3,651.5 1582.8,648.5 1583.2,645.9 1583.7,643.9 1584.1,642.4 1584.6,639 1585,635.8 1585.5,637.6 1585.9,643 1586.4,646.8 1586.8,649.1 1587.3,653.9 1587.7,655.7 1588.2,659.5 1588.6,662.3 1589.1,667.2 1589.5,672.9 1590,678.4 1590.4,683.6 1590.9,686.8 1591.3,690.8 1591.8,695.2 1592.2,699.2 1592.7,703.3 1593.1,701.6 1593.6,698 1594,691.8 1594.5,689.6 1594.9,685.2 1595.4,679.7 1595.8,674.1 1596.3,668.9 1596.7,663.3 1597.2,658.9 1597.6,657.8 1598.1,654 1598.5,652.8 1599,651.1 1599.4,647.9 1599.9,647 1600.3,645.2 1600.8,642.1 1601.2,640.9 1601.7,636.7 1602.1,633.3 1602.6,633.1 1603,630.4 1603.5,628.4 1603.9,626.4 1604.4,629.8 1604.8,632.2 1605.3,634.8 1605.7,634.2 1606.2,636.6 1606.6,638.4 1607.1,639.3 1607.5,640 1608,639.9 1608.4,642.3 1608.9,643.4 1609.3,644.8 1609.8,654.8 1610.2,663 1610.7,671.2 1611.1,678 1611.6,680.4 1612,682.7 1612.5,686.1 1612.9,690.7 1613.4,692.9 1613.8,694.7 1614.3,695.7 1614.7,698.7 1615.2,701.3 1615.6,704.8 1616.1,707.1 1616.5,709.7 1617,713 1617.4,715.4 1617.9,719 1618.3,719.1 1618.8,722 1619.2,721 1619.7,717.6 1620.1,713.4 1620.6,710.7 1621,707.9 1621.5,707.1 1621.9,707.7 1622.4,705.7 1622.8,705 1623.3,703.2 1623.7,702 1624.2,700.2 1624.6,699.6 1625.1,697.8 1625.5,694.8 1626,691.9 1626.4,689.1 1626.9,692.8 1627.3,695.5 1627.8,699.7 1628.2,702.6 1628.7,706.3 1629.1,708.5 1629.6,712.4 1630,714.8 1630.5,715.4 1630.9,718.1 1631.4,720 1631.8,720.8 1632.3,722.8 1632.7,723 1633.2,724.9 1633.6,723.5 1634.1,723.9 1634.5,723 1635,725.2 1635.4,727.3 1635.9,727.7 1636.3,731.6 1636.8,732.4 1637.2,734.6 1637.7,735.7 1638.1,738.3 1638.6,739.7 1639,741.3 1639.5,740.9 1639.9,740.7 1640.4,741.6 1640.8,743.4 1641.3,742.9 1641.7,743.2 1642.2,742.9 1642.6,743.9 1643.1,745.3 1643.5,748.3 1644,752.3 1644.4,755.7 1644.9,759.7 1645.3,764.8 1645.8,769.4 1646.2,773.1 1646.7,777.3 1647.1,781.2 1647.6,783.5 1648,781.8 1648.5,782.5 1648.9,784.2 1649.4,787.7 1649.8,791.7 1650.3,792.7 1650.7,792.1 1651.2,789.6 1651.6,786.2 1652.1,783.6 1652.5,787.4 1653,790.8 1653.4,793.9 1653.9,797.6 1654.3,801 1654.8,800.5 1655.2,798.5 1655.7,797.8 1656.1,795.5 1656.6,794.8 1657,797.1 1657.5,800.8 1657.9,804.9 1658.4,806.8 1658.8,808.4 1659.3,804.4 1659.7,799.6 1660.2,796 1660.6,792.1 1661.1,795.1 1661.5,797.6 1662,799.8 1662.4,800.4 1662.9,800.9 1663.3,800.8 1663.8,803.1 1664.2,804.4 1664.7,804.8 1665.1,805.5 1665.6,808 1666,810.7 1666.5,813 1666.9,816.1 1667.4,819 1667.8,820.8 1668.3,822.2 1668.7,824.8 1669.2,826.4 1669.6,829.6 1670.1,829.7 1670.5,830.3 1671,828.8 1671.4,828.6 1671.9,828.2 1672.3,827.1 1672.8,826.9 1673.2,822.6 1673.7,819 1674.1,816.6 1674.6,814.2 1675,812.7 1675.5,809.9 1675.9,806.7 1676.4,802.6 1676.8,800.9 1677.3,798.6 1677.7,795 1678.2,791.3 1678.6,789.5 1679.1,787.8 1679.5,786.6 1680,784.4 1680.4,783.4 1680.9,779.1 1681.3,772.4 1681.8,768 1682.2,760.1 1682.7,754.4 1683.1,752 1683.6,746.7 1684,743.1 1684.5,735.5 1684.9,733.2 1685.4,728.2 1685.8,723.7 1686.3,719.1 1686.7,709.6 1687.2,703.4 1687.6,697.5 1688.1,696 1688.5,690.8 1689,689.7 1689.4,686 1689.9,686.1 1690.3,685.1 1690.8,686.5 1691.2,686.1 1691.7,684 1692.1,684.1 1692.6,681.2 1693,679.2 1693.5,678.4 1693.9,679.8 1694.4,681.4 1694.8,684.7 1695.3,687.2 1695.7,690.8 1696.2,693 1696.6,698 1697.1,702.3 1697.5,705.5 1698,709.9 1698.4,715.2 1698.9,719.5 1699.3,724.2 1699.8,732.5 1700.2,738.5 1700.7,745.4 1701.1,753 1701.6,757.3 1702,762.3 1702.5,766.6 1702.9,769.7 1703.4,770.9 1703.8,772.3 1704.3,775.6 1704.7,775.8 1705.2,776.3 1705.6,779.2 1706.1,783 1706.5,784.2 1707,787 1707.4,788.7 1707.9,790.2 1708.3,793.2 1708.8,795.2 1709.2,792.3 1709.7,787.8 1710.1,782.2 1710.6,778.6 1711,769.7 1711.5,764.6 1711.9,757.8 1712.4,751.7 1712.8,744.4 1713.3,735.4 1713.7,729.7 1714.2,726.5 1714.6,721.5 1715.1,715.9 1715.5,711.7 1716,707.9 1716.4,704.3 1716.9,698.6 1717.3,694.4 1717.8,689.6 1718.2,686.5 1718.7,684.2 1719.1,683.1 1719.6,680.3 1720,675.7 1720.5,670 1720.9,664.8 1721.4,658.8 1721.8,650.9 1722.3,641.1 1722.7,632.1 1723.2,624.6 1723.6,620.9 1724.1,614.5 1724.5,610.4 1725,610.6 1725.4,613.7 1725.9,615 1726.3,617.3 1726.8,621.9 1727.2,626.2 1727.7,630.2 1728.1,637.1 1728.6,648.2 1729,661 1729.5,672.6 1729.9,677.2 1730.4,681.8 1730.8,684.7 1731.3,687.4 1731.7,689.4 1732.2,693.8 1732.6,695.4 1733.1,697.4 1733.5,702.3 1734,715.9 1734.4,729.3 1734.9,743.8 1735.3,757.8 1735.8,763.8 1736.2,770.8 1736.7,776.9 1737.1,779.7 1737.6,782.1 1738,783 1738.5,784.4 1738.9,786.5 1739.4,784 1739.8,783.3 1740.3,780 1740.7,777.7 1741.2,775.8 1741.6,773.4 1742.1,773 1742.5,771.2 1743,768.6 1743.4,762.1 1743.9,757.9 1744.3,753.4 1744.8,749.2 1745.2,746.7 1745.7,742.6 1746.1,743.3 1746.6,741.4 1747,741.2 1747.5,739.7" fill="none" stroke="#000" stroke-width="1.25" stroke-linejoin="round" />
<path d="M1348.8 599V830.8H1746.8" stroke="#333" stroke-width="1.4" fill="none"/>
<path d="M1348.8 830.8V835.5M1393.1 830.8V833.6M1437.4 830.8V835.5M1481.7 830.8V833.6M1526 830.8V835.5M1570.3 830.8V833.6M1614.6 830.8V835.5M1658.9 830.8V833.6M1703.2 830.8V835.5M1747.5 830.8V833.6M1348.8 612.4H1344.3M1348.8 685.2H1344.3M1348.8 758H1344.3M1348.8 830.8H1344.3M1348.8 648.8H1346.2M1348.8 721.6H1346.2M1348.8 794.4H1346.2" stroke="#333" stroke-width="1.3" fill="none"/>
<text x="1341.8" y="620.4" style="font-family:'Liberation Serif',serif;font-size:24.5px;" text-anchor="end" >3</text>
<text x="1341.8" y="693.2" style="font-family:'Liberation Serif',serif;font-size:24.5px;" text-anchor="end" >2</text>
<text x="1341.8" y="766" style="font-family:'Liberation Serif',serif;font-size:24.5px;" text-anchor="end" >1</text>
<text x="1341.8" y="838.8" style="font-family:'Liberation Serif',serif;font-size:24.5px;" text-anchor="end" >0</text>
<text x="1348.8" y="857.8" style="font-family:'Liberation Serif',serif;font-size:24.5px;" text-anchor="middle" >0</text>
<text x="1437.4" y="857.8" style="font-family:'Liberation Serif',serif;font-size:24.5px;" text-anchor="middle" >2</text>
<text x="1526" y="857.8" style="font-family:'Liberation Serif',serif;font-size:24.5px;" text-anchor="middle" >4</text>
<text x="1614.6" y="857.8" style="font-family:'Liberation Serif',serif;font-size:24.5px;" text-anchor="middle" >6</text>
<text x="1703.2" y="857.8" style="font-family:'Liberation Serif',serif;font-size:24.5px;" text-anchor="middle" >8</text>
<text transform="translate(1294,709.5) rotate(-90)" style="font-family:'Liberation Sans',sans-serif;font-size:24.6px" text-anchor="middle">Population (phonons)</text>
<clipPath id="trf3"><rect x="1345.7" y="956.2" width="399.7" height="159.8"/></clipPath>
<path d="M1346.9 992.4 1347.4 986.1 1347.8 982.3 1348.3 976.9 1348.7 972.3 1349.2 969.8 1349.6 965.1 1350.1 967.6 1350.5 975.1 1351 984.3 1351.4 991.9 1351.9 997.5 1352.3 1003.5 1352.8 1009.2 1353.2 1002.1 1353.7 999.3 1354.1 995.9 1354.6 993.1 1355 988.3 1355.5 991.4 1355.9 1007.2 1356.4 1023.2 1356.8 1040.9 1357.3 1057.2 1357.7 1075.2 1358.2 1076.9 1358.6 1072.2 1359.1 1066.5 1359.5 1059.7 1360 1053.7 1360.4 1048.2 1360.9 1042.8 1361.3 1037.1 1361.8 1032.7 1362.2 1025.6 1362.7 1018.4 1363.1 1007.1 1363.6 989.9 1364 974 1364.5 957.2 1364.9 959 1365.4 963.4 1365.8 968.1 1366.3 972.1 1366.7 975.9 1367.2 978 1367.6 978.2 1368.1 968.8 1368.5 960.4 1369 956.6 1369.4 954.2 1369.9 953.2 1370.3 953 1370.8 953.9 1371.2 954.7 1371.7 955.5 1372.1 955.2 1372.6 947.8 1373 940.6 1373.5 924.2 1373.9 903.1 1374.4 882 1374.8 874.7 1375.3 867.7 1375.7 875 1376.2 889.5 1376.6 906.7 1377.1 909.9 1377.5 913.2 1378 923.3 1378.4 944.4 1378.9 961.9 1379.3 977.6 1379.8 988.5 1380.2 1001.3 1380.7 1011.5 1381.1 1013.6 1381.6 1015.7 1382 1018 1382.5 1021.2 1382.9 1026.2 1383.4 1030.4 1383.8 1033.5 1384.3 1038 1384.7 1044.5 1385.2 1051 1385.6 1056.1 1386.1 1061.7 1386.5 1065.3 1387 1063.4 1387.4 1058.4 1387.9 1054.9 1388.3 1053.5 1388.8 1056 1389.2 1055.4 1389.7 1056.8 1390.1 1062.9 1390.6 1069.9 1391 1079.4 1391.5 1084.1 1391.9 1088.8 1392.4 1082 1392.8 1074.8 1393.3 1067.8 1393.7 1060.4 1394.2 1057.3 1394.6 1055.7 1395.1 1051.7 1395.5 1047.4 1396 1044.8 1396.4 1047 1396.9 1050.7 1397.3 1055.4 1397.8 1059 1398.2 1055.4 1398.7 1052.2 1399.1 1047.5 1399.6 1040.9 1400 1036.4 1400.5 1030.6 1400.9 1026.8 1401.4 1024 1401.8 1019.9 1402.3 1018.9 1402.7 1014.8 1403.2 1015.3 1403.6 1015.2 1404.1 1016.6 1404.5 1016.6 1405 1018 1405.4 1017.5 1405.9 1013.3 1406.3 1009 1406.8 1004.7 1407.2 1007 1407.7 1016.7 1408.1 1026.3 1408.6 1036.2 1409 1043.1 1409.5 1049 1409.9 1055.3 1410.4 1061.8 1410.8 1064.7 1411.3 1069.7 1411.7 1074.6 1412.2 1081.8 1412.6 1092.3 1413.1 1101.6 1413.5 1107.6 1414 1102.2 1414.4 1098.4 1414.9 1093.3 1415.3 1087.2 1415.8 1087.4 1416.2 1090.4 1416.7 1093.5 1417.1 1095.1 1417.6 1098 1418 1099.8 1418.5 1100.2 1418.9 1101.7 1419.4 1103.4 1419.8 1105.5 1420.3 1108.7 1420.7 1112.1 1421.2 1114.7 1421.6 1114.2 1422.1 1114 1422.5 1114 1423 1115.3 1423.4 1115.2 1423.9 1114.6 1424.3 1112.4 1424.8 1111 1425.2 1108.7 1425.7 1105.6 1426.1 1099.5 1426.6 1092.8 1427 1087.9 1427.5 1090.2 1427.9 1091.9 1428.4 1091.8 1428.8 1093.8 1429.3 1095.8 1429.7 1089.7 1430.2 1084 1430.6 1079.7 1431.1 1075.9 1431.5 1069.2 1432 1061.6 1432.4 1054.5 1432.9 1047.5 1433.3 1041.3 1433.8 1033.8 1434.2 1027.7 1434.7 1025.5 1435.1 1022 1435.6 1021.3 1436 1023.3 1436.5 1025.2 1436.9 1027.9 1437.4 1024.6 1437.8 1014.6 1438.3 1006.4 1438.7 997 1439.2 995.1 1439.6 999.3 1440.1 1005.6 1440.5 1008.6 1441 1017.9 1441.4 1029.9 1441.9 1035.1 1442.3 1030 1442.8 1023.4 1443.2 1019.5 1443.7 1012.5 1444.1 1007.7 1444.6 1000.8 1445 996.6 1445.5 992.9 1445.9 988.5 1446.4 983.5 1446.8 981.8 1447.3 992.9 1447.7 1003.4 1448.2 1014.1 1448.6 1018.7 1449.1 1021.4 1449.5 1024.6 1450 1028.1 1450.4 1022.7 1450.9 1016.6 1451.3 1010.4 1451.8 1003.3 1452.2 996.9 1452.7 987.1 1453.1 979 1453.6 972.5 1454 965.5 1454.5 960.6 1454.9 951.4 1455.4 938.4 1455.8 923.2 1456.3 925.5 1456.7 930.5 1457.2 934.6 1457.6 934.9 1458.1 931.5 1458.5 927.2 1459 925.4 1459.4 932.4 1459.9 941.8 1460.3 943.3 1460.8 942.4 1461.2 941.3 1461.7 939.8 1462.1 934.9 1462.6 931.5 1463 927.6 1463.5 924.6 1463.9 921.9 1464.4 921.7 1464.8 920.3 1465.3 916.8 1465.7 913 1466.2 907.2 1466.6 906.8 1467.1 916.8 1467.5 925.7 1468 934.8 1468.4 942.1 1468.9 948.6 1469.3 956.9 1469.8 966.5 1470.2 981.8 1470.7 1001 1471.1 1013 1471.6 1008.2 1472 1003.5 1472.5 998.3 1472.9 994.4 1473.4 989.6 1473.8 987.3 1474.3 983 1474.7 982.7 1475.2 980.7 1475.6 979.9 1476.1 977.4 1476.5 974.9 1477 970.6 1477.4 966 1477.9 962.6 1478.3 957.5 1478.8 950.7 1479.2 945.7 1479.7 951.9 1480.1 960.1 1480.6 966.7 1481 966 1481.5 965.2 1481.9 965.1 1482.4 962.8 1482.8 968.5 1483.3 975.4 1483.7 978.5 1484.2 981.4 1484.6 980.1 1485.1 980.1 1485.5 978.1 1486 984 1486.4 988.4 1486.9 993.5 1487.3 998.5 1487.8 1004 1488.2 1008.3 1488.7 1011.3 1489.1 1015.7 1489.6 1019.5 1490 1021.8 1490.5 1024.1 1490.9 1026.2 1491.4 1029.4 1491.8 1031.7 1492.3 1036.6 1492.7 1040.4 1493.2 1043.6 1493.6 1047.3 1494.1 1051.9 1494.5 1056.6 1495 1060.2 1495.4 1064.7 1495.9 1067.7 1496.3 1072 1496.8 1075.8 1497.2 1077.8 1497.7 1080.2 1498.1 1083 1498.6 1084 1499 1085.3 1499.5 1084.9 1499.9 1086.1 1500.4 1083.2 1500.8 1079.8 1501.3 1077.4 1501.7 1076.3 1502.2 1078.7 1502.6 1082 1503.1 1086.4 1503.5 1086.3 1504 1076.8 1504.4 1064.9 1504.9 1056.3 1505.3 1077.4 1505.8 1096.8 1506.2 1115.1 1506.7 1113.5 1507.1 1115.4 1507.6 1115.2 1508 1114.5 1508.5 1115.2 1508.9 1114.5 1509.4 1114.7 1509.8 1114.7 1510.3 1115.4 1510.7 1114.8 1511.2 1114.9 1511.6 1112.6 1512.1 1111 1512.5 1112.3 1513 1106.4 1513.4 1103.6 1513.9 1097.6 1514.3 1094.2 1514.8 1088.8 1515.2 1089.7 1515.7 1091 1516.1 1091 1516.6 1090.9 1517 1083.2 1517.5 1073.7 1517.9 1064.7 1518.4 1055.6 1518.8 1066.8 1519.3 1081.2 1519.7 1092.3 1520.2 1092.7 1520.6 1083.4 1521.1 1074.4 1521.5 1064.9 1522 1056.5 1522.4 1047.4 1522.9 1040.1 1523.3 1032.1 1523.8 1026.4 1524.2 1018.9 1524.7 1012.3 1525.1 1004.1 1525.6 999.1 1526 995.6 1526.5 989.8 1526.9 985.2 1527.4 979.3 1527.8 981.1 1528.3 986.2 1528.7 989.2 1529.2 991 1529.6 990.5 1530.1 989.3 1530.5 989.3 1531 989.1 1531.4 990.7 1531.9 995.2 1532.3 997.4 1532.8 1000.9 1533.2 998.9 1533.7 995.5 1534.1 992.8 1534.6 996.5 1535 1002.3 1535.5 1007.9 1535.9 1016.1 1536.4 1013.7 1536.8 1011.1 1537.3 1008.7 1537.7 1006.9 1538.2 1013.9 1538.6 1022.2 1539.1 1029.8 1539.5 1036.8 1540 1046.9 1540.4 1055.4 1540.9 1063.5 1541.3 1067.9 1541.8 1061.9 1542.2 1057.7 1542.7 1053.5 1543.1 1052.9 1543.6 1059.1 1544 1065.4 1544.5 1070.7 1544.9 1067.7 1545.4 1056.5 1545.8 1046.2 1546.3 1037.2 1546.7 1040.9 1547.2 1043.2 1547.6 1045.6 1548.1 1048.6 1548.5 1044.1 1549 1038 1549.4 1033.7 1549.9 1028.9 1550.3 1021.5 1550.8 1011.6 1551.2 1001.2 1551.7 997.2 1552.1 998.7 1552.6 998.8 1553 998.3 1553.5 1007.4 1553.9 1014.6 1554.4 1021.4 1554.8 1029.1 1555.3 1021.4 1555.7 1008.6 1556.2 993.9 1556.6 983.4 1557.1 970.7 1557.5 971 1558 976.5 1558.4 982.1 1558.9 987.7 1559.3 990.5 1559.8 992.9 1560.2 994.1 1560.7 997.4 1561.1 1001.8 1561.6 1007.7 1562 1012.5 1562.5 1010.2 1562.9 1006.1 1563.4 999.7 1563.8 993.2 1564.3 991.2 1564.7 996.2 1565.2 998.3 1565.6 1002.4 1566.1 1009.4 1566.5 1021.5 1567 1036.4 1567.4 1048.4 1567.9 1039.6 1568.3 1025.7 1568.8 1011.5 1569.2 1002 1569.7 1008.1 1570.1 1013.3 1570.6 1015.8 1571 1018.3 1571.5 1016.6 1571.9 1011.9 1572.4 1009.4 1572.8 1006.4 1573.3 1013.4 1573.7 1021.2 1574.2 1028.6 1574.6 1025.1 1575.1 1017.3 1575.5 1010.9 1576 1004.8 1576.4 1007.2 1576.9 1009.8 1577.3 1012.6 1577.8 1014.1 1578.2 1021.8 1578.7 1029.2 1579.1 1035.9 1579.6 1041.2 1580 1045 1580.5 1050.5 1580.9 1052.7 1581.4 1056.4 1581.8 1062.5 1582.3 1064.8 1582.7 1068.4 1583.2 1065 1583.6 1059.2 1584.1 1052.4 1584.5 1045 1585 1050.4 1585.4 1059.5 1585.9 1067.2 1586.3 1075.4 1586.8 1073.4 1587.2 1064.3 1587.7 1055.4 1588.1 1048.8 1588.6 1053 1589 1059.6 1589.5 1066.2 1589.9 1069 1590.4 1068.6 1590.8 1069 1591.3 1070.5 1591.7 1076.6 1592.2 1084.4 1592.6 1092.8 1593.1 1085.3 1593.5 1080.3 1594 1072.9 1594.4 1068.7 1594.9 1063.5 1595.3 1056.4 1595.8 1053.6 1596.2 1050.4 1596.7 1049.8 1597.1 1049.8 1597.6 1050.4 1598 1051.9 1598.5 1058.2 1598.9 1063 1599.4 1066.9 1599.8 1066.1 1600.3 1062.1 1600.7 1058.4 1601.2 1056.8 1601.6 1049.8 1602.1 1042 1602.5 1037.1 1603 1029.7 1603.4 1020.2 1603.9 1013.6 1604.3 1004.2 1604.8 997.1 1605.2 1004.1 1605.7 1007 1606.1 1013.3 1606.6 1011.5 1607 1004.2 1607.5 998.3 1607.9 992.3 1608.4 990.6 1608.8 987.6 1609.3 987.5 1609.7 984.8 1610.2 990.4 1610.6 996.2 1611.1 1001.2 1611.5 1007.6 1612 1002.7 1612.4 996.5 1612.9 990.3 1613.3 984.5 1613.8 981.5 1614.2 976.6 1614.7 974 1615.1 971.5 1615.6 971.1 1616 967 1616.5 966.2 1616.9 965.8 1617.4 966.5 1617.8 966.7 1618.3 967.2 1618.7 968.4 1619.2 971.8 1619.6 976.8 1620.1 980.6 1620.5 986.6 1621 994 1621.4 999.7 1621.9 1010 1622.3 1019.1 1622.8 1012.4 1623.2 1004.4 1623.7 998.4 1624.1 996.7 1624.6 999.5 1625 1001.2 1625.5 1003 1625.9 1004.5 1626.4 1008.2 1626.8 1010.8 1627.3 1014.1 1627.7 1013.2 1628.2 1006.1 1628.6 998.8 1629.1 994.7 1629.5 988 1630 982.2 1630.4 976 1630.9 973.3 1631.3 969.3 1631.8 967.4 1632.2 965 1632.7 963.5 1633.1 960.9 1633.6 958.3 1634 959.2 1634.5 958 1634.9 954.7 1635.4 952.4 1635.8 951.5 1636.3 947.8 1636.7 944.4 1637.2 942.1 1637.6 940.1 1638.1 935.7 1638.5 931.2 1639 926.6 1639.4 930.2 1639.9 937.1 1640.3 943.6 1640.8 948.4 1641.2 951.4 1641.7 954.8 1642.1 960.3 1642.6 965.8 1643 970 1643.5 976.5 1643.9 982.7 1644.4 986.2 1644.8 990.3 1645.3 995.7 1645.7 999.9 1646.2 1005.9 1646.6 1014.2 1647.1 1023.3 1647.5 1031.3 1648 1036.5 1648.4 1042.3 1648.9 1049.7 1649.3 1055.3 1649.8 1060.9 1650.2 1066.1 1650.7 1070.5 1651.1 1074.2 1651.6 1077.8 1652 1079.8 1652.5 1083.8 1652.9 1091.3 1653.4 1099.2 1653.8 1105.5 1654.3 1114.1 1654.7 1112.4 1655.2 1108.9 1655.6 1106.3 1656.1 1102.5 1656.5 1097.4 1657 1096.2 1657.4 1091.9 1657.9 1088.5 1658.3 1083 1658.8 1076.6 1659.2 1070.5 1659.7 1064.7 1660.1 1060.3 1660.6 1056.5 1661 1054.5 1661.5 1053.9 1661.9 1049.8 1662.4 1048.4 1662.8 1047.9 1663.3 1047 1663.7 1043.3 1664.2 1037.8 1664.6 1031.2 1665.1 1025.1 1665.5 1017.9 1666 1011.8 1666.4 1005 1666.9 999.1 1667.3 993.4 1667.8 987.2 1668.2 983.4 1668.7 988 1669.1 995.2 1669.6 997 1670 1002.6 1670.5 1006.3 1670.9 1011.4 1671.4 1015.8 1671.8 1019.4 1672.3 1021.4 1672.7 1025.8 1673.2 1029.9 1673.6 1028.1 1674.1 1029.8 1674.5 1030.7 1675 1033.8 1675.4 1039.7 1675.9 1044.5 1676.3 1049 1676.8 1053.5 1677.2 1058.7 1677.7 1065.8 1678.1 1063.6 1678.6 1056.7 1679 1050.9 1679.5 1043.7 1679.9 1046.2 1680.4 1047.7 1680.8 1050.4 1681.3 1054.4 1681.7 1057.9 1682.2 1063 1682.6 1068.8 1683.1 1074 1683.5 1080.6 1684 1086.9 1684.4 1090.6 1684.9 1090.4 1685.3 1091.9 1685.8 1088.8 1686.2 1079.9 1686.7 1072.1 1687.1 1062.7 1687.6 1056.4 1688 1054.9 1688.5 1055.8 1688.9 1052.8 1689.4 1053 1689.8 1055 1690.3 1058.1 1690.7 1060.4 1691.2 1066.8 1691.6 1066.9 1692.1 1071.2 1692.5 1074.1 1693 1076.2 1693.4 1076.4 1693.9 1079.4 1694.3 1080.3 1694.8 1080.3 1695.2 1080.7 1695.7 1081.7 1696.1 1081.9 1696.6 1084 1697 1084.9 1697.5 1085.3 1697.9 1089.1 1698.4 1096 1698.8 1103.9 1699.3 1110 1699.7 1108.3 1700.2 1103.8 1700.6 1101.8 1701.1 1098.4 1701.5 1093.8 1702 1091.7 1702.4 1086.8 1702.9 1081.6 1703.3 1088.1 1703.8 1095.7 1704.2 1101.5 1704.7 1109.3 1705.1 1100.5 1705.6 1091.7 1706 1082.5 1706.5 1074.9 1706.9 1070 1707.4 1063 1707.8 1058.3 1708.3 1053.9 1708.7 1048.8 1709.2 1042.3 1709.6 1038.6 1710.1 1032.3 1710.5 1025.7 1711 1019.6 1711.4 1012.7 1711.9 1007.5 1712.3 1000 1712.8 994.3 1713.2 989.4 1713.7 985.1 1714.1 981.1 1714.6 977 1715 967.2 1715.5 958.7 1715.9 950.3 1716.4 943.7 1716.8 935.8 L1716.8 955.6 L1346.9 955.6Z" fill="#a2b8e1" clip-path="url(#trf3)"/>
<line x1="1345.7" y1="955.6" x2="1747.4" y2="955.6" stroke="#222" stroke-width="1.3" stroke-dasharray="5.5 4.5"/>
<polyline points="1345.7,992.4 1346.2,986.1 1346.6,982.3 1347.1,976.9 1347.5,972.3 1348,969.8 1348.4,965.1 1348.9,967.6 1349.3,975.1 1349.8,984.3 1350.2,991.9 1350.7,997.5 1351.1,1003.5 1351.6,1009.2 1352,1002.1 1352.5,999.3 1352.9,995.9 1353.4,993.1 1353.8,988.3 1354.3,991.4 1354.7,1007.2 1355.2,1023.2 1355.6,1040.9 1356.1,1057.2 1356.5,1075.2 1357,1076.9 1357.4,1072.2 1357.9,1066.5 1358.3,1059.7 1358.8,1053.7 1359.2,1048.2 1359.7,1042.8 1360.1,1037.1 1360.6,1032.7 1361,1025.6 1361.5,1018.4 1361.9,1007.1 1362.4,989.9 1362.8,974 1363.3,957.2 1363.7,959 1364.2,963.4 1364.6,968.1 1365.1,972.1 1365.5,975.9 1366,978 1366.4,978.2 1366.9,968.8 1367.3,960.4 1367.8,956.6 1368.2,954.2 1368.7,953.2 1369.1,953 1369.6,953.9 1370,954.7 1370.5,955.5 1370.9,955.2 1371.4,947.8 1371.8,940.6 1372.3,924.2 1372.7,903.1 1373.2,882 1373.6,874.7 1374.1,867.7 1374.5,875 1375,889.5 1375.4,906.7 1375.9,909.9 1376.3,913.2 1376.8,923.3 1377.2,944.4 1377.7,961.9 1378.1,977.6 1378.6,988.5 1379,1001.3 1379.5,1011.5 1379.9,1013.6 1380.4,1015.7 1380.8,1018 1381.3,1021.2 1381.7,1026.2 1382.2,1030.4 1382.6,1033.5 1383.1,1038 1383.5,1044.5 1384,1051 1384.4,1056.1 1384.9,1061.7 1385.3,1065.3 1385.8,1063.4 1386.2,1058.4 1386.7,1054.9 1387.1,1053.5 1387.6,1056 1388,1055.4 1388.5,1056.8 1388.9,1062.9 1389.4,1069.9 1389.8,1079.4 1390.3,1084.1 1390.7,1088.8 1391.2,1082 1391.6,1074.8 1392.1,1067.8 1392.5,1060.4 1393,1057.3 1393.4,1055.7 1393.9,1051.7 1394.3,1047.4 1394.8,1044.8 1395.2,1047 1395.7,1050.7 1396.1,1055.4 1396.6,1059 1397,1055.4 1397.5,1052.2 1397.9,1047.5 1398.4,1040.9 1398.8,1036.4 1399.3,1030.6 1399.7,1026.8 1400.2,1024 1400.6,1019.9 1401.1,1018.9 1401.5,1014.8 1402,1015.3 1402.4,1015.2 1402.9,1016.6 1403.3,1016.6 1403.8,1018 1404.2,1017.5 1404.7,1013.3 1405.1,1009 1405.6,1004.7 1406,1007 1406.5,1016.7 1406.9,1026.3 1407.4,1036.2 1407.8,1043.1 1408.3,1049 1408.7,1055.3 1409.2,1061.8 1409.6,1064.7 1410.1,1069.7 1410.5,1074.6 1411,1081.8 1411.4,1092.3 1411.9,1101.6 1412.3,1107.6 1412.8,1102.2 1413.2,1098.4 1413.7,1093.3 1414.1,1087.2 1414.6,1087.4 1415,1090.4 1415.5,1093.5 1415.9,1095.1 1416.4,1098 1416.8,1099.8 1417.3,1100.2 1417.7,1101.7 1418.2,1103.4 1418.6,1105.5 1419.1,1108.7 1419.5,1112.1 1420,1114.7 1420.4,1114.2 1420.9,1114 1421.3,1114 1421.8,1115.3 1422.2,1115.2 1422.7,1114.6 1423.1,1112.4 1423.6,1111 1424,1108.7 1424.5,1105.6 1424.9,1099.5 1425.4,1092.8 1425.8,1087.9 1426.3,1090.2 1426.7,1091.9 1427.2,1091.8 1427.6,1093.8 1428.1,1095.8 1428.5,1089.7 1429,1084 1429.4,1079.7 1429.9,1075.9 1430.3,1069.2 1430.8,1061.6 1431.2,1054.5 1431.7,1047.5 1432.1,1041.3 1432.6,1033.8 1433,1027.7 1433.5,1025.5 1433.9,1022 1434.4,1021.3 1434.8,1023.3 1435.3,1025.2 1435.7,1027.9 1436.2,1024.6 1436.6,1014.6 1437.1,1006.4 1437.5,997 1438,995.1 1438.4,999.3 1438.9,1005.6 1439.3,1008.6 1439.8,1017.9 1440.2,1029.9 1440.7,1035.1 1441.1,1030 1441.6,1023.4 1442,1019.5 1442.5,1012.5 1442.9,1007.7 1443.4,1000.8 1443.8,996.6 1444.3,992.9 1444.7,988.5 1445.2,983.5 1445.6,981.8 1446.1,992.9 1446.5,1003.4 1447,1014.1 1447.4,1018.7 1447.9,1021.4 1448.3,1024.6 1448.8,1028.1 1449.2,1022.7 1449.7,1016.6 1450.1,1010.4 1450.6,1003.3 1451,996.9 1451.5,987.1 1451.9,979 1452.4,972.5 1452.8,965.5 1453.3,960.6 1453.7,951.4 1454.2,938.4 1454.6,923.2 1455.1,925.5 1455.5,930.5 1456,934.6 1456.4,934.9 1456.9,931.5 1457.3,927.2 1457.8,925.4 1458.2,932.4 1458.7,941.8 1459.1,943.3 1459.6,942.4 1460,941.3 1460.5,939.8 1460.9,934.9 1461.4,931.5 1461.8,927.6 1462.3,924.6 1462.7,921.9 1463.2,921.7 1463.6,920.3 1464.1,916.8 1464.5,913 1465,907.2 1465.4,906.8 1465.9,916.8 1466.3,925.7 1466.8,934.8 1467.2,942.1 1467.7,948.6 1468.1,956.9 1468.6,966.5 1469,981.8 1469.5,1001 1469.9,1013 1470.4,1008.2 1470.8,1003.5 1471.3,998.3 1471.7,994.4 1472.2,989.6 1472.6,987.3 1473.1,983 1473.5,982.7 1474,980.7 1474.4,979.9 1474.9,977.4 1475.3,974.9 1475.8,970.6 1476.2,966 1476.7,962.6 1477.1,957.5 1477.6,950.7 1478,945.7 1478.5,951.9 1478.9,960.1 1479.4,966.7 1479.8,966 1480.3,965.2 1480.7,965.1 1481.2,962.8 1481.6,968.5 1482.1,975.4 1482.5,978.5 1483,981.4 1483.4,980.1 1483.9,980.1 1484.3,978.1 1484.8,984 1485.2,988.4 1485.7,993.5 1486.1,998.5 1486.6,1004 1487,1008.3 1487.5,1011.3 1487.9,1015.7 1488.4,1019.5 1488.8,1021.8 1489.3,1024.1 1489.7,1026.2 1490.2,1029.4 1490.6,1031.7 1491.1,1036.6 1491.5,1040.4 1492,1043.6 1492.4,1047.3 1492.9,1051.9 1493.3,1056.6 1493.8,1060.2 1494.2,1064.7 1494.7,1067.7 1495.1,1072 1495.6,1075.8 1496,1077.8 1496.5,1080.2 1496.9,1083 1497.4,1084 1497.8,1085.3 1498.3,1084.9 1498.7,1086.1 1499.2,1083.2 1499.6,1079.8 1500.1,1077.4 1500.5,1076.3 1501,1078.7 1501.4,1082 1501.9,1086.4 1502.3,1086.3 1502.8,1076.8 1503.2,1064.9 1503.7,1056.3 1504.1,1077.4 1504.6,1096.8 1505,1115.1 1505.5,1113.5 1505.9,1115.4 1506.4,1115.2 1506.8,1114.5 1507.3,1115.2 1507.7,1114.5 1508.2,1114.7 1508.6,1114.7 1509.1,1115.4 1509.5,1114.8 1510,1114.9 1510.4,1112.6 1510.9,1111 1511.3,1112.3 1511.8,1106.4 1512.2,1103.6 1512.7,1097.6 1513.1,1094.2 1513.6,1088.8 1514,1089.7 1514.5,1091 1514.9,1091 1515.4,1090.9 1515.8,1083.2 1516.3,1073.7 1516.7,1064.7 1517.2,1055.6 1517.6,1066.8 1518.1,1081.2 1518.5,1092.3 1519,1092.7 1519.4,1083.4 1519.9,1074.4 1520.3,1064.9 1520.8,1056.5 1521.2,1047.4 1521.7,1040.1 1522.1,1032.1 1522.6,1026.4 1523,1018.9 1523.5,1012.3 1523.9,1004.1 1524.4,999.1 1524.8,995.6 1525.3,989.8 1525.7,985.2 1526.2,979.3 1526.6,981.1 1527.1,986.2 1527.5,989.2 1528,991 1528.4,990.5 1528.9,989.3 1529.3,989.3 1529.8,989.1 1530.2,990.7 1530.7,995.2 1531.1,997.4 1531.6,1000.9 1532,998.9 1532.5,995.5 1532.9,992.8 1533.4,996.5 1533.8,1002.3 1534.3,1007.9 1534.7,1016.1 1535.2,1013.7 1535.6,1011.1 1536.1,1008.7 1536.5,1006.9 1537,1013.9 1537.4,1022.2 1537.9,1029.8 1538.3,1036.8 1538.8,1046.9 1539.2,1055.4 1539.7,1063.5 1540.1,1067.9 1540.6,1061.9 1541,1057.7 1541.5,1053.5 1541.9,1052.9 1542.4,1059.1 1542.8,1065.4 1543.3,1070.7 1543.7,1067.7 1544.2,1056.5 1544.6,1046.2 1545.1,1037.2 1545.5,1040.9 1546,1043.2 1546.4,1045.6 1546.9,1048.6 1547.3,1044.1 1547.8,1038 1548.2,1033.7 1548.7,1028.9 1549.1,1021.5 1549.6,1011.6 1550,1001.2 1550.5,997.2 1550.9,998.7 1551.4,998.8 1551.8,998.3 1552.3,1007.4 1552.7,1014.6 1553.2,1021.4 1553.6,1029.1 1554.1,1021.4 1554.5,1008.6 1555,993.9 1555.4,983.4 1555.9,970.7 1556.3,971 1556.8,976.5 1557.2,982.1 1557.7,987.7 1558.1,990.5 1558.6,992.9 1559,994.1 1559.5,997.4 1559.9,1001.8 1560.4,1007.7 1560.8,1012.5 1561.3,1010.2 1561.7,1006.1 1562.2,999.7 1562.6,993.2 1563.1,991.2 1563.5,996.2 1564,998.3 1564.4,1002.4 1564.9,1009.4 1565.3,1021.5 1565.8,1036.4 1566.2,1048.4 1566.7,1039.6 1567.1,1025.7 1567.6,1011.5 1568,1002 1568.5,1008.1 1568.9,1013.3 1569.4,1015.8 1569.8,1018.3 1570.3,1016.6 1570.7,1011.9 1571.2,1009.4 1571.6,1006.4 1572.1,1013.4 1572.5,1021.2 1573,1028.6 1573.4,1025.1 1573.9,1017.3 1574.3,1010.9 1574.8,1004.8 1575.2,1007.2 1575.7,1009.8 1576.1,1012.6 1576.6,1014.1 1577,1021.8 1577.5,1029.2 1577.9,1035.9 1578.4,1041.2 1578.8,1045 1579.3,1050.5 1579.7,1052.7 1580.2,1056.4 1580.6,1062.5 1581.1,1064.8 1581.5,1068.4 1582,1065 1582.4,1059.2 1582.9,1052.4 1583.3,1045 1583.8,1050.4 1584.2,1059.5 1584.7,1067.2 1585.1,1075.4 1585.6,1073.4 1586,1064.3 1586.5,1055.4 1586.9,1048.8 1587.4,1053 1587.8,1059.6 1588.3,1066.2 1588.7,1069 1589.2,1068.6 1589.6,1069 1590.1,1070.5 1590.5,1076.6 1591,1084.4 1591.4,1092.8 1591.9,1085.3 1592.3,1080.3 1592.8,1072.9 1593.2,1068.7 1593.7,1063.5 1594.1,1056.4 1594.6,1053.6 1595,1050.4 1595.5,1049.8 1595.9,1049.8 1596.4,1050.4 1596.8,1051.9 1597.3,1058.2 1597.7,1063 1598.2,1066.9 1598.6,1066.1 1599.1,1062.1 1599.5,1058.4 1600,1056.8 1600.4,1049.8 1600.9,1042 1601.3,1037.1 1601.8,1029.7 1602.2,1020.2 1602.7,1013.6 1603.1,1004.2 1603.6,997.1 1604,1004.1 1604.5,1007 1604.9,1013.3 1605.4,1011.5 1605.8,1004.2 1606.3,998.3 1606.7,992.3 1607.2,990.6 1607.6,987.6 1608.1,987.5 1608.5,984.8 1609,990.4 1609.4,996.2 1609.9,1001.2 1610.3,1007.6 1610.8,1002.7 1611.2,996.5 1611.7,990.3 1612.1,984.5 1612.6,981.5 1613,976.6 1613.5,974 1613.9,971.5 1614.4,971.1 1614.8,967 1615.3,966.2 1615.7,965.8 1616.2,966.5 1616.6,966.7 1617.1,967.2 1617.5,968.4 1618,971.8 1618.4,976.8 1618.9,980.6 1619.3,986.6 1619.8,994 1620.2,999.7 1620.7,1010 1621.1,1019.1 1621.6,1012.4 1622,1004.4 1622.5,998.4 1622.9,996.7 1623.4,999.5 1623.8,1001.2 1624.3,1003 1624.7,1004.5 1625.2,1008.2 1625.6,1010.8 1626.1,1014.1 1626.5,1013.2 1627,1006.1 1627.4,998.8 1627.9,994.7 1628.3,988 1628.8,982.2 1629.2,976 1629.7,973.3 1630.1,969.3 1630.6,967.4 1631,965 1631.5,963.5 1631.9,960.9 1632.4,958.3 1632.8,959.2 1633.3,958 1633.7,954.7 1634.2,952.4 1634.6,951.5 1635.1,947.8 1635.5,944.4 1636,942.1 1636.4,940.1 1636.9,935.7 1637.3,931.2 1637.8,926.6 1638.2,930.2 1638.7,937.1 1639.1,943.6 1639.6,948.4 1640,951.4 1640.5,954.8 1640.9,960.3 1641.4,965.8 1641.8,970 1642.3,976.5 1642.7,982.7 1643.2,986.2 1643.6,990.3 1644.1,995.7 1644.5,999.9 1645,1005.9 1645.4,1014.2 1645.9,1023.3 1646.3,1031.3 1646.8,1036.5 1647.2,1042.3 1647.7,1049.7 1648.1,1055.3 1648.6,1060.9 1649,1066.1 1649.5,1070.5 1649.9,1074.2 1650.4,1077.8 1650.8,1079.8 1651.3,1083.8 1651.7,1091.3 1652.2,1099.2 1652.6,1105.5 1653.1,1114.1 1653.5,1112.4 1654,1108.9 1654.4,1106.3 1654.9,1102.5 1655.3,1097.4 1655.8,1096.2 1656.2,1091.9 1656.7,1088.5 1657.1,1083 1657.6,1076.6 1658,1070.5 1658.5,1064.7 1658.9,1060.3 1659.4,1056.5 1659.8,1054.5 1660.3,1053.9 1660.7,1049.8 1661.2,1048.4 1661.6,1047.9 1662.1,1047 1662.5,1043.3 1663,1037.8 1663.4,1031.2 1663.9,1025.1 1664.3,1017.9 1664.8,1011.8 1665.2,1005 1665.7,999.1 1666.1,993.4 1666.6,987.2 1667,983.4 1667.5,988 1667.9,995.2 1668.4,997 1668.8,1002.6 1669.3,1006.3 1669.7,1011.4 1670.2,1015.8 1670.6,1019.4 1671.1,1021.4 1671.5,1025.8 1672,1029.9 1672.4,1028.1 1672.9,1029.8 1673.3,1030.7 1673.8,1033.8 1674.2,1039.7 1674.7,1044.5 1675.1,1049 1675.6,1053.5 1676,1058.7 1676.5,1065.8 1676.9,1063.6 1677.4,1056.7 1677.8,1050.9 1678.3,1043.7 1678.7,1046.2 1679.2,1047.7 1679.6,1050.4 1680.1,1054.4 1680.5,1057.9 1681,1063 1681.4,1068.8 1681.9,1074 1682.3,1080.6 1682.8,1086.9 1683.2,1090.6 1683.7,1090.4 1684.1,1091.9 1684.6,1088.8 1685,1079.9 1685.5,1072.1 1685.9,1062.7 1686.4,1056.4 1686.8,1054.9 1687.3,1055.8 1687.7,1052.8 1688.2,1053 1688.6,1055 1689.1,1058.1 1689.5,1060.4 1690,1066.8 1690.4,1066.9 1690.9,1071.2 1691.3,1074.1 1691.8,1076.2 1692.2,1076.4 1692.7,1079.4 1693.1,1080.3 1693.6,1080.3 1694,1080.7 1694.5,1081.7 1694.9,1081.9 1695.4,1084 1695.8,1084.9 1696.3,1085.3 1696.7,1089.1 1697.2,1096 1697.6,1103.9 1698.1,1110 1698.5,1108.3 1699,1103.8 1699.4,1101.8 1699.9,1098.4 1700.3,1093.8 1700.8,1091.7 1701.2,1086.8 1701.7,1081.6 1702.1,1088.1 1702.6,1095.7 1703,1101.5 1703.5,1109.3 1703.9,1100.5 1704.4,1091.7 1704.8,1082.5 1705.3,1074.9 1705.7,1070 1706.2,1063 1706.6,1058.3 1707.1,1053.9 1707.5,1048.8 1708,1042.3 1708.4,1038.6 1708.9,1032.3 1709.3,1025.7 1709.8,1019.6 1710.2,1012.7 1710.7,1007.5 1711.1,1000 1711.6,994.3 1712,989.4 1712.5,985.1 1712.9,981.1 1713.4,977 1713.8,967.2 1714.3,958.7 1714.7,950.3 1715.2,943.7 1715.6,935.8 1716.1,931.5 1716.5,930 1717,925.5 1717.4,918.8 1717.9,914.7 1718.3,908.3 1718.8,898.3 1719.2,889.3 1719.7,890 1720.1,901.6 1720.6,911.5 1721,927 1721.5,942.3 1721.9,953.4 1722.4,954.5 1722.8,955.6 1723.3,958.6 1723.7,961.5 1724.2,964.5 1724.6,968.5 1725.1,971.2 1725.5,973.7 1726,981.9 1726.4,988.9 1726.9,993.1 1727.3,1001 1727.8,1010.1 1728.2,1022.4 1728.7,1031.5 1729.1,1042.9 1729.6,1054.9 1730,1059.5 1730.5,1063.6" fill="none" stroke="#000" stroke-width="1.25" stroke-linejoin="round" />
<path d="M1345.7 861.2V1115.4H1745.4" stroke="#333" stroke-width="1.4" fill="none"/>
<path d="M1345.7 1115.4V1120.1M1390 1115.4V1118.2M1434.3 1115.4V1120.1M1478.6 1115.4V1118.2M1522.9 1115.4V1120.1M1567.2 1115.4V1118.2M1611.5 1115.4V1120.1M1655.8 1115.4V1118.2M1700.1 1115.4V1120.1M1744.4 1115.4V1118.2M1345.7 875.7H1341.2M1345.7 955.6H1341.2M1345.7 1035.5H1341.2M1345.7 1115.4H1341.2M1345.7 915.7H1343.1M1345.7 995.6H1343.1M1345.7 1075.5H1343.1" stroke="#333" stroke-width="1.3" fill="none"/>
<text x="1338.7" y="883.7" style="font-family:'Liberation Serif',serif;font-size:24.5px;" text-anchor="end" >1.5</text>
<text x="1338.7" y="963.6" style="font-family:'Liberation Serif',serif;font-size:24.5px;" text-anchor="end" >1.0</text>
<text x="1338.7" y="1043.5" style="font-family:'Liberation Serif',serif;font-size:24.5px;" text-anchor="end" >0.5</text>
<text x="1338.7" y="1123.4" style="font-family:'Liberation Serif',serif;font-size:24.5px;" text-anchor="end" >0.0</text>
<text x="1345.7" y="1142.4" style="font-family:'Liberation Serif',serif;font-size:24.5px;" text-anchor="middle" >0</text>
<text x="1434.3" y="1142.4" style="font-family:'Liberation Serif',serif;font-size:24.5px;" text-anchor="middle" >2</text>
<text x="1522.9" y="1142.4" style="font-family:'Liberation Serif',serif;font-size:24.5px;" text-anchor="middle" >4</text>
<text x="1611.5" y="1142.4" style="font-family:'Liberation Serif',serif;font-size:24.5px;" text-anchor="middle" >6</text>
<text x="1700.1" y="1142.4" style="font-family:'Liberation Serif',serif;font-size:24.5px;" text-anchor="middle" >8</text>
<text transform="translate(1294,987) rotate(-90)" style="font-family:'Liberation Sans',sans-serif;font-size:24.6px" text-anchor="middle">Population (phonons)</text>
<path d="M1500 879V930.4H1494.3L1503.4 939.6L1512.5 930.4H1507.8V879Z" fill="url(#gold)" stroke="#000" stroke-width="1.8" stroke-linejoin="miter"/>
<text x="1543.7" y="1173" style="font-family:'Liberation Sans',sans-serif;font-size:24.5px" text-anchor="middle">Time (hours)</text>
<rect x="1796" y="43.4" width="11.7" height="24.3" fill="url(#hatch)" stroke="#ff9a3c" stroke-width="1"/>
<rect x="1796" y="67.7" width="5.4" height="24.3" fill="url(#hatch)" stroke="#ff9a3c" stroke-width="1"/>
<rect x="1796" y="92.1" width="44.7" height="24.3" fill="url(#hatch)" stroke="#ff9a3c" stroke-width="1"/>
<rect x="1796" y="116.4" width="115" height="24.3" fill="url(#hatch)" stroke="#ff9a3c" stroke-width="1"/>
<rect x="1796" y="140.7" width="170.3" height="24.3" fill="url(#hatch)" stroke="#ff9a3c" stroke-width="1"/>
<rect x="1796" y="165" width="127" height="24.3" fill="url(#hatch)" stroke="#ff9a3c" stroke-width="1"/>
<rect x="1796" y="189.3" width="63.1" height="24.3" fill="url(#hatch)" stroke="#ff9a3c" stroke-width="1"/>
<rect x="1796" y="213.7" width="34.7" height="24.3" fill="url(#hatch)" stroke="#ff9a3c" stroke-width="1"/>
<rect x="1796" y="238" width="11.7" height="24.3" fill="url(#hatch)" stroke="#ff9a3c" stroke-width="1"/>
<path d="M1796 19V292.8" stroke="#6a6a6a" stroke-width="1.8" fill="none"/>
<path d="M1796 292.8H1979.5" stroke="#222" stroke-width="1.4" fill="none"/>
<path d="M1796 49.5H1790M1796 140.7H1790M1796 231.9H1790M1796 95.1H1792.5M1796 186.3H1792.5M1796 277.5H1792.5M1796 292.8V298.8M1865.7 292.8V298.8M1935.4 292.8V298.8M1830.8 292.8V296.3M1900.5 292.8V296.3M1970.2 292.8V296.3" stroke="#333" stroke-width="1.3" fill="none"/>
<polyline points="1796.1,297.6 1796.2,296.1 1796.2,294.7 1796.2,293.3 1796.2,291.9 1796.3,290.5 1796.3,289.1 1796.4,287.7 1796.4,286.2 1796.5,284.8 1796.5,283.4 1796.6,282 1796.7,280.6 1796.8,279.2 1796.9,277.8 1797,276.3 1797.1,274.9 1797.3,273.5 1797.4,272.1 1797.6,270.7 1797.8,269.3 1798,267.9 1798.2,266.4 1798.5,265 1798.8,263.6 1799.1,262.2 1799.5,260.8 1799.9,259.4 1800.3,258 1800.7,256.5 1801.3,255.1 1801.8,253.7 1802.4,252.3 1803.1,250.9 1803.8,249.5 1804.5,248.1 1805.4,246.6 1806.2,245.2 1807.2,243.8 1808.2,242.4 1809.3,241 1810.5,239.6 1811.8,238.2 1813.1,236.7 1814.6,235.3 1816.1,233.9 1817.7,232.5 1819.5,231.1 1821.3,229.7 1823.2,228.2 1825.2,226.8 1827.3,225.4 1829.6,224 1831.9,222.6 1834.4,221.2 1836.9,219.8 1839.6,218.3 1842.3,216.9 1845.2,215.5 1848.1,214.1 1851.2,212.7 1854.3,211.3 1857.6,209.9 1860.9,208.4 1864.3,207 1867.7,205.6 1871.3,204.2 1874.9,202.8 1878.5,201.4 1882.2,200 1885.9,198.5 1889.6,197.1 1893.4,195.7 1897.1,194.3 1900.8,192.9 1904.5,191.5 1908.2,190.1 1911.8,188.6 1915.4,187.2 1918.9,185.8 1922.3,184.4 1925.6,183 1928.8,181.6 1931.9,180.2 1934.8,178.7 1937.6,177.3 1940.3,175.9 1942.8,174.5 1945.1,173.1 1947.2,171.7 1949.1,170.3 1950.8,168.8 1952.3,167.4 1953.5,166 1954.6,164.6 1955.4,163.2 1956,161.8 1956.4,160.3 1956.5,158.9 1956.4,157.5 1956,156.1 1955.4,154.7 1954.6,153.3 1953.5,151.9 1952.3,150.4 1950.8,149 1949.1,147.6 1947.1,146.2 1945,144.8 1942.7,143.4 1940.3,142 1937.6,140.5 1934.8,139.1 1931.9,137.7 1928.8,136.3 1925.6,134.9 1922.3,133.5 1918.9,132.1 1915.4,130.6 1911.8,129.2 1908.2,127.8 1904.5,126.4 1900.8,125 1897.1,123.6 1893.3,122.2 1889.6,120.7 1885.9,119.3 1882.2,117.9 1878.5,116.5 1874.8,115.1 1871.2,113.7 1867.7,112.3 1864.2,110.8 1860.9,109.4 1857.5,108 1854.3,106.6 1851.2,105.2 1848.1,103.8 1845.1,102.4 1842.3,100.9 1839.5,99.5 1836.9,98.1 1834.3,96.7 1831.9,95.3 1829.6,93.9 1827.3,92.4 1825.2,91 1823.2,89.6 1821.3,88.2 1819.4,86.8 1817.7,85.4 1816.1,84 1814.6,82.5 1813.1,81.1 1811.8,79.7 1810.5,78.3 1809.3,76.9 1808.2,75.5 1807.2,74.1 1806.2,72.6 1805.3,71.2 1804.5,69.8 1803.8,68.4 1803.1,67 1802.4,65.6 1801.8,64.2 1801.3,62.7 1800.7,61.3 1800.3,59.9 1799.9,58.5 1799.5,57.1 1799.1,55.7 1798.8,54.3 1798.5,52.8 1798.2,51.4 1798,50 1797.8,48.6 1797.6,47.2 1797.4,45.8 1797.3,44.4 1797.1,42.9 1797,41.5 1796.9,40.1 1796.8,38.7 1796.7,37.3 1796.6,35.9 1796.5,34.4 1796.5,33 1796.4,31.6 1796.4,30.2 1796.3,28.8 1796.3,27.4 1796.2,26 1796.2,24.5 1796.2,23.1 1796.2,21.7 1796.1,20.3 1796.1,18.9 1796.1,17.5 1796.1,16.1" fill="none" stroke="#ff8000" stroke-width="2.7" stroke-linejoin="round" />
<text x="1789" y="56.5" style="font-family:'Liberation Serif',serif;font-size:20.5px;" text-anchor="end" >315</text>
<text x="1789" y="147.7" style="font-family:'Liberation Serif',serif;font-size:20.5px;" text-anchor="end" >300</text>
<text x="1789" y="238.9" style="font-family:'Liberation Serif',serif;font-size:20.5px;" text-anchor="end" >285</text>
<text x="1796" y="316.6" style="font-family:'Liberation Serif',serif;font-size:20.5px;" text-anchor="middle" >0</text>
<text x="1865.7" y="316.6" style="font-family:'Liberation Serif',serif;font-size:20.5px;" text-anchor="middle" >4000</text>
<text x="1935.4" y="316.6" style="font-family:'Liberation Serif',serif;font-size:20.5px;" text-anchor="middle" >8000</text>
<text x="1981" y="50" style="font-family:'DejaVu Serif',serif;font-size:22.5px" text-anchor="end"><tspan font-style="italic">n</tspan> ≈ 297</text>
<rect x="1796.1" y="319.2" width="6.9" height="31.1" fill="url(#hatch)" stroke="#ff9a3c" stroke-width="1"/>
<rect x="1796.1" y="350.3" width="50.7" height="31.1" fill="url(#hatch)" stroke="#ff9a3c" stroke-width="1"/>
<rect x="1796.1" y="381.4" width="93.2" height="31.1" fill="url(#hatch)" stroke="#ff9a3c" stroke-width="1"/>
<rect x="1796.1" y="412.4" width="171.8" height="31.1" fill="url(#hatch)" stroke="#ff9a3c" stroke-width="1"/>
<rect x="1796.1" y="443.5" width="138.7" height="31.1" fill="url(#hatch)" stroke="#ff9a3c" stroke-width="1"/>
<rect x="1796.1" y="474.6" width="105.2" height="31.1" fill="url(#hatch)" stroke="#ff9a3c" stroke-width="1"/>
<rect x="1796.1" y="505.6" width="36.1" height="31.1" fill="url(#hatch)" stroke="#ff9a3c" stroke-width="1"/>
<rect x="1796.1" y="536.7" width="9.4" height="31.1" fill="url(#hatch)" stroke="#ff9a3c" stroke-width="1"/>
<path d="M1796.1 335.5V567.9" stroke="#6a6a6a" stroke-width="1.8" fill="none"/>
<path d="M1796.1 567.9H1981.2" stroke="#222" stroke-width="1.4" fill="none"/>
<path d="M1796.1 350.3H1790.1M1796.1 443.5H1790.1M1796.1 536.7H1790.1M1796.1 396.9H1792.6M1796.1 490.1H1792.6M1796.1 567.9V573.9M1882 567.9V573.9M1967.9 567.9V573.9M1839 567.9V571.4M1924.9 567.9V571.4" stroke="#333" stroke-width="1.3" fill="none"/>
<polyline points="1798.3,567.8 1798.5,566.6 1798.7,565.4 1798.9,564.2 1799.1,563.1 1799.4,561.9 1799.6,560.7 1799.9,559.5 1800.2,558.3 1800.5,557.2 1800.9,556 1801.3,554.8 1801.7,553.6 1802.1,552.5 1802.5,551.3 1803,550.1 1803.5,548.9 1804.1,547.7 1804.6,546.6 1805.2,545.4 1805.9,544.2 1806.6,543 1807.3,541.8 1808,540.7 1808.8,539.5 1809.7,538.3 1810.6,537.1 1811.5,536 1812.5,534.8 1813.5,533.6 1814.6,532.4 1815.7,531.2 1816.9,530.1 1818.1,528.9 1819.4,527.7 1820.8,526.5 1822.1,525.3 1823.6,524.2 1825.1,523 1826.7,521.8 1828.3,520.6 1830,519.4 1831.8,518.3 1833.6,517.1 1835.5,515.9 1837.4,514.7 1839.4,513.6 1841.5,512.4 1843.6,511.2 1845.8,510 1848.1,508.8 1850.4,507.7 1852.7,506.5 1855.1,505.3 1857.6,504.1 1860.1,502.9 1862.7,501.8 1865.3,500.6 1868,499.4 1870.7,498.2 1873.5,497.1 1876.3,495.9 1879.1,494.7 1882,493.5 1884.9,492.3 1887.8,491.2 1890.7,490 1893.7,488.8 1896.6,487.6 1899.6,486.4 1902.6,485.3 1905.6,484.1 1908.5,482.9 1911.5,481.7 1914.4,480.5 1917.4,479.4 1920.3,478.2 1923.1,477 1926,475.8 1928.8,474.7 1931.5,473.5 1934.2,472.3 1936.8,471.1 1939.4,469.9 1941.9,468.8 1944.3,467.6 1946.7,466.4 1949,465.2 1951.1,464 1953.2,462.9 1955.2,461.7 1957.1,460.5 1958.9,459.3 1960.6,458.2 1962.1,457 1963.6,455.8 1964.9,454.6 1966.1,453.4 1967.1,452.3 1968.1,451.1 1968.9,449.9 1969.6,448.7 1970.1,447.5 1970.5,446.4 1970.8,445.2 1970.9,444 1970.9,442.8 1970.7,441.6 1970.5,440.5 1970,439.3 1969.5,438.1 1968.8,436.9 1968,435.8 1967,434.6 1965.9,433.4 1964.7,432.2 1963.4,431 1961.9,429.9 1960.3,428.7 1958.6,427.5 1956.9,426.3 1954.9,425.1 1952.9,424 1950.8,422.8 1948.7,421.6 1946.4,420.4 1944,419.3 1941.6,418.1 1939.1,416.9 1936.5,415.7 1933.8,414.5 1931.1,413.4 1928.4,412.2 1925.6,411 1922.7,409.8 1919.9,408.6 1917,407.5 1914,406.3 1911.1,405.1 1908.1,403.9 1905.1,402.7 1902.2,401.6 1899.2,400.4 1896.2,399.2 1893.2,398 1890.3,396.9 1887.4,395.7 1884.4,394.5 1881.6,393.3 1878.7,392.1 1875.9,391 1873.1,389.8 1870.3,388.6 1867.6,387.4 1865,386.2 1862.3,385.1 1859.8,383.9 1857.3,382.7 1854.8,381.5 1852.4,380.4 1850,379.2 1847.7,378 1845.5,376.8 1843.3,375.6 1841.2,374.5 1839.1,373.3 1837.2,372.1 1835.2,370.9 1833.4,369.7 1831.5,368.6 1829.8,367.4 1828.1,366.2 1826.5,365 1824.9,363.8 1823.4,362.7 1822,361.5 1820.6,360.3 1819.2,359.1 1817.9,358 1816.7,356.8 1815.5,355.6 1814.4,354.4 1813.4,353.2 1812.3,352.1 1811.4,350.9 1810.4,349.7 1809.6,348.5 1808.7,347.3 1807.9,346.2 1807.2,345 1806.5,343.8 1805.8,342.6 1805.2,341.5 1804.6,340.3 1804,339.1 1803.5,337.9 1803,336.7 1802.5,335.6 1802,334.4 1801.6,333.2" fill="none" stroke="#ff8000" stroke-width="2.7" stroke-linejoin="round" />
<text x="1789.1" y="357.3" style="font-family:'Liberation Serif',serif;font-size:20.5px;" text-anchor="end" >21</text>
<text x="1789.1" y="450.5" style="font-family:'Liberation Serif',serif;font-size:20.5px;" text-anchor="end" >18</text>
<text x="1789.1" y="543.7" style="font-family:'Liberation Serif',serif;font-size:20.5px;" text-anchor="end" >15</text>
<text x="1796.1" y="590.8" style="font-family:'Liberation Serif',serif;font-size:20.5px;" text-anchor="middle" >0</text>
<text x="1882" y="590.8" style="font-family:'Liberation Serif',serif;font-size:20.5px;" text-anchor="middle" >200</text>
<text x="1967.9" y="590.8" style="font-family:'Liberation Serif',serif;font-size:20.5px;" text-anchor="middle" >400</text>
<text x="1976" y="358.4" style="font-family:'DejaVu Serif',serif;font-size:22.5px" text-anchor="end"><tspan font-style="italic">n</tspan> ≈ 18</text>
<rect x="1796.1" y="596.1" width="6" height="29.5" fill="url(#hatch)" stroke="#ff9a3c" stroke-width="1"/>
<rect x="1796.1" y="625.6" width="59.4" height="29.5" fill="url(#hatch)" stroke="#ff9a3c" stroke-width="1"/>
<rect x="1796.1" y="655.1" width="107.2" height="29.5" fill="url(#hatch)" stroke="#ff9a3c" stroke-width="1"/>
<rect x="1796.1" y="684.6" width="140.2" height="29.5" fill="url(#hatch)" stroke="#ff9a3c" stroke-width="1"/>
<rect x="1796.1" y="714.1" width="173.6" height="29.5" fill="url(#hatch)" stroke="#ff9a3c" stroke-width="1"/>
<rect x="1796.1" y="743.6" width="133.1" height="29.5" fill="url(#hatch)" stroke="#ff9a3c" stroke-width="1"/>
<rect x="1796.1" y="773.1" width="58.7" height="29.5" fill="url(#hatch)" stroke="#ff9a3c" stroke-width="1"/>
<rect x="1796.1" y="802.6" width="15" height="29.5" fill="url(#hatch)" stroke="#ff9a3c" stroke-width="1"/>
<path d="M1796.1 596.5V832.7" stroke="#6a6a6a" stroke-width="1.8" fill="none"/>
<path d="M1796.1 832.7H1983" stroke="#222" stroke-width="1.4" fill="none"/>
<path d="M1796.1 631.5H1790.1M1796.1 690.5H1790.1M1796.1 749.5H1790.1M1796.1 808.5H1790.1M1796.1 602H1792.6M1796.1 661H1792.6M1796.1 720H1792.6M1796.1 779H1792.6M1796.1 832.7V838.7M1860.4 832.7V838.7M1924.7 832.7V838.7M1828.2 832.7V836.2M1892.5 832.7V836.2M1956.8 832.7V836.2" stroke="#333" stroke-width="1.3" fill="none"/>
<polyline points="1803.3,830.9 1803.9,829.7 1804.4,828.6 1805,827.4 1805.6,826.2 1806.2,825 1806.9,823.8 1807.6,822.7 1808.4,821.5 1809.1,820.3 1810,819.1 1810.9,817.9 1811.8,816.8 1812.7,815.6 1813.7,814.4 1814.8,813.2 1815.9,812 1817,810.9 1818.2,809.7 1819.5,808.5 1820.8,807.3 1822.2,806.1 1823.6,805 1825.1,803.8 1826.6,802.6 1828.2,801.4 1829.8,800.2 1831.5,799.1 1833.3,797.9 1835.1,796.7 1837,795.5 1839,794.3 1841,793.2 1843,792 1845.1,790.8 1847.3,789.6 1849.5,788.4 1851.8,787.3 1854.2,786.1 1856.6,784.9 1859.1,783.7 1861.6,782.5 1864.1,781.4 1866.7,780.2 1869.4,779 1872.1,777.8 1874.8,776.6 1877.6,775.5 1880.4,774.3 1883.3,773.1 1886.1,771.9 1889,770.7 1892,769.6 1894.9,768.4 1897.9,767.2 1900.9,766 1903.9,764.8 1906.9,763.7 1909.9,762.5 1912.8,761.3 1915.8,760.1 1918.8,758.9 1921.7,757.8 1924.7,756.6 1927.6,755.4 1930.4,754.2 1933.2,753 1936,751.9 1938.8,750.7 1941.4,749.5 1944.1,748.3 1946.6,747.1 1949.1,746 1951.5,744.8 1953.9,743.6 1956.2,742.4 1958.3,741.2 1960.4,740.1 1962.4,738.9 1964.3,737.7 1966.1,736.5 1967.8,735.3 1969.4,734.2 1970.8,733 1972.2,731.8 1973.4,730.6 1974.5,729.4 1975.5,728.3 1976.3,727.1 1977.1,725.9 1977.6,724.7 1978.1,723.5 1978.4,722.4 1978.6,721.2 1978.7,720 1978.6,718.8 1978.4,717.6 1978.1,716.5 1977.6,715.3 1977.1,714.1 1976.3,712.9 1975.5,711.7 1974.5,710.6 1973.4,709.4 1972.2,708.2 1970.8,707 1969.4,705.8 1967.8,704.7 1966.1,703.5 1964.3,702.3 1962.4,701.1 1960.4,699.9 1958.3,698.8 1956.2,697.6 1953.9,696.4 1951.5,695.2 1949.1,694 1946.6,692.9 1944.1,691.7 1941.4,690.5 1938.8,689.3 1936,688.1 1933.2,687 1930.4,685.8 1927.6,684.6 1924.7,683.4 1921.7,682.2 1918.8,681.1 1915.8,679.9 1912.8,678.7 1909.9,677.5 1906.9,676.3 1903.9,675.2 1900.9,674 1897.9,672.8 1894.9,671.6 1892,670.4 1889,669.3 1886.1,668.1 1883.3,666.9 1880.4,665.7 1877.6,664.5 1874.8,663.4 1872.1,662.2 1869.4,661 1866.7,659.8 1864.1,658.6 1861.6,657.5 1859.1,656.3 1856.6,655.1 1854.2,653.9 1851.8,652.7 1849.5,651.6 1847.3,650.4 1845.1,649.2 1843,648 1841,646.8 1839,645.7 1837,644.5 1835.1,643.3 1833.3,642.1 1831.5,640.9 1829.8,639.8 1828.2,638.6 1826.6,637.4 1825.1,636.2 1823.6,635 1822.2,633.9 1820.8,632.7 1819.5,631.5 1818.2,630.3 1817,629.1 1815.9,628 1814.8,626.8 1813.7,625.6 1812.7,624.4 1811.8,623.2 1810.9,622.1 1810,620.9 1809.1,619.7 1808.4,618.5 1807.6,617.3 1806.9,616.2 1806.2,615 1805.6,613.8 1805,612.6 1804.4,611.4 1803.9,610.3 1803.3,609.1 1802.9,607.9 1802.4,606.7 1802,605.5 1801.6,604.4 1801.2,603.2 1800.8,602 1800.5,600.8 1800.2,599.6 1799.9,598.5 1799.6,597.3 1799.4,596.1" fill="none" stroke="#ff8000" stroke-width="2.7" stroke-linejoin="round" />
<text x="1789.1" y="638.5" style="font-family:'Liberation Serif',serif;font-size:20.5px;" text-anchor="end" >3</text>
<text x="1789.1" y="697.5" style="font-family:'Liberation Serif',serif;font-size:20.5px;" text-anchor="end" >2</text>
<text x="1789.1" y="756.5" style="font-family:'Liberation Serif',serif;font-size:20.5px;" text-anchor="end" >1</text>
<text x="1789.1" y="815.5" style="font-family:'Liberation Serif',serif;font-size:20.5px;" text-anchor="end" >0</text>
<text x="1796.1" y="856.8" style="font-family:'Liberation Serif',serif;font-size:20.5px;" text-anchor="middle" >0</text>
<text x="1860.4" y="856.8" style="font-family:'Liberation Serif',serif;font-size:20.5px;" text-anchor="middle" >300</text>
<text x="1924.7" y="856.8" style="font-family:'Liberation Serif',serif;font-size:20.5px;" text-anchor="middle" >600</text>
<text x="1980" y="638.4" style="font-family:'DejaVu Serif',serif;font-size:22.5px" text-anchor="end"><tspan font-style="italic">n</tspan> ≈ 1.5</text>
<rect x="1793.9" y="891.3" width="8.2" height="18.5" fill="url(#hatch)" stroke="#ff9a3c" stroke-width="1"/>
<rect x="1793.9" y="909.8" width="10.6" height="18.5" fill="url(#hatch)" stroke="#ff9a3c" stroke-width="1"/>
<rect x="1793.9" y="928.3" width="6.6" height="18.5" fill="url(#hatch)" stroke="#ff9a3c" stroke-width="1"/>
<rect x="1793.9" y="946.9" width="17.4" height="18.5" fill="url(#hatch)" stroke="#ff9a3c" stroke-width="1"/>
<rect x="1793.9" y="965.4" width="61.2" height="18.5" fill="url(#hatch)" stroke="#ff9a3c" stroke-width="1"/>
<rect x="1793.9" y="983.9" width="127.2" height="18.5" fill="url(#hatch)" stroke="#ff9a3c" stroke-width="1"/>
<rect x="1793.9" y="1002.4" width="174.2" height="18.5" fill="url(#hatch)" stroke="#ff9a3c" stroke-width="1"/>
<rect x="1793.9" y="1020.9" width="156.3" height="18.5" fill="url(#hatch)" stroke="#ff9a3c" stroke-width="1"/>
<rect x="1793.9" y="1039.5" width="156.3" height="18.5" fill="url(#hatch)" stroke="#ff9a3c" stroke-width="1"/>
<rect x="1793.9" y="1058" width="76.3" height="18.5" fill="url(#hatch)" stroke="#ff9a3c" stroke-width="1"/>
<rect x="1793.9" y="1076.5" width="19" height="18.5" fill="url(#hatch)" stroke="#ff9a3c" stroke-width="1"/>
<path d="M1793.9 872.3V1113.3" stroke="#6a6a6a" stroke-width="1.8" fill="none"/>
<path d="M1793.9 1113.3H1981.8" stroke="#222" stroke-width="1.4" fill="none"/>
<path d="M1793.9 891.3H1787.9M1793.9 983.9H1787.9M1793.9 1076.5H1787.9M1793.9 937.6H1790.4M1793.9 1030.2H1790.4M1793.9 1113.3V1119.3M1879.3 1113.3V1119.3M1964.7 1113.3V1119.3M1836.6 1113.3V1116.8M1922 1113.3V1116.8" stroke="#333" stroke-width="1.3" fill="none"/>
<polyline points="1801,1114.5 1801.6,1113.3 1802.2,1112 1802.9,1110.8 1803.7,1109.6 1804.4,1108.4 1805.3,1107.2 1806.2,1106 1807.2,1104.7 1808.2,1103.5 1809.2,1102.3 1810.4,1101.1 1811.6,1099.9 1812.9,1098.7 1814.2,1097.5 1815.6,1096.2 1817.1,1095 1818.7,1093.8 1820.3,1092.6 1822,1091.4 1823.8,1090.2 1825.7,1089 1827.6,1087.7 1829.6,1086.5 1831.7,1085.3 1833.9,1084.1 1836.2,1082.9 1838.5,1081.7 1841,1080.5 1843.5,1079.2 1846,1078 1848.7,1076.8 1851.4,1075.6 1854.2,1074.4 1857.1,1073.2 1860,1072 1863,1070.7 1866,1069.5 1869.1,1068.3 1872.2,1067.1 1875.4,1065.9 1878.6,1064.7 1881.8,1063.5 1885.1,1062.2 1888.3,1061 1891.6,1059.8 1894.9,1058.6 1898.2,1057.4 1901.5,1056.2 1904.7,1055 1907.9,1053.7 1911.1,1052.5 1914.3,1051.3 1917.3,1050.1 1920.4,1048.9 1923.3,1047.7 1926.2,1046.5 1929,1045.2 1931.7,1044 1934.3,1042.8 1936.8,1041.6 1939.2,1040.4 1941.5,1039.2 1943.6,1038 1945.6,1036.7 1947.4,1035.5 1949.1,1034.3 1950.7,1033.1 1952.1,1031.9 1953.3,1030.7 1954.3,1029.5 1955.2,1028.2 1955.9,1027 1956.5,1025.8 1956.8,1024.6 1957,1023.4 1957,1022.2 1956.8,1020.9 1956.4,1019.7 1955.9,1018.5 1955.2,1017.3 1954.3,1016.1 1953.2,1014.9 1952,1013.7 1950.6,1012.4 1949.1,1011.2 1947.4,1010 1945.5,1008.8 1943.5,1007.6 1941.4,1006.4 1939.1,1005.2 1936.7,1003.9 1934.2,1002.7 1931.6,1001.5 1928.9,1000.3 1926.1,999.1 1923.2,997.9 1920.3,996.7 1917.2,995.4 1914.2,994.2 1911,993 1907.8,991.8 1904.6,990.6 1901.4,989.4 1898.1,988.2 1894.8,986.9 1891.5,985.7 1888.2,984.5 1885,983.3 1881.7,982.1 1878.5,980.9 1875.3,979.7 1872.1,978.4 1869,977.2 1865.9,976 1862.9,974.8 1859.9,973.6 1857,972.4 1854.1,971.2 1851.3,969.9 1848.6,968.7 1846,967.5 1843.4,966.3 1840.9,965.1 1838.5,963.9 1836.1,962.7 1833.9,961.4 1831.7,960.2 1829.6,959 1827.5,957.8 1825.6,956.6 1823.7,955.4 1821.9,954.2 1820.2,952.9 1818.6,951.7 1817,950.5 1815.6,949.3 1814.2,948.1 1812.8,946.9 1811.5,945.7 1810.3,944.4 1809.2,943.2 1808.1,942 1807.1,940.8 1806.2,939.6 1805.3,938.4 1804.4,937.1 1803.6,935.9 1802.9,934.7 1802.2,933.5 1801.5,932.3 1800.9,931.1 1800.4,929.9 1799.8,928.6 1799.4,927.4 1798.9,926.2 1798.5,925 1798.1,923.8 1797.7,922.6 1797.4,921.4 1797.1,920.1 1796.8,918.9 1796.5,917.7 1796.3,916.5 1796.1,915.3 1795.9,914.1 1795.7,912.9 1795.5,911.6 1795.4,910.4 1795.2,909.2 1795.1,908 1795,906.8 1794.9,905.6 1794.8,904.4 1794.7,903.1 1794.6,901.9 1794.5,900.7 1794.5,899.5 1794.4,898.3 1794.3,897.1 1794.3,895.9 1794.3,894.6 1794.2,893.4 1794.2,892.2 1794.1,891 1794.1,889.8 1794.1,888.6 1794.1,887.4 1794.1,886.1 1794,884.9 1794,883.7 1794,882.5 1794,881.3 1794,880.1 1794,878.9 1794,877.6 1794,876.4 1793.9,875.2 1793.9,874 1793.9,872.8" fill="none" stroke="#ff8000" stroke-width="2.7" stroke-linejoin="round" />
<text x="1786.9" y="898.3" style="font-family:'Liberation Serif',serif;font-size:20.5px;" text-anchor="end" >2</text>
<text x="1786.9" y="990.9" style="font-family:'Liberation Serif',serif;font-size:20.5px;" text-anchor="end" >1</text>
<text x="1786.9" y="1083.5" style="font-family:'Liberation Serif',serif;font-size:20.5px;" text-anchor="end" >0</text>
<text x="1793.9" y="1136.4" style="font-family:'Liberation Serif',serif;font-size:20.5px;" text-anchor="middle" >0</text>
<text x="1879.3" y="1136.4" style="font-family:'Liberation Serif',serif;font-size:20.5px;" text-anchor="middle" >100</text>
<text x="1964.7" y="1136.4" style="font-family:'Liberation Serif',serif;font-size:20.5px;" text-anchor="middle" >200</text>
<text x="1981" y="914.5" style="font-family:'DejaVu Serif',serif;font-size:22.5px" text-anchor="end"><tspan font-style="italic">n</tspan> ≈ 0.5</text>
<line x1="1780.6" y1="151.6" x2="1964.6" y2="151.6" stroke="#000" stroke-width="1.6" stroke-dasharray="6 4"/>
<path d="M1870.7 102V209.5M1861 113L1870.7 101.5L1880.4 113M1861 198L1870.7 209.7L1880.4 198" stroke="#000" stroke-width="2.8" fill="none"/>
<text x="1874" y="104" style="font-family:'DejaVu Serif',serif;font-size:26px">2<tspan font-style="italic">σ</tspan><tspan font-size="19" dy="5">ph</tspan></text>
<text x="1981" y="159" style="font-family:'DejaVu Serif',serif;font-size:30px;font-style:italic">n</text>
<text x="1877.5" y="1173" style="font-family:'Liberation Sans',sans-serif;font-size:24.5px" text-anchor="middle">Counts</text>
</svg></body></html>
